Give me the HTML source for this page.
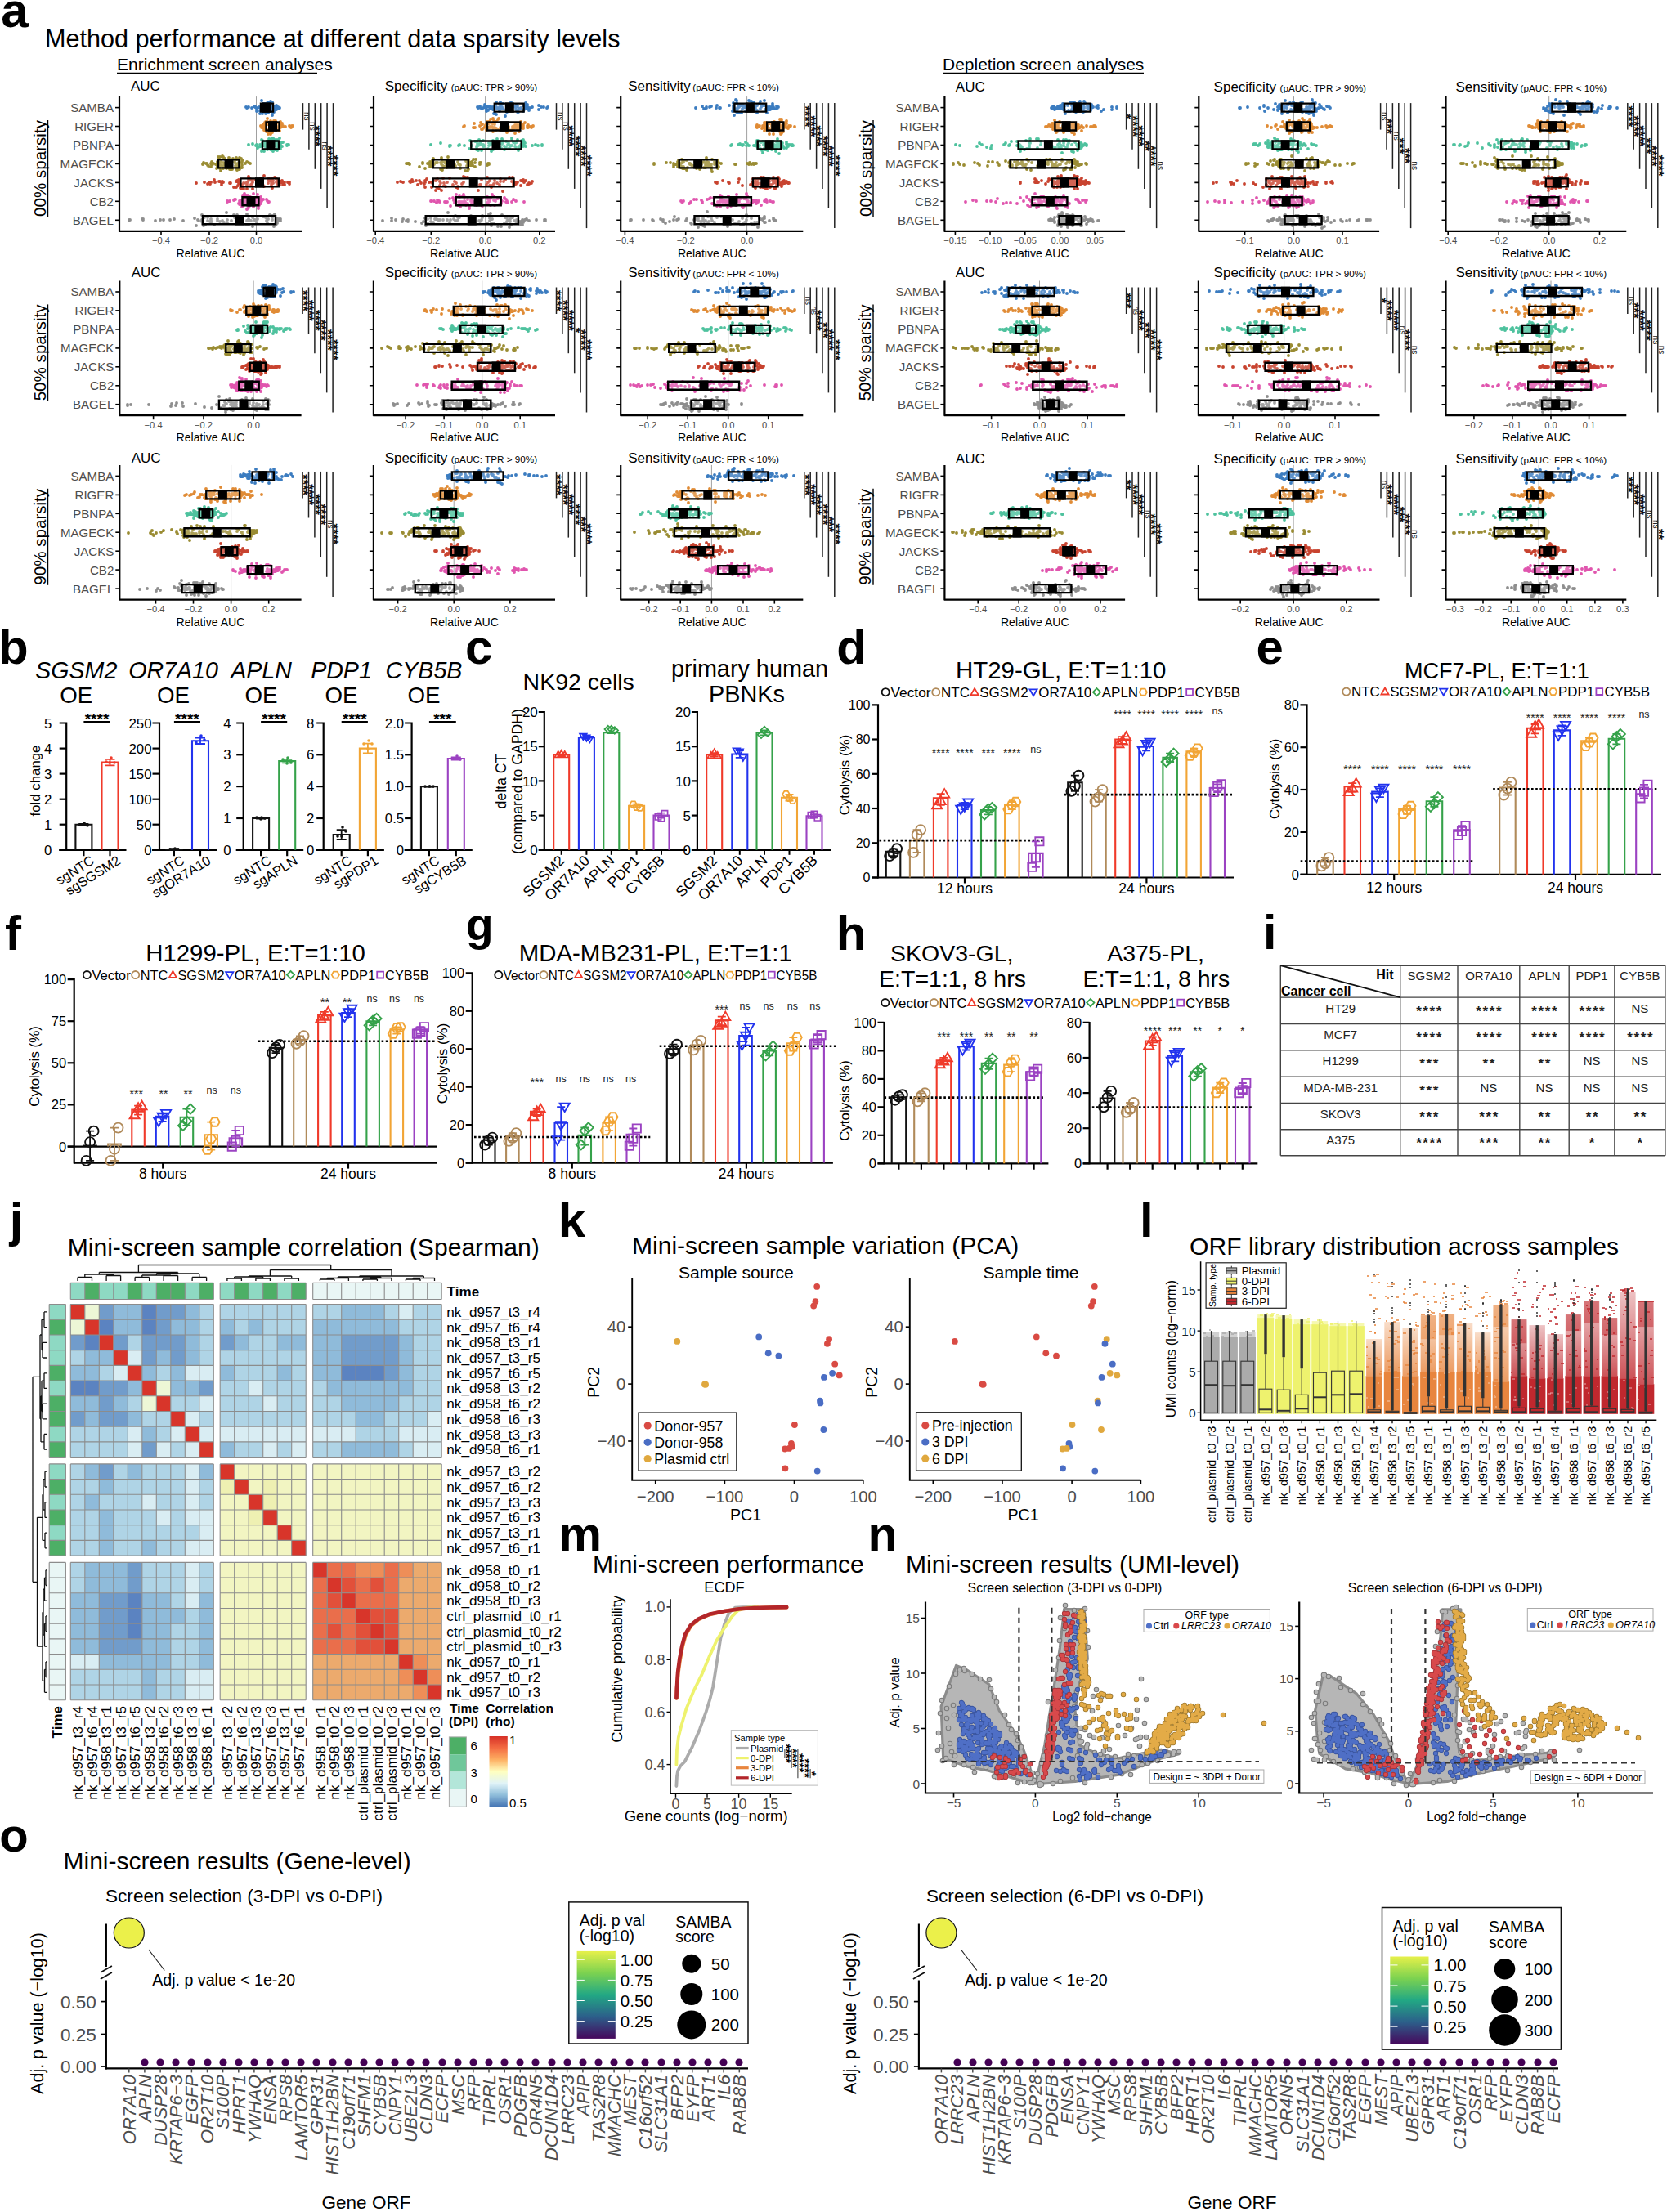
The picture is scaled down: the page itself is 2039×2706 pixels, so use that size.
<!DOCTYPE html>
<html><head><meta charset="utf-8"><style>
html,body{margin:0;padding:0;background:#fff;}
svg{display:block;font-family:'Liberation Sans', Arial, Helvetica, sans-serif;}
</style></head><body>
<svg width="2039" height="2706" viewBox="0 0 2039 2706">
<rect width="2039" height="2706" fill="#fff"/>
<text x="1.2" y="33.4" font-size="60" font-weight="bold">a</text>
<text x="55" y="57.5" font-size="30.6">Method performance at different data sparsity levels</text>
<text x="143" y="86" font-size="21">Enrichment screen analyses</text>
<path d="M143 89.5H388" stroke="#000" stroke-width="1.4"/>
<text x="1153" y="86" font-size="21">Depletion screen analyses</text>
<path d="M1153 89.5H1399" stroke="#000" stroke-width="1.4"/>
<text x="160" y="110.8" font-size="17">AUC</text>
<path d="M313.5 118.1V282.8" stroke="#A0A0A0" stroke-width="1"/>
<path d="M328 125h0m-1 1h0m-2 8h0m7-1h0m-28-2h0m26-4h0m0 3h0m-10-1h0m10 4h0m2 1h0m-18-1h0m13 3h0m-19-4h0m26-1h0m-1 10h0m-3-16h0m-5 8h0m6-7h0m3 9h0m-4 0h0m-6-4h0m2-1h0m12 3h0m-4 5h0m-12-6h0m2-1h0m1 0h0m10-1h0m-7 8h0m-3-8h0m-7 6h0m3-4h0m15-1h0m4 0h0m1 2h0m-29-2h0m11 5h0m12 1h0m-11-10h0m13 6h0m-4 4h0m-4-8h0m-15 7h0m11 3h0m9-6h0m-9 6h0m-7 0h0m6-11h0m-2 8h0m10-6h0m0-5h0m-5 2h0m9 5h0m-25-2h0m27 4h0m-6-2h0m-11 7h0m15-7h0m-19-1h0m11 6h0m5-12h0m-32 6h0m34 0h0m-11 1h0m-2-3h0m5 9h0m-3-4h0m7 1h0m3-2h0m-14-10h0m-1 10h0m-4-1h0m13-2h0m-2 0h0m-14 0h0m12 5h0m7-11h0m0 6h0m5 5h0m-14-6h0m-2 1h0m19 1h0m-17 0h0m16-2h0m-15 1h0m6-3h0m-7 0h0m10 9h0m-30-4h0m40 0h0" stroke="#3B7CC0" stroke-width="3.9" stroke-linecap="round" fill="none"/>
<path d="M337 148h0m-17 8h0m23-1h0m12 0h0m-11-2h0m-9 2h0m-8-10h0m22 10h0m-25-4h0m17 3h0m-1 2h0m-8 1h0m1-6h0m12 4h0m-10-7h0m-12 11h0m7-1h0m5-1h0m22-2h0m-33-5h0m6 3h0m-9 2h0m36-1h0m-14-1h0m-10 5h0m-9-3h0m18 5h0m7-5h0m-29 0h0m5-1h0m16-3h0m-13 1h0m-3-3h0m-1 5h0m8-3h0m14 3h0m-16-4h0m9 8h0m-8-5h0m12-4h0m-21 3h0m34 4h0m-20 2h0m18-4h0m-28 7h0m6-4h0m3-1h0m-7-4h0m29 3h0m-15-1h0m-15-3h0m-3 2h0m-4 3h0m5 1h0m1 4h0m5-3h0m-2 0h0m4 4h0m25-8h0m-15 2h0m-13-6h0m-5 8h0m16-4h0m-3-3h0m-15 7h0m10 0h0m12-7h0m-8 2h0m4 4h0m-10 7h0m0-10h0m10 6h0m-11-8h0m6 2h0m-8 10h0m-4-13h0m0 3h0m32 1h0m-34-2h0m9-5h0m-1 13h0m11-4h0m0-1h0m-9 6h0m-13-8h0m24 2h0m-14-4h0m-2-3h0m-7 6h0m38-1h0" stroke="#E08B35" stroke-width="3.9" stroke-linecap="round" fill="none"/>
<path d="M334 178h0m2 0h0m-13-3h0m-9 2h0m30-3h0m-13 2h0m-10 1h0m18-6h0m-14 3h0m-10 7h0m18 3h0m-12 0h0m-12-8h0m34-1h0m-17-2h0m-12 5h0m-1 0h0m23-2h0m-11 3h0m15-2h0m-11 0h0m-4 1h0m21-4h0m-26 11h0m23-3h0m0 0h0m-7-11h0m-14 7h0m13-1h0m-1 4h0m-12-3h0m19 1h0m1-3h0m0-1h0m-8-6h0m5 10h0m-8-7h0m6 2h0m-17 3h0m14 1h0m-9 3h0m8 3h0m-6-4h0m-4 5h0m-2-7h0m11-8h0m-13 9h0m24-3h0m-2 2h0m4 1h0m-16-7h0m22 6h0m-14 0h0m6 0h0m-9 7h0m-13-13h0m18 12h0m12-7h0m-24 1h0m-7-7h0m9-1h0m10 1h0m1 8h0m13-2h0m-21 5h0m11-6h0m-25 1h0m17-1h0m16 2h0m-14-3h0m-3-5h0m-3 13h0m-6-3h0m11-7h0m-2 4h0m-2 4h0m-6-6h0m-5 0h0m23 4h0m-6 3h0m-11 1h0m-11-3h0m21-5h0m2 0h0m-4-1h0m7-5h0m-6 14h0m-2-9h0m-30 3h0m48 0h0" stroke="#4EC29E" stroke-width="3.9" stroke-linecap="round" fill="none"/>
<path d="M291 200h0m-8-1h0m-24 3h0m31 3h0m10-5h0m-22 5h0m-3-5h0m15-5h0m-30 6h0m23 6h0m6-3h0m3-5h0m-22 3h0m-4-3h0m7 4h0m11 4h0m-16-8h0m32 1h0m-34 3h0m-2-2h0m-12-1h0m21-8h0m2 8h0m-5 9h0m22-7h0m1-9h0m-27 5h0m-1 8h0m27-1h0m12-6h0m-35 7h0m7-6h0m1 0h0m-25 0h0m44-1h0m-7-6h0m7 12h0m-29-1h0m1-4h0m-7 0h0m-9 0h0m36 3h0m-14-1h0m-19 1h0m20-9h0m15 13h0m-1-5h0m-19 0h0m11 5h0m10-6h0m-18-2h0m-14 0h0m47 1h0m-17 7h0m-7-8h0m-2-6h0m-13-1h0m2 0h0m33 6h0m-53 1h0m17 4h0m19-9h0m-6 7h0m-26-1h0m20 6h0m22-12h0m1 8h0m-1-3h0m-5 9h0m-10-9h0m13 6h0m2 0h0m1-8h0m-42 5h0m16-4h0m27-2h0m-39 8h0m29-6h0m-18 3h0m8 5h0m12-11h0m-17-4h0m-13 7h0m34 9h0m-14-8h0m9 1h0m-30 0h0m1 2h0m-11-1h0m58-1h0" stroke="#9A8C33" stroke-width="3.9" stroke-linecap="round" fill="none"/>
<path d="M323 228h0m-14 3h0m-52-7h0m34 3h0m-20-3h0m38-1h0m14-8h0m-4 3h0m23 5h0m6 0h0m-79-1h0m67-5h0m-30 2h0m6 1h0m-18 10h0m10-9h0m38 5h0m-47 0h0m-39-3h0m82-4h0m-66 3h0m71 0h0m-39-3h0m43 4h0m-85-3h0m77 3h0m-89 0h0m41-1h0m12 1h0m50 0h0m-55 8h0m34-8h0m-42-2h0m2 3h0m42 0h0m5-3h0m-35-2h0m29-1h0m-79 7h0m85-4h0m-50 1h0m65 3h0m-22 2h0m-31-3h0m3-8h0m44 10h0m-80-4h0m64 3h0m-2-4h0m-59 5h0m60-5h0m-23 0h0m24 4h0m-69-2h0m41-2h0m25-3h0m-56 5h0m-15 0h0m35-1h0m-4 7h0m18-3h0m39 0h0m-89-1h0m39 2h0m45-5h0m4 1h0m-63 1h0m56-1h0m-30 2h0m-13 5h0m-14-6h0m21 7h0m40-7h0m-14-4h0m14 2h0m-9 8h0m1-9h0m-48 8h0m36-2h0m23-6h0m-41-3h0m24 6h0m-30 0h0m41 1h0m-37 1h0m43-4h0m-53-2h0m60 3h0m-112 1h0m114-1h0" stroke="#C8432F" stroke-width="3.9" stroke-linecap="round" fill="none"/>
<path d="M295 246h0m25 0h0m-4 6h0m-13 3h0m14-12h0m-39 3h0m15 4h0m2-4h0m-7-2h0m13-5h0m2 5h0m-4-4h0m12 2h0m7 3h0m-22 8h0m5-5h0m19-4h0m-23 3h0m1 2h0m4-9h0m-3 7h0m4-2h0m-5-1h0m29 2h0m-12-1h0m4 4h0m-15 5h0m-9-9h0m7-2h0m14 5h0m-17-11h0m-4 13h0m8-1h0m15-1h0m1-7h0m-2 10h0m-16-2h0m-5-2h0m23 0h0m-19-6h0m4-1h0m-10 6h0m-1 2h0m18-1h0m4-1h0m-22 0h0m10 3h0m-1-4h0m5 3h0m15-4h0m-12-7h0m19 10h0m-24 5h0m5 1h0m6-4h0m-19-5h0m0-5h0m19 16h0m-16-12h0m-2 2h0m8-4h0m10 9h0m-2-5h0m1 4h0m-3-4h0m-10 11h0m27-9h0m-14-4h0m-29 2h0m8 3h0m5-1h0m1-4h0m18 6h0m-18-3h0m0 1h0m1-2h0m14-7h0m-34 8h0m45-2h0m-23-5h0m8 6h0m5 9h0m-18-3h0m-6-2h0m-5-5h0m-9 3h0m34 0h0m-3-5h0m-31 4h0m50 1h0" stroke="#E055AE" stroke-width="3.9" stroke-linecap="round" fill="none"/>
<path d="M302 270h0m36-1h0m-5-3h0m6 3h0m-164 0h0m131 1h0m-34 0h0m21-1h0m-46-6h0m62 3h0m27-4h0m6 8h0m-33 7h0m-119-7h0m122-1h0m-1 0h0m-33 0h0m-54 1h0m63-4h0m-38 10h0m55-1h0m-129-7h0m63-1h0m20 1h0m75-4h0m5 10h0m-55-4h0m-33-4h0m-50 3h0m96-2h0m-19-7h0m-30 11h0m39-8h0m-32 7h0m71-4h0m2 6h0m13-4h0m-93 1h0m-89 0h0m132-6h0m14 5h0m24 0h0m-169 1h0m95-3h0m3 5h0m-44-3h0m125 0h0m-60 5h0m-31-3h0m92 3h0m-65-1h0m66-2h0m-89 5h0m82-6h0m-85 3h0m-5-2h0m92 7h0m-28-7h0m-29-1h0m-104-1h0m95 3h0m69-3h0m-98 8h0m2-7h0m24 1h0m60 0h0m17 0h0m-28-2h0m-13-6h0m-94 7h0m93 6h0m-42-4h0m-11 3h0m74-9h0m-126 4h0m63 2h0m3 4h0m78-7h0m0 2h0m-36-1h0m39-1h0m-5-1h0m-26 3h0m2 2h0m16-9h0m-64 5h0m25 2h0m-33-2h0m-100 2h0m184-2h0" stroke="#8E8E8E" stroke-width="3.9" stroke-linecap="round" fill="none"/>
<path d="M319 126.6h15v10h-15zM325.5 149.5h16.1v10h-16.1zM321 172.5h20v10h-20zM267 195.4h25.4v10h-25.4zM294.4 218.4h46.4v10h-46.4zM296.5 241.3h19.9v10h-19.9zM248 264.3h89v10h-89z" stroke="#000" stroke-width="2.4" fill="#fff" fill-opacity="0.18"/>
<path d="M321 125.4h11v12.4h-11zM328 148.3h11v12.4h-11zM325.5 171.3h11v12.4h-11zM274.5 194.2h11v12.4h-11zM312 217.2h11v12.4h-11zM301.5 240.2h11v12.4h-11zM287 263.1h11v12.4h-11z" fill="#000"/>
<path d="M146 118.1V283.4M145.4 282.8H369" stroke="#000" stroke-width="2.2"/>
<path d="M141 131.6H146" stroke="#000" stroke-width="1.6"/>
<text x="139" y="137" font-size="15.1" text-anchor="end" fill="#4D4D4D">SAMBA</text>
<path d="M141 154.5H146" stroke="#000" stroke-width="1.6"/>
<text x="139" y="159.9" font-size="15.1" text-anchor="end" fill="#4D4D4D">RIGER</text>
<path d="M141 177.5H146" stroke="#000" stroke-width="1.6"/>
<text x="139" y="182.9" font-size="15.1" text-anchor="end" fill="#4D4D4D">PBNPA</text>
<path d="M141 200.4H146" stroke="#000" stroke-width="1.6"/>
<text x="139" y="205.8" font-size="15.1" text-anchor="end" fill="#4D4D4D">MAGECK</text>
<path d="M141 223.4H146" stroke="#000" stroke-width="1.6"/>
<text x="139" y="228.8" font-size="15.1" text-anchor="end" fill="#4D4D4D">JACKS</text>
<path d="M141 246.3H146" stroke="#000" stroke-width="1.6"/>
<text x="139" y="251.8" font-size="15.1" text-anchor="end" fill="#4D4D4D">CB2</text>
<path d="M141 269.3H146" stroke="#000" stroke-width="1.6"/>
<text x="139" y="274.7" font-size="15.1" text-anchor="end" fill="#4D4D4D">BAGEL</text>
<path d="M197 282.8V287.8" stroke="#000" stroke-width="1.6"/>
<text x="197" y="298.3" font-size="11.2" text-anchor="middle" fill="#4D4D4D">−0.4</text>
<path d="M256 282.8V287.8" stroke="#000" stroke-width="1.6"/>
<text x="256" y="298.3" font-size="11.2" text-anchor="middle" fill="#4D4D4D">−0.2</text>
<path d="M313.5 282.8V287.8" stroke="#000" stroke-width="1.6"/>
<text x="313.5" y="298.3" font-size="11.2" text-anchor="middle" fill="#4D4D4D">0.0</text>
<text x="257.5" y="314.8" font-size="14.1" text-anchor="middle">Relative AUC</text>
<path d="M370.5 126.1V158.6" stroke="#222" stroke-width="1.5"/>
<text x="371.7" y="142.3" font-size="10" text-anchor="middle" fill="#222" transform="rotate(90 371.7 142.3)">ns</text>
<path d="M377.9 126.1V182.7" stroke="#222" stroke-width="1.5"/>
<text x="379.1" y="154.4" font-size="10" text-anchor="middle" fill="#222" transform="rotate(90 379.1 154.4)">ns</text>
<path d="M385.3 126.1V206.8" stroke="#222" stroke-width="1.5"/>
<text x="380.1" y="166.4" font-size="16.5" text-anchor="middle" fill="#111" font-weight="bold" transform="rotate(90 380.1 166.4)">****</text>
<path d="M392.7 126.1V230.9" stroke="#222" stroke-width="1.5"/>
<text x="393.9" y="178.5" font-size="10" text-anchor="middle" fill="#222" transform="rotate(90 393.9 178.5)">ns</text>
<path d="M400.1 126.1V255" stroke="#222" stroke-width="1.5"/>
<text x="394.9" y="190.6" font-size="16.5" text-anchor="middle" fill="#111" font-weight="bold" transform="rotate(90 394.9 190.6)">****</text>
<path d="M407.5 126.1V279.1" stroke="#222" stroke-width="1.5"/>
<text x="402.3" y="202.6" font-size="16.5" text-anchor="middle" fill="#111" font-weight="bold" transform="rotate(90 402.3 202.6)">****</text>
<text x="470.7" y="110.8" font-size="17">Specificity</text>
<text x="551.7" y="110.8" font-size="11.7">(pAUC: TPR &gt; 90%)</text>
<path d="M593.6 118.1V282.8" stroke="#A0A0A0" stroke-width="1"/>
<path d="M606 130h0m8 1h0m-15 2h0m33 2h0m15-2h0m-39-1h0m34 0h0m-36-1h0m28 6h0m-30-3h0m38-3h0m-39 3h0m34-2h0m-42 4h0m6-4h0m1-1h0m49 0h0m-11 4h0m-15-5h0m-14 4h0m31-4h0m-31-3h0m26 6h0m-50-3h0m38-5h0m15 11h0m5-8h0m-40 2h0m43 2h0m-5-6h0m-37 2h0m5 8h0m-21-3h0m42-5h0m1 2h0m-26 10h0m38-10h0m-40 1h0m6-3h0m33 4h0m-40 7h0m11-12h0m-8-2h0m28 8h0m-23 0h0m3 0h0m-10 5h0m14-4h0m-8-3h0m1-3h0m8 9h0m-35-5h0m24 1h0m13-1h0m-26-2h0m46-1h0m-47 4h0m12-1h0m-8-2h0m44 1h0m-25 11h0m-21-7h0m46-2h0m-51-2h0m67-2h0m0 5h0m-26 3h0m8-3h0m3-1h0m-31-2h0m34 4h0m15-4h0m-16 2h0m-48-3h0m-3 1h0m36 2h0m-1-2h0m-37-3h0m37 2h0m35 1h0m5 0h0m-58-6h0m-5 6h0m33-2h0m2 4h0m-48-1h0m43 0h0m-49 0h0m-4-1h0m85 1h0" stroke="#3B7CC0" stroke-width="3.9" stroke-linecap="round" fill="none"/>
<path d="M646 153h0m-9-4h0m-22 10h0m-16-4h0m48 0h0m-2-1h0m-11 0h0m-37 2h0m18-4h0m-24 5h0m14-5h0m-9-3h0m39 8h0m-36-1h0m-9 2h0m12-3h0m38 2h0m-21 2h0m-21-8h0m47 5h0m-5-3h0m-18 2h0m16-1h0m-9 3h0m-26 4h0m-22-5h0m65 0h0m-67 0h0m40 2h0m-9 0h0m-30-7h0m37 0h0m10 4h0m-34 0h0m10 2h0m39-7h0m-38-2h0m36 7h0m-5 6h0m-40-7h0m37 0h0m-26-5h0m-1 7h0m25 7h0m16-8h0m-29 3h0m-10-1h0m8-5h0m-21 1h0m-27 2h0m31-6h0m12-4h0m42 9h0m-18 0h0m-31-9h0m-8 14h0m30 1h0m-14-1h0m-9-8h0m29 3h0m-44 0h0m-6 2h0m55-5h0m-47 7h0m11-12h0m-5 5h0m37 6h0m-20-1h0m26 0h0m-18 6h0m15-3h0m-5-6h0m-21-7h0m26 8h0m-47-4h0m19 9h0m-17-7h0m41 3h0m-11 1h0m7 2h0m23-2h0m-18-3h0m-36 3h0m11-7h0m43 6h0m-11-2h0m-16 6h0m26-4h0m-81-1h0m82 1h0" stroke="#E08B35" stroke-width="3.9" stroke-linecap="round" fill="none"/>
<path d="M585 178h0m41 0h0m10 2h0m-17-7h0m21 4h0m15 0h0m-72-4h0m68 5h0m-48-6h0m-2 13h0m-20-12h0m2 6h0m-44-4h0m96 4h0m-20-7h0m-31 4h0m-33 2h0m57-8h0m-25 10h0m5-7h0m34 2h0m-30 4h0m-42 0h0m41-2h0m10-2h0m0 1h0m38-2h0m-4 5h0m6-6h0m-38 10h0m-41-6h0m12 5h0m34-4h0m24-4h0m-47 10h0m58-5h0m-15-5h0m-37-2h0m-14 6h0m-16 0h0m77-6h0m-63 0h0m17 6h0m22-8h0m10 9h0m-11-4h0m15-1h0m-42 2h0m77 1h0m-53 0h0m9 5h0m16-2h0m-18-1h0m23-8h0m-25 4h0m11-5h0m-2 8h0m6 1h0m11-3h0m-18 5h0m-73-3h0m48-3h0m-7 4h0m30-2h0m-13-3h0m50 4h0m-18 1h0m-6 5h0m-36-6h0m5-6h0m-6 10h0m16-1h0m-25-5h0m16 0h0m-21 7h0m6 1h0m25-8h0m19-5h0m-2 9h0m-1-5h0m-18 0h0m14-6h0m-7 11h0m-51-2h0m49 5h0m25-8h0m-56-4h0m51 6h0m-110 0h0m136 1h0" stroke="#4EC29E" stroke-width="3.9" stroke-linecap="round" fill="none"/>
<path d="M561 201h0m-12-1h0m-25 0h0m-4 6h0m28-4h0m25-6h0m-30 9h0m5-13h0m12 6h0m-3 5h0m-24-4h0m-4-3h0m52 8h0m-18-2h0m-34 2h0m15 0h0m-17-2h0m36 4h0m6 3h0m2-11h0m-30-1h0m-28 7h0m59 5h0m4-7h0m-59-3h0m54 4h0m16-2h0m-6-2h0m-5 1h0m-34 3h0m12-7h0m16 1h0m-69 4h0m73 1h0m-35 5h0m2 1h0m-11-6h0m-2-1h0m-2 3h0m46-4h0m3-1h0m-58 1h0m56 2h0m-1 3h0m-42-11h0m67 6h0m-41 4h0m-12-5h0m4-1h0m-23 3h0m5 1h0m58-3h0m-89 1h0m71-4h0m-41 7h0m17-1h0m-1-5h0m0 2h0m-15-3h0m16 9h0m-5-7h0m15 3h0m22 1h0m-38-1h0m35-2h0m12 0h0m-47-6h0m-16 7h0m7 1h0m8-2h0m-16 1h0m54-2h0m-42 1h0m-9-1h0m70 4h0m-96-2h0m79-5h0m19 5h0m-46 1h0m5 3h0m-28-5h0m44 3h0m-27-1h0m-11-2h0m28 3h0m10 5h0m-27-6h0m36-6h0m-85 5h0m101 1h0" stroke="#9A8C33" stroke-width="3.9" stroke-linecap="round" fill="none"/>
<path d="M540 233h0m93-10h0m12 3h0m-144-4h0m34-3h0m92-2h0m-1 5h0m-88 0h0m-35 0h0m12 2h0m5 5h0m-9-3h0m23 3h0m5-5h0m104-3h0m-47-4h0m27 0h0m-5 3h0m-29 0h0m-31 9h0m-68-7h0m138 3h0m-100 4h0m103-6h0m0 2h0m-64-2h0m35 4h0m-69 6h0m79-11h0m-36-2h0m35 6h0m26 1h0m-92 1h0m-16-4h0m59 2h0m53-3h0m-36-2h0m-1 4h0m-39 0h0m-72-2h0m11-3h0m-2 3h0m113 11h0m-72-7h0m-10-6h0m79-2h0m-65 4h0m7 3h0m-26-3h0m10 4h0m70-3h0m-36-7h0m27 10h0m-39 3h0m7-14h0m-58 5h0m78 5h0m-44-2h0m-18-1h0m91-1h0m-97 3h0m66 8h0m-35-15h0m-13 13h0m32-14h0m82 5h0m-129-3h0m-17 3h0m25-1h0m110-1h0m-120 3h0m81 6h0m46-5h0m-9-3h0m-80 3h0m39-1h0m-84-2h0m124 0h0m-81 1h0m-54 0h0m58 6h0m35-2h0m-53-8h0m86 9h0m-106-8h0m-2 2h0m127 4h0m-48-4h0m-113 2h0m164 1h0" stroke="#C8432F" stroke-width="3.9" stroke-linecap="round" fill="none"/>
<path d="M534 248h0m28-9h0m37 7h0m-27-2h0m34 2h0m11-4h0m-73 5h0m53 1h0m-20-3h0m-50 1h0m40-8h0m-30 8h0m35 3h0m47-2h0m-57 2h0m15-5h0m23-1h0m-43 3h0m3 5h0m44-6h0m-48 3h0m41-4h0m-47-1h0m0 0h0m11 4h0m52 2h0m-36 0h0m-12-2h0m31-6h0m-17 8h0m30-6h0m22 3h0m-3-2h0m-16 5h0m-77-3h0m0 1h0m-4-1h0m51 1h0m-8 8h0m47-7h0m10-2h0m-5 1h0m-89-1h0m1 1h0m16-5h0m48-4h0m17 6h0m1 2h0m-73 1h0m-12-2h0m34 2h0m16-5h0m19-2h0m7 10h0m-5-5h0m-38-4h0m11 6h0m-11-1h0m-10-8h0m10 11h0m-23-2h0m43 1h0m-25 5h0m13-8h0m0 1h0m38 0h0m-24 6h0m-3-7h0m-13 8h0m26-2h0m-1-6h0m1-2h0m-49 9h0m54-1h0m-9-3h0m32-4h0m-62-4h0m-4 7h0m1 0h0m-8-2h0m35-3h0m-20 9h0m50-3h0m-37 1h0m-21-8h0m50 1h0m-29 9h0m-20-2h0m-35-3h0m113 1h0" stroke="#E055AE" stroke-width="3.9" stroke-linecap="round" fill="none"/>
<path d="M551 269h0m9-3h0m29 3h0m-62 2h0m-30-1h0m123 1h0m-58-5h0m36-4h0m-38 7h0m-52 2h0m159-1h0m-30 5h0m-2-4h0m-97-2h0m-2 0h0m-20 4h0m88 0h0m10-10h0m53 6h0m-44 9h0m-139-9h0m141 6h0m-35-9h0m0-2h0m-63 3h0m21-7h0m29 7h0m9 3h0m13-3h0m-120 0h0m168 3h0m-90-6h0m67 7h0m16 1h0m-39 4h0m55-7h0m-138 2h0m102-4h0m-19 9h0m36-5h0m-90-2h0m-68 1h0m76-2h0m46 5h0m-25-9h0m90 6h0m-90-4h0m-34 3h0m80 1h0m7 0h0m10 5h0m-140-6h0m141 1h0m-9 1h0m-18 6h0m4-4h0m-17-12h0m18 5h0m3 4h0m12 3h0m-83-1h0m74-7h0m-101 8h0m0-5h0m76 2h0m37 4h0m-4-5h0m4 4h0m-9-7h0m-135 5h0m65-1h0m81 2h0m-14-4h0m-94 4h0m72-4h0m-109 0h0m149 1h0m-46 4h0m-62-5h0m-2 0h0m112 0h0m-145 3h0m88 0h0m-67-4h0m-2 4h0m121-2h0m-30 8h0m-88-1h0m-53-6h0m198-1h0" stroke="#8E8E8E" stroke-width="3.9" stroke-linecap="round" fill="none"/>
<path d="M604.8 126.6h35.8v10h-35.8zM596 149.5h40.4v10h-40.4zM576.3 172.5h61.4v10h-61.4zM529.7 195.4h43.1v10h-43.1zM529.7 218.4h98.8v10h-98.8zM557.7 241.3h55v10h-55zM520.7 264.3h113.2v10h-113.2z" stroke="#000" stroke-width="2.4" fill="#fff" fill-opacity="0.18"/>
<path d="M617.8 125.4h11v12.4h-11zM611.1 148.3h11v12.4h-11zM601.5 171.3h11v12.4h-11zM545.8 194.2h11v12.4h-11zM573.7 217.2h11v12.4h-11zM579.5 240.2h11v12.4h-11zM571.8 263.1h11v12.4h-11z" fill="#000"/>
<path d="M457 118.1V283.4M456.4 282.8H679" stroke="#000" stroke-width="2.2"/>
<path d="M452 131.6H457M452 154.5H457M452 177.5H457M452 200.4H457M452 223.4H457M452 246.3H457M452 269.3H457M459.2 282.8V287.8" stroke="#000" stroke-width="1.6"/>
<text x="459.2" y="298.3" font-size="11.2" text-anchor="middle" fill="#4D4D4D">−0.4</text>
<path d="M527.3 282.8V287.8" stroke="#000" stroke-width="1.6"/>
<text x="527.3" y="298.3" font-size="11.2" text-anchor="middle" fill="#4D4D4D">−0.2</text>
<path d="M593.6 282.8V287.8" stroke="#000" stroke-width="1.6"/>
<text x="593.6" y="298.3" font-size="11.2" text-anchor="middle" fill="#4D4D4D">0.0</text>
<path d="M659.8 282.8V287.8" stroke="#000" stroke-width="1.6"/>
<text x="659.8" y="298.3" font-size="11.2" text-anchor="middle" fill="#4D4D4D">0.2</text>
<text x="568" y="314.8" font-size="14.1" text-anchor="middle">Relative AUC</text>
<path d="M680.5 126.1V158.6" stroke="#222" stroke-width="1.5"/>
<text x="681.7" y="142.3" font-size="10" text-anchor="middle" fill="#222" transform="rotate(90 681.7 142.3)">ns</text>
<path d="M687.9 126.1V182.7" stroke="#222" stroke-width="1.5"/>
<text x="689.1" y="154.4" font-size="10" text-anchor="middle" fill="#222" transform="rotate(90 689.1 154.4)">ns</text>
<path d="M695.3 126.1V206.8" stroke="#222" stroke-width="1.5"/>
<text x="690.1" y="166.4" font-size="16.5" text-anchor="middle" fill="#111" font-weight="bold" transform="rotate(90 690.1 166.4)">****</text>
<path d="M702.7 126.1V230.9" stroke="#222" stroke-width="1.5"/>
<text x="697.5" y="178.5" font-size="16.5" text-anchor="middle" fill="#111" font-weight="bold" transform="rotate(90 697.5 178.5)">****</text>
<path d="M710.1 126.1V255" stroke="#222" stroke-width="1.5"/>
<text x="704.9" y="190.6" font-size="16.5" text-anchor="middle" fill="#111" font-weight="bold" transform="rotate(90 704.9 190.6)">****</text>
<path d="M717.5 126.1V279.1" stroke="#222" stroke-width="1.5"/>
<text x="712.3" y="202.6" font-size="16.5" text-anchor="middle" fill="#111" font-weight="bold" transform="rotate(90 712.3 202.6)">****</text>
<text x="768.2" y="110.8" font-size="17">Sensitivity</text>
<text x="847.3" y="110.8" font-size="11.7">(pAUC: FPR &lt; 10%)</text>
<path d="M913.6 118.1V282.8" stroke="#A0A0A0" stroke-width="1"/>
<path d="M861 133h0m7-2h0m67-8h0m-27 10h0m33-2h0m-37 7h0m3 0h0m0-9h0m31 2h0m-12 4h0m-45-3h0m51-3h0m-35 3h0m19-9h0m-6 7h0m-10 4h0m46-3h0m-8 1h0m-29 0h0m27 2h0m-34 0h0m47-1h0m-90-3h0m42-4h0m0-3h0m5 5h0m36 6h0m-12-1h0m-21-4h0m13-4h0m-8 7h0m26 2h0m-16-2h0m-15-2h0m-9-8h0m12 9h0m12 0h0m10-3h0m8 3h0m-4 7h0m-36-6h0m27-5h0m-31 5h0m16 0h0m-38 0h0m25 4h0m-3 5h0m32-17h0m15 4h0m-11 1h0m-33 8h0m-37-6h0m42 7h0m32-4h0m7-7h0m-14 4h0m-34-5h0m-1 10h0m17-4h0m6-8h0m19 10h0m-16-1h0m-30-4h0m59 3h0m-54-2h0m10 7h0m40-4h0m-67-1h0m46 6h0m-14-2h0m31-4h0m1 0h0m-30-1h0m-5 0h0m-12 2h0m7-2h0m36 0h0m-4-2h0m6 2h0m8-1h0m-8 1h0m-78 1h0m81-3h0m-21 4h0m2-4h0m-56 1h0m7-1h0m26 0h0m-52 3h0m101-1h0" stroke="#3B7CC0" stroke-width="3.9" stroke-linecap="round" fill="none"/>
<path d="M956 155h0m-4-4h0m-14 2h0m6 5h0m10 2h0m-29-5h0m20 4h0m-12-5h0m23-8h0m-9 3h0m-3 4h0m13 5h0m-20-6h0m21 2h0m4-6h0m-23 8h0m-2-6h0m30 4h0m-30 2h0m17-3h0m2-5h0m-10 7h0m11-1h0m-22-3h0m1 8h0m21-5h0m-20-2h0m17 3h0m-19 5h0m29-3h0m-19 2h0m-3-1h0m19-8h0m-26 0h0m4 2h0m23 4h0m3-2h0m-4-1h0m-33 2h0m26-9h0m-3 11h0m8-5h0m-26 3h0m25-2h0m1 3h0m-30-2h0m3 3h0m-5-2h0m8 2h0m24-5h0m-18-1h0m18 4h0m-18 9h0m18-12h0m-5 9h0m-9-7h0m8 1h0m4 2h0m-13-3h0m14 7h0m-12-2h0m3-7h0m-10 7h0m12-3h0m4 8h0m-1-9h0m-5-4h0m7 12h0m-17-10h0m14-3h0m-27 3h0m20 11h0m12-3h0m-3-3h0m-22-2h0m0-1h0m3-1h0m13 2h0m9 1h0m-1-3h0m-5 4h0m-12-7h0m-5 3h0m5 3h0m1 0h0m21-6h0m-28 5h0m12 0h0m-20 0h0m46-1h0" stroke="#E08B35" stroke-width="3.9" stroke-linecap="round" fill="none"/>
<path d="M946 180h0m13 1h0m-2-6h0m-22 6h0m21-4h0m-14 2h0m-47-2h0m51-4h0m9 0h0m-27 8h0m5 6h0m31-10h0m-1 0h0m-7-1h0m0 2h0m-12 5h0m-18-11h0m32 7h0m-17-3h0m29 2h0m-64-1h0m20 0h0m-18 1h0m41 3h0m6-3h0m-16-2h0m14 2h0m9-2h0m-26 7h0m-14-5h0m10 6h0m19-7h0m6-2h0m-31 2h0m8-4h0m1 3h0m19 1h0m-27-5h0m-11 6h0m35 2h0m-12 4h0m-34-8h0m50 5h0m-42-3h0m30-3h0m9 3h0m-38-2h0m25 8h0m7-6h0m5-8h0m0 4h0m-2 11h0m15-6h0m-7-1h0m-29 2h0m25 8h0m-44-11h0m25 0h0m4-3h0m10 4h0m-6 4h0m5-5h0m-9-1h0m-12 3h0m40-2h0m-4-3h0m-32 8h0m-3-8h0m-4 4h0m31 1h0m-51-2h0m33 0h0m19 3h0m-22-7h0m29 8h0m-20-6h0m8 2h0m3-3h0m16 3h0m-23 3h0m10-3h0m-6-3h0m-38 0h0m15 7h0m12-6h0m-10 3h0m2-4h0m-6 1h0m-31 3h0m74 0h0" stroke="#4EC29E" stroke-width="3.9" stroke-linecap="round" fill="none"/>
<path d="M879 204h0m-1-7h0m-8 4h0m-40-5h0m44 5h0m-4 3h0m-9-6h0m13 0h0m-13 7h0m8-4h0m-25 0h0m19 4h0m-18-4h0m-11-2h0m88 1h0m-67 2h0m-19-4h0m43 1h0m-9 8h0m-50-8h0m10 1h0m10 8h0m15-6h0m-3 4h0m6-5h0m58 0h0m-49-2h0m11-3h0m39 3h0m-73 1h0m75 1h0m2-1h0m-121 1h0m64 2h0m2-4h0m-29-3h0m-3-1h0m44 8h0m-7-8h0m-8 6h0m-39-1h0m32 7h0m-23-2h0m2 0h0m47-5h0m-7 0h0m-51 2h0m22 0h0m78-2h0m-81 0h0m-17 1h0m52 5h0m-12-5h0m-36 3h0m-1 0h0m1-3h0m5 5h0m87-5h0m-22 0h0m-37 2h0m-34-3h0m-5 4h0m17 1h0m-1-9h0m-11 6h0m-14-3h0m20 0h0m27 0h0m2-6h0m-33 7h0m31-1h0m5 5h0m-17-6h0m-14 6h0m12-1h0m26-4h0m-45-1h0m8 8h0m28-8h0m6 12h0m43-10h0m-15 1h0m-40-2h0m58 1h0m-84 3h0m18-2h0m-4 2h0m5 0h0m-52-3h0m125 0h0" stroke="#9A8C33" stroke-width="3.9" stroke-linecap="round" fill="none"/>
<path d="M903 223h0m48-1h0m1 0h0m-21 3h0m4-7h0m17 5h0m-68-2h0m47-4h0m-7 9h0m30-1h0m6-1h0m4-1h0m-3 0h0m-4 1h0m-30 1h0m-9 1h0m29 4h0m-20-6h0m33 0h0m-22 7h0m11-8h0m-6 3h0m-21-3h0m2 3h0m-4-2h0m14-7h0m1 6h0m-14-4h0m25-2h0m3 13h0m-9-5h0m-10 4h0m24-5h0m-8-7h0m-4 12h0m-65-6h0m14 0h0m43-2h0m18-4h0m5 5h0m-17-2h0m-18 8h0m19-6h0m-9 2h0m14-3h0m-23 2h0m7-5h0m21 2h0m1-2h0m-28 12h0m26-10h0m3 5h0m3 3h0m1-3h0m-12-4h0m14 3h0m-35-2h0m3-3h0m23 8h0m-42 0h0m12-4h0m-43 1h0m27-5h0m55 4h0m-10-3h0m-14 3h0m-43 1h0m60-3h0m-32 2h0m39-2h0m3 1h0m-3-1h0m-34 2h0m-4-1h0m29-3h0m15 5h0m-24-5h0m-17 0h0m9 10h0m17-4h0m-30 1h0m33-7h0m-5 1h0m3 6h0m0-2h0m-2-4h0m-13 10h0m10-6h0m-71-1h0m89 1h0" stroke="#C8432F" stroke-width="3.9" stroke-linecap="round" fill="none"/>
<path d="M938 247h0m-51-1h0m38 3h0m-12-5h0m-42 5h0m38 5h0m-44-10h0m26-4h0m13 6h0m38 0h0m-108 1h0m54 3h0m12 1h0m-31-9h0m21 12h0m-17-12h0m-28 5h0m50 2h0m-27-6h0m-19 1h0m66 4h0m-2-11h0m-54 11h0m79-2h0m-53-1h0m30 1h0m-5 4h0m9-2h0m-38 5h0m56-9h0m-56-5h0m42 7h0m-3 1h0m-38-2h0m-23 2h0m65-2h0m-16 8h0m-56-9h0m49-2h0m-19-2h0m11 4h0m-2 3h0m-33-2h0m65 1h0m-42-1h0m29 7h0m-32-5h0m13 0h0m-56 0h0m92 0h0m11-1h0m-26-4h0m-69 7h0m42-4h0m18-1h0m15 5h0m-37-2h0m6 0h0m-52 0h0m68-1h0m32 0h0m-41 6h0m-10-5h0m29-9h0m-30 3h0m23 2h0m22 3h0m-39 0h0m37 0h0m-5 1h0m-11-4h0m-74 3h0m39 4h0m45-4h0m-16 1h0m-4 3h0m22-5h0m-10 5h0m2-10h0m-37 12h0m54-1h0m-30-13h0m44 9h0m-55 3h0m-9-8h0m34 4h0m-8 4h0m-35-1h0m-39-3h0m113 1h0" stroke="#E055AE" stroke-width="3.9" stroke-linecap="round" fill="none"/>
<path d="M799 270h0m41-2h0m34 4h0m-87-3h0m127-4h0m-22 6h0m44 1h0m10-4h0m-19 10h0m-14-15h0m-55 8h0m61-4h0m-65 0h0m-82 2h0m115 1h0m48-3h0m-75 2h0m59 4h0m-59 2h0m-7-6h0m-25 0h0m91-4h0m-80 5h0m91-2h0m-26 3h0m-22-6h0m38 10h0m-106-2h0m85 0h0m-38 1h0m29 3h0m16-2h0m-57-6h0m86 3h0m-12 2h0m24-5h0m-82-10h0m-14 8h0m84-2h0m-116 6h0m93 1h0m-104-4h0m125 0h0m-41 3h0m57-1h0m-103 4h0m-22-5h0m87 3h0m-113-3h0m59 2h0m-46 0h0m115 1h0m-155-3h0m59-1h0m24 10h0m7-4h0m5-9h0m-55 4h0m52 1h0m-6 4h0m35-4h0m54-3h0m-37 8h0m-48-4h0m-7-2h0m49 4h0m5-6h0m-16 4h0m-32 5h0m9-11h0m72 5h0m-81-3h0m49 7h0m-39-7h0m-3 4h0m-1 1h0m11-6h0m56 3h0m-83-1h0m-25-3h0m98 7h0m-61 5h0m9-7h0m25-1h0m33-2h0m-19 6h0m3-4h0m-68 4h0m-74-3h0m176 0h0" stroke="#8E8E8E" stroke-width="3.9" stroke-linecap="round" fill="none"/>
<path d="M898.4 126.6h38.7v10h-38.7zM938.2 149.5h20.1v10h-20.1zM926.7 172.5h28.7v10h-28.7zM830.7 195.4h46v10h-46zM920.9 218.4h30.6v10h-30.6zM873.3 241.3h45.6v10h-45.6zM849.5 264.3h79v10h-79z" stroke="#000" stroke-width="2.4" fill="#fff" fill-opacity="0.18"/>
<path d="M911.9 125.4h11v12.4h-11zM943.2 148.3h11v12.4h-11zM935.5 171.3h11v12.4h-11zM848.2 194.2h11v12.4h-11zM930.3 217.2h11v12.4h-11zM891.4 240.2h11v12.4h-11zM883.7 263.1h11v12.4h-11z" fill="#000"/>
<path d="M759.2 118.1V283.4M758.6 282.8H982.3" stroke="#000" stroke-width="2.2"/>
<path d="M754.2 131.6H759.2M754.2 154.5H759.2M754.2 177.5H759.2M754.2 200.4H759.2M754.2 223.4H759.2M754.2 246.3H759.2M754.2 269.3H759.2M764.4 282.8V287.8" stroke="#000" stroke-width="1.6"/>
<text x="764.4" y="298.3" font-size="11.2" text-anchor="middle" fill="#4D4D4D">−0.4</text>
<path d="M838.7 282.8V287.8" stroke="#000" stroke-width="1.6"/>
<text x="838.7" y="298.3" font-size="11.2" text-anchor="middle" fill="#4D4D4D">−0.2</text>
<path d="M913.6 282.8V287.8" stroke="#000" stroke-width="1.6"/>
<text x="913.6" y="298.3" font-size="11.2" text-anchor="middle" fill="#4D4D4D">0.0</text>
<text x="870.8" y="314.8" font-size="14.1" text-anchor="middle">Relative AUC</text>
<path d="M983.8 126.1V158.6" stroke="#222" stroke-width="1.5"/>
<text x="978.6" y="142.3" font-size="16.5" text-anchor="middle" fill="#111" font-weight="bold" transform="rotate(90 978.6 142.3)">****</text>
<path d="M991.2 126.1V182.7" stroke="#222" stroke-width="1.5"/>
<text x="986" y="154.4" font-size="16.5" text-anchor="middle" fill="#111" font-weight="bold" transform="rotate(90 986 154.4)">****</text>
<path d="M998.6 126.1V206.8" stroke="#222" stroke-width="1.5"/>
<text x="993.4" y="166.4" font-size="16.5" text-anchor="middle" fill="#111" font-weight="bold" transform="rotate(90 993.4 166.4)">****</text>
<path d="M1006 126.1V230.9" stroke="#222" stroke-width="1.5"/>
<text x="1000.8" y="178.5" font-size="16.5" text-anchor="middle" fill="#111" font-weight="bold" transform="rotate(90 1000.8 178.5)">****</text>
<path d="M1013.4 126.1V255" stroke="#222" stroke-width="1.5"/>
<text x="1008.2" y="190.6" font-size="16.5" text-anchor="middle" fill="#111" font-weight="bold" transform="rotate(90 1008.2 190.6)">****</text>
<path d="M1020.8 126.1V279.1" stroke="#222" stroke-width="1.5"/>
<text x="1015.6" y="202.6" font-size="16.5" text-anchor="middle" fill="#111" font-weight="bold" transform="rotate(90 1015.6 202.6)">****</text>
<text x="1168.8" y="112" font-size="17">AUC</text>
<path d="M1296.5 118.1V282.8" stroke="#A0A0A0" stroke-width="1"/>
<path d="M1302 130h0m11-1h0m-4-4h0m6 2h0m-6 9h0m11-11h0m-31 5h0m71 1h0m-61-2h0m3 0h0m-1 2h0m-14 1h0m4 0h0m-5 0h0m7 1h0m37-3h0m-23 6h0m36-7h0m-10 2h0m17 3h0m-47 5h0m19-11h0m5 8h0m20 0h0m-12-8h0m-29 1h0m37 3h0m-8 0h0m-29 4h0m28-1h0m-44-1h0m35-3h0m-11-6h0m-12 9h0m28-2h0m3-3h0m-36 3h0m23-1h0m-4 6h0m-5-8h0m49 5h0m-39-10h0m-2 6h0m-4-1h0m22 2h0m-12 2h0m-29-1h0m28 2h0m8-1h0m-39 0h0m-6-1h0m54-1h0m-53 0h0m26-6h0m12 7h0m-15-7h0m-4 10h0m59-4h0m-67 1h0m34 1h0m-7-2h0m-25 3h0m-1-7h0m16 0h0m-18 4h0m27-3h0m10 2h0m-9 1h0m-38-1h0m38 6h0m-4-3h0m3 0h0m0 4h0m-31-7h0m19 5h0m-12-1h0m-4-5h0m-8 4h0m9-1h0m-3-2h0m16 4h0m-10-5h0m26-3h0m-15 5h0m-11-1h0m25-6h0m-28 9h0m27-3h0m-38 2h0m79 0h0" stroke="#3B7CC0" stroke-width="3.9" stroke-linecap="round" fill="none"/>
<path d="M1286 153h0m7 2h0m-14 0h0m37 4h0m-9-2h0m7-6h0m21 4h0m-6-1h0m-13 2h0m-29-4h0m26 2h0m-22 0h0m13-4h0m-9 7h0m-7-5h0m17-1h0m12 5h0m-23 3h0m2-10h0m21 4h0m-5 2h0m-19 1h0m-14-1h0m14 3h0m-3-4h0m1 3h0m3-3h0m35 0h0m-23 1h0m28 0h0m-20 1h0m-24-9h0m50 8h0m-44 2h0m-8-1h0m-1-2h0m51 0h0m-24 10h0m-27-12h0m2 3h0m-2-4h0m24 1h0m-26 3h0m26 1h0m-18-5h0m12 4h0m-16 0h0m50 0h0m-28-1h0m14 2h0m-14 6h0m-5-4h0m-23-5h0m-2 2h0m31-2h0m-18 6h0m0-3h0m-1 5h0m26-4h0m-5-1h0m9 4h0m-23-6h0m-7 2h0m-7-2h0m2 4h0m13 4h0m18-9h0m2 3h0m-24 1h0m26-3h0m-30 1h0m14-1h0m-19-3h0m-8 4h0m17-5h0m19 7h0m-25-3h0m4-3h0m20 3h0m-16 4h0m9 1h0m-8-4h0m-5-5h0m17 7h0m-20 5h0m23-8h0m-1 6h0m-25-6h0m-9 1h0m59-1h0" stroke="#E08B35" stroke-width="3.9" stroke-linecap="round" fill="none"/>
<path d="M1253 183h0m52-11h0m-14 8h0m-47-2h0m57-4h0m-5 1h0m15 2h0m-13 1h0m17-4h0m-65 6h0m-38 1h0m-38-3h0m147-2h0m-74 1h0m1 8h0m20-15h0m54 11h0m-4-2h0m-45-6h0m21 4h0m-35 1h0m49-6h0m21 6h0m-28-3h0m5 2h0m-58 1h0m-36 4h0m86-1h0m-97-4h0m58-2h0m42 3h0m5 0h0m-33-5h0m28-2h0m-45 11h0m3-2h0m26-6h0m-57 3h0m94-2h0m-26 5h0m21-3h0m-23-6h0m-59 6h0m88-1h0m-5 3h0m-14 1h0m0 2h0m-31-5h0m31-6h0m-67 2h0m-24 5h0m92 2h0m-15 1h0m6 0h0m-52-8h0m-9 4h0m83 0h0m0 7h0m-84-6h0m53 1h0m-38 0h0m80-2h0m-30 10h0m-92-7h0m115-4h0m-52-6h0m53 10h0m-63-5h0m-5-3h0m72 4h0m-6 1h0m-26 3h0m-35-10h0m-65 9h0m126 3h0m0-4h0m-91-3h0m-32 0h0m115 11h0m-6-11h0m22 3h0m-18 7h0m-42-4h0m10 0h0m46-3h0m4 0h0m-7 0h0m-74 2h0m-79-3h0m159 0h0" stroke="#4EC29E" stroke-width="3.9" stroke-linecap="round" fill="none"/>
<path d="M1316 200h0m-71-4h0m-10 2h0m-15 1h0m27 1h0m44 4h0m-22-1h0m43-4h0m-90 3h0m27-2h0m48 1h0m-131-1h0m79-1h0m61-2h0m-24 4h0m32-6h0m-69 6h0m63-2h0m-112 1h0m66-1h0m-54 4h0m103 1h0m1-5h0m-1 8h0m-73-5h0m16 1h0m33-2h0m-51-3h0m80 3h0m-24-2h0m-58 0h0m65-2h0m-50 3h0m-40-2h0m92 10h0m-51-11h0m-58 2h0m52-1h0m36-3h0m-108 4h0m127-4h0m23 6h0m-71 1h0m10 6h0m58-7h0m-33-3h0m2 5h0m-45-1h0m-69-1h0m136-4h0m-23 3h0m27 0h0m-27 3h0m9-2h0m-66-4h0m85 8h0m-77-2h0m80-5h0m11 3h0m-25 4h0m-63-7h0m-6 5h0m21 4h0m57-8h0m-55-2h0m21 3h0m-28 0h0m0 0h0m31-2h0m-32 1h0m-52 3h0m92-1h0m-76-3h0m101-1h0m5 5h0m2-1h0m-19 6h0m-19-12h0m9 8h0m16 4h0m14-6h0m-19-1h0m3-3h0m-64 8h0m12-4h0m1-6h0m-77 7h0m139 0h0m-152-1h0m162-1h0" stroke="#9A8C33" stroke-width="3.9" stroke-linecap="round" fill="none"/>
<path d="M1322 225h0m-9-6h0m7 7h0m9-2h0m-17 1h0m-5-7h0m2 0h0m-20 7h0m-23-6h0m51-3h0m-10 9h0m-16-2h0m-2 5h0m36-4h0m-2-1h0m-37-3h0m29 3h0m13-2h0m-80 3h0m77-2h0m-42-3h0m6 10h0m-10-4h0m-11-4h0m42 5h0m-3 0h0m-33-5h0m34-1h0m-42 3h0m48 4h0m15-3h0m-32-5h0m15 0h0m-42 4h0m28-8h0m20 1h0m-9 8h0m-4 1h0m-13-2h0m7 2h0m17-5h0m4 3h0m4 1h0m-25-2h0m29 1h0m-41-1h0m35 1h0m-24-1h0m-30 1h0m58 1h0m-10 1h0m-12-6h0m10 12h0m-17-9h0m26-4h0m-34 4h0m19 3h0m-15-2h0m12 3h0m-12 3h0m4 0h0m-28-6h0m41-1h0m-22 5h0m29 0h0m10-2h0m-10 3h0m-30-7h0m7 2h0m-1 0h0m37 0h0m-18-1h0m10-2h0m-8-5h0m-20 12h0m-1-5h0m1-6h0m24 15h0m-17-3h0m5-1h0m13-7h0m-37 2h0m12 3h0m0-4h0m-4 2h0m6 0h0m3-3h0m-8 4h0m-43-1h0m84 1h0" stroke="#C8432F" stroke-width="3.9" stroke-linecap="round" fill="none"/>
<path d="M1256 241h0m20-1h0m28 4h0m-77 5h0m79 5h0m-24-1h0m26-4h0m-16 2h0m11 0h0m-6-2h0m0-1h0m-79-1h0m85 5h0m21-7h0m-21-1h0m-4 2h0m-30-2h0m-4 5h0m27 5h0m-15-11h0m39 1h0m-24 2h0m13 1h0m-39 2h0m16 0h0m18-6h0m-56 6h0m77-1h0m-62-4h0m34 11h0m-28-11h0m26 1h0m-17-5h0m53 5h0m-66 1h0m68-1h0m-69 8h0m30-11h0m-9 5h0m-7 0h0m32 2h0m-5-10h0m-10 10h0m-20-3h0m2-5h0m-42 7h0m26 3h0m-50-5h0m67 4h0m-4-5h0m22 6h0m-19-10h0m22 5h0m1 4h0m-5-9h0m-19 2h0m0-1h0m16 0h0m-52 6h0m82-4h0m-128 1h0m108-3h0m-12 1h0m19 7h0m-13-1h0m1-6h0m31 2h0m-26 4h0m-104-3h0m74 8h0m-6-4h0m10-1h0m-2 4h0m7-7h0m-6 2h0m27-3h0m-24 4h0m-8-12h0m-14 9h0m67 0h0m-99-3h0m-8 3h0m70 6h0m9-5h0m-19-2h0m-2-1h0m-22-2h0m32 6h0m-99-1h0m147 0h0" stroke="#E055AE" stroke-width="3.9" stroke-linecap="round" fill="none"/>
<path d="M1310 271h0m5-3h0m-16-8h0m44 10h0m-45-2h0m22-2h0m-8 10h0m6-9h0m5 5h0m12-3h0m-22-5h0m0 2h0m-6-2h0m8 4h0m-30 0h0m38 8h0m-27-3h0m27-4h0m-12 0h0m-4 1h0m5-7h0m14 7h0m-2-2h0m-1-2h0m-23-5h0m34 9h0m-11 1h0m-15-3h0m13 5h0m-25-1h0m4-7h0m34 3h0m-15 3h0m-18-4h0m0-2h0m-12 4h0m11 1h0m-1 1h0m32 0h0m-41 0h0m12 0h0m0 1h0m18 0h0m-11-2h0m25-2h0m-38 1h0m-1-6h0m18 7h0m-8-8h0m-11 14h0m28 0h0m-13-12h0m-13 11h0m32-7h0m-25 2h0m-2 1h0m-17-2h0m21-4h0m11 2h0m-22-2h0m-7 4h0m16 2h0m-5 6h0m-4-2h0m3-12h0m25 5h0m-25 3h0m8-1h0m31-1h0m-19-1h0m20 3h0m-32 3h0m22-9h0m-5 5h0m7 4h0m-34-1h0m17-1h0m13-2h0m-19 8h0m-16-12h0m5 4h0m-8 0h0m15-1h0m29 0h0m-10-4h0m-23 6h0m-8 1h0m-3-3h0m-4 0h0m61 1h0" stroke="#8E8E8E" stroke-width="3.9" stroke-linecap="round" fill="none"/>
<path d="M1301.9 126.6h32v10h-32zM1290.4 149.5h25.6v10h-25.6zM1245.6 172.5h73.9v10h-73.9zM1235.6 195.4h75.8v10h-75.8zM1286.9 218.4h30.3v10h-30.3zM1262.5 241.3h42.9v10h-42.9zM1295.5 264.3h27.4v10h-27.4z" stroke="#000" stroke-width="2.4" fill="#fff" fill-opacity="0.18"/>
<path d="M1312.1 125.4h11v12.4h-11zM1298.6 148.3h11v12.4h-11zM1276.9 171.3h11v12.4h-11zM1268.9 194.2h11v12.4h-11zM1296.7 217.2h11v12.4h-11zM1278.9 240.2h11v12.4h-11zM1303.4 263.1h11v12.4h-11z" fill="#000"/>
<path d="M1155.4 118.1V283.4M1154.8 282.8H1376.1" stroke="#000" stroke-width="2.2"/>
<path d="M1150.4 131.6H1155.4" stroke="#000" stroke-width="1.6"/>
<text x="1148.4" y="137" font-size="15.1" text-anchor="end" fill="#4D4D4D">SAMBA</text>
<path d="M1150.4 154.5H1155.4" stroke="#000" stroke-width="1.6"/>
<text x="1148.4" y="159.9" font-size="15.1" text-anchor="end" fill="#4D4D4D">RIGER</text>
<path d="M1150.4 177.5H1155.4" stroke="#000" stroke-width="1.6"/>
<text x="1148.4" y="182.9" font-size="15.1" text-anchor="end" fill="#4D4D4D">PBNPA</text>
<path d="M1150.4 200.4H1155.4" stroke="#000" stroke-width="1.6"/>
<text x="1148.4" y="205.8" font-size="15.1" text-anchor="end" fill="#4D4D4D">MAGECK</text>
<path d="M1150.4 223.4H1155.4" stroke="#000" stroke-width="1.6"/>
<text x="1148.4" y="228.8" font-size="15.1" text-anchor="end" fill="#4D4D4D">JACKS</text>
<path d="M1150.4 246.3H1155.4" stroke="#000" stroke-width="1.6"/>
<text x="1148.4" y="251.8" font-size="15.1" text-anchor="end" fill="#4D4D4D">CB2</text>
<path d="M1150.4 269.3H1155.4" stroke="#000" stroke-width="1.6"/>
<text x="1148.4" y="274.7" font-size="15.1" text-anchor="end" fill="#4D4D4D">BAGEL</text>
<path d="M1168.4 282.8V287.8" stroke="#000" stroke-width="1.6"/>
<text x="1168.4" y="298.3" font-size="11.2" text-anchor="middle" fill="#4D4D4D">−0.15</text>
<path d="M1211 282.8V287.8" stroke="#000" stroke-width="1.6"/>
<text x="1211" y="298.3" font-size="11.2" text-anchor="middle" fill="#4D4D4D">−0.10</text>
<path d="M1253.8 282.8V287.8" stroke="#000" stroke-width="1.6"/>
<text x="1253.8" y="298.3" font-size="11.2" text-anchor="middle" fill="#4D4D4D">−0.05</text>
<path d="M1296.5 282.8V287.8" stroke="#000" stroke-width="1.6"/>
<text x="1296.5" y="298.3" font-size="11.2" text-anchor="middle" fill="#4D4D4D">0.00</text>
<path d="M1339.1 282.8V287.8" stroke="#000" stroke-width="1.6"/>
<text x="1339.1" y="298.3" font-size="11.2" text-anchor="middle" fill="#4D4D4D">0.05</text>
<text x="1265.8" y="314.8" font-size="14.1" text-anchor="middle">Relative AUC</text>
<path d="M1377.6 126.1V158.6" stroke="#222" stroke-width="1.5"/>
<text x="1372.4" y="142.3" font-size="16.5" text-anchor="middle" fill="#111" font-weight="bold" transform="rotate(90 1372.4 142.3)">*</text>
<path d="M1385 126.1V182.7" stroke="#222" stroke-width="1.5"/>
<text x="1379.8" y="154.4" font-size="16.5" text-anchor="middle" fill="#111" font-weight="bold" transform="rotate(90 1379.8 154.4)">****</text>
<path d="M1392.4 126.1V206.8" stroke="#222" stroke-width="1.5"/>
<text x="1387.2" y="166.4" font-size="16.5" text-anchor="middle" fill="#111" font-weight="bold" transform="rotate(90 1387.2 166.4)">****</text>
<path d="M1399.8 126.1V230.9" stroke="#222" stroke-width="1.5"/>
<text x="1394.6" y="178.5" font-size="16.5" text-anchor="middle" fill="#111" font-weight="bold" transform="rotate(90 1394.6 178.5)">**</text>
<path d="M1407.2 126.1V255" stroke="#222" stroke-width="1.5"/>
<text x="1402" y="190.6" font-size="16.5" text-anchor="middle" fill="#111" font-weight="bold" transform="rotate(90 1402 190.6)">****</text>
<path d="M1414.6 126.1V279.1" stroke="#222" stroke-width="1.5"/>
<text x="1415.8" y="202.6" font-size="10" text-anchor="middle" fill="#222" transform="rotate(90 1415.8 202.6)">ns</text>
<text x="1484.6" y="112" font-size="17">Specificity</text>
<text x="1565.6" y="112" font-size="11.7">(pAUC: TPR &gt; 90%)</text>
<path d="M1582.5 118.1V282.8" stroke="#A0A0A0" stroke-width="1"/>
<path d="M1604 137h0m-35-4h0m24-8h0m-25 9h0m0 5h0m-52-7h0m91 9h0m3-5h0m-25-9h0m27 6h0m-35 3h0m-31-6h0m47 7h0m1-1h0m-31-5h0m7 4h0m30-1h0m-33-3h0m-26 1h0m38 2h0m-7-11h0m55 9h0m-26 6h0m-26 0h0m16-12h0m23 2h0m-48 5h0m12-7h0m21 6h0m2 2h0m4-4h0m1 8h0m-25-3h0m-6-7h0m34-2h0m-3 12h0m-1-16h0m-6 10h0m7-6h0m-7 7h0m9-6h0m-18 2h0m19 4h0m-22 3h0m-4-5h0m-13 1h0m-7 3h0m40-3h0m13-1h0m-15 8h0m-3-8h0m-33 0h0m-18 5h0m49-2h0m2 4h0m-27-7h0m3 1h0m0 0h0m-3 0h0m11-7h0m-2 4h0m27 4h0m-42-5h0m28 6h0m-47-5h0m66 4h0m-14 2h0m-40-1h0m-32-3h0m81 0h0m-47-4h0m60 7h0m-17-3h0m-40 3h0m40-6h0m-31 2h0m51 0h0m-22 1h0m18 2h0m-18-1h0m-31-3h0m31 7h0m12-4h0m-37-4h0m-12 2h0m6 2h0m-19 0h0m39 1h0m-73-1h0m109-1h0" stroke="#3B7CC0" stroke-width="3.9" stroke-linecap="round" fill="none"/>
<path d="M1600 153h0m3 1h0m-11 8h0m30-8h0m-45 9h0m22-8h0m-6 6h0m11-9h0m-44 2h0m35-7h0m-19 12h0m1 1h0m22-7h0m4-2h0m-24 0h0m-16 7h0m8-4h0m22 6h0m7-6h0m-29-2h0m52 4h0m-40-4h0m3 6h0m-11 0h0m27-12h0m-25 1h0m-4 8h0m29-7h0m25 6h0m-45 0h0m-5-3h0m17 6h0m6-8h0m-23 11h0m40-5h0m-22 0h0m34 0h0m-56 2h0m11-4h0m8 1h0m4 3h0m-15-6h0m-11 4h0m-1-6h0m13 6h0m3 0h0m-11-1h0m8 2h0m20-2h0m4 3h0m-19-5h0m20 4h0m-15-1h0m19 1h0m-29-7h0m5 7h0m16 3h0m5-3h0m14-2h0m-49 3h0m31-5h0m-43 1h0m36 5h0m4 4h0m-20-8h0m24 8h0m-3-5h0m-26-3h0m-1 3h0m-2-1h0m7 5h0m16-10h0m6-2h0m-33 0h0m32 10h0m-12-11h0m-22 7h0m11-3h0m26 3h0m-11-10h0m1 7h0m-12 4h0m5 3h0m-4-6h0m20-3h0m2 5h0m-50 1h0m70-1h0m-75-1h0m78 1h0" stroke="#E08B35" stroke-width="3.9" stroke-linecap="round" fill="none"/>
<path d="M1563 171h0m14 3h0m-1 9h0m11-2h0m-17-3h0m9-8h0m-29 9h0m40-2h0m-10 5h0m13-4h0m-5-5h0m-5 0h0m3 11h0m-27-15h0m45 7h0m-7 2h0m-15-1h0m-46-1h0m31-2h0m-5-3h0m-6 2h0m-15 3h0m30 2h0m-7-2h0m-4 5h0m17-5h0m-14 8h0m-5-3h0m4-10h0m-23 7h0m22 3h0m25-4h0m-15-2h0m-15 2h0m4-3h0m-4 6h0m32 6h0m-28-7h0m6 4h0m-4-5h0m-14-3h0m18 5h0m-11-3h0m27-2h0m-19 4h0m11 0h0m5-3h0m-8 3h0m29 3h0m-49-8h0m19 3h0m11 4h0m-5-7h0m7-2h0m-23 8h0m15 0h0m-6-5h0m-18-3h0m0 8h0m37-4h0m-32 0h0m-6 0h0m37 1h0m-11 6h0m-22-7h0m34 0h0m-8 7h0m-12 0h0m27-7h0m-4 6h0m6-4h0m-16-6h0m-16 9h0m28-3h0m-39-2h0m37 0h0m-57 0h0m22 5h0m34-7h0m-38 4h0m5 1h0m30-1h0m2-4h0m18 3h0m-17 1h0m-38 2h0m7-2h0m5-3h0m-31 2h0m77 1h0" stroke="#4EC29E" stroke-width="3.9" stroke-linecap="round" fill="none"/>
<path d="M1618 199h0m21 3h0m-53 0h0m0-1h0m-24-3h0m27 3h0m-24-5h0m52 3h0m-37-8h0m41 10h0m-32 4h0m13-8h0m-78 4h0m100-4h0m-48 2h0m27 4h0m-7 6h0m2-15h0m16 4h0m-48-3h0m-9 7h0m35-1h0m30-2h0m-52 2h0m-11-6h0m5 5h0m46 1h0m-30 1h0m23 4h0m-51-5h0m23-1h0m-21-3h0m15 7h0m-5-3h0m-3 0h0m25-3h0m16 3h0m0-4h0m9 2h0m0 0h0m-45 1h0m1 6h0m59-8h0m-13 4h0m-34-3h0m-3 5h0m5-2h0m26 4h0m-49-10h0m9-1h0m12 7h0m75-1h0m-55 0h0m49-1h0m-113 0h0m119 1h0m-87-5h0m46 8h0m-46-2h0m41 2h0m-40-6h0m18-1h0m7 0h0m-66 3h0m74-1h0m-2 2h0m9-2h0m-32 8h0m33-5h0m47-2h0m-118 1h0m23-2h0m39 4h0m33-1h0m-62-3h0m32-5h0m-17 2h0m-9 9h0m28-12h0m-19 9h0m-51 1h0m66-3h0m-16-1h0m27 4h0m-42 3h0m-4-5h0m-2 2h0m-14-3h0m-26 0h0m131 0h0" stroke="#9A8C33" stroke-width="3.9" stroke-linecap="round" fill="none"/>
<path d="M1562 221h0m-17 8h0m50-3h0m-28-8h0m-16 3h0m45-5h0m-31 5h0m18 3h0m-9-2h0m22 2h0m-5 0h0m-85-1h0m92 1h0m-30-7h0m13 3h0m41 4h0m-25-4h0m-17-4h0m-28 7h0m-2 4h0m30-4h0m42 0h0m-65 1h0m-44-3h0m74-2h0m-16 2h0m24 8h0m-4-10h0m-42 7h0m4-4h0m7-1h0m-4-1h0m44 8h0m-7-4h0m35-1h0m-75 8h0m26-10h0m-16-3h0m47 8h0m-88-1h0m51-7h0m4 2h0m30 5h0m-50-4h0m49 1h0m-22 2h0m-18-1h0m22-1h0m-21 9h0m-61-6h0m58-3h0m1 1h0m9-3h0m0 6h0m18-5h0m-83 4h0m58-5h0m-4 4h0m-27 2h0m60-2h0m-42 1h0m2-5h0m-51 3h0m51-7h0m-1 12h0m35-3h0m-31-4h0m1 0h0m43 3h0m-54-5h0m26 9h0m13-4h0m12 0h0m-17 1h0m-50-1h0m33-7h0m0 13h0m24-13h0m39 5h0m-43 0h0m25 1h0m-32 1h0m16-2h0m-10 8h0m-97-7h0m73 4h0m23 0h0m-6-1h0m-94-2h0m146 0h0" stroke="#C8432F" stroke-width="3.9" stroke-linecap="round" fill="none"/>
<path d="M1580 248h0m1-6h0m-31 7h0m4-3h0m-8-1h0m-48 3h0m102-2h0m-102 2h0m105 1h0m-117-3h0m120 0h0m-14-1h0m-38-3h0m31-1h0m-2 10h0m-43-4h0m18 7h0m-26-9h0m47 3h0m19-1h0m-33-3h0m21 10h0m-66-7h0m60-8h0m-16 12h0m19-4h0m-9-8h0m-17 4h0m31 10h0m-13-9h0m-12 6h0m22-1h0m-26-3h0m-6-3h0m41 1h0m0 6h0m-96-5h0m65 7h0m-2-5h0m36-1h0m-43 0h0m-3 1h0m-60 0h0m110-1h0m-25 4h0m6 2h0m-29-3h0m36-2h0m-91 0h0m92-6h0m-35 4h0m14 2h0m23 0h0m-38-1h0m1 2h0m21 6h0m1-1h0m16-6h0m1-1h0m-6-1h0m-9-3h0m0 4h0m2-4h0m-29 4h0m2 4h0m20 0h0m8-6h0m-32 4h0m34 0h0m-47-6h0m55 2h0m-7 5h0m15-5h0m-13 1h0m-1 7h0m-11-10h0m19 4h0m-14 0h0m6-4h0m-26 10h0m-54-4h0m53-7h0m-27 8h0m33-8h0m-7 4h0m21 1h0m14-5h0m1 2h0m-117 4h0m129 0h0" stroke="#E055AE" stroke-width="3.9" stroke-linecap="round" fill="none"/>
<path d="M1621 271h0m-25 3h0m2-1h0m34-3h0m-34 1h0m42-2h0m-55-5h0m-23 5h0m34-3h0m4 3h0m73 0h0m-94-2h0m19-3h0m-18 2h0m-8-3h0m41 12h0m47-5h0m-93 4h0m49-3h0m-13-2h0m-29-4h0m9 10h0m-2 1h0m28 0h0m11 1h0m4-8h0m-7 0h0m-35 0h0m-3 0h0m63 2h0m-57 4h0m-15-3h0m47 7h0m55-10h0m-94-4h0m-26 6h0m53 4h0m-28-6h0m22-1h0m-28-4h0m3 2h0m40 0h0m5 3h0m-32-3h0m4 2h0m33-2h0m-67 2h0m-1 2h0m16 0h0m3 0h0m27 2h0m17-5h0m-50 2h0m5 2h0m24-3h0m-16 3h0m-18-2h0m32 8h0m-8-13h0m16 7h0m-7 3h0m-23-1h0m4-5h0m-4 2h0m2 1h0m0-4h0m52 5h0m-16 1h0m-44 2h0m83-6h0m20 0h0m-11 1h0m-95-4h0m41 7h0m-39-4h0m80 1h0m-72 3h0m38-11h0m-15 3h0m16 10h0m48-6h0m-93 1h0m12-2h0m38-2h0m-61 2h0m-3 1h0m25-1h0m-8 5h0m-21-3h0m125-1h0" stroke="#8E8E8E" stroke-width="3.9" stroke-linecap="round" fill="none"/>
<path d="M1567.7 126.6h40.3v10h-40.3zM1573.9 149.5h28.3v10h-28.3zM1556.6 172.5h31v10h-31zM1566.2 195.4h45.6v10h-45.6zM1548.5 218.4h47.9v10h-47.9zM1553.7 241.3h38.9v10h-38.9zM1571.6 264.3h45v10h-45z" stroke="#000" stroke-width="2.4" fill="#fff" fill-opacity="0.18"/>
<path d="M1582.3 125.4h11v12.4h-11zM1582.3 148.3h11v12.4h-11zM1566.6 171.3h11v12.4h-11zM1583.7 194.2h11v12.4h-11zM1567 217.2h11v12.4h-11zM1567.7 240.2h11v12.4h-11zM1588.5 263.1h11v12.4h-11z" fill="#000"/>
<path d="M1466.3 118.1V283.4M1465.7 282.8H1687.1" stroke="#000" stroke-width="2.2"/>
<path d="M1461.3 131.6H1466.3M1461.3 154.5H1466.3M1461.3 177.5H1466.3M1461.3 200.4H1466.3M1461.3 223.4H1466.3M1461.3 246.3H1466.3M1461.3 269.3H1466.3M1522.6 282.8V287.8" stroke="#000" stroke-width="1.6"/>
<text x="1522.6" y="298.3" font-size="11.2" text-anchor="middle" fill="#4D4D4D">−0.1</text>
<path d="M1582.5 282.8V287.8" stroke="#000" stroke-width="1.6"/>
<text x="1582.5" y="298.3" font-size="11.2" text-anchor="middle" fill="#4D4D4D">0.0</text>
<path d="M1642 282.8V287.8" stroke="#000" stroke-width="1.6"/>
<text x="1642" y="298.3" font-size="11.2" text-anchor="middle" fill="#4D4D4D">0.1</text>
<text x="1576.7" y="314.8" font-size="14.1" text-anchor="middle">Relative AUC</text>
<path d="M1688.6 126.1V158.6" stroke="#222" stroke-width="1.5"/>
<text x="1689.8" y="142.3" font-size="10" text-anchor="middle" fill="#222" transform="rotate(90 1689.8 142.3)">ns</text>
<path d="M1696 126.1V182.7" stroke="#222" stroke-width="1.5"/>
<text x="1690.8" y="154.4" font-size="16.5" text-anchor="middle" fill="#111" font-weight="bold" transform="rotate(90 1690.8 154.4)">***</text>
<path d="M1703.4 126.1V206.8" stroke="#222" stroke-width="1.5"/>
<text x="1704.6" y="166.4" font-size="10" text-anchor="middle" fill="#222" transform="rotate(90 1704.6 166.4)">ns</text>
<path d="M1710.8 126.1V230.9" stroke="#222" stroke-width="1.5"/>
<text x="1705.6" y="178.5" font-size="16.5" text-anchor="middle" fill="#111" font-weight="bold" transform="rotate(90 1705.6 178.5)">***</text>
<path d="M1718.2 126.1V255" stroke="#222" stroke-width="1.5"/>
<text x="1713" y="190.6" font-size="16.5" text-anchor="middle" fill="#111" font-weight="bold" transform="rotate(90 1713 190.6)">***</text>
<path d="M1725.6 126.1V279.1" stroke="#222" stroke-width="1.5"/>
<text x="1726.8" y="202.6" font-size="10" text-anchor="middle" fill="#222" transform="rotate(90 1726.8 202.6)">ns</text>
<text x="1780.4" y="112" font-size="17">Sensitivity</text>
<text x="1859.5" y="112" font-size="11.7">(pAUC: FPR &lt; 10%)</text>
<path d="M1894.7 118.1V282.8" stroke="#A0A0A0" stroke-width="1"/>
<path d="M1942 124h0m-44 10h0m52 3h0m-53-4h0m51-2h0m-7-5h0m-31 3h0m-10 10h0m68-6h0m-57-5h0m16 4h0m-4 3h0m12-2h0m12-2h0m7 5h0m-33-6h0m-20-2h0m52 9h0m-36-13h0m-25 11h0m44-4h0m-1 0h0m-33 0h0m-6 6h0m46-8h0m-29 12h0m28-6h0m-44-5h0m9-1h0m49 3h0m14-2h0m-25-5h0m-16 5h0m18 0h0m-50-1h0m63 4h0m19-1h0m-81 0h0m73-1h0m-34-2h0m-24 2h0m-19-1h0m61 4h0m-47-2h0m41-4h0m-38 0h0m10-1h0m13 13h0m35-8h0m-41-2h0m-29-3h0m31 4h0m-41 2h0m9 2h0m17 1h0m24-8h0m4-1h0m-1 2h0m2 4h0m-35-9h0m9 12h0m-9-4h0m-10 3h0m42-2h0m-25 3h0m21-9h0m2 3h0m-40 0h0m45 2h0m-40-10h0m44 8h0m13-1h0m-41 2h0m28 4h0m-11-5h0m-42 6h0m38-4h0m-23-4h0m-11 4h0m19-4h0m15 8h0m-42-1h0m-2-3h0m9 6h0m39-5h0m-41-6h0m36 10h0m-40-4h0m-3-1h0m90 0h0" stroke="#3B7CC0" stroke-width="3.9" stroke-linecap="round" fill="none"/>
<path d="M1880 151h0m-9 3h0m66 0h0m-6-1h0m-12 2h0m-45 0h0m16-4h0m24 2h0m-22-2h0m45 4h0m-55 2h0m39 0h0m13-2h0m-49-6h0m37 3h0m10 0h0m-49 5h0m1-2h0m37 1h0m8-3h0m-7 3h0m-29 4h0m0-5h0m-1-1h0m-18 2h0m37-1h0m-18 1h0m24-1h0m-7-6h0m5 6h0m2 6h0m-13-10h0m-19 4h0m13-3h0m-28 2h0m25-1h0m18 0h0m-12 8h0m13-6h0m-19 0h0m13 0h0m11-1h0m-5 6h0m-24-9h0m-9 4h0m14-5h0m19 5h0m-42 0h0m34-1h0m8 4h0m-36-2h0m54-2h0m-53-2h0m5 9h0m29-10h0m-20-3h0m-8 4h0m-2 0h0m9 5h0m1-3h0m14-1h0m-14 4h0m16-2h0m-27 0h0m16 2h0m-23-1h0m5-5h0m41 3h0m-12-1h0m-21 0h0m28 0h0m8-2h0m-43-3h0m22 9h0m-19 1h0m-1-6h0m25 5h0m5-4h0m-27 4h0m29-1h0m13 0h0m4-3h0m-20 2h0m-16 7h0m12-7h0m-25 1h0m6-1h0m23 2h0m-42-3h0m67 0h0" stroke="#E08B35" stroke-width="3.9" stroke-linecap="round" fill="none"/>
<path d="M1851 175h0m65 1h0m-63 9h0m67-10h0m-54 8h0m-81-5h0m150 0h0m-73-8h0m34 4h0m-30 12h0m-28-6h0m11-2h0m67-3h0m-57 1h0m33 5h0m-20-2h0m-8-4h0m-57 0h0m132 3h0m-67 6h0m44-10h0m5 0h0m-69 2h0m41-3h0m-65 7h0m3-9h0m66 3h0m-40 7h0m63-6h0m-87 0h0m74 5h0m-58-9h0m-9 5h0m80 0h0m1 3h0m-129 0h0m67 1h0m37-2h0m-24 2h0m-94-3h0m70 3h0m13-9h0m44 12h0m-63-8h0m79 2h0m-135 0h0m148 2h0m-92-6h0m69 6h0m-56-2h0m-23 3h0m97-4h0m-101 1h0m112 0h0m-15 4h0m-75-5h0m73 3h0m-27-2h0m-100-2h0m126-1h0m-85-3h0m83 5h0m-99 0h0m39 2h0m3-2h0m-17 4h0m64-4h0m-115 2h0m18 3h0m15-3h0m35 0h0m21-4h0m41 2h0m-92-2h0m4 6h0m8-6h0m38 2h0m-15-5h0m54 10h0m-56 3h0m-2-5h0m58-4h0m-80 8h0m-6 0h0m89-2h0m-25-1h0m-77-2h0m81 1h0m-125-2h0m160 0h0" stroke="#4EC29E" stroke-width="3.9" stroke-linecap="round" fill="none"/>
<path d="M1865 200h0m-49 0h0m95 0h0m-6-2h0m-14 3h0m-52-1h0m55 2h0m-18 2h0m3-2h0m-62-2h0m53-2h0m-40 6h0m0-7h0m63 5h0m-35 1h0m50-3h0m-77 2h0m76-3h0m-59 3h0m3-1h0m59 0h0m-8 0h0m4 1h0m-118-2h0m117-1h0m-55-8h0m51 7h0m-44 6h0m31 1h0m-18-4h0m1 1h0m6-1h0m-22 5h0m28-10h0m-82 3h0m75-1h0m-49 3h0m51 0h0m26 1h0m4-2h0m-8 5h0m-38 3h0m43-8h0m-3 2h0m-9-10h0m-29 7h0m38-5h0m-62 10h0m-23-4h0m15 6h0m75-4h0m-70-5h0m65-3h0m-7 12h0m16-5h0m-61 5h0m-31-5h0m12 4h0m6-7h0m69 4h0m-29-5h0m-49-4h0m78 7h0m1 2h0m-19-4h0m-55 1h0m32 9h0m-54-10h0m30 9h0m-37-4h0m78-1h0m-1-8h0m-22 13h0m-65-6h0m101-5h0m7 9h0m-15 2h0m1-6h0m-35 3h0m-22-9h0m62 6h0m-82 0h0m22 2h0m40-12h0m-28 10h0m-20 0h0m-35-1h0m115-2h0m-118 2h0m123 0h0" stroke="#9A8C33" stroke-width="3.9" stroke-linecap="round" fill="none"/>
<path d="M1892 225h0m0 0h0m-10 0h0m4-1h0m25-7h0m-17-1h0m9 14h0m3-7h0m7 0h0m-9-2h0m-3 5h0m-3-5h0m0 10h0m25-5h0m-33-2h0m0 2h0m-9-4h0m35-8h0m1 11h0m-28-8h0m38 8h0m-11-1h0m-18-7h0m-17 8h0m31-1h0m-4-6h0m-14 2h0m33 6h0m7-5h0m-38-1h0m46 4h0m-40 2h0m7 3h0m8-3h0m-27 1h0m1-4h0m25 1h0m0-5h0m18 3h0m-29-3h0m-29 5h0m18 6h0m4-7h0m11 6h0m-3-8h0m8 0h0m-9 1h0m-14 5h0m6-5h0m7-4h0m15 2h0m4 4h0m5-2h0m-32 0h0m2 3h0m21-3h0m14 2h0m-38-2h0m27 1h0m-44-1h0m61 2h0m-42 0h0m-4 3h0m-13-2h0m36 0h0m4-2h0m-13 6h0m3-6h0m-15 0h0m-6 0h0m22-4h0m-10 5h0m-7 9h0m14-16h0m-18 6h0m25-7h0m-16 4h0m17 11h0m-17-1h0m34-5h0m-21-2h0m-18 2h0m-3-1h0m23-2h0m1-4h0m-18 9h0m-5-2h0m-15-3h0m-1 0h0m65 2h0" stroke="#C8432F" stroke-width="3.9" stroke-linecap="round" fill="none"/>
<path d="M1872 239h0m24 8h0m-20 0h0m-5 0h0m-1-1h0m26 3h0m29-1h0m1-2h0m-56 1h0m72-1h0m-68-3h0m32 7h0m-22-6h0m-7 3h0m9 5h0m-18-5h0m12-5h0m20 7h0m-19-6h0m-1 8h0m41-4h0m-16 4h0m-29-9h0m-7 6h0m23-2h0m8-1h0m-15 6h0m-1-7h0m14-1h0m33 4h0m-41 4h0m-10-5h0m24 8h0m5-5h0m-24 4h0m23-8h0m-46 1h0m37-2h0m-22 3h0m-17-2h0m19-1h0m-6 1h0m33 6h0m-30-3h0m19-4h0m-22 2h0m6-3h0m48 2h0m-59 2h0m54-1h0m-60 3h0m43-1h0m-35 1h0m38-8h0m-56 5h0m72-2h0m0 3h0m-13 1h0m-29-8h0m-12 14h0m16-8h0m9 1h0m15-2h0m-60 4h0m23 1h0m-1 0h0m4-8h0m26 7h0m-33-9h0m52 7h0m-50 0h0m13-6h0m-21 4h0m35-5h0m-43 7h0m49 3h0m-3-10h0m13 10h0m-19 0h0m27-4h0m-42-3h0m34-2h0m12 6h0m-37-2h0m-23 4h0m44-3h0m-2 0h0m3 3h0m-68-2h0m98-1h0" stroke="#E055AE" stroke-width="3.9" stroke-linecap="round" fill="none"/>
<path d="M1886 272h0m-45-1h0m75-8h0m-28 1h0m54 5h0m-65-3h0m31 0h0m2 9h0m-31-10h0m5 6h0m-39 0h0m-5 0h0m50-5h0m22 0h0m27 2h0m-104 1h0m38 7h0m14-11h0m-32 2h0m7 3h0m54 0h0m-3 1h0m-3 1h0m-10-3h0m16-2h0m-24 7h0m29 0h0m-43-13h0m41 5h0m-36 10h0m5-10h0m24-3h0m-74 6h0m7 1h0m39 2h0m24-2h0m-74-1h0m86-2h0m13 5h0m-43 3h0m14-11h0m-24 6h0m29-6h0m-17-3h0m-15 8h0m-22 2h0m60 3h0m-5-1h0m-6 1h0m4-5h0m-28-2h0m29-2h0m20 3h0m-60 1h0m50-9h0m-24 9h0m-21 3h0m17-4h0m28-2h0m-41 11h0m33-17h0m-21 13h0m17-9h0m21 5h0m-54 2h0m40-4h0m-34 11h0m-4-10h0m19-1h0m48 4h0m-45-4h0m-23 5h0m40-10h0m15 8h0m-42 3h0m29-1h0m-76-2h0m60-9h0m-13 8h0m19 1h0m6-2h0m-12 2h0m-36 1h0m67-2h0m-8 4h0m-79-3h0m39 0h0m9-4h0m-58 3h0m108 0h0" stroke="#8E8E8E" stroke-width="3.9" stroke-linecap="round" fill="none"/>
<path d="M1898.5 126.6h48v10h-48zM1884.1 149.5h30.1v10h-30.1zM1836.1 172.5h82.5v10h-82.5zM1831.9 195.4h70.4v10h-70.4zM1890.9 218.4h26.8v10h-26.8zM1870.7 241.3h35.8v10h-35.8zM1875.1 264.3h43.5v10h-43.5z" stroke="#000" stroke-width="2.4" fill="#fff" fill-opacity="0.18"/>
<path d="M1917 125.4h11v12.4h-11zM1894 148.3h11v12.4h-11zM1871.9 171.3h11v12.4h-11zM1861.7 194.2h11v12.4h-11zM1898.8 217.2h11v12.4h-11zM1883.4 240.2h11v12.4h-11zM1891.1 263.1h11v12.4h-11z" fill="#000"/>
<path d="M1768.5 118.1V283.4M1767.9 282.8H1989.3" stroke="#000" stroke-width="2.2"/>
<path d="M1763.5 131.6H1768.5M1763.5 154.5H1768.5M1763.5 177.5H1768.5M1763.5 200.4H1768.5M1763.5 223.4H1768.5M1763.5 246.3H1768.5M1763.5 269.3H1768.5M1771.2 282.8V287.8" stroke="#000" stroke-width="1.6"/>
<text x="1771.2" y="298.3" font-size="11.2" text-anchor="middle" fill="#4D4D4D">−0.4</text>
<path d="M1833.2 282.8V287.8" stroke="#000" stroke-width="1.6"/>
<text x="1833.2" y="298.3" font-size="11.2" text-anchor="middle" fill="#4D4D4D">−0.2</text>
<path d="M1894.7 282.8V287.8" stroke="#000" stroke-width="1.6"/>
<text x="1894.7" y="298.3" font-size="11.2" text-anchor="middle" fill="#4D4D4D">0.0</text>
<path d="M1956.5 282.8V287.8" stroke="#000" stroke-width="1.6"/>
<text x="1956.5" y="298.3" font-size="11.2" text-anchor="middle" fill="#4D4D4D">0.2</text>
<text x="1878.9" y="314.8" font-size="14.1" text-anchor="middle">Relative AUC</text>
<path d="M1990.8 126.1V158.6" stroke="#222" stroke-width="1.5"/>
<text x="1985.6" y="142.3" font-size="16.5" text-anchor="middle" fill="#111" font-weight="bold" transform="rotate(90 1985.6 142.3)">****</text>
<path d="M1998.2 126.1V182.7" stroke="#222" stroke-width="1.5"/>
<text x="1993" y="154.4" font-size="16.5" text-anchor="middle" fill="#111" font-weight="bold" transform="rotate(90 1993 154.4)">****</text>
<path d="M2005.6 126.1V206.8" stroke="#222" stroke-width="1.5"/>
<text x="2000.4" y="166.4" font-size="16.5" text-anchor="middle" fill="#111" font-weight="bold" transform="rotate(90 2000.4 166.4)">****</text>
<path d="M2013 126.1V230.9" stroke="#222" stroke-width="1.5"/>
<text x="2007.8" y="178.5" font-size="16.5" text-anchor="middle" fill="#111" font-weight="bold" transform="rotate(90 2007.8 178.5)">***</text>
<path d="M2020.4 126.1V255" stroke="#222" stroke-width="1.5"/>
<text x="2015.2" y="190.6" font-size="16.5" text-anchor="middle" fill="#111" font-weight="bold" transform="rotate(90 2015.2 190.6)">****</text>
<path d="M2027.8 126.1V279.1" stroke="#222" stroke-width="1.5"/>
<text x="2022.6" y="202.6" font-size="16.5" text-anchor="middle" fill="#111" font-weight="bold" transform="rotate(90 2022.6 202.6)">****</text>
<text x="160.7" y="338.5" font-size="17">AUC</text>
<path d="M310.1 343.5V508.2" stroke="#A0A0A0" stroke-width="1"/>
<path d="M338 351h0m-15 9h0m3 0h0m-5-4h0m11 7h0m1-8h0m-16 2h0m20 2h0m-4-3h0m-7 8h0m-4-14h0m1-1h0m-2 11h0m8-3h0m-8 0h0m19-3h0m-9-2h0m1 6h0m-11-3h0m0-4h0m26 6h0m-17 0h0m-2 4h0m-12-3h0m29 0h0m-28 0h0m1 1h0m2 0h0m8-2h0m-12-1h0m20 2h0m-14 1h0m13 1h0m-2-6h0m0 9h0m-16-6h0m9-3h0m-7 3h0m24 5h0m-12-11h0m-8 1h0m12 8h0m0-8h0m0 7h0m3-2h0m-3 5h0m-4-1h0m-12-6h0m6 10h0m7-14h0m-11 7h0m7 1h0m-1 3h0m11-4h0m-21 0h0m19 5h0m-14-3h0m13 1h0m-10-12h0m-4 8h0m8-6h0m9 2h0m-14-4h0m2 11h0m-5-3h0m4 3h0m3-6h0m-7 4h0m18-4h0m-14 5h0m-5-2h0m13 0h0m0 6h0m13-10h0m-3 1h0m-16 10h0m29-6h0m-29 2h0m10-10h0m-12 11h0m11-5h0m-14 3h0m6-7h0m28 5h0m-31 2h0m10-3h0m-1-8h0m-3 15h0m-13-7h0m41 1h0" stroke="#3B7CC0" stroke-width="3.9" stroke-linecap="round" fill="none"/>
<path d="M327 380h0m-13 0h0m-10 7h0m11-8h0m-16-5h0m36 5h0m-14 2h0m-39-2h0m29-4h0m12 4h0m17 2h0m-13-2h0m-20-1h0m-8 3h0m7-6h0m-22 5h0m25 8h0m20-14h0m-21 10h0m0-8h0m12-2h0m15 8h0m-22-5h0m-12 3h0m26-4h0m-5 7h0m-18-3h0m4 0h0m2 0h0m13 3h0m-15 0h0m-5-7h0m36 5h0m-46-2h0m31-3h0m13 5h0m-11-4h0m-36 5h0m20-10h0m28 8h0m-5 1h0m1-2h0m-35 3h0m26-5h0m-17 7h0m3-10h0m-5 1h0m16 7h0m1 4h0m-8-3h0m13-6h0m-12-3h0m-18 2h0m32 2h0m-14 7h0m-11-2h0m1-4h0m15-3h0m-18 5h0m13 0h0m11-6h0m-14 11h0m12-13h0m-26 9h0m16 4h0m26-6h0m-14 4h0m0 1h0m-20 0h0m32-4h0m-2 0h0m-25 1h0m12 6h0m-21-6h0m12-4h0m-4 9h0m15-5h0m-22-1h0m15-3h0m-4 3h0m-33-1h0m0 0h0m43-4h0m-19 0h0m-12 3h0m16 7h0m-11-5h0m12-2h0m-29 1h0m58-1h0" stroke="#E08B35" stroke-width="3.9" stroke-linecap="round" fill="none"/>
<path d="M328 403h0m-12 4h0m26-5h0m-29-8h0m9 8h0m-11-1h0m39 2h0m-23-9h0m-18 11h0m12-2h0m-11-3h0m24 8h0m-14-9h0m10 2h0m-22 0h0m-18 3h0m25-4h0m10-6h0m30 9h0m-36 1h0m20-2h0m-11 0h0m2 3h0m21-3h0m-39 3h0m36-2h0m-13 2h0m-25-5h0m24 0h0m-8-1h0m-4-4h0m-17 6h0m9 2h0m12-2h0m-4-3h0m5 9h0m0-3h0m-8-2h0m-16 0h0m5 5h0m-3-1h0m39-4h0m-23 8h0m-10-5h0m13-9h0m-21 2h0m25 4h0m-6 4h0m-4-3h0m5-9h0m1 7h0m2-3h0m-19 4h0m9 0h0m-25 1h0m19 3h0m39-4h0m-36-2h0m6 3h0m-7-2h0m-12 4h0m-2-6h0m44 4h0m-6-1h0m-28 1h0m-6 4h0m7 0h0m14-2h0m8-5h0m-17 8h0m-5-8h0m6 2h0m-6 4h0m11 7h0m-4-7h0m-7-8h0m1 6h0m28 2h0m-47-3h0m7-4h0m40 5h0m-28 7h0m6-5h0m31-1h0m-21-7h0m-15 12h0m11-9h0m0-1h0m-31 4h0m63-2h0" stroke="#4EC29E" stroke-width="3.9" stroke-linecap="round" fill="none"/>
<path d="M287 428h0m-12-6h0m29-1h0m-29 5h0m-6-1h0m19 0h0m-9 1h0m20-4h0m-10 2h0m-13 9h0m29-5h0m-12 0h0m-27-3h0m15-4h0m-26 5h0m68 1h0m-31-10h0m-12 11h0m18-1h0m-7-9h0m12 0h0m5 3h0m0 5h0m-9-2h0m-28 0h0m-2 0h0m31 5h0m-20-6h0m11 2h0m17-4h0m-14 11h0m4 1h0m5-6h0m-25-6h0m1 10h0m0-4h0m19 7h0m6-9h0m-30-2h0m9 8h0m-6 1h0m22 0h0m-20-15h0m36 9h0m-54-1h0m21-1h0m0 1h0m10 6h0m13-1h0m-11-10h0m6 7h0m6-1h0m-19 3h0m-11 0h0m42-5h0m-34-2h0m5 9h0m15-12h0m22 7h0m-51 0h0m-16 0h0m55-1h0m-8 6h0m-11-5h0m-15 7h0m-20-7h0m27 5h0m-8-4h0m7 0h0m-26 0h0m4-1h0m16-1h0m7-4h0m-8 13h0m15-11h0m4 5h0m-27-2h0m23 1h0m-20-3h0m34 7h0m18-5h0m-44 3h0m-11-4h0m14-4h0m-4 13h0m19-12h0m1 7h0m-12-7h0m-33 4h0m70 0h0" stroke="#9A8C33" stroke-width="3.9" stroke-linecap="round" fill="none"/>
<path d="M320 457h0m4-9h0m18 1h0m-17 0h0m-3 3h0m-1-4h0m0 3h0m-11-2h0m10-3h0m2 5h0m-6-7h0m-13 2h0m18 2h0m15 2h0m-18-7h0m7 5h0m-17 1h0m16-5h0m1 7h0m1-3h0m-13-5h0m6 11h0m4-12h0m4 10h0m-8-2h0m3 1h0m3-1h0m-14 4h0m-1-3h0m-7-1h0m9-7h0m-8 2h0m-6 3h0m27 8h0m7-7h0m-22-10h0m16 7h0m-17-1h0m-4 8h0m15-7h0m10 3h0m-24-1h0m14-1h0m-14-2h0m1 7h0m-11-2h0m19-3h0m27 1h0m-37 6h0m18-2h0m-17-2h0m0-1h0m16 2h0m-16 1h0m18 1h0m14-5h0m-35 3h0m23-1h0m-30-1h0m29 0h0m-5-2h0m-4-2h0m17 4h0m-1 1h0m-4-3h0m-8 3h0m3-2h0m13 1h0m-30 2h0m-5-4h0m20 1h0m-2 10h0m3-13h0m-16 8h0m22-4h0m11-1h0m-38 4h0m9-3h0m29 0h0m-26 5h0m-6-15h0m15 1h0m2 8h0m-7 1h0m-5 1h0m4 5h0m-6-4h0m11-5h0m-24 4h0m44-2h0" stroke="#C8432F" stroke-width="3.9" stroke-linecap="round" fill="none"/>
<path d="M288 471h0m26-6h0m-11 14h0m-12-10h0m-5 3h0m41-1h0m-8 3h0m-27-1h0m2-4h0m20 8h0m-19-4h0m30-1h0m-30 0h0m-12 2h0m17 3h0m-5-4h0m-12-1h0m35-2h0m-5 7h0m1 1h0m-12-10h0m5 11h0m14-7h0m-30 5h0m0-5h0m4 6h0m-7-5h0m0 2h0m8-3h0m28-1h0m-26 1h0m22 2h0m-24-11h0m-2 14h0m8-6h0m5 2h0m-13-5h0m-3 6h0m11-4h0m14 5h0m-20 2h0m19-6h0m-18-3h0m4-4h0m-9 8h0m-6 2h0m9 1h0m-4 0h0m6-3h0m29 1h0m-28-1h0m-8-4h0m20 5h0m-14-8h0m-12 6h0m33 3h0m1 1h0m-36-4h0m22 0h0m-15 6h0m20-10h0m4 8h0m6-9h0m-31 5h0m6-4h0m-1-5h0m16 9h0m-13 7h0m20-14h0m-4 5h0m6 4h0m1 6h0m-14-8h0m-13 1h0m25-4h0m-29 4h0m28 0h0m-10 3h0m-15-3h0m17 0h0m3 4h0m10-6h0m-26 2h0m-8 1h0m4-4h0m23-2h0m3 9h0m-3 3h0m-32-8h0m46 1h0" stroke="#E055AE" stroke-width="3.9" stroke-linecap="round" fill="none"/>
<path d="M326 494h0m-11 6h0m-28-5h0m-3 1h0m0 2h0m30 4h0m-26-5h0m41-7h0m-20 6h0m-12 2h0m28 3h0m-43-11h0m-1-2h0m37 11h0m10-6h0m0-4h0m-105 4h0m60-1h0m40 7h0m-8-3h0m-47-11h0m21 10h0m-4 0h0m29-1h0m-49 1h0m-41 2h0m35 2h0m46-8h0m-145 4h0m153 3h0m-27-4h0m-11-2h0m37 9h0m-10-6h0m-16-1h0m-5 6h0m-4-6h0m15 6h0m10-6h0m3 0h0m-27 7h0m7-4h0m36 0h0m-165-2h0m126 0h0m28-2h0m-28 8h0m-7-5h0m1 8h0m13-6h0m-9-7h0m5 9h0m37 0h0m-11-2h0m-34-9h0m-4 7h0m24 1h0m25-6h0m-46 11h0m8-2h0m17-13h0m-12 5h0m11 5h0m-118-2h0m143-7h0m1 12h0m-111-4h0m55 3h0m58 0h0m-19 0h0m-59-1h0m78 3h0m-42-8h0m19 0h0m-89 0h0m111 2h0m-18-7h0m8 7h0m-78-1h0m65 4h0m-95-1h0m1-3h0m86-5h0m-9 7h0m35-1h0m6 5h0m-43 2h0m44-7h0m-173 1h0m170-2h0" stroke="#8E8E8E" stroke-width="3.9" stroke-linecap="round" fill="none"/>
<path d="M322.6 352h14.1v10h-14.1zM301.3 374.9h25.4v10h-25.4zM306.7 397.9h20.4v10h-20.4zM276.3 420.9h30.3v10h-30.3zM305.7 443.8h19.1v10h-19.1zM292.3 466.8h24.4v10h-24.4zM267.9 489.7h59.8v10h-59.8z" stroke="#000" stroke-width="2.4" fill="#fff" fill-opacity="0.18"/>
<path d="M324.2 350.8h11v12.4h-11zM308.4 373.8h11v12.4h-11zM311.3 396.7h11v12.4h-11zM285.8 419.7h11v12.4h-11zM309.8 442.6h11v12.4h-11zM299.2 465.6h11v12.4h-11zM292.5 488.5h11v12.4h-11z" fill="#000"/>
<path d="M146.3 343.5V508.8M145.7 508.2H368.6" stroke="#000" stroke-width="2.2"/>
<path d="M141.3 357H146.3" stroke="#000" stroke-width="1.6"/>
<text x="139.3" y="362.4" font-size="15.1" text-anchor="end" fill="#4D4D4D">SAMBA</text>
<path d="M141.3 379.9H146.3" stroke="#000" stroke-width="1.6"/>
<text x="139.3" y="385.3" font-size="15.1" text-anchor="end" fill="#4D4D4D">RIGER</text>
<path d="M141.3 402.9H146.3" stroke="#000" stroke-width="1.6"/>
<text x="139.3" y="408.3" font-size="15.1" text-anchor="end" fill="#4D4D4D">PBNPA</text>
<path d="M141.3 425.9H146.3" stroke="#000" stroke-width="1.6"/>
<text x="139.3" y="431.2" font-size="15.1" text-anchor="end" fill="#4D4D4D">MAGECK</text>
<path d="M141.3 448.8H146.3" stroke="#000" stroke-width="1.6"/>
<text x="139.3" y="454.2" font-size="15.1" text-anchor="end" fill="#4D4D4D">JACKS</text>
<path d="M141.3 471.8H146.3" stroke="#000" stroke-width="1.6"/>
<text x="139.3" y="477.1" font-size="15.1" text-anchor="end" fill="#4D4D4D">CB2</text>
<path d="M141.3 494.7H146.3" stroke="#000" stroke-width="1.6"/>
<text x="139.3" y="500.1" font-size="15.1" text-anchor="end" fill="#4D4D4D">BAGEL</text>
<path d="M187.6 508.2V513.2" stroke="#000" stroke-width="1.6"/>
<text x="187.6" y="523.7" font-size="11.2" text-anchor="middle" fill="#4D4D4D">−0.4</text>
<path d="M249 508.2V513.2" stroke="#000" stroke-width="1.6"/>
<text x="249" y="523.7" font-size="11.2" text-anchor="middle" fill="#4D4D4D">−0.2</text>
<path d="M310.1 508.2V513.2" stroke="#000" stroke-width="1.6"/>
<text x="310.1" y="523.7" font-size="11.2" text-anchor="middle" fill="#4D4D4D">0.0</text>
<text x="257.5" y="540.2" font-size="14.1" text-anchor="middle">Relative AUC</text>
<path d="M370.1 351.5V384" stroke="#222" stroke-width="1.5"/>
<text x="364.9" y="367.8" font-size="16.5" text-anchor="middle" fill="#111" font-weight="bold" transform="rotate(90 364.9 367.8)">****</text>
<path d="M377.5 351.5V408.1" stroke="#222" stroke-width="1.5"/>
<text x="372.3" y="379.8" font-size="16.5" text-anchor="middle" fill="#111" font-weight="bold" transform="rotate(90 372.3 379.8)">****</text>
<path d="M384.9 351.5V432.2" stroke="#222" stroke-width="1.5"/>
<text x="379.7" y="391.9" font-size="16.5" text-anchor="middle" fill="#111" font-weight="bold" transform="rotate(90 379.7 391.9)">****</text>
<path d="M392.3 351.5V456.3" stroke="#222" stroke-width="1.5"/>
<text x="387.1" y="403.9" font-size="16.5" text-anchor="middle" fill="#111" font-weight="bold" transform="rotate(90 387.1 403.9)">****</text>
<path d="M399.7 351.5V480.4" stroke="#222" stroke-width="1.5"/>
<text x="394.5" y="415.9" font-size="16.5" text-anchor="middle" fill="#111" font-weight="bold" transform="rotate(90 394.5 415.9)">****</text>
<path d="M407.1 351.5V504.5" stroke="#222" stroke-width="1.5"/>
<text x="401.9" y="428" font-size="16.5" text-anchor="middle" fill="#111" font-weight="bold" transform="rotate(90 401.9 428)">****</text>
<text x="470.7" y="338.5" font-size="17">Specificity</text>
<text x="551.7" y="338.5" font-size="11.7">(pAUC: TPR &gt; 90%)</text>
<path d="M589.7 343.5V508.2" stroke="#A0A0A0" stroke-width="1"/>
<path d="M668 358h0m-25-4h0m-16 9h0m-28-5h0m48 4h0m-50-4h0m-4-1h0m18 1h0m46-5h0m-53 4h0m63-1h0m-33-4h0m-18 5h0m43-1h0m-14 5h0m-31-5h0m-4-4h0m19 3h0m-8-2h0m-3 10h0m-13-10h0m44 0h0m-23 2h0m9 5h0m-23 1h0m51-3h0m-56 9h0m2-8h0m15-8h0m-24 8h0m9-7h0m-4 12h0m-1-12h0m-13 5h0m12 4h0m38-2h0m-15 4h0m-28-7h0m0 2h0m39-6h0m-16-2h0m-22 10h0m1-2h0m12 6h0m-3-5h0m21-7h0m-20 3h0m33 3h0m-16-3h0m-17 3h0m34 4h0m-37-7h0m54 1h0m-56 0h0m51 0h0m-13-2h0m5 0h0m-14 6h0m-27-3h0m6 2h0m16-1h0m-10 0h0m11 0h0m2-3h0m0-2h0m-24 0h0m3 5h0m-13 0h0m25 0h0m-22-2h0m59 2h0m-60 3h0m58-4h0m-9-2h0m-12 10h0m20-11h0m-43 4h0m23-2h0m-20 7h0m26-6h0m-17-2h0m-25-1h0m29 3h0m0 3h0m26-1h0m-55-3h0m0-1h0m19 4h0m-29-1h0m78-1h0" stroke="#3B7CC0" stroke-width="3.9" stroke-linecap="round" fill="none"/>
<path d="M623 383h0m-18-4h0m-30-5h0m-17 8h0m60-4h0m-10 4h0m-23-1h0m-65-2h0m38 6h0m58-4h0m-75-3h0m15 4h0m55 0h0m0 2h0m-52-1h0m-19 1h0m100-1h0m-118-2h0m48-6h0m42-1h0m-93 6h0m92-2h0m33 0h0m-45 8h0m35-5h0m-85-1h0m89-1h0m-57-4h0m-15 10h0m-32-6h0m26-2h0m49 10h0m9-14h0m-52 13h0m12-5h0m73-1h0m-130 0h0m103-1h0m-33 2h0m-33-4h0m-4 4h0m3-10h0m-8 9h0m65-6h0m-55 11h0m13-5h0m33 6h0m-53-2h0m8-1h0m33-2h0m-15 0h0m4-1h0m53-1h0m-79 7h0m66-3h0m-41-6h0m-17 1h0m20-1h0m55 3h0m-20-1h0m-12 0h0m-14-3h0m7 2h0m-72 2h0m51-2h0m-20 1h0m62-4h0m-94 5h0m55 4h0m-23 2h0m14-8h0m-45 4h0m118-3h0m-21 2h0m-17-8h0m-45 0h0m63 7h0m-43 6h0m-30-5h0m39 2h0m31-2h0m5 5h0m-5 4h0m-64-13h0m44 3h0m-73-2h0m97 3h0m3-1h0m-111 0h0m132 0h0" stroke="#E08B35" stroke-width="3.9" stroke-linecap="round" fill="none"/>
<path d="M596 402h0m-14 3h0m-20-6h0m10 10h0m-32-7h0m77 6h0m-1-7h0m-49 0h0m-2-6h0m14 8h0m-9 0h0m-3-7h0m36 8h0m-38-3h0m42 9h0m-6-8h0m11 0h0m-32-6h0m30 9h0m-52-2h0m82-1h0m-43-3h0m45 3h0m-26 1h0m-17-1h0m-45-2h0m19 6h0m75-4h0m-86 1h0m20-4h0m43 3h0m-60 5h0m41-5h0m-37-3h0m52 4h0m-51-8h0m30 14h0m10-4h0m-25-3h0m25 2h0m24-3h0m-82 3h0m103 0h0m-46-1h0m-32-6h0m38 15h0m-10-4h0m-47-6h0m25-6h0m-27 6h0m35 10h0m-7-9h0m-15 2h0m69-3h0m-41 4h0m48-3h0m-85-1h0m-9 0h0m51-3h0m-25-1h0m2 8h0m67-1h0m-46-4h0m2 9h0m-49-8h0m1 0h0m19 1h0m-15 0h0m37 2h0m-34-5h0m-5 3h0m22 8h0m23-10h0m-39-3h0m13 4h0m44 6h0m-66-10h0m55 6h0m-66-1h0m45 0h0m-4 2h0m-30 0h0m91-2h0m-61 7h0m30-6h0m-55-2h0m-6 1h0m0-2h0m-14 1h0m119 1h0" stroke="#4EC29E" stroke-width="3.9" stroke-linecap="round" fill="none"/>
<path d="M587 425h0m-70 1h0m90 0h0m-78 0h0m67 1h0m9-1h0m-107 2h0m57-4h0m50 6h0m-83-10h0m65 2h0m-25-2h0m-20 6h0m-11 6h0m-12-5h0m111 1h0m-87 0h0m11-4h0m37 5h0m1-1h0m-95-3h0m132 1h0m-25 3h0m-128-4h0m95-3h0m-44 4h0m9 1h0m29-9h0m-91 6h0m142-1h0m-108 1h0m17 1h0m16-3h0m-4 4h0m18 3h0m-7-2h0m80 1h0m-58 6h0m-67-7h0m26-2h0m41 0h0m44 2h0m-3-5h0m-67 10h0m14-3h0m-14-10h0m31 6h0m-17-8h0m9 4h0m-43 7h0m77-6h0m-21-2h0m-62 7h0m67-6h0m-19 6h0m-27 1h0m34-4h0m1 5h0m-26 6h0m46-9h0m26 2h0m-74-1h0m-15-3h0m60 10h0m-103-10h0m90-6h0m-64 6h0m48 5h0m-72-3h0m84 1h0m-96-1h0m131-1h0m-10 3h0m-61-3h0m-21-5h0m81 3h0m-98 3h0m-1-2h0m68 5h0m22-2h0m-101-1h0m85-2h0m-14-2h0m-9 7h0m28-4h0m-64 2h0m64-2h0m-41-7h0m-70 8h0m166-1h0" stroke="#9A8C33" stroke-width="3.9" stroke-linecap="round" fill="none"/>
<path d="M559 447h0m64-1h0m-46 3h0m59-1h0m-17-1h0m35 2h0m-69 3h0m-3-3h0m3-3h0m32-4h0m7 0h0m-3 6h0m9 3h0m-20-4h0m-11-2h0m12 11h0m36-9h0m-67 1h0m14 3h0m54-2h0m-59-10h0m-57 10h0m80 1h0m3 6h0m28-8h0m-56 4h0m25-1h0m-26-10h0m28 7h0m4 1h0m-30 0h0m37 0h0m2-2h0m-18 2h0m12-3h0m8 6h0m-1-10h0m-1 11h0m-43-4h0m30-8h0m-25 0h0m16 12h0m-8-5h0m-60-1h0m102-2h0m-89 1h0m53 10h0m-66-8h0m60 3h0m37-2h0m-25-6h0m-17 9h0m-26-3h0m27 1h0m48 2h0m-21 1h0m-22-4h0m12-2h0m8 1h0m-4 3h0m14-3h0m-12 1h0m7 4h0m-24-7h0m14 7h0m1-7h0m13 2h0m26 2h0m-70 0h0m-5 3h0m36-5h0m14-6h0m-25 7h0m-20 3h0m33-3h0m-33 3h0m11 0h0m43-6h0m-6-1h0m5 4h0m-85 0h0m63 8h0m-73-9h0m88 3h0m-20 0h0m12-5h0m-46 1h0m39 2h0m-81 0h0m122 0h0" stroke="#C8432F" stroke-width="3.9" stroke-linecap="round" fill="none"/>
<path d="M615 471h0m0 4h0m3-6h0m-75 2h0m74 0h0m-73 3h0m-5-3h0m18 1h0m52 2h0m-35 2h0m35-13h0m-62 12h0m79-8h0m-17 3h0m-37 2h0m35-1h0m-11 1h0m-66-1h0m94 0h0m-86 1h0m79 8h0m-63-7h0m63 7h0m-11-8h0m-88-1h0m53 5h0m45-3h0m-35 4h0m12-10h0m-8 5h0m3 8h0m36-10h0m-67-2h0m79 4h0m2 0h0m-22-1h0m-63 0h0m35 1h0m-29 2h0m1 0h0m5-2h0m14-2h0m12 6h0m4-7h0m-73 4h0m17 2h0m90-4h0m-49-1h0m-14-1h0m54 6h0m-73-4h0m74 7h0m-54-7h0m53-3h0m-90 4h0m23-1h0m-1 3h0m60 6h0m-24-10h0m20 6h0m-88-6h0m2 4h0m54-2h0m-16-8h0m15 11h0m-5-2h0m18-6h0m36 5h0m-70-1h0m20 5h0m58-4h0m-9 3h0m-100-5h0m91 1h0m-77 3h0m59 2h0m15-5h0m-21-2h0m-59 3h0m25 4h0m4-2h0m77-2h0m-28 2h0m-87-1h0m65-6h0m49 5h0m-18-2h0m-75 2h0m-33-1h0m127 1h0" stroke="#E055AE" stroke-width="3.9" stroke-linecap="round" fill="none"/>
<path d="M557 494h0m-9-1h0m-35 2h0m56-2h0m-8 2h0m4-5h0m-24 5h0m13-2h0m26-4h0m-46 6h0m43-1h0m-36-4h0m22 3h0m-65 3h0m72-6h0m25 6h0m-45-2h0m45-5h0m11 8h0m-2-1h0m-1-1h0m-50-3h0m8 9h0m68-6h0m-117-2h0m28 0h0m88-1h0m-104 5h0m59-4h0m44 2h0m-14-1h0m-18 0h0m-19 2h0m-53-3h0m76 3h0m-113-2h0m14 0h0m93 1h0m-45 1h0m-32-2h0m70 5h0m10 2h0m-51-8h0m24 9h0m-21-12h0m-6 10h0m17-5h0m17 4h0m-29-7h0m-22 4h0m67-2h0m13 1h0m-58-4h0m54 7h0m-18-5h0m-100 2h0m63 6h0m17-6h0m26 6h0m-26-1h0m28-10h0m27 7h0m18-3h0m-45 0h0m-8-5h0m-3 6h0m15 2h0m-36-4h0m-36-2h0m82 4h0m4 0h0m6-2h0m-3 2h0m-10-1h0m-56 6h0m23-2h0m31 2h0m-118-4h0m91-2h0m19-8h0m-48 11h0m15 0h0m-8 1h0m-28-6h0m39 6h0m7 0h0m37-2h0m-74-1h0m-51-1h0m154 1h0" stroke="#8E8E8E" stroke-width="3.9" stroke-linecap="round" fill="none"/>
<path d="M602.8 352h38.7v10h-38.7zM554.8 374.9h67.5v10h-67.5zM563.3 397.9h51.4v10h-51.4zM518.7 420.9h81.6v10h-81.6zM584 443.8h46v10h-46zM552.7 466.8h65.2v10h-65.2zM542.7 489.7h57.6v10h-57.6z" stroke="#000" stroke-width="2.4" fill="#fff" fill-opacity="0.18"/>
<path d="M615.9 350.8h11v12.4h-11zM582.7 373.8h11v12.4h-11zM583.3 396.7h11v12.4h-11zM553.9 419.7h11v12.4h-11zM601.5 442.6h11v12.4h-11zM579.8 465.6h11v12.4h-11zM566 488.5h11v12.4h-11z" fill="#000"/>
<path d="M456.9 343.5V508.8M456.3 508.2H679" stroke="#000" stroke-width="2.2"/>
<path d="M451.9 357H456.9M451.9 379.9H456.9M451.9 402.9H456.9M451.9 425.9H456.9M451.9 448.8H456.9M451.9 471.8H456.9M451.9 494.7H456.9M496.1 508.2V513.2" stroke="#000" stroke-width="1.6"/>
<text x="496.1" y="523.7" font-size="11.2" text-anchor="middle" fill="#4D4D4D">−0.2</text>
<path d="M543.1 508.2V513.2" stroke="#000" stroke-width="1.6"/>
<text x="543.1" y="523.7" font-size="11.2" text-anchor="middle" fill="#4D4D4D">−0.1</text>
<path d="M589.7 508.2V513.2" stroke="#000" stroke-width="1.6"/>
<text x="589.7" y="523.7" font-size="11.2" text-anchor="middle" fill="#4D4D4D">0.0</text>
<path d="M636.2 508.2V513.2" stroke="#000" stroke-width="1.6"/>
<text x="636.2" y="523.7" font-size="11.2" text-anchor="middle" fill="#4D4D4D">0.1</text>
<text x="568" y="540.2" font-size="14.1" text-anchor="middle">Relative AUC</text>
<path d="M680.5 351.5V384" stroke="#222" stroke-width="1.5"/>
<text x="675.3" y="367.8" font-size="16.5" text-anchor="middle" fill="#111" font-weight="bold" transform="rotate(90 675.3 367.8)">****</text>
<path d="M687.9 351.5V408.1" stroke="#222" stroke-width="1.5"/>
<text x="682.7" y="379.8" font-size="16.5" text-anchor="middle" fill="#111" font-weight="bold" transform="rotate(90 682.7 379.8)">****</text>
<path d="M695.3 351.5V432.2" stroke="#222" stroke-width="1.5"/>
<text x="690.1" y="391.9" font-size="16.5" text-anchor="middle" fill="#111" font-weight="bold" transform="rotate(90 690.1 391.9)">****</text>
<path d="M702.7 351.5V456.3" stroke="#222" stroke-width="1.5"/>
<text x="697.5" y="403.9" font-size="16.5" text-anchor="middle" fill="#111" font-weight="bold" transform="rotate(90 697.5 403.9)">*</text>
<path d="M710.1 351.5V480.4" stroke="#222" stroke-width="1.5"/>
<text x="704.9" y="415.9" font-size="16.5" text-anchor="middle" fill="#111" font-weight="bold" transform="rotate(90 704.9 415.9)">****</text>
<path d="M717.5 351.5V504.5" stroke="#222" stroke-width="1.5"/>
<text x="712.3" y="428" font-size="16.5" text-anchor="middle" fill="#111" font-weight="bold" transform="rotate(90 712.3 428)">****</text>
<text x="768.2" y="338.5" font-size="17">Sensitivity</text>
<text x="847.3" y="338.5" font-size="11.7">(pAUC: FPR &lt; 10%)</text>
<path d="M890.7 343.5V508.2" stroke="#A0A0A0" stroke-width="1"/>
<path d="M904 354h0m1 3h0m24 0h0m8 2h0m-19-12h0m16 5h0m7 6h0m-32-11h0m13 9h0m-9 1h0m-3 5h0m25 2h0m-14-9h0m6 4h0m-3-2h0m-20 6h0m-6-5h0m39 5h0m-25-5h0m-7 5h0m1-6h0m0 0h0m19 1h0m9-7h0m-85 6h0m40-5h0m-10 6h0m68-1h0m-1 1h0m-44-1h0m22-5h0m-34 3h0m23 11h0m-59-9h0m58 2h0m24 5h0m-60-6h0m38 1h0m-18-7h0m11 12h0m22-3h0m13-7h0m-26 4h0m-9-2h0m-2-2h0m1 4h0m-17-2h0m46-4h0m-54 1h0m51 4h0m-40-1h0m20 1h0m4 0h0m-5-1h0m33 5h0m-4-4h0m-8 4h0m2-5h0m-4 4h0m-3-2h0m8-1h0m0-5h0m-60 6h0m64 0h0m-4 4h0m-9-4h0m29-1h0m3 0h0m12-1h0m-46 1h0m10-1h0m-68-1h0m70 0h0m-8 4h0m3-2h0m8-4h0m-7-6h0m25 10h0m-53 6h0m3-5h0m-23-1h0m28 2h0m-28-3h0m29-4h0m49 5h0m-25 4h0m19-3h0m-4 2h0m-102-4h0m119 1h0" stroke="#3B7CC0" stroke-width="3.9" stroke-linecap="round" fill="none"/>
<path d="M943 376h0m26 5h0m-41-3h0m32 5h0m-28 1h0m15-5h0m18 1h0m-70-2h0m21 3h0m-24 3h0m38-3h0m-53-2h0m4 8h0m0-9h0m55 5h0m-75-4h0m15 0h0m65 0h0m10 0h0m-60 8h0m47-7h0m-17 1h0m-22-3h0m40 3h0m-74 0h0m9-2h0m-1-5h0m6 3h0m85 1h0m-78 1h0m7 10h0m74-9h0m-61 5h0m26 3h0m40-9h0m-32 0h0m-21 5h0m9-1h0m-27 1h0m-19 0h0m-2-9h0m-17 3h0m71 11h0m21-12h0m-77-1h0m-1 6h0m4 1h0m8-3h0m40-1h0m28 1h0m-57 3h0m-3-5h0m43 2h0m-87 1h0m107-1h0m-17-2h0m-74 2h0m55-5h0m-74 5h0m90-4h0m-92 4h0m96 0h0m-55-9h0m12 8h0m-16 3h0m35 0h0m-35-7h0m2 2h0m-13 1h0m46 2h0m-9 5h0m30-7h0m-5 0h0m-7 5h0m-76-2h0m42 4h0m-13-5h0m45-6h0m-9 12h0m-46-7h0m-18 1h0m-2 1h0m94 0h0m-97 0h0m83-1h0m-18 3h0m-39-2h0m17-7h0m-46 5h0m126 1h0" stroke="#E08B35" stroke-width="3.9" stroke-linecap="round" fill="none"/>
<path d="M876 404h0m50 0h0m-19-8h0m-21 5h0m54-7h0m-20 13h0m-25-1h0m-18-3h0m64-2h0m-66 2h0m58 5h0m-67-5h0m29 2h0m59-2h0m-26-2h0m14-2h0m-44 8h0m2-4h0m31-6h0m0 0h0m-7 9h0m37-5h0m-91 0h0m-5 3h0m-1-1h0m18-2h0m-12 1h0m26-7h0m51 7h0m-45 0h0m5 2h0m25-3h0m7 9h0m-45-12h0m49 6h0m4-2h0m-15 2h0m-8 3h0m-29-2h0m0 4h0m66-7h0m-52-1h0m43 3h0m-12 5h0m-11 0h0m-23-2h0m0 3h0m-45-7h0m75 1h0m-31-8h0m-5 10h0m29-1h0m-34 4h0m-3-8h0m-17 2h0m17-1h0m27-2h0m-49 6h0m54-8h0m15 5h0m23 0h0m-38-3h0m-62 4h0m100-2h0m4 1h0m-70 0h0m8 0h0m-11-4h0m66 2h0m-51-4h0m53 8h0m-54 0h0m-1 1h0m45-4h0m-60 1h0m9 1h0m23 3h0m8-7h0m-21 3h0m18-1h0m-15-3h0m37 6h0m-29 3h0m4-7h0m-33 0h0m40 2h0m-63-1h0m50 1h0m-59-1h0m108 2h0" stroke="#4EC29E" stroke-width="3.9" stroke-linecap="round" fill="none"/>
<path d="M819 423h0m57 7h0m2-4h0m-13 2h0m-73-3h0m25-2h0m59 3h0m9 1h0m-65 7h0m74-11h0m7 0h0m-25 2h0m-45 2h0m54-1h0m-5-3h0m-54 0h0m77 0h0m-55 3h0m31 1h0m-49-8h0m-11 3h0m32-1h0m-22 1h0m44-4h0m-95 8h0m74 4h0m-26-9h0m-44 5h0m38-5h0m11 6h0m-39-1h0m8 1h0m110-1h0m-77-4h0m9 6h0m42 0h0m-23 2h0m-8 0h0m26-3h0m-63-3h0m1-2h0m21 7h0m-17-4h0m-18 1h0m84 2h0m-48-1h0m2-2h0m10 3h0m24-4h0m-1-2h0m-11 7h0m31-1h0m-18-3h0m-37 0h0m-14 6h0m-1-1h0m2-1h0m81-3h0m-31 1h0m-15 2h0m-30 1h0m6-2h0m30-2h0m36 3h0m-66-10h0m72 7h0m6-1h0m-44 2h0m-18 6h0m49-7h0m-89 1h0m39 4h0m-2-3h0m47 0h0m-83-3h0m74 5h0m-64-4h0m45-6h0m-32 9h0m-40-3h0m39-5h0m1 11h0m-5-7h0m-12 8h0m61-8h0m-59 6h0m34-9h0m-10 6h0m-70-2h0m140-1h0" stroke="#9A8C33" stroke-width="3.9" stroke-linecap="round" fill="none"/>
<path d="M902 450h0m-24-2h0m-2 2h0m46-1h0m8-2h0m-40-5h0m-1-2h0m39 5h0m-13 3h0m-7 3h0m-3-2h0m25-2h0m-61 2h0m58 1h0m-42 7h0m-19-12h0m42 1h0m-17 0h0m-4 3h0m-25-1h0m-7 0h0m60 6h0m-19-7h0m-2-5h0m-4 10h0m23-8h0m-30 8h0m8-5h0m-30 3h0m56-9h0m-26 12h0m-7-4h0m20 0h0m3 0h0m2 0h0m23-1h0m-16 2h0m-12 4h0m11-4h0m-22 2h0m1 5h0m10-13h0m-23 9h0m27-3h0m0-6h0m22 3h0m-42 4h0m-13-5h0m2 5h0m45 3h0m-41-5h0m35-6h0m7 3h0m-10 7h0m-29-7h0m22 8h0m15 0h0m-7-6h0m-15 1h0m34 0h0m-26 2h0m25-1h0m-37 0h0m-14-6h0m49 5h0m-5-6h0m-35 6h0m34-8h0m3 11h0m-46-4h0m44-1h0m-57 4h0m59-2h0m-22 0h0m-1-3h0m19 7h0m-18-2h0m-15-4h0m-4 1h0m20 3h0m-26 1h0m35-7h0m-13 0h0m-33 5h0m47-6h0m-34 3h0m-11 2h0m35 2h0m-52-2h0m80-1h0" stroke="#C8432F" stroke-width="3.9" stroke-linecap="round" fill="none"/>
<path d="M813 470h0m-21 1h0m56-9h0m45 8h0m0 2h0m-11 1h0m-24-10h0m-36 8h0m68 6h0m60-6h0m-60-2h0m-10 1h0m-7-1h0m77 4h0m-61-5h0m-66 3h0m15 2h0m72 4h0m-6-3h0m-40-3h0m-42 6h0m60-5h0m3-2h0m1-1h0m-20 2h0m-51 3h0m54-5h0m-61 6h0m13-3h0m14-5h0m-9 5h0m3 1h0m21 6h0m-7-6h0m70 1h0m-70-2h0m106-1h0m-79-4h0m-87 6h0m105 3h0m-29-6h0m-63 1h0m95 6h0m-92-7h0m23 3h0m85-4h0m-89 3h0m117-1h0m-118-3h0m0 8h0m6-9h0m125 6h0m-163-1h0m86 4h0m-9-7h0m-12 7h0m-75-5h0m6-1h0m-2 3h0m48-2h0m64-4h0m14 10h0m51-6h0m-41-5h0m-137 6h0m37 0h0m90 2h0m-20 5h0m-58-10h0m49 7h0m-6 1h0m18-9h0m6 3h0m-38 1h0m-23 0h0m29-3h0m33 1h0m-6 7h0m-41-3h0m70-2h0m-77-4h0m-26 6h0m71-11h0m-5 5h0m-80 6h0m66-6h0m4 7h0m42-6h0m-142 2h0m185 0h0" stroke="#E055AE" stroke-width="3.9" stroke-linecap="round" fill="none"/>
<path d="M846 497h0m5-8h0m-22 3h0m10 4h0m1 0h0m-16 0h0m36 2h0m-31-6h0m55 7h0m-27-2h0m-22-3h0m28 2h0m25 5h0m-49-1h0m49-2h0m-2-7h0m-7 3h0m-7 1h0m-15 0h0m-15 2h0m-28-3h0m77 1h0m-13-1h0m-32 9h0m25-14h0m7 1h0m6 1h0m-16 4h0m11-2h0m-16 0h0m-51 1h0m75 1h0m-77 0h0m28 0h0m-2 3h0m71-4h0m-63 7h0m29-9h0m-16-3h0m6 10h0m23-8h0m-37-2h0m14 2h0m-23-3h0m33 10h0m-46-4h0m22 2h0m-30 1h0m52-2h0m-8-10h0m-9 7h0m-32 1h0m64 0h0m-13 8h0m-45-6h0m30 4h0m27-3h0m-15-1h0m8 7h0m11-8h0m-22-1h0m21 2h0m-42 2h0m7-3h0m-43 1h0m34 5h0m43-5h0m-6 1h0m-35 1h0m-7-2h0m6-2h0m-8 2h0m44-2h0m8-3h0m-34 13h0m-4-11h0m-11 2h0m7 0h0m4 0h0m29 2h0m-66-3h0m19 1h0m43 0h0m-64 1h0m65-9h0m-30 16h0m0-8h0m20-1h0m-59 2h0m99 0h0" stroke="#8E8E8E" stroke-width="3.9" stroke-linecap="round" fill="none"/>
<path d="M905.2 352h36.4v10h-36.4zM880 374.9h59v10h-59zM894 397.9h47.6v10h-47.6zM818.2 420.9h56.5v10h-56.5zM882.5 443.8h40.8v10h-40.8zM817.2 466.8h86.9v10h-86.9zM845.5 489.7h40.2v10h-40.2z" stroke="#000" stroke-width="2.4" fill="#fff" fill-opacity="0.18"/>
<path d="M917.3 350.8h11v12.4h-11zM903.8 373.8h11v12.4h-11zM912.5 396.7h11v12.4h-11zM840.5 419.7h11v12.4h-11zM897.1 442.6h11v12.4h-11zM855.5 465.6h11v12.4h-11zM860.1 488.5h11v12.4h-11z" fill="#000"/>
<path d="M759.2 343.5V508.8M758.6 508.2H982.3" stroke="#000" stroke-width="2.2"/>
<path d="M754.2 357H759.2M754.2 379.9H759.2M754.2 402.9H759.2M754.2 425.9H759.2M754.2 448.8H759.2M754.2 471.8H759.2M754.2 494.7H759.2M792.2 508.2V513.2" stroke="#000" stroke-width="1.6"/>
<text x="792.2" y="523.7" font-size="11.2" text-anchor="middle" fill="#4D4D4D">−0.2</text>
<path d="M841.2 508.2V513.2" stroke="#000" stroke-width="1.6"/>
<text x="841.2" y="523.7" font-size="11.2" text-anchor="middle" fill="#4D4D4D">−0.1</text>
<path d="M890.7 508.2V513.2" stroke="#000" stroke-width="1.6"/>
<text x="890.7" y="523.7" font-size="11.2" text-anchor="middle" fill="#4D4D4D">0.0</text>
<path d="M939.7 508.2V513.2" stroke="#000" stroke-width="1.6"/>
<text x="939.7" y="523.7" font-size="11.2" text-anchor="middle" fill="#4D4D4D">0.1</text>
<text x="870.8" y="540.2" font-size="14.1" text-anchor="middle">Relative AUC</text>
<path d="M983.8 351.5V384" stroke="#222" stroke-width="1.5"/>
<text x="985" y="367.8" font-size="10" text-anchor="middle" fill="#222" transform="rotate(90 985 367.8)">ns</text>
<path d="M991.2 351.5V408.1" stroke="#222" stroke-width="1.5"/>
<text x="992.4" y="379.8" font-size="10" text-anchor="middle" fill="#222" transform="rotate(90 992.4 379.8)">ns</text>
<path d="M998.6 351.5V432.2" stroke="#222" stroke-width="1.5"/>
<text x="993.4" y="391.9" font-size="16.5" text-anchor="middle" fill="#111" font-weight="bold" transform="rotate(90 993.4 391.9)">****</text>
<path d="M1006 351.5V456.3" stroke="#222" stroke-width="1.5"/>
<text x="1000.8" y="403.9" font-size="16.5" text-anchor="middle" fill="#111" font-weight="bold" transform="rotate(90 1000.8 403.9)">***</text>
<path d="M1013.4 351.5V480.4" stroke="#222" stroke-width="1.5"/>
<text x="1008.2" y="415.9" font-size="16.5" text-anchor="middle" fill="#111" font-weight="bold" transform="rotate(90 1008.2 415.9)">****</text>
<path d="M1020.8 351.5V504.5" stroke="#222" stroke-width="1.5"/>
<text x="1015.6" y="428" font-size="16.5" text-anchor="middle" fill="#111" font-weight="bold" transform="rotate(90 1015.6 428)">****</text>
<text x="1168.8" y="338.7" font-size="17">AUC</text>
<path d="M1271.5 343.5V508.2" stroke="#A0A0A0" stroke-width="1"/>
<path d="M1269 355h0m-17 10h0m1-9h0m-28-4h0m41 2h0m-15 0h0m-5 5h0m30-5h0m8 3h0m-45-5h0m70 4h0m-81 6h0m73-7h0m-58 7h0m46-4h0m-56-2h0m10 9h0m9-12h0m33 6h0m20 0h0m-31-2h0m12-4h0m-10 9h0m-23-4h0m-22-3h0m22 2h0m36-1h0m-80-2h0m80 2h0m-7 4h0m-5 1h0m5 1h0m-37-4h0m-16 4h0m11-1h0m-17-7h0m32 3h0m-20-3h0m-3-2h0m62 3h0m-3 2h0m-42-1h0m-6 0h0m71 1h0m-1 0h0m-20 1h0m-76 1h0m51 0h0m13-6h0m-45 6h0m-19-2h0m62-5h0m-74 5h0m27 6h0m18-10h0m24 7h0m1-7h0m-60 4h0m16 4h0m25-8h0m-17 7h0m76-2h0m-71 1h0m0 0h0m47-7h0m5 6h0m-67-3h0m2-1h0m59 0h0m10 1h0m-9 2h0m-82 1h0m33 0h0m17-1h0m-17-8h0m3 10h0m46-1h0m-58-2h0m32-5h0m25 7h0m-52-6h0m10 0h0m27 8h0m-19-11h0m22 8h0m-21 4h0m44-3h0m-76 1h0m-24-1h0m117 0h0" stroke="#3B7CC0" stroke-width="3.9" stroke-linecap="round" fill="none"/>
<path d="M1263 372h0m1 13h0m30-5h0m-45 0h0m-16 1h0m64-2h0m-4 6h0m-32-6h0m19-1h0m12 3h0m-24-1h0m3-1h0m-16-2h0m48 3h0m-5-3h0m-12 5h0m-5-2h0m7-3h0m11 1h0m-14 5h0m0-6h0m-19 2h0m31 1h0m-31 7h0m1-16h0m-6 12h0m-1 1h0m44-5h0m-40 3h0m38-2h0m-25 1h0m-31-3h0m50 6h0m-8 0h0m-2-7h0m-24-5h0m19 2h0m-18 7h0m25-2h0m-10 6h0m-8-10h0m-41 6h0m5-2h0m44-3h0m-20 5h0m24-9h0m15 4h0m-36 2h0m41 3h0m-27-2h0m18 0h0m4-1h0m-29-7h0m7 17h0m-33-8h0m26-5h0m-31 2h0m31 5h0m-3-6h0m13 7h0m-7 4h0m30-5h0m-26-6h0m11-3h0m6 6h0m-53 1h0m58 6h0m-38-8h0m30-2h0m-5 7h0m-23-2h0m5 1h0m-16-1h0m13 7h0m32-9h0m-34 2h0m31 5h0m4-5h0m-13-1h0m15 5h0m-29-2h0m0-11h0m-9 10h0m38 1h0m-31-10h0m26 2h0m-47 6h0m43 2h0m-61-3h0m76-1h0" stroke="#E08B35" stroke-width="3.9" stroke-linecap="round" fill="none"/>
<path d="M1270 398h0m-23 3h0m-3-7h0m25 10h0m-17-6h0m-21 4h0m28-2h0m-2 3h0m4 5h0m-25-7h0m42 3h0m-15 0h0m-33 0h0m19-9h0m9 12h0m-20-3h0m-2-3h0m41 2h0m-51 0h0m32-7h0m-29 7h0m38 3h0m-24-1h0m19 2h0m-15-2h0m-5-3h0m40 1h0m-2-1h0m-30 3h0m19 4h0m-11-4h0m2 4h0m23-6h0m-37-5h0m18 11h0m8-3h0m-35-5h0m33 2h0m-31 2h0m35-3h0m1 2h0m-41-1h0m47 0h0m-1-2h0m-12 5h0m-1 4h0m-7-4h0m-8-1h0m-3-1h0m21 2h0m-29-2h0m12 3h0m16-5h0m-13-9h0m14 7h0m-27 1h0m-1 3h0m0 3h0m-1-10h0m26 8h0m-24-6h0m36 6h0m-53-2h0m41 0h0m-19-9h0m-6 12h0m7 3h0m0-11h0m15-4h0m18 10h0m-42-2h0m32-2h0m-7-3h0m5 6h0m-20-1h0m-4-3h0m6 9h0m9-5h0m8 0h0m-6-1h0m-35 2h0m12 2h0m24-4h0m-7-4h0m-15 4h0m20-8h0m-18 13h0m-8-1h0m-13-3h0m59 1h0" stroke="#4EC29E" stroke-width="3.9" stroke-linecap="round" fill="none"/>
<path d="M1233 430h0m48-4h0m-62 0h0m-4-1h0m6 4h0m-18-3h0m24-3h0m40 11h0m-78-10h0m-9 2h0m50-5h0m63 5h0m-75 2h0m73 0h0m-5-2h0m-3 1h0m-52-2h0m-19 5h0m10-7h0m48 5h0m-68-3h0m14 3h0m12 0h0m31 2h0m5 1h0m10-5h0m-57 3h0m44 3h0m-49-4h0m56-11h0m0 7h0m-36-3h0m8 6h0m35 0h0m-80-1h0m40 2h0m22 2h0m35-4h0m-50 1h0m44 2h0m-29-4h0m-18 5h0m-47-2h0m75 0h0m-58 0h0m37-7h0m-77 5h0m88 1h0m-80-1h0m75 0h0m-37-2h0m35 5h0m32-2h0m-1 2h0m-20-5h0m-6-6h0m-71 8h0m55 3h0m3-1h0m40-2h0m-87 2h0m61 3h0m-65-4h0m88-2h0m-64-5h0m32 9h0m-31-2h0m3-1h0m21 7h0m-57-7h0m76-4h0m-26 2h0m-12-3h0m40 13h0m-41-8h0m51 1h0m-12 6h0m24-5h0m-16 1h0m-29 2h0m-21-5h0m54 2h0m-5 3h0m-41-12h0m2 3h0m1 5h0m-1-1h0m44 0h0m-105-1h0m128 2h0" stroke="#9A8C33" stroke-width="3.9" stroke-linecap="round" fill="none"/>
<path d="M1290 454h0m-32-4h0m35 7h0m-8-8h0m4 0h0m9 0h0m-1 5h0m-50-2h0m46-1h0m46-3h0m-56-3h0m-26 13h0m42-9h0m-2-1h0m-36 3h0m15 1h0m13-2h0m-40 1h0m16-8h0m-3 11h0m-18-4h0m2-4h0m16 0h0m56 3h0m-14-3h0m-69 2h0m24-4h0m42 5h0m-41-4h0m44 6h0m-29-4h0m10 1h0m-2-9h0m-7 9h0m41 1h0m-20-1h0m-12-6h0m-33 9h0m3-4h0m21 3h0m-21-5h0m26 5h0m-10-1h0m-14-4h0m-16 0h0m6 4h0m91 0h0m-69-4h0m29 8h0m-42-5h0m30-2h0m-9 0h0m-9 8h0m-9-3h0m-2-1h0m82-1h0m-21 0h0m-19 2h0m-42-3h0m43 3h0m-17 2h0m14-4h0m32-1h0m-46-6h0m13 5h0m-20 0h0m-32 3h0m51 2h0m-1 6h0m-46-10h0m85 1h0m-53 2h0m-36 0h0m42-1h0m-20-2h0m36 5h0m-29-4h0m-15-10h0m-9 11h0m38 2h0m9-8h0m-21 2h0m19 6h0m-55-4h0m18 1h0m31 3h0m21-9h0m-52 4h0m-26 1h0m107 2h0" stroke="#C8432F" stroke-width="3.9" stroke-linecap="round" fill="none"/>
<path d="M1320 467h0m46 6h0m-136-1h0m89-4h0m44 5h0m-53-2h0m2-8h0m-10 12h0m-27-6h0m51 10h0m-59-7h0m35 2h0m-46 0h0m29 6h0m21-16h0m-12 13h0m38-2h0m-45-2h0m65-1h0m-46-2h0m-32-6h0m16 4h0m27 1h0m-61 7h0m22 1h0m39-2h0m-20 0h0m-22-3h0m27 0h0m26 1h0m-128-2h0m62 0h0m29 5h0m16 2h0m-4-2h0m-17 1h0m45-7h0m-16-4h0m-33 13h0m-34-4h0m16-3h0m57 5h0m-10-11h0m20 10h0m-88-8h0m66-3h0m-81 5h0m5 3h0m0-4h0m117 3h0m-52 2h0m16 2h0m-25-3h0m63 1h0m-42-4h0m-12 0h0m18 3h0m-41 0h0m-13 1h0m55-5h0m-17-3h0m5 5h0m31 8h0m-67-7h0m44-5h0m-48 4h0m96 1h0m-111-3h0m58 3h0m-64 4h0m87-6h0m-26 6h0m16-3h0m20 1h0m-65-3h0m18 1h0m-9-2h0m-20 3h0m23 1h0m-29-2h0m89 1h0m11-1h0m-90-1h0m56 0h0m-49-6h0m63 5h0m-33 1h0m15 1h0m-122 0h0m167-1h0" stroke="#E055AE" stroke-width="3.9" stroke-linecap="round" fill="none"/>
<path d="M1275 495h0m10-5h0m12 2h0m-13 9h0m-2 1h0m14-12h0m-6 6h0m-18-1h0m-7 0h0m3 0h0m27 4h0m4-6h0m-8 0h0m-15 8h0m3-11h0m17-1h0m4 8h0m-27-2h0m19-3h0m-3 3h0m-18-1h0m3 5h0m18-7h0m-9 3h0m-9-6h0m0 7h0m26 1h0m-6-10h0m-10 2h0m10 7h0m-14-3h0m11 0h0m-9 8h0m5-8h0m-6-2h0m-7 6h0m2-3h0m25 2h0m-22 7h0m-4-11h0m0 0h0m-5 4h0m19-1h0m11-1h0m-3 3h0m-21 3h0m20-7h0m-20 7h0m-5-1h0m18-7h0m8 3h0m-7 1h0m2 4h0m-5-6h0m-6 2h0m-5-2h0m24 1h0m-12-6h0m-8 5h0m14 3h0m-22-1h0m0-3h0m9 2h0m6-5h0m17 8h0m-27-1h0m4-7h0m16 8h0m-10 0h0m-13-3h0m24 5h0m-23-8h0m27 6h0m-5-4h0m-32 0h0m13-8h0m5 7h0m-8 5h0m20 5h0m0-11h0m-5 1h0m18 4h0m-14-2h0m-25-3h0m13 8h0m19-5h0m-20 3h0m23-2h0m-38-1h0m44 0h0" stroke="#8E8E8E" stroke-width="3.9" stroke-linecap="round" fill="none"/>
<path d="M1233.7 352h56v10h-56zM1262.5 374.9h33v10h-33zM1242.7 397.9h24.5v10h-24.5zM1215.5 420.9h54.4v10h-54.4zM1258.1 443.8h42.2v10h-42.2zM1263.3 466.8h66.1v10h-66.1zM1275.4 489.7h19.5v10h-19.5z" stroke="#000" stroke-width="2.4" fill="#fff" fill-opacity="0.18"/>
<path d="M1255.4 350.8h11v12.4h-11zM1273.7 373.8h11v12.4h-11zM1249.7 396.7h11v12.4h-11zM1237.2 419.7h11v12.4h-11zM1273.7 442.6h11v12.4h-11zM1291 465.6h11v12.4h-11zM1279.4 488.5h11v12.4h-11z" fill="#000"/>
<path d="M1155.4 343.5V508.8M1154.8 508.2H1376.1" stroke="#000" stroke-width="2.2"/>
<path d="M1150.4 357H1155.4" stroke="#000" stroke-width="1.6"/>
<text x="1148.4" y="362.4" font-size="15.1" text-anchor="end" fill="#4D4D4D">SAMBA</text>
<path d="M1150.4 379.9H1155.4" stroke="#000" stroke-width="1.6"/>
<text x="1148.4" y="385.3" font-size="15.1" text-anchor="end" fill="#4D4D4D">RIGER</text>
<path d="M1150.4 402.9H1155.4" stroke="#000" stroke-width="1.6"/>
<text x="1148.4" y="408.3" font-size="15.1" text-anchor="end" fill="#4D4D4D">PBNPA</text>
<path d="M1150.4 425.9H1155.4" stroke="#000" stroke-width="1.6"/>
<text x="1148.4" y="431.2" font-size="15.1" text-anchor="end" fill="#4D4D4D">MAGECK</text>
<path d="M1150.4 448.8H1155.4" stroke="#000" stroke-width="1.6"/>
<text x="1148.4" y="454.2" font-size="15.1" text-anchor="end" fill="#4D4D4D">JACKS</text>
<path d="M1150.4 471.8H1155.4" stroke="#000" stroke-width="1.6"/>
<text x="1148.4" y="477.1" font-size="15.1" text-anchor="end" fill="#4D4D4D">CB2</text>
<path d="M1150.4 494.7H1155.4" stroke="#000" stroke-width="1.6"/>
<text x="1148.4" y="500.1" font-size="15.1" text-anchor="end" fill="#4D4D4D">BAGEL</text>
<path d="M1212.6 508.2V513.2" stroke="#000" stroke-width="1.6"/>
<text x="1212.6" y="523.7" font-size="11.2" text-anchor="middle" fill="#4D4D4D">−0.1</text>
<path d="M1271.5 508.2V513.2" stroke="#000" stroke-width="1.6"/>
<text x="1271.5" y="523.7" font-size="11.2" text-anchor="middle" fill="#4D4D4D">0.0</text>
<path d="M1330.1 508.2V513.2" stroke="#000" stroke-width="1.6"/>
<text x="1330.1" y="523.7" font-size="11.2" text-anchor="middle" fill="#4D4D4D">0.1</text>
<text x="1265.8" y="540.2" font-size="14.1" text-anchor="middle">Relative AUC</text>
<path d="M1377.6 351.5V384" stroke="#222" stroke-width="1.5"/>
<text x="1372.4" y="367.8" font-size="16.5" text-anchor="middle" fill="#111" font-weight="bold" transform="rotate(90 1372.4 367.8)">***</text>
<path d="M1385 351.5V408.1" stroke="#222" stroke-width="1.5"/>
<text x="1386.2" y="379.8" font-size="10" text-anchor="middle" fill="#222" transform="rotate(90 1386.2 379.8)">ns</text>
<path d="M1392.4 351.5V432.2" stroke="#222" stroke-width="1.5"/>
<text x="1387.2" y="391.9" font-size="16.5" text-anchor="middle" fill="#111" font-weight="bold" transform="rotate(90 1387.2 391.9)">****</text>
<path d="M1399.8 351.5V456.3" stroke="#222" stroke-width="1.5"/>
<text x="1394.6" y="403.9" font-size="16.5" text-anchor="middle" fill="#111" font-weight="bold" transform="rotate(90 1394.6 403.9)">***</text>
<path d="M1407.2 351.5V480.4" stroke="#222" stroke-width="1.5"/>
<text x="1402" y="415.9" font-size="16.5" text-anchor="middle" fill="#111" font-weight="bold" transform="rotate(90 1402 415.9)">****</text>
<path d="M1414.6 351.5V504.5" stroke="#222" stroke-width="1.5"/>
<text x="1409.4" y="428" font-size="16.5" text-anchor="middle" fill="#111" font-weight="bold" transform="rotate(90 1409.4 428)">****</text>
<text x="1484.6" y="338.7" font-size="17">Specificity</text>
<text x="1565.6" y="338.7" font-size="11.7">(pAUC: TPR &gt; 90%)</text>
<path d="M1570.6 343.5V508.2" stroke="#A0A0A0" stroke-width="1"/>
<path d="M1546 365h0m4-4h0m61-5h0m-11 8h0m21-4h0m-7-1h0m-55-4h0m31 6h0m-20-6h0m-11-6h0m17 6h0m-17-1h0m39 6h0m-48-4h0m5-2h0m52 3h0m-67 5h0m20-6h0m-14 2h0m53-3h0m18 6h0m-26-13h0m-57 6h0m12 5h0m-3-2h0m26 1h0m39-2h0m-50 2h0m-44 0h0m20 0h0m91 0h0m-29 5h0m-91-9h0m37 2h0m68-2h0m-4 4h0m5-2h0m25 1h0m-9 0h0m-58-4h0m-20 4h0m54 1h0m-108-2h0m115 0h0m-10-4h0m-107 5h0m60-6h0m86 5h0m-48-5h0m12-1h0m25 5h0m-37 1h0m-64 0h0m64 7h0m26-8h0m-27-1h0m18 3h0m-2-2h0m-118 2h0m64 1h0m18-3h0m16-2h0m-11 12h0m6-5h0m-11-6h0m45 4h0m-124-1h0m105 2h0m-60 1h0m51-2h0m22-1h0m-43-2h0m51 2h0m-53-2h0m25 3h0m-36-1h0m-25-1h0m49 2h0m-31 2h0m-5-11h0m84 7h0m-25-4h0m-16 3h0m-43 0h0m53 5h0m-90-1h0m27-6h0m47 2h0m-99 1h0m159 1h0" stroke="#3B7CC0" stroke-width="3.9" stroke-linecap="round" fill="none"/>
<path d="M1577 379h0m25 1h0m-31 2h0m17-2h0m-10 0h0m16 2h0m-26 2h0m4 2h0m46-4h0m-66-3h0m2 0h0m7-3h0m77 3h0m-52 0h0m-8 10h0m-11-10h0m-9-1h0m16-2h0m-8 4h0m12 2h0m38 1h0m1-4h0m-42 4h0m48 1h0m1-2h0m-13 1h0m-47-6h0m5-1h0m46 3h0m9 4h0m-1-1h0m-16-3h0m-7 1h0m-51 1h0m88 1h0m-65 4h0m-32-6h0m73 3h0m-20 5h0m-21-12h0m-3-3h0m43 9h0m-11-3h0m-32 0h0m-29 2h0m19-1h0m83-1h0m-24 1h0m-42-4h0m64 4h0m-84 1h0m37-10h0m20 4h0m-49 2h0m52 5h0m3-5h0m-24-7h0m20 8h0m-39-6h0m46 6h0m-39-4h0m35 8h0m-22-3h0m-29 3h0m52 1h0m-49-5h0m-7 6h0m56-3h0m-63-1h0m33 6h0m-28-5h0m10 1h0m50-1h0m-43 6h0m19-5h0m-4-2h0m-21-4h0m-4 3h0m-13 5h0m33-7h0m-10 6h0m-27-4h0m56 0h0m-38 5h0m62-6h0m-54-2h0m19 4h0m18 5h0m-73-5h0m100 1h0" stroke="#E08B35" stroke-width="3.9" stroke-linecap="round" fill="none"/>
<path d="M1529 409h0m0-14h0m2 8h0m34 4h0m5-8h0m-7 4h0m-39 4h0m-21-3h0m80-3h0m-56-2h0m67 4h0m-99-1h0m49-7h0m51 8h0m-69 1h0m-7-1h0m10 4h0m-15-6h0m38 0h0m3 7h0m-29-9h0m28 1h0m1 5h0m-40-4h0m52 2h0m-28 1h0m-35-2h0m62 1h0m-29-9h0m18 12h0m14 1h0m-33-11h0m10 6h0m11 9h0m-30-8h0m7 2h0m54-1h0m-31 3h0m27-3h0m-23-3h0m6-3h0m3 5h0m13 2h0m-82-4h0m58 1h0m-14-9h0m5 2h0m-20 11h0m10-1h0m-12-1h0m48-3h0m-51 3h0m14-3h0m18 2h0m-9 3h0m-47-3h0m17-1h0m8 2h0m23 1h0m24-2h0m-39-1h0m24 0h0m34 0h0m-64 2h0m38-3h0m-61 2h0m23 3h0m-2-2h0m-4-1h0m49 1h0m12-2h0m-12 1h0m-10 0h0m-3 0h0m-21 0h0m1 5h0m22-6h0m6 3h0m-25-5h0m-6-6h0m9 18h0m4-3h0m-44-5h0m22-5h0m11 3h0m21 2h0m-36-8h0m29 7h0m-55 0h0m100 0h0" stroke="#4EC29E" stroke-width="3.9" stroke-linecap="round" fill="none"/>
<path d="M1503 432h0m66-7h0m-80 2h0m76 0h0m-70-2h0m2-2h0m92-1h0m-69 4h0m-44 0h0m44 4h0m-16 5h0m72 0h0m-49-16h0m41 5h0m-14 7h0m59-4h0m-61 5h0m-42-9h0m58 0h0m29 3h0m-50 1h0m-51-2h0m2-2h0m4 0h0m1 4h0m67-2h0m24 5h0m17-2h0m-35 0h0m-75 0h0m77-3h0m-87-2h0m88-1h0m-36-4h0m37 5h0m-59-2h0m27-2h0m-40 0h0m36 12h0m-36-6h0m91 2h0m-21-2h0m-83 0h0m37 5h0m4-5h0m-35-1h0m79 5h0m-36-6h0m-10 2h0m-33 5h0m30-4h0m-25 0h0m123 1h0m-92-4h0m-38 0h0m0 2h0m-10 1h0m97 1h0m-90-6h0m36 5h0m32-1h0m-63-2h0m49 1h0m-40 1h0m6 0h0m-14-4h0m121 5h0m17 1h0m-138 2h0m-19-3h0m47-2h0m24 3h0m29 1h0m-45-1h0m-25-6h0m41 0h0m8 9h0m1-11h0m-71 6h0m34 2h0m94 0h0m-1-1h0m-138 0h0m3 0h0m24 1h0m10-1h0m-28 0h0m150 0h0m-164 1h0m164-2h0" stroke="#9A8C33" stroke-width="3.9" stroke-linecap="round" fill="none"/>
<path d="M1605 451h0m-12 1h0m30-4h0m-37-3h0m-31 3h0m47-2h0m6 7h0m-31-7h0m-18 3h0m0-1h0m42 2h0m-30 6h0m16-1h0m18-5h0m-9 6h0m-49-5h0m14-5h0m26 3h0m1 4h0m-16-12h0m21 8h0m-22 0h0m-34 0h0m62 3h0m-16-5h0m29 4h0m-9-3h0m4 2h0m-75-1h0m57-4h0m25 6h0m-91-2h0m66-1h0m-31 0h0m42 1h0m-44 6h0m10-2h0m-14-4h0m-15-2h0m0 7h0m13-1h0m-9-5h0m63-2h0m-23 1h0m-9 2h0m-14 6h0m-30-8h0m23-5h0m11 9h0m78-3h0m-94 0h0m83 3h0m-50 0h0m18-2h0m-15-4h0m12 5h0m-42-3h0m7-1h0m29 2h0m-80 1h0m97-1h0m-12-1h0m12 5h0m-53 2h0m39 1h0m-44-12h0m46 5h0m-32-2h0m75 4h0m17-1h0m-81 0h0m-18 1h0m91-2h0m-98 3h0m-10-5h0m-13 5h0m13-2h0m45-1h0m40-2h0m-75 1h0m-13 2h0m77-1h0m4 4h0m-93-3h0m76 3h0m-6-2h0m-96-1h0m73-1h0m-78 0h0m161 0h0" stroke="#C8432F" stroke-width="3.9" stroke-linecap="round" fill="none"/>
<path d="M1622 474h0m-63-6h0m26-6h0m-53 5h0m8 5h0m35-1h0m56 4h0m-76-3h0m49 6h0m-106-7h0m65 0h0m73-6h0m-119 9h0m48 1h0m7 2h0m77-5h0m-22-1h0m-16 8h0m-58-9h0m22 5h0m53-4h0m-16 3h0m-98-2h0m55 0h0m8 5h0m52 0h0m-27-9h0m-46 5h0m95-4h0m0 4h0m-95 1h0m54 2h0m-41-11h0m43 7h0m-55-2h0m8-2h0m61 6h0m-42-7h0m-15 4h0m11 2h0m-3 2h0m-37 0h0m131-4h0m-32 5h0m-47-5h0m-34 3h0m60-1h0m8-10h0m-100 9h0m137 1h0m-18-4h0m-57 2h0m-16 2h0m11-2h0m53 2h0m-18-5h0m8 4h0m-3-6h0m-54 7h0m30 1h0m-87-2h0m-4 0h0m75 0h0m34 3h0m-31-2h0m-16-1h0m-71 0h0m124-10h0m-33 11h0m38-2h0m18 1h0m-72 1h0m8-2h0m-72 1h0m121 6h0m-16-9h0m2 0h0m21 0h0m-59 4h0m65-1h0m-23 7h0m-56-13h0m11-2h0m-45 11h0m108-5h0m-9 3h0m-15 3h0m-28-14h0m-87 10h0m176 1h0" stroke="#E055AE" stroke-width="3.9" stroke-linecap="round" fill="none"/>
<path d="M1559 493h0m35 1h0m5 5h0m-8-2h0m-6-2h0m-32 4h0m-5 0h0m4-2h0m24 2h0m-36-4h0m51-1h0m9-2h0m-62 2h0m57-3h0m-51 5h0m95-3h0m-95 2h0m42-1h0m13 1h0m-31 6h0m-42-6h0m42 0h0m-16 2h0m-4-6h0m25 1h0m-28 3h0m-16-2h0m51 10h0m-37-1h0m47-10h0m62 1h0m-113 1h0m52 5h0m-41-14h0m37 1h0m10 8h0m-26-2h0m23 1h0m4 7h0m-48-4h0m35-9h0m27 4h0m-23 1h0m2 6h0m-50-7h0m96 3h0m-55 3h0m-44-1h0m38-2h0m11 1h0m-32-5h0m-26 1h0m99 3h0m-89-4h0m78 5h0m-96 0h0m79-6h0m-16 7h0m-31-4h0m50 7h0m4-8h0m-55 4h0m36-7h0m-43 9h0m37 5h0m-15-8h0m57 0h0m-34 4h0m28-6h0m-52-2h0m29 4h0m-80 0h0m14 2h0m55-5h0m-46 0h0m-11 1h0m6 6h0m16-4h0m-15 2h0m68 5h0m-6 0h0m-59-3h0m70-3h0m46 0h0m-123-1h0m107 0h0m-41 2h0m-37-4h0m-43 3h0m146 0h0" stroke="#8E8E8E" stroke-width="3.9" stroke-linecap="round" fill="none"/>
<path d="M1538 352h68.4v10h-68.4zM1569.1 374.9h43.7v10h-43.7zM1526.4 397.9h41v10h-41zM1500 420.9h76.7v10h-76.7zM1547.6 443.8h55.9v10h-55.9zM1558.1 466.8h79.6v10h-79.6zM1539.9 489.7h58.8v10h-58.8z" stroke="#000" stroke-width="2.4" fill="#fff" fill-opacity="0.18"/>
<path d="M1567 350.8h11v12.4h-11zM1585.6 373.8h11v12.4h-11zM1541.5 396.7h11v12.4h-11zM1532.8 419.7h11v12.4h-11zM1570.2 442.6h11v12.4h-11zM1592.3 465.6h11v12.4h-11zM1563.5 488.5h11v12.4h-11z" fill="#000"/>
<path d="M1465.9 343.5V508.8M1465.3 508.2H1687.5" stroke="#000" stroke-width="2.2"/>
<path d="M1460.9 357H1465.9M1460.9 379.9H1465.9M1460.9 402.9H1465.9M1460.9 425.9H1465.9M1460.9 448.8H1465.9M1460.9 471.8H1465.9M1460.9 494.7H1465.9M1508 508.2V513.2" stroke="#000" stroke-width="1.6"/>
<text x="1508" y="523.7" font-size="11.2" text-anchor="middle" fill="#4D4D4D">−0.1</text>
<path d="M1570.6 508.2V513.2" stroke="#000" stroke-width="1.6"/>
<text x="1570.6" y="523.7" font-size="11.2" text-anchor="middle" fill="#4D4D4D">0.0</text>
<path d="M1633 508.2V513.2" stroke="#000" stroke-width="1.6"/>
<text x="1633" y="523.7" font-size="11.2" text-anchor="middle" fill="#4D4D4D">0.1</text>
<text x="1576.7" y="540.2" font-size="14.1" text-anchor="middle">Relative AUC</text>
<path d="M1689 351.5V384" stroke="#222" stroke-width="1.5"/>
<text x="1683.8" y="367.8" font-size="16.5" text-anchor="middle" fill="#111" font-weight="bold" transform="rotate(90 1683.8 367.8)">*</text>
<path d="M1696.4 351.5V408.1" stroke="#222" stroke-width="1.5"/>
<text x="1691.2" y="379.8" font-size="16.5" text-anchor="middle" fill="#111" font-weight="bold" transform="rotate(90 1691.2 379.8)">****</text>
<path d="M1703.8 351.5V432.2" stroke="#222" stroke-width="1.5"/>
<text x="1698.6" y="391.9" font-size="16.5" text-anchor="middle" fill="#111" font-weight="bold" transform="rotate(90 1698.6 391.9)">****</text>
<path d="M1711.2 351.5V456.3" stroke="#222" stroke-width="1.5"/>
<text x="1712.4" y="403.9" font-size="10" text-anchor="middle" fill="#222" transform="rotate(90 1712.4 403.9)">ns</text>
<path d="M1718.6 351.5V480.4" stroke="#222" stroke-width="1.5"/>
<text x="1713.4" y="415.9" font-size="16.5" text-anchor="middle" fill="#111" font-weight="bold" transform="rotate(90 1713.4 415.9)">****</text>
<path d="M1726 351.5V504.5" stroke="#222" stroke-width="1.5"/>
<text x="1727.2" y="428" font-size="10" text-anchor="middle" fill="#222" transform="rotate(90 1727.2 428)">ns</text>
<text x="1780.4" y="338.7" font-size="17">Sensitivity</text>
<text x="1859.5" y="338.7" font-size="11.7">(pAUC: FPR &lt; 10%)</text>
<path d="M1897 343.5V508.2" stroke="#A0A0A0" stroke-width="1"/>
<path d="M1902 364h0m25-6h0m-64-1h0m86 3h0m-125-2h0m50-1h0m70-3h0m-47 7h0m-55 0h0m106-4h0m-73-5h0m9 8h0m-15-3h0m74 1h0m-7-2h0m-91 2h0m46 0h0m32 3h0m-11-3h0m-43-6h0m37 11h0m-4-3h0m-33 3h0m53-8h0m5 2h0m9-3h0m-56 1h0m27 3h0m-44 3h0m12-13h0m-9 1h0m73 7h0m-28-3h0m14 3h0m32 2h0m-33 2h0m-72-5h0m19-3h0m38 4h0m-48-1h0m57 5h0m-71-3h0m24-5h0m61 1h0m39 3h0m-36 1h0m-9 2h0m-77-5h0m93 0h0m-40 6h0m42-3h0m-54-1h0m5-6h0m5 11h0m4-11h0m-40 5h0m67 6h0m-45 3h0m15-5h0m-18 0h0m50 6h0m-40-14h0m-30 7h0m112-2h0m-65-3h0m-47 3h0m94-2h0m-31 9h0m-49-5h0m-5-6h0m24 3h0m-34-1h0m70 8h0m-4-8h0m1 7h0m-75-4h0m23-2h0m-9 8h0m35-14h0m-35 16h0m47-6h0m2 2h0m7 1h0m14-6h0m-12-2h0m-39 3h0m3 7h0m-7-11h0m-58 3h0m154 1h0" stroke="#3B7CC0" stroke-width="3.9" stroke-linecap="round" fill="none"/>
<path d="M1919 374h0m-49 5h0m56 3h0m-62-7h0m58 3h0m-27 3h0m30-1h0m-54 1h0m49 2h0m-45-3h0m-17 3h0m-1-2h0m58 7h0m-60-9h0m69-4h0m-18 10h0m-41-1h0m44 0h0m-10-11h0m38 5h0m-10 0h0m3 2h0m-29 8h0m17 0h0m-24-6h0m28 2h0m-40-1h0m19-1h0m-16-1h0m1 6h0m43-7h0m-60 3h0m53-7h0m-37 5h0m-30-3h0m73 2h0m-17-8h0m-21 13h0m-36-4h0m-5-5h0m66 5h0m-37 3h0m1 2h0m52-6h0m-61 0h0m-43 0h0m109 0h0m-52 3h0m37 0h0m-43 1h0m-21 0h0m38-6h0m-24-5h0m7 1h0m-5 10h0m-8 3h0m11 2h0m24-14h0m-23 5h0m-39 2h0m5 0h0m83 0h0m-3 7h0m-86-9h0m89-2h0m4-1h0m4 8h0m-68-7h0m22 0h0m38-3h0m-24-2h0m6 5h0m-7 2h0m43 1h0m-64 0h0m47-4h0m-43 0h0m-6 1h0m7-3h0m27 7h0m-19-7h0m-19 6h0m-5-1h0m8 1h0m-12-3h0m49-4h0m33 6h0m-17 4h0m-102-4h0m118 0h0" stroke="#E08B35" stroke-width="3.9" stroke-linecap="round" fill="none"/>
<path d="M1894 406h0m-28 1h0m-29-4h0m66-6h0m-46 9h0m-6-2h0m9-4h0m30 2h0m5 3h0m-59-3h0m77 3h0m-15-1h0m-8 4h0m23-3h0m-48-4h0m23 2h0m-16 2h0m-29-3h0m59-3h0m14 2h0m-65 2h0m10-3h0m38 5h0m-7 7h0m-23-15h0m-14 4h0m51 2h0m-58 0h0m67 0h0m-7 2h0m-12-4h0m-47 1h0m18 3h0m30 3h0m-29-5h0m-18-2h0m35 3h0m11-5h0m-4-2h0m-24 9h0m14-3h0m-42-2h0m22 5h0m29 5h0m-30-4h0m9-3h0m-10 1h0m-2-3h0m-17 2h0m32 0h0m41-2h0m-31 9h0m-7-13h0m-8 1h0m2 0h0m5 0h0m15 2h0m-7 3h0m12 7h0m-4-9h0m-21 3h0m21 0h0m-11 5h0m19-10h0m-3-6h0m-36 11h0m2 5h0m14-6h0m-5-10h0m-7 10h0m28-5h0m-24 5h0m25-1h0m-30-1h0m11-7h0m-4 9h0m5-8h0m7 3h0m-1-2h0m-30 8h0m52-3h0m-63 1h0m45 2h0m4-4h0m-17 0h0m24-1h0m0 3h0m-27-1h0m-31 0h0m85 1h0" stroke="#4EC29E" stroke-width="3.9" stroke-linecap="round" fill="none"/>
<path d="M1843 423h0m-12-3h0m64 4h0m-21 7h0m22-3h0m-58-5h0m28 3h0m-38-2h0m-8 2h0m68 2h0m-28-3h0m64-1h0m-76-4h0m19 7h0m29-9h0m-56 7h0m46-2h0m1 2h0m-45-1h0m39 3h0m-22-9h0m-26 7h0m-20 2h0m10 0h0m68 0h0m14-1h0m-27 7h0m-38-2h0m40-2h0m7 3h0m25-7h0m5 0h0m-30-6h0m18 8h0m-6-6h0m-81 5h0m74-1h0m-12 1h0m25-1h0m-51 3h0m37-5h0m-22 6h0m-34-4h0m59 3h0m-86-2h0m41 2h0m86-2h0m-83-7h0m25 1h0m35 6h0m-38-1h0m22 0h0m-2-5h0m-14 9h0m0-6h0m-99 3h0m122 1h0m-7-1h0m-88-4h0m-12 3h0m92 0h0m-4-3h0m-77 4h0m78-2h0m-36 6h0m-1-3h0m-16 7h0m4-16h0m82 8h0m-44-1h0m-78 1h0m77-3h0m-43 4h0m51-8h0m-57 5h0m64 5h0m-83-3h0m89-5h0m16 8h0m-9-10h0m-70 5h0m77 2h0m-64-2h0m29 3h0m48 0h0m-90-3h0m54 7h0m9-5h0m-115-1h0m155 1h0" stroke="#9A8C33" stroke-width="3.9" stroke-linecap="round" fill="none"/>
<path d="M1955 449h0m-12 5h0m7-7h0m-50 0h0m45-1h0m-7-1h0m2-4h0m-41 8h0m35-7h0m-6 7h0m9-5h0m-23 3h0m-12 2h0m-14 0h0m60-1h0m1 0h0m-21 3h0m8-7h0m0 9h0m-18-3h0m-2-3h0m-24 1h0m51 5h0m-26-3h0m-10-1h0m40 0h0m8 1h0m-3-1h0m-51-4h0m15 2h0m-11 9h0m-13-8h0m39 5h0m6 0h0m8-3h0m4 0h0m-40-4h0m41 1h0m21 2h0m-31-9h0m-2 14h0m-30 1h0m46-6h0m-67-2h0m45 1h0m8 3h0m-5 0h0m-44-1h0m48-6h0m-34 2h0m7 3h0m25-4h0m6 7h0m-33 5h0m25-3h0m1-4h0m-3-4h0m-27-2h0m28 2h0m-32 1h0m10 4h0m24-4h0m-23 7h0m19-5h0m-42-1h0m30-6h0m6 10h0m11-7h0m0 1h0m-54 3h0m43-2h0m41 1h0m-46 2h0m-27-1h0m65-1h0m-32 0h0m-1 1h0m21 0h0m-38 7h0m27-7h0m-12-3h0m4-3h0m15 10h0m-41-9h0m22 2h0m36 3h0m-75-1h0m14 1h0m-14 0h0m87-1h0" stroke="#C8432F" stroke-width="3.9" stroke-linecap="round" fill="none"/>
<path d="M1903 472h0m44 0h0m-65-4h0m71 4h0m-96 3h0m85-6h0m-1-1h0m-25 2h0m-38 0h0m8 2h0m40-3h0m-61 2h0m75 0h0m-20 0h0m-2 6h0m-42-7h0m17-5h0m-37 11h0m47-8h0m-40 2h0m53 8h0m-24-10h0m57 5h0m-116-2h0m44 1h0m87 0h0m-66-3h0m60 2h0m-66 1h0m-17-1h0m76-1h0m-42 4h0m33-3h0m-124 0h0m131 0h0m8 2h0m-15-3h0m-59 0h0m60 3h0m-8-3h0m-76-1h0m20 1h0m-2 1h0m71 4h0m0-4h0m-40 4h0m26 2h0m-90-6h0m91-6h0m11 1h0m-69 6h0m-5-2h0m-26 5h0m15-3h0m61 6h0m-8-7h0m-10 5h0m-85-4h0m13 0h0m58 2h0m71-2h0m2 0h0m-43-1h0m20 4h0m-62-6h0m-5 5h0m-47-1h0m58 1h0m-9-4h0m13 0h0m51 5h0m-82-4h0m9 4h0m5 2h0m69-9h0m7 1h0m-71 6h0m72-1h0m-128-2h0m73-3h0m-1 5h0m-47-6h0m109 6h0m-6 2h0m11-4h0m-105 1h0m7-1h0m62 0h0m-109 0h0m148 0h0" stroke="#E055AE" stroke-width="3.9" stroke-linecap="round" fill="none"/>
<path d="M1896 492h0m-5-5h0m-39 8h0m18 1h0m43-5h0m-38 4h0m28-5h0m18 7h0m-62-1h0m29-4h0m20 2h0m-23-1h0m33-1h0m-38 0h0m-24 2h0m38 7h0m26-10h0m7 1h0m-3 5h0m-40-7h0m42 5h0m-48 1h0m-8-2h0m51-3h0m-36 3h0m9-1h0m29 0h0m-16-6h0m-13 13h0m39-5h0m-43 6h0m-44-6h0m27-1h0m54 1h0m-40-1h0m34 0h0m-33-7h0m8 2h0m9-3h0m-27 12h0m56-3h0m-49 1h0m-15-1h0m40 0h0m-53 0h0m-6 0h0m32 1h0m31-1h0m8-2h0m-20-2h0m21 4h0m-28 3h0m7-3h0m32 0h0m-2 1h0m-13-5h0m-29-4h0m-32 8h0m47 5h0m-7-7h0m5 4h0m30-2h0m-20 1h0m-18-6h0m-19 8h0m38-7h0m-24 4h0m6-7h0m15 6h0m1 5h0m-20-8h0m-30 3h0m48 2h0m-23 1h0m37 1h0m-39-4h0m-3 2h0m17 2h0m11 4h0m-20-7h0m2 0h0m25-1h0m-2 7h0m-30-8h0m-20 0h0m52 2h0m-30 9h0m5-8h0m-48 0h0m90-1h0" stroke="#8E8E8E" stroke-width="3.9" stroke-linecap="round" fill="none"/>
<path d="M1864.4 352h70.5v10h-70.5zM1870.3 374.9h54.6v10h-54.6zM1862.1 397.9h32.5v10h-32.5zM1830.8 420.9h66.7v10h-66.7zM1903.3 443.8h39.7v10h-39.7zM1869.2 466.8h76.7v10h-76.7zM1886.1 489.7h33.5v10h-33.5z" stroke="#000" stroke-width="2.4" fill="#fff" fill-opacity="0.18"/>
<path d="M1894 350.8h11v12.4h-11zM1892 373.8h11v12.4h-11zM1872.8 396.7h11v12.4h-11zM1858.8 419.7h11v12.4h-11zM1917.6 442.6h11v12.4h-11zM1902 465.6h11v12.4h-11zM1897.2 488.5h11v12.4h-11z" fill="#000"/>
<path d="M1768.5 343.5V508.8M1767.9 508.2H1989.3" stroke="#000" stroke-width="2.2"/>
<path d="M1763.5 357H1768.5M1763.5 379.9H1768.5M1763.5 402.9H1768.5M1763.5 425.9H1768.5M1763.5 448.8H1768.5M1763.5 471.8H1768.5M1763.5 494.7H1768.5M1802.9 508.2V513.2" stroke="#000" stroke-width="1.6"/>
<text x="1802.9" y="523.7" font-size="11.2" text-anchor="middle" fill="#4D4D4D">−0.2</text>
<path d="M1849.9 508.2V513.2" stroke="#000" stroke-width="1.6"/>
<text x="1849.9" y="523.7" font-size="11.2" text-anchor="middle" fill="#4D4D4D">−0.1</text>
<path d="M1897 508.2V513.2" stroke="#000" stroke-width="1.6"/>
<text x="1897" y="523.7" font-size="11.2" text-anchor="middle" fill="#4D4D4D">0.0</text>
<path d="M1943.6 508.2V513.2" stroke="#000" stroke-width="1.6"/>
<text x="1943.6" y="523.7" font-size="11.2" text-anchor="middle" fill="#4D4D4D">0.1</text>
<text x="1878.9" y="540.2" font-size="14.1" text-anchor="middle">Relative AUC</text>
<path d="M1990.8 351.5V384" stroke="#222" stroke-width="1.5"/>
<text x="1992" y="367.8" font-size="10" text-anchor="middle" fill="#222" transform="rotate(90 1992 367.8)">ns</text>
<path d="M1998.2 351.5V408.1" stroke="#222" stroke-width="1.5"/>
<text x="1993" y="379.8" font-size="16.5" text-anchor="middle" fill="#111" font-weight="bold" transform="rotate(90 1993 379.8)">***</text>
<path d="M2005.6 351.5V432.2" stroke="#222" stroke-width="1.5"/>
<text x="2000.4" y="391.9" font-size="16.5" text-anchor="middle" fill="#111" font-weight="bold" transform="rotate(90 2000.4 391.9)">****</text>
<path d="M2013 351.5V456.3" stroke="#222" stroke-width="1.5"/>
<text x="2007.8" y="403.9" font-size="16.5" text-anchor="middle" fill="#111" font-weight="bold" transform="rotate(90 2007.8 403.9)">****</text>
<path d="M2020.4 351.5V480.4" stroke="#222" stroke-width="1.5"/>
<text x="2021.6" y="415.9" font-size="10" text-anchor="middle" fill="#222" transform="rotate(90 2021.6 415.9)">ns</text>
<path d="M2027.8 351.5V504.5" stroke="#222" stroke-width="1.5"/>
<text x="2029" y="428" font-size="10" text-anchor="middle" fill="#222" transform="rotate(90 2029 428)">ns</text>
<text x="160.7" y="566.2" font-size="17">AUC</text>
<path d="M282.6 568.9V733.6" stroke="#A0A0A0" stroke-width="1"/>
<path d="M297 583h0m26 4h0m-18-7h0m20 5h0m-1-3h0m-13 4h0m3 0h0m7 3h0m-16-12h0m-10 6h0m25-2h0m18-3h0m-5 0h0m-39 5h0m18 2h0m-18-4h0m18 10h0m8-6h0m2-7h0m13-2h0m17 6h0m-3 0h0m-35 3h0m30 2h0m-41-2h0m21-4h0m-10 2h0m-19 0h0m39-3h0m3 6h0m-9 1h0m-11-3h0m-8 3h0m8 1h0m39-8h0m-18 3h0m-27 2h0m20-10h0m19 7h0m-21 9h0m-15-10h0m-16-1h0m23 1h0m24 2h0m-46-1h0m22 2h0m-21-3h0m-6 1h0m14 8h0m16-4h0m-17-5h0m20 2h0m-8 3h0m-15-2h0m31-10h0m-32 7h0m30-1h0m-28 1h0m-7 1h0m37-4h0m-32 5h0m14 0h0m28 0h0m-12 1h0m-36-2h0m29 2h0m-22-3h0m25 6h0m-11-5h0m-8 1h0m25-1h0m-19-2h0m8-1h0m-10 8h0m36-6h0m-48 2h0m-7 0h0m40-1h0m-7-2h0m12 6h0m-35-1h0m3-4h0m27 1h0m6 5h0m3 0h0m-28-3h0m20-5h0m-23-5h0m-19 8h0m64 1h0" stroke="#3B7CC0" stroke-width="3.9" stroke-linecap="round" fill="none"/>
<path d="M247 605h0m48 2h0m-13 6h0m0-4h0m-24-6h0m51 3h0m-17-1h0m-4-6h0m-37 11h0m36-7h0m6-4h0m-43 7h0m44-4h0m-23 3h0m17-4h0m-27 2h0m47 3h0m-34 8h0m-8-4h0m10 5h0m-44-9h0m74 2h0m-7-5h0m-37 2h0m-9 5h0m39-6h0m-54-2h0m67 3h0m-20 0h0m-9 7h0m1-3h0m18-2h0m1-4h0m-33-3h0m1 9h0m2 4h0m22-15h0m-28 6h0m23 3h0m20-2h0m-26-1h0m-18 2h0m48-5h0m-14 12h0m-3-8h0m-34-3h0m-28 3h0m57-7h0m-51 7h0m30 4h0m-7-3h0m1 6h0m22-7h0m-11 3h0m13-1h0m-24 7h0m43-9h0m-13 5h0m-1-6h0m-3 0h0m-40 4h0m-7-4h0m26 7h0m3-7h0m-7 6h0m-17-1h0m9-4h0m48 4h0m-49 0h0m44-5h0m12 4h0m-44-6h0m8 6h0m27-3h0m-45-7h0m42 11h0m-14-5h0m13 5h0m-5-3h0m-43-1h0m11 0h0m13-4h0m-12 6h0m21 1h0m20-4h0m-8 0h0m-39 4h0m19-12h0m-44 10h0m94-1h0" stroke="#E08B35" stroke-width="3.9" stroke-linecap="round" fill="none"/>
<path d="M270 631h0m-21-7h0m-4 4h0m-2 0h0m14 8h0m-18-5h0m-2-6h0m19 10h0m-7-7h0m-1-1h0m-3 5h0m16-1h0m13-1h0m-28-2h0m-1 1h0m32-1h0m-18 4h0m-15-3h0m20-2h0m-3 2h0m1-1h0m-8-1h0m6 3h0m-17-1h0m-1-1h0m16-2h0m-11 3h0m-1-2h0m-15 2h0m24-5h0m-26 4h0m35 1h0m-31-2h0m26 5h0m-20-6h0m19 4h0m-24-1h0m40 0h0m-31-7h0m0 5h0m-13 1h0m20-8h0m22 10h0m-35 0h0m39-1h0m-35 1h0m20-4h0m-2 11h0m-26-8h0m9-2h0m18-1h0m-1 5h0m-14 0h0m1-2h0m-5-1h0m-3-1h0m1 1h0m28 5h0m-19 1h0m-3-8h0m17-1h0m-24 6h0m32 0h0m0-3h0m-36 0h0m21-3h0m12 1h0m-18 1h0m-21 1h0m30-3h0m-13-3h0m-16 8h0m26-9h0m-15 8h0m-3 5h0m23-5h0m-15 4h0m15-6h0m2-2h0m-20 7h0m22-10h0m-18 8h0m-10-1h0m2-3h0m-5 3h0m23-3h0m-10 5h0m13 5h0m-30-7h0m47 0h0" stroke="#4EC29E" stroke-width="3.9" stroke-linecap="round" fill="none"/>
<path d="M297 654h0m11-1h0m5-2h0m-64 3h0m31-1h0m26-1h0m-53-2h0m57 3h0m-60-8h0m-21 12h0m21-13h0m23 6h0m-48 3h0m82-1h0m-37 2h0m-45-1h0m82-4h0m7 2h0m-90 4h0m-1-4h0m35 4h0m-14-5h0m70-1h0m-38 1h0m-39 3h0m44-3h0m-33-3h0m-61 7h0m10-3h0m93-1h0m17 2h0m-15-4h0m-63 6h0m-45-2h0m99 3h0m20-4h0m-58-7h0m57 12h0m-70 5h0m58-14h0m-30 6h0m-24-5h0m-11 9h0m82-1h0m-11-5h0m-62-7h0m75 5h0m-58 7h0m62-6h0m-96 3h0m60-2h0m18 0h0m-61 4h0m-9-7h0m-2 1h0m88 2h0m-50-7h0m-30 8h0m32-5h0m-53 1h0m101 1h0m-9 11h0m9-8h0m-12-9h0m-83 7h0m61 1h0m-91-2h0m96 4h0m-66-2h0m90 8h0m-59-8h0m-19 0h0m2-2h0m-39 3h0m123-1h0m-93-3h0m87 2h0m-58 9h0m-50-10h0m44 3h0m56-9h0m7 6h0m-3 0h0m-26 2h0m-43 1h0m5 1h0m-52 2h0m53-12h0m-84 9h0m157-1h0" stroke="#9A8C33" stroke-width="3.9" stroke-linecap="round" fill="none"/>
<path d="M296 674h0m-14 1h0m0 2h0m6-9h0m0 3h0m3 7h0m-22 0h0m0 0h0m-6-3h0m31-2h0m-4 6h0m2-12h0m-22-2h0m33 9h0m-32-4h0m-4 6h0m3 2h0m-6-4h0m27 0h0m12 1h0m-33-2h0m20-1h0m-9 2h0m-13-2h0m17 2h0m-21 0h0m6 4h0m3-6h0m-10 2h0m1 1h0m6 7h0m27-8h0m-9 6h0m-15-6h0m-3 2h0m8-3h0m-9 6h0m15-8h0m12 2h0m-32 1h0m1 0h0m13 3h0m9-1h0m10-5h0m-28 1h0m0 3h0m19-5h0m-7 6h0m11-2h0m-4-4h0m-15 12h0m15-6h0m-4-7h0m-5 1h0m13 6h0m-18 5h0m8-9h0m-16 7h0m1-7h0m2 0h0m17 2h0m1 0h0m2 3h0m-1-2h0m-4-4h0m3 2h0m-14-1h0m-5 4h0m23-5h0m-21 0h0m18 3h0m7 4h0m-22-2h0m14 5h0m3-9h0m-10 7h0m16-3h0m-11-5h0m15 4h0m-37 0h0m27 8h0m-14-9h0m20 0h0m-6-2h0m-6 7h0m15-5h0m-8-1h0m-2 1h0m-25 1h0m38-1h0" stroke="#C8432F" stroke-width="3.9" stroke-linecap="round" fill="none"/>
<path d="M335 698h0m-5-1h0m-27 1h0m11-9h0m4 11h0m5 6h0m-15-12h0m22 8h0m-23-5h0m-10 1h0m32 0h0m6-1h0m-4 10h0m-46-9h0m61 1h0m-13 3h0m13-3h0m-13 1h0m-4 0h0m-18-2h0m26-1h0m8 3h0m-32-7h0m-20 8h0m25 1h0m12-1h0m-31-2h0m11-6h0m30 5h0m-28-1h0m-13 0h0m21-1h0m19 1h0m1 0h0m-28 2h0m-8-4h0m1 4h0m33-4h0m-3 3h0m-14 7h0m-2-13h0m15 7h0m8-3h0m-40 1h0m24 2h0m11 0h0m2-1h0m-4 1h0m-22 4h0m26-7h0m-39 2h0m6 1h0m9-4h0m-15 2h0m26-6h0m-13 16h0m29-13h0m-54 5h0m63-2h0m-10-3h0m-26 4h0m-13 1h0m33-2h0m-7 7h0m-25-5h0m36-1h0m-8 8h0m-29-8h0m3 3h0m22-5h0m-11-3h0m32 4h0m-43 9h0m3-16h0m20 8h0m-7-5h0m-23 4h0m8 3h0m14-5h0m-24 5h0m-2-4h0m37-4h0m-28 2h0m9 5h0m4 2h0m35-4h0m-32-1h0m9-5h0m-43 6h0m65 0h0" stroke="#E055AE" stroke-width="3.9" stroke-linecap="round" fill="none"/>
<path d="M238 728h0m29-8h0m-36-6h0m14 0h0m22 6h0m-3-6h0m-29 12h0m-15-12h0m39 5h0m12 1h0m-51 2h0m6-3h0m28 2h0m-31-4h0m4 1h0m19 5h0m-9-8h0m2 8h0m20-6h0m-25 7h0m-12-7h0m-42 3h0m48-5h0m29 10h0m-44-7h0m5 1h0m46 4h0m-2-4h0m5 1h0m-19-8h0m4 8h0m-23 1h0m8-8h0m-46 10h0m38-3h0m38 1h0m-13 2h0m-28-1h0m26 7h0m-31-14h0m17 4h0m18 7h0m-28 2h0m6-1h0m5-14h0m21 12h0m-37-5h0m9-1h0m22 1h0m12 1h0m-21 2h0m18 0h0m0-6h0m-3 2h0m-10-2h0m-57 3h0m25 2h0m34-5h0m4-3h0m-4 2h0m-12 1h0m16 6h0m2-2h0m-35-3h0m10 6h0m26-5h0m-4 1h0m-2 5h0m-21-4h0m32-2h0m-42-9h0m-26 12h0m35-3h0m18 7h0m-13-4h0m24-6h0m13 5h0m-26-4h0m-20 2h0m36 4h0m1-4h0m-42-4h0m43 6h0m-22 7h0m-2-15h0m16 3h0m2 9h0m-45-6h0m-43 2h0m101 0h0" stroke="#8E8E8E" stroke-width="3.9" stroke-linecap="round" fill="none"/>
<path d="M308.6 577.4h26.2v10h-26.2zM252.3 600.4h40.8v10h-40.8zM243.7 623.3h16.4v10h-16.4zM225.5 646.2h80.1v10h-80.1zM270.6 669.2h19.7v10h-19.7zM302.8 692.1h29.3v10h-29.3zM222.6 715.1h38.9v10h-38.9z" stroke="#000" stroke-width="2.4" fill="#fff" fill-opacity="0.18"/>
<path d="M316.1 576.2h11v12.4h-11zM266.9 599.1h11v12.4h-11zM246.4 622.1h11v12.4h-11zM259.8 645h11v12.4h-11zM274.8 668h11v12.4h-11zM311.7 690.9h11v12.4h-11zM236.8 713.9h11v12.4h-11z" fill="#000"/>
<path d="M146.3 568.9V734.2M145.7 733.6H368.6" stroke="#000" stroke-width="2.2"/>
<path d="M141.3 582.4H146.3" stroke="#000" stroke-width="1.6"/>
<text x="139.3" y="587.8" font-size="15.1" text-anchor="end" fill="#4D4D4D">SAMBA</text>
<path d="M141.3 605.4H146.3" stroke="#000" stroke-width="1.6"/>
<text x="139.3" y="610.8" font-size="15.1" text-anchor="end" fill="#4D4D4D">RIGER</text>
<path d="M141.3 628.3H146.3" stroke="#000" stroke-width="1.6"/>
<text x="139.3" y="633.7" font-size="15.1" text-anchor="end" fill="#4D4D4D">PBNPA</text>
<path d="M141.3 651.2H146.3" stroke="#000" stroke-width="1.6"/>
<text x="139.3" y="656.6" font-size="15.1" text-anchor="end" fill="#4D4D4D">MAGECK</text>
<path d="M141.3 674.2H146.3" stroke="#000" stroke-width="1.6"/>
<text x="139.3" y="679.6" font-size="15.1" text-anchor="end" fill="#4D4D4D">JACKS</text>
<path d="M141.3 697.1H146.3" stroke="#000" stroke-width="1.6"/>
<text x="139.3" y="702.5" font-size="15.1" text-anchor="end" fill="#4D4D4D">CB2</text>
<path d="M141.3 720.1H146.3" stroke="#000" stroke-width="1.6"/>
<text x="139.3" y="725.5" font-size="15.1" text-anchor="end" fill="#4D4D4D">BAGEL</text>
<path d="M190.5 733.6V738.6" stroke="#000" stroke-width="1.6"/>
<text x="190.5" y="749.1" font-size="11.2" text-anchor="middle" fill="#4D4D4D">−0.4</text>
<path d="M236.5 733.6V738.6" stroke="#000" stroke-width="1.6"/>
<text x="236.5" y="749.1" font-size="11.2" text-anchor="middle" fill="#4D4D4D">−0.2</text>
<path d="M282.6 733.6V738.6" stroke="#000" stroke-width="1.6"/>
<text x="282.6" y="749.1" font-size="11.2" text-anchor="middle" fill="#4D4D4D">0.0</text>
<path d="M328.7 733.6V738.6" stroke="#000" stroke-width="1.6"/>
<text x="328.7" y="749.1" font-size="11.2" text-anchor="middle" fill="#4D4D4D">0.2</text>
<text x="257.5" y="765.6" font-size="14.1" text-anchor="middle">Relative AUC</text>
<path d="M370.1 576.9V609.4" stroke="#222" stroke-width="1.5"/>
<text x="364.9" y="593.1" font-size="16.5" text-anchor="middle" fill="#111" font-weight="bold" transform="rotate(90 364.9 593.1)">****</text>
<path d="M377.5 576.9V633.5" stroke="#222" stroke-width="1.5"/>
<text x="372.3" y="605.2" font-size="16.5" text-anchor="middle" fill="#111" font-weight="bold" transform="rotate(90 372.3 605.2)">****</text>
<path d="M384.9 576.9V657.6" stroke="#222" stroke-width="1.5"/>
<text x="379.7" y="617.2" font-size="16.5" text-anchor="middle" fill="#111" font-weight="bold" transform="rotate(90 379.7 617.2)">****</text>
<path d="M392.3 576.9V681.7" stroke="#222" stroke-width="1.5"/>
<text x="387.1" y="629.3" font-size="16.5" text-anchor="middle" fill="#111" font-weight="bold" transform="rotate(90 387.1 629.3)">****</text>
<path d="M399.7 576.9V705.8" stroke="#222" stroke-width="1.5"/>
<text x="400.9" y="641.3" font-size="10" text-anchor="middle" fill="#222" transform="rotate(90 400.9 641.3)">ns</text>
<path d="M407.1 576.9V729.9" stroke="#222" stroke-width="1.5"/>
<text x="401.9" y="653.4" font-size="16.5" text-anchor="middle" fill="#111" font-weight="bold" transform="rotate(90 401.9 653.4)">****</text>
<text x="470.7" y="566.2" font-size="17">Specificity</text>
<text x="551.7" y="566.2" font-size="11.7">(pAUC: TPR &gt; 90%)</text>
<path d="M555.2 568.9V733.6" stroke="#A0A0A0" stroke-width="1"/>
<path d="M657 582h0m-31 0h0m-57 5h0m42-14h0m3 19h0m-59-7h0m-2 0h0m89-5h0m-39 1h0m-44 3h0m-9 0h0m41-4h0m18-1h0m-60 3h0m-2 0h0m23 7h0m3 1h0m37-4h0m-62-1h0m11-9h0m14 8h0m-22-2h0m52-1h0m50 1h0m-89-2h0m18 1h0m-25-2h0m46 3h0m-51-1h0m25 6h0m-8-7h0m-4 6h0m12-2h0m20-3h0m-21 1h0m33 8h0m-58-5h0m-1-3h0m-2 1h0m57 1h0m7-8h0m-27 10h0m46-5h0m-10 3h0m-52 0h0m16 1h0m5-5h0m-40 1h0m97 1h0m-100 0h0m44-1h0m-27 5h0m54-3h0m-53 4h0m32-4h0m-3 7h0m-33-6h0m35-8h0m1-3h0m-42 12h0m-7-3h0m74 0h0m26-1h0m-56 2h0m-33 6h0m27-13h0m61 5h0m-77 1h0m-8 1h0m16 1h0m-31-2h0m116 1h0m-66-1h0m-28 1h0m-10-6h0m-11 5h0m-1 0h0m25 4h0m40 5h0m-53-12h0m34 7h0m8-6h0m6 4h0m-36 2h0m18-6h0m-41 2h0m12 3h0m15-6h0m-27 4h0m120-1h0" stroke="#3B7CC0" stroke-width="3.9" stroke-linecap="round" fill="none"/>
<path d="M541 598h0m10 5h0m-2 3h0m-9 3h0m-5-3h0m31 1h0m-19-12h0m-8 10h0m11 1h0m-14-2h0m23 2h0m-22 0h0m17 0h0m0 3h0m-15-11h0m25 8h0m-7-2h0m-8 7h0m-3-4h0m-8-5h0m-1 4h0m2-4h0m21 7h0m-21-2h0m14-1h0m16 2h0m-9-2h0m-28 1h0m21-7h0m-2 8h0m-13-4h0m-6 2h0m42-2h0m-23 3h0m-1-9h0m13 8h0m12 0h0m-39-1h0m-6 0h0m12 2h0m12 3h0m-14-5h0m32 1h0m-12-1h0m13 1h0m-28-6h0m16 4h0m4 4h0m-19 1h0m11 0h0m0 2h0m-25-6h0m12 0h0m9 4h0m13 1h0m-7-13h0m-14 1h0m-1 7h0m16-4h0m-16 5h0m-9-1h0m8 5h0m33-5h0m-28 3h0m-8-4h0m5 0h0m-6 4h0m0 1h0m-5-5h0m22 2h0m-16-7h0m16 7h0m-17-4h0m20 8h0m-13-5h0m10-4h0m-8 7h0m-17-2h0m11-2h0m16-2h0m-21 9h0m6-7h0m-5 5h0m3-9h0m16 5h0m-18 5h0m2-10h0m11 12h0m-21-6h0m44 0h0" stroke="#E08B35" stroke-width="3.9" stroke-linecap="round" fill="none"/>
<path d="M555 630h0m-9 0h0m18-2h0m-6-2h0m-7 2h0m-28 0h0m4 7h0m26-7h0m10 2h0m-10-1h0m-4-4h0m-11 6h0m19-7h0m-48 6h0m-3 1h0m46-9h0m-21 3h0m5 3h0m-1 0h0m10-3h0m-42 3h0m27 0h0m13 1h0m23-1h0m-13 2h0m-26-3h0m-15 3h0m17-4h0m0 8h0m-1-7h0m16-1h0m9 6h0m-32-3h0m29-5h0m-12 12h0m15-8h0m-58 1h0m66 0h0m4 2h0m-30 1h0m4-7h0m-8 10h0m28-2h0m-16 0h0m-5 5h0m1-11h0m-2-4h0m8 11h0m-45-7h0m43 2h0m20-1h0m-25 1h0m14 6h0m9-6h0m-9-2h0m-4 0h0m-35 1h0m-6 1h0m52-6h0m1 4h0m-32 3h0m26-4h0m-34 2h0m43 2h0m-27-2h0m-13-3h0m1 1h0m-21 3h0m57-2h0m-20 0h0m26 2h0m-38-5h0m24 8h0m-21-4h0m10 0h0m25 0h0m-31-7h0m24 6h0m1 0h0m-5 1h0m-4-1h0m-26-1h0m25-1h0m-10 5h0m-17-1h0m32-7h0m0 16h0m-22-1h0m-37-9h0m70 0h0" stroke="#4EC29E" stroke-width="3.9" stroke-linecap="round" fill="none"/>
<path d="M563 646h0m-1 1h0m-20 4h0m-37-1h0m9 3h0m-7-7h0m44 11h0m-40-6h0m52-1h0m-25 3h0m-25-2h0m36 2h0m13-3h0m-2 5h0m-68-4h0m34-1h0m15 0h0m-41 4h0m42-2h0m22-4h0m-18 1h0m10 1h0m-24 0h0m-19 4h0m-9-6h0m21-1h0m1 4h0m-25 0h0m61-5h0m-13 2h0m18 4h0m0 0h0m-39 1h0m-16-7h0m-3 5h0m10-8h0m-42 9h0m84-1h0m-1 1h0m-6-6h0m-43-1h0m48 12h0m3-2h0m-28 0h0m15-10h0m-70 7h0m75 0h0m-22-9h0m23 17h0m-41-4h0m-7-7h0m50 6h0m-34 1h0m43-3h0m-9 0h0m5-1h0m-42 6h0m43-3h0m-13-7h0m14 1h0m-52-2h0m-11 3h0m2 1h0m-3 2h0m28 7h0m8-12h0m12 4h0m-3-8h0m18 6h0m-2 7h0m-49-1h0m51-5h0m-39 0h0m32 7h0m6-9h0m-28 6h0m7-7h0m-48 4h0m18-1h0m14 0h0m39 0h0m-20 2h0m-15 4h0m-33-1h0m46-3h0m23 0h0m-64-2h0m60-5h0m-94 6h0m99-2h0" stroke="#9A8C33" stroke-width="3.9" stroke-linecap="round" fill="none"/>
<path d="M566 675h0m-2 3h0m8 1h0m-40-5h0m35-1h0m7 2h0m-14-9h0m13 9h0m-1-4h0m-17 6h0m19 1h0m-32-3h0m10-5h0m4 7h0m-1-8h0m-3 1h0m1 5h0m-2-3h0m15 3h0m-11-1h0m14 8h0m-10-8h0m17-3h0m-20 7h0m13 0h0m4-7h0m-4 7h0m0-7h0m-8 12h0m8-12h0m-35 3h0m16 1h0m1 1h0m21-4h0m-3 1h0m-17-2h0m4 8h0m0-1h0m7 4h0m2-10h0m-6-1h0m13-2h0m-1 2h0m-15 4h0m19 0h0m-4 5h0m-18-4h0m18 2h0m-25-7h0m1 6h0m17-7h0m-3 6h0m-12-4h0m16 3h0m-8 4h0m-24-5h0m35 4h0m6-2h0m-21 6h0m15-6h0m5-2h0m-16 0h0m24-1h0m-39 1h0m22-1h0m-5-1h0m-2 0h0m5-2h0m-3 4h0m-3-5h0m-8 9h0m22-6h0m-15-1h0m6 11h0m18-8h0m-11 10h0m0-8h0m-5 4h0m5-3h0m6-6h0m-22 6h0m5-5h0m11-2h0m-9-2h0m-4 11h0m-3-13h0m-7 13h0m13-6h0m-24 1h0m52 0h0" stroke="#C8432F" stroke-width="3.9" stroke-linecap="round" fill="none"/>
<path d="M629 700h0m-57 1h0m11-2h0m-36-2h0m21 6h0m66-7h0m-25 6h0m20-5h0m-69 9h0m16-10h0m-30 4h0m95-4h0m-97 2h0m26-3h0m26 5h0m5-5h0m-20-5h0m-41 6h0m23 2h0m23 1h0m-14-5h0m-19 5h0m58-2h0m-35 1h0m-12-4h0m25-2h0m6 5h0m-39 6h0m-8-5h0m33-1h0m16 2h0m-29-3h0m12-3h0m-7 6h0m-27-6h0m42 6h0m39-1h0m11-1h0m-72 1h0m-1-6h0m-5 2h0m39 6h0m-51-6h0m32 5h0m-17-5h0m79 3h0m-63-1h0m5 1h0m-21 9h0m1-4h0m3-11h0m-8 5h0m-12 2h0m1-9h0m4 9h0m57-3h0m-30 11h0m20-7h0m7-1h0m28 0h0m-75-2h0m17-2h0m-23-1h0m39 2h0m-12-2h0m8 0h0m2 5h0m-45 0h0m21-7h0m-16 7h0m79-3h0m-86-1h0m16-2h0m29 6h0m-22-5h0m65 3h0m-65 8h0m-21-6h0m31-2h0m1 2h0m3 1h0m-4-7h0m-36 6h0m18 1h0m-14 0h0m39 2h0m-9-8h0m-26 8h0m-9-3h0m105-1h0" stroke="#E055AE" stroke-width="3.9" stroke-linecap="round" fill="none"/>
<path d="M557 719h0m-7 0h0m-4 5h0m4-11h0m-31 7h0m10 3h0m25 0h0m-4-3h0m-76 1h0m40 0h0m37-8h0m-8 13h0m-32-1h0m2 0h0m0-4h0m42 0h0m-39 6h0m24-6h0m14 3h0m6-4h0m-28 3h0m-18-1h0m-3-2h0m52 3h0m-70-1h0m69-2h0m-82-1h0m27-2h0m58 3h0m-23-1h0m3-1h0m12 1h0m-31 1h0m39 2h0m-70-1h0m40-2h0m-10 4h0m-23-3h0m33 0h0m23 6h0m5-4h0m-4-3h0m-59 1h0m16 1h0m23 3h0m-5 0h0m5-7h0m-10 0h0m-2 10h0m-11-4h0m29-9h0m-36 6h0m27 6h0m-6-11h0m36 7h0m0-2h0m-61 0h0m46 5h0m-10-11h0m-12 7h0m-12-3h0m-5-8h0m52 8h0m-71 1h0m70-2h0m-68 1h0m27 2h0m-44 1h0m32-4h0m48 1h0m-37 0h0m-25 2h0m53 7h0m-57-5h0m19-3h0m46 2h0m-43 6h0m48-8h0m-62 2h0m13 3h0m44-8h0m-23-2h0m-28 3h0m20 11h0m-20-16h0m9 9h0m25-5h0m-13 5h0m-52 0h0m90 0h0" stroke="#8E8E8E" stroke-width="3.9" stroke-linecap="round" fill="none"/>
<path d="M552.9 577.4h62.7v10h-62.7zM538.9 600.4h19.1v10h-19.1zM527.8 623.3h30.2v10h-30.2zM505.9 646.2h54.4v10h-54.4zM551.8 669.2h18.7v10h-18.7zM548.5 692.1h40.2v10h-40.2zM507.8 715.1h47.9v10h-47.9z" stroke="#000" stroke-width="2.4" fill="#fff" fill-opacity="0.18"/>
<path d="M578.9 576.2h11v12.4h-11zM543 599.1h11v12.4h-11zM537.4 622.1h11v12.4h-11zM527.6 645h11v12.4h-11zM555.4 668h11v12.4h-11zM563.1 690.9h11v12.4h-11zM526.3 713.9h11v12.4h-11z" fill="#000"/>
<path d="M456.9 568.9V734.2M456.3 733.6H679" stroke="#000" stroke-width="2.2"/>
<path d="M451.9 582.4H456.9M451.9 605.4H456.9M451.9 628.3H456.9M451.9 651.2H456.9M451.9 674.2H456.9M451.9 697.1H456.9M451.9 720.1H456.9M486.6 733.6V738.6" stroke="#000" stroke-width="1.6"/>
<text x="486.6" y="749.1" font-size="11.2" text-anchor="middle" fill="#4D4D4D">−0.2</text>
<path d="M555.2 733.6V738.6" stroke="#000" stroke-width="1.6"/>
<text x="555.2" y="749.1" font-size="11.2" text-anchor="middle" fill="#4D4D4D">0.0</text>
<path d="M623.9 733.6V738.6" stroke="#000" stroke-width="1.6"/>
<text x="623.9" y="749.1" font-size="11.2" text-anchor="middle" fill="#4D4D4D">0.2</text>
<text x="568" y="765.6" font-size="14.1" text-anchor="middle">Relative AUC</text>
<path d="M680.5 576.9V609.4" stroke="#222" stroke-width="1.5"/>
<text x="675.3" y="593.1" font-size="16.5" text-anchor="middle" fill="#111" font-weight="bold" transform="rotate(90 675.3 593.1)">****</text>
<path d="M687.9 576.9V633.5" stroke="#222" stroke-width="1.5"/>
<text x="682.7" y="605.2" font-size="16.5" text-anchor="middle" fill="#111" font-weight="bold" transform="rotate(90 682.7 605.2)">****</text>
<path d="M695.3 576.9V657.6" stroke="#222" stroke-width="1.5"/>
<text x="690.1" y="617.2" font-size="16.5" text-anchor="middle" fill="#111" font-weight="bold" transform="rotate(90 690.1 617.2)">****</text>
<path d="M702.7 576.9V681.7" stroke="#222" stroke-width="1.5"/>
<text x="697.5" y="629.3" font-size="16.5" text-anchor="middle" fill="#111" font-weight="bold" transform="rotate(90 697.5 629.3)">****</text>
<path d="M710.1 576.9V705.8" stroke="#222" stroke-width="1.5"/>
<text x="704.9" y="641.3" font-size="16.5" text-anchor="middle" fill="#111" font-weight="bold" transform="rotate(90 704.9 641.3)">***</text>
<path d="M717.5 576.9V729.9" stroke="#222" stroke-width="1.5"/>
<text x="712.3" y="653.4" font-size="16.5" text-anchor="middle" fill="#111" font-weight="bold" transform="rotate(90 712.3 653.4)">****</text>
<text x="768.2" y="566.2" font-size="17">Sensitivity</text>
<text x="847.3" y="566.2" font-size="11.7">(pAUC: FPR &lt; 10%)</text>
<path d="M870.4 568.9V733.6" stroke="#A0A0A0" stroke-width="1"/>
<path d="M911 580h0m20 9h0m-21-12h0m52 4h0m-34 3h0m-32-2h0m-1-2h0m-29 2h0m4 1h0m10-3h0m16-5h0m-10 7h0m47-8h0m23 8h0m-87 1h0m79 0h0m-58-5h0m1 0h0m39 8h0m7-4h0m-72 1h0m95-1h0m-62 1h0m28-5h0m-28-5h0m-5 9h0m50 1h0m-6-2h0m-28 0h0m6-6h0m14 8h0m-51 3h0m57-7h0m-27 9h0m-8-6h0m30 4h0m10-2h0m-48-3h0m53-1h0m-12-2h0m-7-2h0m9 11h0m9 1h0m-45-6h0m-5-2h0m23-6h0m12 2h0m-11 6h0m-9 2h0m-28-1h0m80 1h0m-61 3h0m-9-11h0m-2 5h0m43 0h0m-60 4h0m2-4h0m49 0h0m-20-4h0m30-2h0m17 4h0m-29 9h0m-24-12h0m-9 7h0m48 5h0m15-5h0m6 0h0m-79 0h0m9 0h0m38 1h0m-18-1h0m21 0h0m-26 0h0m2-3h0m39-1h0m-11 2h0m-30 6h0m-6 2h0m8-8h0m58 1h0m-1 0h0m-48-2h0m9 2h0m-18 6h0m21-8h0m14 0h0m1 1h0m-21-1h0m-53 3h0m105-1h0" stroke="#3B7CC0" stroke-width="3.9" stroke-linecap="round" fill="none"/>
<path d="M927 606h0m-10 1h0m-93-1h0m72-5h0m-1 4h0m-60-4h0m-3 2h0m82 3h0m-74 4h0m49-5h0m-15-5h0m-39 3h0m6 6h0m1 6h0m0-5h0m53-9h0m-64 3h0m0 3h0m44 1h0m-25-2h0m-1-6h0m24 0h0m33 9h0m-74-2h0m43-7h0m-46 7h0m4-1h0m99-1h0m-36-1h0m5 1h0m2 0h0m-5 0h0m-12 1h0m8-4h0m-20 2h0m-49 1h0m71 1h0m-1 1h0m-41 3h0m-21-4h0m56-4h0m-42-3h0m-12 6h0m17 2h0m16-9h0m-35 3h0m17 3h0m-8-7h0m-14 9h0m61 3h0m-58-3h0m55 1h0m-53 1h0m19 0h0m24-4h0m-1 10h0m29-11h0m-18 2h0m-37-2h0m59 4h0m-2-1h0m-74-4h0m54 1h0m-62 3h0m70 2h0m-58-5h0m80 1h0m-60 2h0m-25-1h0m8 6h0m48-5h0m-54 5h0m30-3h0m33-5h0m-17 5h0m-34-7h0m4-2h0m-8 10h0m50-9h0m-52 5h0m27-2h0m29 2h0m2 5h0m-39-5h0m-26-1h0m-4-2h0m69 4h0m5 0h0m-78 0h0m112 0h0" stroke="#E08B35" stroke-width="3.9" stroke-linecap="round" fill="none"/>
<path d="M831 628h0m-5 2h0m-1-6h0m0 8h0m1 0h0m-21-6h0m25 3h0m-13-2h0m50 1h0m-44 1h0m23-5h0m-28 7h0m4-9h0m21 2h0m-11 2h0m25 3h0m6-1h0m-40 0h0m-12 3h0m56-2h0m-18 0h0m-29 5h0m50-6h0m-47-9h0m33 9h0m-39 3h0m5-1h0m-2-2h0m13 1h0m23 0h0m-41-2h0m41-1h0m-12 0h0m-27-1h0m1 0h0m7 4h0m-17-1h0m47 5h0m-15-3h0m-6 3h0m-6 1h0m-10-5h0m35-4h0m-40 5h0m10-10h0m7 14h0m-2-14h0m-4 1h0m15 10h0m14-1h0m-37 1h0m53-3h0m-42 0h0m10 1h0m-19 4h0m32-4h0m-5-9h0m-2 8h0m18-1h0m-51 2h0m18 2h0m-11-2h0m27 1h0m-61-1h0m46 0h0m-3-7h0m22 8h0m-21 6h0m0-7h0m27-8h0m-58 7h0m29 5h0m26-8h0m-34 5h0m34-4h0m-65 1h0m41 7h0m-3-11h0m-4 5h0m41 5h0m-33-5h0m23-4h0m-35 5h0m16-5h0m15 5h0m-54-3h0m45 6h0m-54-3h0m-1 0h0m85 0h0" stroke="#4EC29E" stroke-width="3.9" stroke-linecap="round" fill="none"/>
<path d="M876 649h0m12-5h0m-61 5h0m-21 1h0m25-2h0m41 6h0m24-5h0m-54 2h0m30-8h0m26 10h0m-1-6h0m7 1h0m-2 4h0m-100 0h0m88 4h0m17-6h0m-1 0h0m-27 8h0m-50-17h0m54 11h0m17-3h0m9 2h0m18 2h0m-29 1h0m17-4h0m-16-2h0m-57 4h0m-30-4h0m8 0h0m57 4h0m25 1h0m-5 1h0m3-3h0m-8-4h0m-2 5h0m32 0h0m-98 3h0m10-6h0m-33 3h0m101 1h0m-80-5h0m30-4h0m-28 7h0m-17-1h0m7 0h0m-10 0h0m-11-1h0m25 7h0m11-12h0m21 6h0m70 1h0m-37 5h0m-3-1h0m10-2h0m-48 4h0m57-14h0m12 5h0m-42 8h0m41-2h0m-31-4h0m-85 2h0m60-1h0m64 2h0m-63-3h0m-39 4h0m77-4h0m-36 7h0m21-2h0m-35-3h0m1-2h0m60 5h0m-66 0h0m74-7h0m-23 4h0m32 1h0m-87-7h0m-10 5h0m84 0h0m-33-3h0m39 5h0m-80 6h0m31-6h0m24 0h0m-11-6h0m-10 1h0m41 4h0m-9 1h0m5-4h0m-129 2h0m153 0h0" stroke="#9A8C33" stroke-width="3.9" stroke-linecap="round" fill="none"/>
<path d="M842 681h0m18-8h0m-22-2h0m22 3h0m-30 1h0m51-6h0m-28 9h0m42-4h0m-28-8h0m-29 8h0m-10 1h0m52-2h0m-7 2h0m9-3h0m-46 4h0m42-2h0m-39-1h0m25-9h0m1 8h0m-16-5h0m20 3h0m-2-2h0m-20 13h0m-5-7h0m0 1h0m21-1h0m13 1h0m-25 7h0m-28-7h0m59-1h0m-26-1h0m39 1h0m-17-1h0m-22-7h0m-7 6h0m-5 5h0m0-4h0m48 1h0m-19-2h0m-49 2h0m56 4h0m-41-6h0m31 5h0m-23-4h0m4 4h0m-6-8h0m-6 1h0m8 4h0m6-5h0m-1 3h0m-4-6h0m-17 10h0m37 1h0m6 4h0m-27-11h0m15 6h0m-15 1h0m-7-3h0m22 7h0m5-9h0m-2 6h0m-17-5h0m-5 1h0m-6 3h0m9-10h0m-3 14h0m5-2h0m5-2h0m17-2h0m0 7h0m-16 2h0m-21-9h0m-1-1h0m41-6h0m-2 10h0m16-2h0m-4-3h0m-19 9h0m2-11h0m-1 8h0m-2 0h0m-22-2h0m33-4h0m-38 0h0m10-4h0m21-1h0m-16-1h0m-9 4h0m-18 3h0m72 0h0" stroke="#C8432F" stroke-width="3.9" stroke-linecap="round" fill="none"/>
<path d="M911 692h0m-6 2h0m-3 4h0m-39 0h0m22-1h0m19-2h0m-33 5h0m48-1h0m-25-5h0m23 4h0m-52 0h0m3 1h0m36-6h0m7 1h0m-3 1h0m-12 8h0m-20-5h0m-4-1h0m1-2h0m35-1h0m35 2h0m-40 1h0m-13-4h0m42 3h0m-53-2h0m28 6h0m13-2h0m-27-6h0m31 7h0m-34-7h0m-5 1h0m45 3h0m-35-7h0m49 9h0m-35-3h0m0 0h0m-36 2h0m-5-1h0m65 0h0m-60 2h0m29-6h0m7 7h0m15-7h0m-47 7h0m54-3h0m-64 1h0m45-3h0m-48 3h0m47-7h0m-19 7h0m15-4h0m-22 6h0m33-2h0m-28-2h0m45 2h0m-24-6h0m-21 5h0m14 3h0m12 6h0m0-13h0m-44 3h0m67 2h0m-36 7h0m9-4h0m-27-5h0m-4 0h0m35-1h0m-44 3h0m5-3h0m10 0h0m-11 7h0m10-5h0m40 0h0m-22 5h0m35-4h0m-65-1h0m68 3h0m-21-2h0m-35-4h0m1 7h0m23 6h0m-35-9h0m-7 2h0m10-5h0m38 0h0m13 0h0m-58 3h0m4-4h0m-11 4h0m79 1h0" stroke="#E055AE" stroke-width="3.9" stroke-linecap="round" fill="none"/>
<path d="M851 717h0m-2 5h0m-12-3h0m6 0h0m-12 1h0m29-1h0m-29 1h0m2 4h0m-23-5h0m24 4h0m-5-5h0m8 8h0m-19-8h0m18 5h0m-13-12h0m-1 10h0m16 3h0m-31-6h0m46 2h0m5-8h0m-10 10h0m12-1h0m-10 2h0m-76-3h0m54-1h0m39-1h0m-10 4h0m-73 0h0m66 5h0m-19-14h0m31 7h0m-51 4h0m23 1h0m-3-4h0m-3 0h0m-10 3h0m7-4h0m9 0h0m21-2h0m-25 6h0m12-3h0m-14 2h0m-13-7h0m51 1h0m-40 3h0m-17-1h0m59 2h0m-42 3h0m4-7h0m-26 0h0m8 2h0m-15 2h0m48 1h0m-23-1h0m-1-3h0m11 5h0m6-6h0m-16-3h0m24 9h0m-12 3h0m14-4h0m-28-6h0m46 2h0m-56 3h0m7-5h0m11 9h0m-41-4h0m2-3h0m70-2h0m-20-4h0m-20 8h0m7 1h0m5 2h0m-5-2h0m-53 0h0m92-2h0m-43 2h0m47 0h0m-62-1h0m57-1h0m-11-1h0m-26 1h0m31-4h0m-12-1h0m1 10h0m-69-4h0m58 1h0m8-3h0m-73 2h0m99 0h0" stroke="#8E8E8E" stroke-width="3.9" stroke-linecap="round" fill="none"/>
<path d="M891.1 577.4h48.3v10h-48.3zM834.5 600.4h61.9v10h-61.9zM818.2 623.3h36.4v10h-36.4zM824.9 646.2h75.8v10h-75.8zM843.1 669.2h29.1v10h-29.1zM878.1 692.1h37.5v10h-37.5zM821.1 715.1h36.9v10h-36.9z" stroke="#000" stroke-width="2.4" fill="#fff" fill-opacity="0.18"/>
<path d="M909.6 576.2h11v12.4h-11zM860.3 599.1h11v12.4h-11zM830.9 622.1h11v12.4h-11zM857.8 645h11v12.4h-11zM852 668h11v12.4h-11zM891.4 690.9h11v12.4h-11zM834.2 713.9h11v12.4h-11z" fill="#000"/>
<path d="M759.2 568.9V734.2M758.6 733.6H982.3" stroke="#000" stroke-width="2.2"/>
<path d="M754.2 582.4H759.2M754.2 605.4H759.2M754.2 628.3H759.2M754.2 651.2H759.2M754.2 674.2H759.2M754.2 697.1H759.2M754.2 720.1H759.2M793.8 733.6V738.6" stroke="#000" stroke-width="1.6"/>
<text x="793.8" y="749.1" font-size="11.2" text-anchor="middle" fill="#4D4D4D">−0.2</text>
<path d="M832.2 733.6V738.6" stroke="#000" stroke-width="1.6"/>
<text x="832.2" y="749.1" font-size="11.2" text-anchor="middle" fill="#4D4D4D">−0.1</text>
<path d="M870.4 733.6V738.6" stroke="#000" stroke-width="1.6"/>
<text x="870.4" y="749.1" font-size="11.2" text-anchor="middle" fill="#4D4D4D">0.0</text>
<path d="M909 733.6V738.6" stroke="#000" stroke-width="1.6"/>
<text x="909" y="749.1" font-size="11.2" text-anchor="middle" fill="#4D4D4D">0.1</text>
<path d="M947.3 733.6V738.6" stroke="#000" stroke-width="1.6"/>
<text x="947.3" y="749.1" font-size="11.2" text-anchor="middle" fill="#4D4D4D">0.2</text>
<text x="870.8" y="765.6" font-size="14.1" text-anchor="middle">Relative AUC</text>
<path d="M983.8 576.9V609.4" stroke="#222" stroke-width="1.5"/>
<text x="978.6" y="593.1" font-size="16.5" text-anchor="middle" fill="#111" font-weight="bold" transform="rotate(90 978.6 593.1)">****</text>
<path d="M991.2 576.9V633.5" stroke="#222" stroke-width="1.5"/>
<text x="986" y="605.2" font-size="16.5" text-anchor="middle" fill="#111" font-weight="bold" transform="rotate(90 986 605.2)">****</text>
<path d="M998.6 576.9V657.6" stroke="#222" stroke-width="1.5"/>
<text x="993.4" y="617.2" font-size="16.5" text-anchor="middle" fill="#111" font-weight="bold" transform="rotate(90 993.4 617.2)">****</text>
<path d="M1006 576.9V681.7" stroke="#222" stroke-width="1.5"/>
<text x="1000.8" y="629.3" font-size="16.5" text-anchor="middle" fill="#111" font-weight="bold" transform="rotate(90 1000.8 629.3)">****</text>
<path d="M1013.4 576.9V705.8" stroke="#222" stroke-width="1.5"/>
<text x="1008.2" y="641.3" font-size="16.5" text-anchor="middle" fill="#111" font-weight="bold" transform="rotate(90 1008.2 641.3)">***</text>
<path d="M1020.8 576.9V729.9" stroke="#222" stroke-width="1.5"/>
<text x="1015.6" y="653.4" font-size="16.5" text-anchor="middle" fill="#111" font-weight="bold" transform="rotate(90 1015.6 653.4)">****</text>
<text x="1168.8" y="567.4" font-size="17">AUC</text>
<path d="M1296.5 568.9V733.6" stroke="#A0A0A0" stroke-width="1"/>
<path d="M1343 578h0m-42 10h0m-16-3h0m5 2h0m3-7h0m-1 7h0m5-5h0m16 6h0m39-7h0m5 1h0m-57 2h0m14 2h0m19-3h0m-44-1h0m-2-1h0m50 3h0m-45 4h0m55-7h0m-42-1h0m24 6h0m-6-4h0m-36-1h0m7 3h0m26-4h0m-23 5h0m29-7h0m2 2h0m-24-3h0m-13 8h0m57-4h0m-47 1h0m-12 1h0m38 5h0m-34-9h0m10 0h0m21 0h0m-27 4h0m30-1h0m-36 7h0m29 1h0m-31-7h0m53-1h0m-9-6h0m25 6h0m-42 0h0m7-2h0m-19 0h0m35 5h0m-32-2h0m1-10h0m-10 16h0m-1-6h0m-12 2h0m51-5h0m-7-1h0m-37 3h0m24 0h0m-12-5h0m23 2h0m19-1h0m-29 0h0m5 10h0m-30 0h0m37-8h0m-30 3h0m30-2h0m8 4h0m9-3h0m-15 6h0m-30-8h0m31 6h0m20-5h0m-11 1h0m-34 0h0m15 0h0m22-1h0m-50 0h0m29 0h0m-43 1h0m12-4h0m18 7h0m-9 0h0m-20-4h0m14 2h0m14 4h0m13-7h0m-23-2h0m4 10h0m-22-6h0m75 0h0" stroke="#3B7CC0" stroke-width="3.9" stroke-linecap="round" fill="none"/>
<path d="M1322 606h0m-4 2h0m-29 2h0m43-5h0m-39-2h0m-2 1h0m28-6h0m10 7h0m8 1h0m-41 1h0m21-1h0m7-1h0m-49 2h0m7 6h0m4-8h0m26 3h0m-38-2h0m33 3h0m-38-4h0m53-1h0m-43 4h0m33-2h0m-32 2h0m35-7h0m-5 3h0m-41 1h0m48 0h0m-11 2h0m10-4h0m14 1h0m-39 7h0m-21-5h0m3 2h0m1-3h0m53 0h0m-26 0h0m-17-4h0m-5 5h0m34-1h0m22 0h0m-55-1h0m1 9h0m53-11h0m-22 2h0m-30 10h0m48-6h0m-53-4h0m-3 2h0m8-1h0m7-5h0m25 4h0m-36-1h0m8 1h0m24 10h0m1-4h0m-15-3h0m-22-2h0m-4 1h0m19 0h0m-20-1h0m48 5h0m-41-4h0m55 1h0m-51 0h0m2-4h0m29 0h0m16 2h0m-13 1h0m-29 3h0m24-2h0m7 4h0m-42-6h0m6 4h0m48-5h0m-19 3h0m-21 0h0m25 0h0m3 2h0m-25-6h0m48 3h0m-56 1h0m-6 0h0m19 5h0m12-9h0m-34 5h0m49-2h0m-23 4h0m-12-12h0m-20 7h0m71 0h0" stroke="#E08B35" stroke-width="3.9" stroke-linecap="round" fill="none"/>
<path d="M1231 630h0m32 1h0m-23-4h0m16-5h0m19 4h0m-9 3h0m-28 2h0m53-3h0m-51 0h0m59 1h0m-60-2h0m8-4h0m38 5h0m-16-5h0m5 5h0m-35 3h0m-2-2h0m0 1h0m33-7h0m-26 6h0m23 2h0m3-3h0m4-3h0m-16 5h0m1 4h0m24-3h0m-19-8h0m-8 8h0m-19-3h0m-4 1h0m41-1h0m-14-1h0m3-1h0m-38 4h0m4-1h0m40-1h0m18-1h0m-26 0h0m8 1h0m-10-3h0m14 1h0m-39 3h0m24 3h0m3-2h0m16-3h0m-13 2h0m11-1h0m-26-2h0m5 0h0m-30 1h0m26-6h0m-6 6h0m16-5h0m-21-1h0m-15 7h0m14-2h0m-4 8h0m31-8h0m17 4h0m-9 4h0m-35-3h0m-10-4h0m28-7h0m-22 5h0m21 0h0m31 2h0m-33 2h0m6 1h0m-4-3h0m-19 4h0m6-8h0m0 5h0m30-2h0m2-2h0m-59 3h0m33 1h0m5 5h0m22-3h0m-61-2h0m22-4h0m1-2h0m8 5h0m37 1h0m-26-1h0m-23 0h0m35-4h0m7 9h0m-49-4h0m-14 0h0m88 1h0" stroke="#4EC29E" stroke-width="3.9" stroke-linecap="round" fill="none"/>
<path d="M1206 651h0m10 0h0m2-1h0m-41-1h0m23 1h0m72 0h0m-92 5h0m106 0h0m-22-6h0m-3 4h0m-2-1h0m24 2h0m-14-3h0m7 2h0m-53-5h0m7 2h0m60 5h0m-68-6h0m-13 3h0m10-5h0m5 5h0m-24 0h0m-23-1h0m107 1h0m-77-2h0m16 0h0m-15-3h0m42 3h0m-24 9h0m44-2h0m15-7h0m-94-2h0m12 3h0m61-3h0m-14 7h0m40-7h0m-55 9h0m20-3h0m-43-1h0m4-5h0m65 3h0m-74 5h0m-4-3h0m68-10h0m-14 12h0m-55-7h0m62 4h0m-94 0h0m48 4h0m18 0h0m46-6h0m-76 2h0m58-3h0m-99 2h0m24 1h0m0-1h0m12-1h0m-12-2h0m14 1h0m93 2h0m-26 3h0m22-2h0m-82 2h0m-45-3h0m58 8h0m-5-12h0m24-2h0m-22 4h0m65 2h0m-50 4h0m32-2h0m-48-7h0m-23 5h0m15-2h0m-21-1h0m-3 2h0m96 3h0m-75-3h0m-14 4h0m55-1h0m-16-9h0m7 10h0m-36-2h0m67-3h0m-90 3h0m46 2h0m53-2h0m-81 0h0m-33-1h0m133 1h0" stroke="#9A8C33" stroke-width="3.9" stroke-linecap="round" fill="none"/>
<path d="M1303 674h0m1 3h0m-2-2h0m5-2h0m4 3h0m-8-7h0m1 5h0m1 1h0m8 0h0m-22-1h0m22-1h0m-13 3h0m1-2h0m11 5h0m-12-4h0m10 0h0m6 4h0m-11 3h0m-8-9h0m6-6h0m3 11h0m-4-7h0m5 5h0m-5-3h0m7-3h0m15 5h0m8-1h0m-22 4h0m-4-4h0m-6-7h0m16 9h0m-4-3h0m-15-3h0m14 5h0m-12 3h0m3 2h0m-2-7h0m5-3h0m-7 1h0m1 2h0m15 1h0m0-2h0m-6 7h0m15-5h0m-26 4h0m5 0h0m10-7h0m-15 5h0m13 7h0m4-8h0m1 4h0m-3-6h0m-2 2h0m8-2h0m-30 1h0m4 2h0m12-4h0m-2 8h0m9-12h0m6 3h0m10 4h0m-15-2h0m-22 1h0m18-4h0m2-2h0m-8 4h0m2-7h0m-5 9h0m-7-1h0m20 6h0m2-6h0m-5-4h0m-3 6h0m26-2h0m-36 3h0m9 3h0m6-6h0m-18 2h0m13-3h0m-10 0h0m28 4h0m-22-5h0m16 5h0m-13 5h0m-1-3h0m6-6h0m-17 4h0m28-3h0m-32 2h0m45 0h0" stroke="#C8432F" stroke-width="3.9" stroke-linecap="round" fill="none"/>
<path d="M1340 695h0m-45 0h0m-12 2h0m74-1h0m-30 3h0m19 5h0m6-9h0m-23-5h0m-6 4h0m4 7h0m-4 6h0m0-2h0m29-3h0m-44-4h0m-28 1h0m47-3h0m-6-3h0m-9-1h0m-19 5h0m51 1h0m-29-6h0m19 4h0m-19 2h0m27-6h0m-12 3h0m-15-3h0m4 2h0m4-6h0m16 7h0m-41 0h0m28 1h0m-10-5h0m3 5h0m9 2h0m6-2h0m4 1h0m-51 0h0m53-2h0m1 11h0m9-12h0m-32-2h0m41 2h0m-16 8h0m-17-3h0m17 2h0m-21-3h0m4 4h0m17-13h0m-22 10h0m-25-3h0m37-4h0m5 0h0m10 6h0m7-2h0m-36 9h0m26-9h0m21 0h0m-52 7h0m34 3h0m-14-11h0m9 3h0m-3 7h0m-18-15h0m1 7h0m-6-1h0m31 2h0m-29 1h0m23 0h0m-28 3h0m-18-7h0m69 2h0m-18 0h0m-27 5h0m-40-5h0m56 2h0m3-4h0m-17 5h0m-2-5h0m41 4h0m-22 0h0m-20-4h0m-13 5h0m8-3h0m31-3h0m-4 0h0m-45 1h0m33 1h0m-8 2h0m-46 0h0m91-1h0" stroke="#E055AE" stroke-width="3.9" stroke-linecap="round" fill="none"/>
<path d="M1300 721h0m-36-2h0m47 9h0m-44-8h0m33 4h0m9-4h0m-33 8h0m-5-15h0m-5 14h0m18-3h0m-19 4h0m17-3h0m-40-6h0m49-4h0m-8 7h0m33 1h0m-7 0h0m-21 0h0m9 6h0m1-8h0m10-3h0m-34 3h0m49-1h0m-44-1h0m4 1h0m-22-1h0m58 3h0m-40-4h0m2 3h0m-27 1h0m57-2h0m-32-2h0m31 1h0m-47 5h0m33-6h0m-44 2h0m67-1h0m8 2h0m-31 0h0m-28 2h0m48-3h0m-21 5h0m16-6h0m-51 1h0m41 2h0m-60-2h0m44 7h0m-26-9h0m5-5h0m33 6h0m0 8h0m-47-8h0m-9 0h0m38 1h0m16 3h0m-41-2h0m49-10h0m-35 8h0m34 2h0m-39 2h0m-21-2h0m21 3h0m57-4h0m-11-1h0m-38 5h0m-15-8h0m9 2h0m-20 4h0m47-2h0m32 0h0m-85 1h0m69-6h0m11 3h0m-57-2h0m53 5h0m-47-5h0m4 5h0m41 0h0m-5-1h0m-4-10h0m-41 12h0m29 3h0m-54-5h0m25-2h0m32 9h0m-24-8h0m35 0h0m-44 6h0m-24-5h0m88 0h0" stroke="#8E8E8E" stroke-width="3.9" stroke-linecap="round" fill="none"/>
<path d="M1292.7 577.4h38.9v10h-38.9zM1280.8 600.4h35.2v10h-35.2zM1234.1 623.3h38.7v10h-38.7zM1203.8 646.2h80.5v10h-80.5zM1300.3 669.2h14.4v10h-14.4zM1314.7 692.1h38.3v10h-38.3zM1264.4 715.1h46v10h-46z" stroke="#000" stroke-width="2.4" fill="#fff" fill-opacity="0.18"/>
<path d="M1306.7 576.2h11v12.4h-11zM1292.9 599.1h11v12.4h-11zM1248.1 622.1h11v12.4h-11zM1238.6 645h11v12.4h-11zM1301.5 668h11v12.4h-11zM1328.4 690.9h11v12.4h-11zM1281.9 713.9h11v12.4h-11z" fill="#000"/>
<path d="M1155.4 568.9V734.2M1154.8 733.6H1376.1" stroke="#000" stroke-width="2.2"/>
<path d="M1150.4 582.4H1155.4" stroke="#000" stroke-width="1.6"/>
<text x="1148.4" y="587.8" font-size="15.1" text-anchor="end" fill="#4D4D4D">SAMBA</text>
<path d="M1150.4 605.4H1155.4" stroke="#000" stroke-width="1.6"/>
<text x="1148.4" y="610.8" font-size="15.1" text-anchor="end" fill="#4D4D4D">RIGER</text>
<path d="M1150.4 628.3H1155.4" stroke="#000" stroke-width="1.6"/>
<text x="1148.4" y="633.7" font-size="15.1" text-anchor="end" fill="#4D4D4D">PBNPA</text>
<path d="M1150.4 651.2H1155.4" stroke="#000" stroke-width="1.6"/>
<text x="1148.4" y="656.6" font-size="15.1" text-anchor="end" fill="#4D4D4D">MAGECK</text>
<path d="M1150.4 674.2H1155.4" stroke="#000" stroke-width="1.6"/>
<text x="1148.4" y="679.6" font-size="15.1" text-anchor="end" fill="#4D4D4D">JACKS</text>
<path d="M1150.4 697.1H1155.4" stroke="#000" stroke-width="1.6"/>
<text x="1148.4" y="702.5" font-size="15.1" text-anchor="end" fill="#4D4D4D">CB2</text>
<path d="M1150.4 720.1H1155.4" stroke="#000" stroke-width="1.6"/>
<text x="1148.4" y="725.5" font-size="15.1" text-anchor="end" fill="#4D4D4D">BAGEL</text>
<path d="M1196.2 733.6V738.6" stroke="#000" stroke-width="1.6"/>
<text x="1196.2" y="749.1" font-size="11.2" text-anchor="middle" fill="#4D4D4D">−0.4</text>
<path d="M1246.2 733.6V738.6" stroke="#000" stroke-width="1.6"/>
<text x="1246.2" y="749.1" font-size="11.2" text-anchor="middle" fill="#4D4D4D">−0.2</text>
<path d="M1296.5 733.6V738.6" stroke="#000" stroke-width="1.6"/>
<text x="1296.5" y="749.1" font-size="11.2" text-anchor="middle" fill="#4D4D4D">0.0</text>
<path d="M1346 733.6V738.6" stroke="#000" stroke-width="1.6"/>
<text x="1346" y="749.1" font-size="11.2" text-anchor="middle" fill="#4D4D4D">0.2</text>
<text x="1265.8" y="765.6" font-size="14.1" text-anchor="middle">Relative AUC</text>
<path d="M1377.6 576.9V609.4" stroke="#222" stroke-width="1.5"/>
<text x="1372.4" y="593.1" font-size="16.5" text-anchor="middle" fill="#111" font-weight="bold" transform="rotate(90 1372.4 593.1)">**</text>
<path d="M1385 576.9V633.5" stroke="#222" stroke-width="1.5"/>
<text x="1379.8" y="605.2" font-size="16.5" text-anchor="middle" fill="#111" font-weight="bold" transform="rotate(90 1379.8 605.2)">****</text>
<path d="M1392.4 576.9V657.6" stroke="#222" stroke-width="1.5"/>
<text x="1387.2" y="617.2" font-size="16.5" text-anchor="middle" fill="#111" font-weight="bold" transform="rotate(90 1387.2 617.2)">****</text>
<path d="M1399.8 576.9V681.7" stroke="#222" stroke-width="1.5"/>
<text x="1401" y="629.3" font-size="10" text-anchor="middle" fill="#222" transform="rotate(90 1401 629.3)">ns</text>
<path d="M1407.2 576.9V705.8" stroke="#222" stroke-width="1.5"/>
<text x="1402" y="641.3" font-size="16.5" text-anchor="middle" fill="#111" font-weight="bold" transform="rotate(90 1402 641.3)">****</text>
<path d="M1414.6 576.9V729.9" stroke="#222" stroke-width="1.5"/>
<text x="1409.4" y="653.4" font-size="16.5" text-anchor="middle" fill="#111" font-weight="bold" transform="rotate(90 1409.4 653.4)">****</text>
<text x="1484.6" y="567.4" font-size="17">Specificity</text>
<text x="1565.6" y="567.4" font-size="11.7">(pAUC: TPR &gt; 90%)</text>
<path d="M1582.1 568.9V733.6" stroke="#A0A0A0" stroke-width="1"/>
<path d="M1614 578h0m-2-2h0m-22 4h0m3 4h0m16-6h0m-34 4h0m0-2h0m14 1h0m57 1h0m-15-2h0m-57-2h0m7-2h0m36 6h0m-35-2h0m47 1h0m-48 0h0m15 5h0m-3-5h0m-10 4h0m14-4h0m-22 0h0m-4-1h0m10 8h0m-16-5h0m53-3h0m-18 7h0m-4-7h0m8-1h0m-34 7h0m30-3h0m0 2h0m-8-9h0m54 5h0m-67-7h0m-1 9h0m71 0h0m-36 4h0m-38-5h0m3-1h0m19-2h0m0 11h0m-22-13h0m-7 8h0m-1-2h0m-5-1h0m33 2h0m20 1h0m-38 1h0m-2-6h0m39 5h0m-16-10h0m13 7h0m-22-5h0m-27 5h0m9 5h0m8 4h0m26-11h0m-38 1h0m14 3h0m33-1h0m-40 2h0m25-4h0m34 3h0m-26 3h0m13-11h0m11 4h0m6 2h0m-62 1h0m34 2h0m-47-4h0m49 3h0m-8-5h0m3 0h0m-38 1h0m18 1h0m-6 1h0m26 8h0m-10-10h0m17 2h0m-7-4h0m-41 6h0m73-3h0m-12 2h0m-25 6h0m-4-13h0m9 6h0m0-2h0m-11 0h0m-33 3h0m87-1h0" stroke="#3B7CC0" stroke-width="3.9" stroke-linecap="round" fill="none"/>
<path d="M1588 608h0m17 0h0m40-2h0m-33-6h0m-37 10h0m34-6h0m-53 2h0m88-1h0m-5 0h0m-70-8h0m-4 6h0m44 6h0m-27 2h0m18-6h0m7 5h0m-4-10h0m-22 5h0m27-1h0m-27 8h0m-16-12h0m45 8h0m22-6h0m-67 0h0m12 5h0m28 1h0m-20-7h0m-26 5h0m5 0h0m12-1h0m-6-3h0m0 0h0m28 5h0m-32 8h0m-6-7h0m12-3h0m26 0h0m8 1h0m-2 7h0m-45-6h0m35 0h0m-6-4h0m10 10h0m3-6h0m2-8h0m-42 6h0m16-2h0m39-1h0m0 6h0m-13 0h0m-10-8h0m-10 5h0m-13 0h0m48-4h0m-20 6h0m-34-2h0m4 4h0m20-5h0m12 0h0m-7 1h0m5 0h0m-1-4h0m-38 4h0m-1 2h0m22-3h0m-8 3h0m-7-1h0m42-3h0m-42 6h0m34-2h0m-43 0h0m10 0h0m0-1h0m32-1h0m4 3h0m-20-6h0m15-2h0m3 13h0m-39-9h0m51-2h0m-27 1h0m5-4h0m0 0h0m-17 0h0m-7 9h0m34 4h0m-36-10h0m1 6h0m0-2h0m-9 0h0m87 0h0" stroke="#E08B35" stroke-width="3.9" stroke-linecap="round" fill="none"/>
<path d="M1573 628h0m-16-3h0m17 2h0m-75 2h0m48-4h0m-47 2h0m6 0h0m5 1h0m67-5h0m-17 4h0m18 2h0m-66 1h0m22 6h0m-12-11h0m49 3h0m4-2h0m-34-1h0m-50 3h0m88 1h0m-52-4h0m44 4h0m2-3h0m-16 1h0m-27 0h0m44 4h0m-57-1h0m36 3h0m-40-6h0m26 3h0m-13-3h0m54 1h0m-63 5h0m13-1h0m-34-3h0m84-1h0m-10 8h0m10-9h0m-50 2h0m45 0h0m-41 0h0m0-3h0m27 1h0m-3 0h0m3 5h0m-68-4h0m48 0h0m-14-4h0m49 3h0m-10-1h0m-31 4h0m30-2h0m0-2h0m4-4h0m12 7h0m-17 1h0m-11-3h0m-11-2h0m-1-2h0m2 11h0m-39-7h0m50-1h0m10 4h0m-35-2h0m46 0h0m-43 2h0m22-6h0m24 5h0m-7-7h0m-40 9h0m-31-1h0m39 3h0m9-1h0m17-2h0m-80-1h0m91-6h0m-48 5h0m51-2h0m-49 5h0m51-3h0m-30 2h0m26-1h0m-42 6h0m35-5h0m-39-6h0m44 2h0m-9-2h0m3 2h0m-43 2h0m-50 1h0m104-1h0" stroke="#4EC29E" stroke-width="3.9" stroke-linecap="round" fill="none"/>
<path d="M1509 650h0m-2 2h0m56 0h0m-11-7h0m-29 4h0m7 2h0m27-2h0m-47 2h0m13 4h0m-1-7h0m53 6h0m-1 0h0m-41-3h0m-3 0h0m5-7h0m-1 7h0m16 6h0m-28-11h0m23 1h0m25 6h0m-4 4h0m29-8h0m-76 4h0m18-8h0m-6 14h0m43-3h0m-42 4h0m0-8h0m-6 3h0m2-1h0m3-8h0m4 9h0m-12-6h0m11 1h0m34 4h0m-18-2h0m17 5h0m-58-5h0m10 1h0m42-6h0m-6 10h0m-49-5h0m21-2h0m46 2h0m0-3h0m-10-4h0m9 5h0m-12 0h0m-32-1h0m12 5h0m-3-2h0m-11-9h0m2 14h0m17-8h0m-24 4h0m17-2h0m18 4h0m39-2h0m-84-3h0m45 4h0m-32-5h0m-13 4h0m64 0h0m-2 3h0m-25-5h0m33-1h0m-56 2h0m-19-1h0m40-1h0m13 3h0m0 4h0m14-3h0m-10 4h0m11-6h0m0-3h0m-17-6h0m24 6h0m-53 5h0m49-9h0m-18 6h0m14 4h0m-52 0h0m33-10h0m13 11h0m6-7h0m-11 4h0m34-2h0m-58-4h0m-33 5h0m96-2h0" stroke="#9A8C33" stroke-width="3.9" stroke-linecap="round" fill="none"/>
<path d="M1576 672h0m7 0h0m-2 10h0m21-7h0m-32 1h0m30-5h0m-4 1h0m-13 4h0m-8-1h0m-3-1h0m10-3h0m7 1h0m-6-3h0m9 8h0m5-2h0m-42 5h0m18-5h0m-2-6h0m36 5h0m-38 8h0m26 0h0m-9-12h0m-3 4h0m18 0h0m-7 3h0m-45-6h0m42 5h0m-16-2h0m-2 3h0m13-3h0m-9 3h0m20-2h0m-15-1h0m5-5h0m-23 2h0m45 3h0m-6 2h0m-42 0h0m12 1h0m-30-5h0m22 2h0m30-4h0m-13-2h0m-42 6h0m56-2h0m-20 5h0m-30-5h0m-10 1h0m40 3h0m-41-2h0m62-7h0m-43 10h0m27-3h0m10-7h0m13 7h0m-16 3h0m-4-1h0m-1-2h0m21 0h0m-25-7h0m21 11h0m-15-3h0m9-5h0m-36 10h0m25-3h0m-38-2h0m66-1h0m-26 2h0m-24 1h0m1-2h0m14 0h0m-36 2h0m50-3h0m1 2h0m-25 5h0m4-11h0m5 3h0m28 1h0m-73 1h0m68-6h0m15 5h0m-66 0h0m-12 1h0m32 0h0m5-1h0m16-7h0m6 10h0m7-7h0m-71 5h0m82-1h0" stroke="#C8432F" stroke-width="3.9" stroke-linecap="round" fill="none"/>
<path d="M1585 700h0m29-6h0m3-2h0m13 9h0m-9 1h0m23-9h0m1 3h0m-54 0h0m24 1h0m-9 6h0m30-8h0m-37 3h0m-4 3h0m37-3h0m-24 5h0m-31-6h0m8 0h0m5 0h0m4-1h0m2 6h0m48-4h0m-62 3h0m9-11h0m3 13h0m-9-8h0m25 8h0m27-9h0m-25 8h0m-25-4h0m82-1h0m-84 0h0m77-2h0m-25 1h0m-5-1h0m-38 4h0m25-3h0m9 2h0m3 2h0m1-5h0m0 6h0m20-4h0m-44-8h0m-19 13h0m14-5h0m-3 2h0m63-1h0m-74 3h0m-4-8h0m14 4h0m-1-9h0m27 10h0m-43-3h0m57 0h0m-4 8h0m-44-6h0m30 0h0m-21 4h0m19 3h0m-24-6h0m15-3h0m16-6h0m-18 9h0m42-3h0m-57-1h0m-6-1h0m30-1h0m8-3h0m-9 8h0m19 2h0m-48-1h0m38-5h0m-34 9h0m21-4h0m-29-2h0m3 1h0m2-1h0m58 1h0m-53 1h0m12-1h0m-8 1h0m12-4h0m22 2h0m-21-3h0m-11 7h0m27-8h0m-46 4h0m36-2h0m-18 0h0m-20 4h0m98-1h0" stroke="#E055AE" stroke-width="3.9" stroke-linecap="round" fill="none"/>
<path d="M1573 718h0m3 1h0m4-5h0m-11 13h0m10-17h0m-7 9h0m-1 3h0m23 4h0m5-13h0m1 8h0m7-2h0m-46-1h0m47 3h0m-32-1h0m20 2h0m-18-4h0m12 2h0m-9 3h0m10-3h0m-11 2h0m-8-1h0m42-2h0m-16 3h0m-35-2h0m26-5h0m-21 8h0m1-2h0m34 2h0m-24-8h0m7 2h0m-22 8h0m34-10h0m0 6h0m10-2h0m-42 3h0m22 0h0m8-4h0m-3 1h0m6 5h0m-29 6h0m10-9h0m-13 0h0m1 1h0m40-2h0m-18 6h0m10-16h0m-7 15h0m19-5h0m-49-2h0m34-3h0m8 2h0m-39 3h0m46 0h0m-6-2h0m-45 4h0m15-9h0m19 9h0m-21 6h0m18 0h0m-21-8h0m27 0h0m-25-4h0m-4 1h0m12-2h0m-2-2h0m-3 11h0m-10-2h0m-6-2h0m-2 3h0m28-3h0m-22 3h0m36-13h0m-3 12h0m4-2h0m-45-1h0m47 4h0m-15 0h0m-2-2h0m18 3h0m-9-8h0m-7 2h0m14 5h0m5-1h0m-39-2h0m23 1h0m-16 1h0m21-1h0m1-4h0m-43 4h0m59 0h0" stroke="#8E8E8E" stroke-width="3.9" stroke-linecap="round" fill="none"/>
<path d="M1576.4 577.4h37.1v10h-37.1zM1565.8 600.4h40.2v10h-40.2zM1527.8 623.3h47.5v10h-47.5zM1523.9 646.2h48.5v10h-48.5zM1562.3 669.2h32v10h-32zM1589.8 692.1h46v10h-46zM1566.8 715.1h34.2v10h-34.2z" stroke="#000" stroke-width="2.4" fill="#fff" fill-opacity="0.18"/>
<path d="M1589.4 576.2h11v12.4h-11zM1580.4 599.1h11v12.4h-11zM1546.2 622.1h11v12.4h-11zM1542.8 645h11v12.4h-11zM1572.7 668h11v12.4h-11zM1607.3 690.9h11v12.4h-11zM1578.3 713.9h11v12.4h-11z" fill="#000"/>
<path d="M1465.9 568.9V734.2M1465.3 733.6H1687.5" stroke="#000" stroke-width="2.2"/>
<path d="M1460.9 582.4H1465.9M1460.9 605.4H1465.9M1460.9 628.3H1465.9M1460.9 651.2H1465.9M1460.9 674.2H1465.9M1460.9 697.1H1465.9M1460.9 720.1H1465.9M1517.2 733.6V738.6" stroke="#000" stroke-width="1.6"/>
<text x="1517.2" y="749.1" font-size="11.2" text-anchor="middle" fill="#4D4D4D">−0.2</text>
<path d="M1582.1 733.6V738.6" stroke="#000" stroke-width="1.6"/>
<text x="1582.1" y="749.1" font-size="11.2" text-anchor="middle" fill="#4D4D4D">0.0</text>
<path d="M1646.8 733.6V738.6" stroke="#000" stroke-width="1.6"/>
<text x="1646.8" y="749.1" font-size="11.2" text-anchor="middle" fill="#4D4D4D">0.2</text>
<text x="1576.7" y="765.6" font-size="14.1" text-anchor="middle">Relative AUC</text>
<path d="M1689 576.9V609.4" stroke="#222" stroke-width="1.5"/>
<text x="1690.2" y="593.1" font-size="10" text-anchor="middle" fill="#222" transform="rotate(90 1690.2 593.1)">ns</text>
<path d="M1696.4 576.9V633.5" stroke="#222" stroke-width="1.5"/>
<text x="1691.2" y="605.2" font-size="16.5" text-anchor="middle" fill="#111" font-weight="bold" transform="rotate(90 1691.2 605.2)">****</text>
<path d="M1703.8 576.9V657.6" stroke="#222" stroke-width="1.5"/>
<text x="1698.6" y="617.2" font-size="16.5" text-anchor="middle" fill="#111" font-weight="bold" transform="rotate(90 1698.6 617.2)">****</text>
<path d="M1711.2 576.9V681.7" stroke="#222" stroke-width="1.5"/>
<text x="1706" y="629.3" font-size="16.5" text-anchor="middle" fill="#111" font-weight="bold" transform="rotate(90 1706 629.3)">***</text>
<path d="M1718.6 576.9V705.8" stroke="#222" stroke-width="1.5"/>
<text x="1713.4" y="641.3" font-size="16.5" text-anchor="middle" fill="#111" font-weight="bold" transform="rotate(90 1713.4 641.3)">****</text>
<path d="M1726 576.9V729.9" stroke="#222" stroke-width="1.5"/>
<text x="1727.2" y="653.4" font-size="10" text-anchor="middle" fill="#222" transform="rotate(90 1727.2 653.4)">ns</text>
<text x="1780.4" y="567.4" font-size="17">Sensitivity</text>
<text x="1859.5" y="567.4" font-size="11.7">(pAUC: FPR &lt; 10%)</text>
<path d="M1882.2 568.9V733.6" stroke="#A0A0A0" stroke-width="1"/>
<path d="M1914 582h0m-48 0h0m72-1h0m-71 10h0m17-10h0m-17 2h0m45 0h0m-20-5h0m-19 11h0m-9-9h0m12 4h0m6 1h0m4 1h0m22-4h0m-42 2h0m1-2h0m29 4h0m52-2h0m-28-1h0m-47-1h0m73 3h0m-80-7h0m108 5h0m-95-7h0m46 2h0m-47 9h0m11-8h0m-23 8h0m71-5h0m-46-5h0m11 5h0m25 2h0m-40-2h0m55 2h0m-14 2h0m-6-6h0m-57 3h0m89 0h0m-74-1h0m2 3h0m74-2h0m-92-2h0m50 4h0m-36-10h0m47 11h0m-5 0h0m-12-3h0m40-2h0m-27 3h0m-4 5h0m-54-7h0m25 1h0m-22-1h0m27 1h0m-23-3h0m2 1h0m41 0h0m-50 1h0m109 2h0m-54-6h0m-34-3h0m-10 5h0m6-4h0m20 14h0m75-9h0m-66-2h0m-45 0h0m29 7h0m42-6h0m-27 7h0m-43-5h0m82 0h0m-46 1h0m19 6h0m-37-5h0m23 3h0m-36-3h0m53-9h0m-8 3h0m-15 3h0m-24 9h0m11-11h0m19-6h0m22 12h0m-26-2h0m-38-1h0m58-4h0m9 3h0m-67 1h0m114 0h0" stroke="#3B7CC0" stroke-width="3.9" stroke-linecap="round" fill="none"/>
<path d="M1868 604h0m22 1h0m-3 0h0m-5 5h0m-16-5h0m22 0h0m2 2h0m-16 2h0m12-2h0m-18 0h0m16 7h0m4-9h0m-5 0h0m-22 0h0m7 0h0m20-2h0m-8-1h0m15 7h0m-23-9h0m-3 2h0m-10 5h0m11-4h0m6 7h0m12-10h0m-18 1h0m0 12h0m11-4h0m-1-4h0m6 2h0m-29-1h0m33-3h0m-23 8h0m30-7h0m-21 5h0m-23-3h0m16-6h0m7 5h0m9 8h0m-4-3h0m19-4h0m-37 1h0m24-2h0m-3-7h0m-11 7h0m2 1h0m8-6h0m13 4h0m-15 2h0m-8-4h0m17 3h0m-2-3h0m-14-5h0m3 9h0m-16-1h0m18 1h0m-10-2h0m-17 1h0m24 7h0m-11-11h0m15 6h0m-8-1h0m15-3h0m-15-1h0m11-5h0m16 8h0m-33 0h0m12 2h0m5 3h0m-31-4h0m40-2h0m-31 2h0m3-1h0m12-6h0m3 5h0m9-3h0m-18 6h0m18-5h0m-7 3h0m7 5h0m-6-1h0m-12-10h0m24 8h0m-3 1h0m-9-4h0m-17 1h0m15-2h0m16 4h0m-9 4h0m-38-6h0m50 0h0" stroke="#E08B35" stroke-width="3.9" stroke-linecap="round" fill="none"/>
<path d="M1882 622h0m-23 7h0m30 0h0m-3 0h0m-35 5h0m-51-8h0m77 4h0m-30-9h0m43 8h0m-44-5h0m30 3h0m-36 0h0m45-2h0m-49 4h0m48 0h0m-24 2h0m-26-3h0m28-2h0m27 2h0m-35-5h0m22 8h0m-42-5h0m34 2h0m-18 9h0m22-18h0m-25 14h0m1 1h0m-10-5h0m26-2h0m3 2h0m15-6h0m-39 9h0m15-7h0m30 2h0m-13 6h0m11-5h0m-1 0h0m-58 3h0m10-9h0m51 3h0m-44 1h0m-40 0h0m9 2h0m32-6h0m43 6h0m-53 7h0m14 0h0m-15-4h0m29-9h0m25 10h0m-31-9h0m-28 10h0m55-3h0m-14-8h0m-22 4h0m3 3h0m34 2h0m-71-4h0m73 6h0m-9 0h0m-45-7h0m34 9h0m9-7h0m-80 1h0m78-3h0m-87 3h0m49 4h0m34-10h0m6 0h0m-5 6h0m-69 0h0m61 3h0m1-11h0m25 8h0m0 1h0m-13-5h0m13 5h0m-1-5h0m-32 10h0m29-8h0m-41-2h0m45 2h0m-9 6h0m8-9h0m0 1h0m-16 1h0m11 0h0m-5 4h0m-92-1h0m102 0h0" stroke="#4EC29E" stroke-width="3.9" stroke-linecap="round" fill="none"/>
<path d="M1838 652h0m30-5h0m22 0h0m-61 10h0m16-5h0m47-3h0m-1 1h0m-45 2h0m-5-2h0m43 7h0m-72-6h0m22 2h0m58 1h0m-27-8h0m-16 7h0m-15-3h0m59 2h0m-56-5h0m-4 6h0m57 0h0m-93-1h0m50-5h0m32 3h0m-43-3h0m-1 6h0m-13 0h0m38 1h0m30-2h0m-14 2h0m-53-6h0m17 9h0m6-6h0m41-4h0m-78 4h0m64-8h0m7 16h0m-1-10h0m-51-3h0m58 3h0m7 2h0m-2-1h0m-48-4h0m-58 5h0m-7 1h0m113 1h0m-3 2h0m-6 2h0m9-4h0m-3-2h0m-56-1h0m29 1h0m14 3h0m15-4h0m-1 4h0m-36-5h0m-27 6h0m-10-5h0m17 6h0m55-7h0m-49 0h0m54 2h0m-2 7h0m-61 0h0m8-2h0m6-8h0m24 3h0m7 5h0m-6-8h0m-80 3h0m105-1h0m-2 1h0m-90 0h0m88-4h0m-24 0h0m-18 3h0m40 5h0m-10-7h0m-10 2h0m-10-1h0m-24-1h0m38-1h0m-39 4h0m-43 0h0m49-4h0m52 9h0m0-4h0m-20-1h0m-44 1h0m-48 0h0m115-1h0" stroke="#9A8C33" stroke-width="3.9" stroke-linecap="round" fill="none"/>
<path d="M1904 678h0m-12-6h0m-10 4h0m0-2h0m21 2h0m-11 2h0m0 2h0m8-11h0m-17 5h0m17 3h0m-22 2h0m10-4h0m2-2h0m-5 6h0m-10-4h0m26-3h0m-10 3h0m7-3h0m-2 0h0m8 0h0m7 1h0m-44 1h0m26 5h0m-4 1h0m6-1h0m20-5h0m-42 3h0m30 0h0m-26-4h0m9 1h0m18 3h0m-14 1h0m24-3h0m-15-1h0m-1-6h0m6 7h0m-3-2h0m-32 1h0m20 0h0m0 0h0m15-2h0m-18 6h0m0-2h0m19-1h0m-13 4h0m-9 3h0m10-15h0m-15 7h0m7-5h0m17 5h0m-6-9h0m4 9h0m-5-2h0m5-3h0m-1 4h0m5-3h0m-21 3h0m0 3h0m6 0h0m8-10h0m-1 3h0m2 3h0m2 0h0m-29 2h0m41 0h0m-21 1h0m3 3h0m-26-3h0m37-3h0m-7 11h0m-1-12h0m-1 2h0m-6 2h0m-3-3h0m10-6h0m-8 7h0m18 0h0m-10 9h0m-13-1h0m27-8h0m-5-3h0m-4-1h0m-2 5h0m1 1h0m-4 3h0m-15-3h0m18 8h0m-10-2h0m-24-8h0m48 1h0" stroke="#C8432F" stroke-width="3.9" stroke-linecap="round" fill="none"/>
<path d="M1939 698h0m-21-1h0m-6 3h0m-47-2h0m28 1h0m30 1h0m-51-8h0m-6 5h0m3 0h0m47 0h0m-40 0h0m16-3h0m-16 4h0m4 4h0m-12-4h0m1-3h0m55 0h0m-18 2h0m7 2h0m-33-3h0m6 4h0m38-2h0m5-1h0m-39-2h0m-14 2h0m1-5h0m63 2h0m-69 2h0m8 5h0m44-4h0m-6-2h0m-19 6h0m41-7h0m-62 3h0m6-2h0m51 7h0m-64-3h0m0-1h0m26 8h0m20-10h0m28 1h0m-21-1h0m-6 4h0m-41-1h0m8 1h0m24-6h0m-13 10h0m26-4h0m-1-2h0m1 2h0m34-3h0m-40 8h0m-36-7h0m-4 1h0m44 1h0m32 0h0m-69-1h0m1-2h0m35-4h0m-29 11h0m28-10h0m-48 3h0m36 10h0m5-3h0m-45-7h0m81-1h0m-70 3h0m41 4h0m-31-10h0m-16 4h0m46 0h0m3-4h0m-49 6h0m65-3h0m-37 2h0m-16 0h0m-10 0h0m14-5h0m-15 3h0m-2 2h0m24 2h0m-6-10h0m36 7h0m-56 0h0m9 0h0m17 5h0m48-5h0m-26 4h0m-49-5h0m109 1h0" stroke="#E055AE" stroke-width="3.9" stroke-linecap="round" fill="none"/>
<path d="M1889 722h0m0-6h0m-10 3h0m11-2h0m27 4h0m-34-3h0m-9 6h0m-11-3h0m25-1h0m-9 2h0m21-2h0m-38 2h0m26 0h0m25-3h0m-37-2h0m7 4h0m16-4h0m-14 5h0m-20-9h0m0 10h0m-4-5h0m6-4h0m25-2h0m-11 6h0m-28 1h0m49 1h0m-30 3h0m23-3h0m9 3h0m15-5h0m-30 3h0m-5-7h0m17 8h0m-32-8h0m19 11h0m-24-6h0m20 7h0m-15-8h0m0 5h0m0-2h0m30-2h0m-26 10h0m1-14h0m15 7h0m-28-2h0m63 0h0m-40-4h0m-31 5h0m50-2h0m-36 0h0m-3 1h0m31-1h0m-18 8h0m4-2h0m21-10h0m-35 0h0m-14 2h0m37 8h0m-8-6h0m-16 0h0m-17 0h0m20-2h0m7 1h0m15 0h0m-16 11h0m-5-11h0m2-5h0m32 4h0m-7 2h0m-4-1h0m-5 12h0m6-13h0m-10 3h0m-22 1h0m1-4h0m24 7h0m-16-3h0m-9-4h0m50 0h0m-16 1h0m-34-4h0m6-1h0m-1 3h0m14 1h0m-8 4h0m53-1h0m-72-4h0m40 1h0m-50 2h0m82 1h0" stroke="#8E8E8E" stroke-width="3.9" stroke-linecap="round" fill="none"/>
<path d="M1867.8 577.4h53.7v10h-53.7zM1867.8 600.4h19.2v10h-19.2zM1835.2 623.3h51.8v10h-51.8zM1827.9 646.2h61v10h-61zM1883.2 669.2h19.1v10h-19.1zM1877.4 692.1h46.4v10h-46.4zM1863 715.1h31.2v10h-31.2z" stroke="#000" stroke-width="2.4" fill="#fff" fill-opacity="0.18"/>
<path d="M1889.2 576.2h11v12.4h-11zM1871.9 599.1h11v12.4h-11zM1855.6 622.1h11v12.4h-11zM1852.9 645h11v12.4h-11zM1887.2 668h11v12.4h-11zM1895.1 690.9h11v12.4h-11zM1873.2 713.9h11v12.4h-11z" fill="#000"/>
<path d="M1768.5 568.9V734.2M1767.9 733.6H1989.3" stroke="#000" stroke-width="2.2"/>
<path d="M1763.5 582.4H1768.5M1763.5 605.4H1768.5M1763.5 628.3H1768.5M1763.5 651.2H1768.5M1763.5 674.2H1768.5M1763.5 697.1H1768.5M1763.5 720.1H1768.5M1779.9 733.6V738.6" stroke="#000" stroke-width="1.6"/>
<text x="1779.9" y="749.1" font-size="11.2" text-anchor="middle" fill="#4D4D4D">−0.3</text>
<path d="M1814 733.6V738.6" stroke="#000" stroke-width="1.6"/>
<text x="1814" y="749.1" font-size="11.2" text-anchor="middle" fill="#4D4D4D">−0.2</text>
<path d="M1848.2 733.6V738.6" stroke="#000" stroke-width="1.6"/>
<text x="1848.2" y="749.1" font-size="11.2" text-anchor="middle" fill="#4D4D4D">−0.1</text>
<path d="M1882.2 733.6V738.6" stroke="#000" stroke-width="1.6"/>
<text x="1882.2" y="749.1" font-size="11.2" text-anchor="middle" fill="#4D4D4D">0.0</text>
<path d="M1916.7 733.6V738.6" stroke="#000" stroke-width="1.6"/>
<text x="1916.7" y="749.1" font-size="11.2" text-anchor="middle" fill="#4D4D4D">0.1</text>
<path d="M1950.9 733.6V738.6" stroke="#000" stroke-width="1.6"/>
<text x="1950.9" y="749.1" font-size="11.2" text-anchor="middle" fill="#4D4D4D">0.2</text>
<path d="M1984.9 733.6V738.6" stroke="#000" stroke-width="1.6"/>
<text x="1984.9" y="749.1" font-size="11.2" text-anchor="middle" fill="#4D4D4D">0.3</text>
<text x="1878.9" y="765.6" font-size="14.1" text-anchor="middle">Relative AUC</text>
<path d="M1990.8 576.9V609.4" stroke="#222" stroke-width="1.5"/>
<text x="1985.6" y="593.1" font-size="16.5" text-anchor="middle" fill="#111" font-weight="bold" transform="rotate(90 1985.6 593.1)">***</text>
<path d="M1998.2 576.9V633.5" stroke="#222" stroke-width="1.5"/>
<text x="1993" y="605.2" font-size="16.5" text-anchor="middle" fill="#111" font-weight="bold" transform="rotate(90 1993 605.2)">****</text>
<path d="M2005.6 576.9V657.6" stroke="#222" stroke-width="1.5"/>
<text x="2000.4" y="617.2" font-size="16.5" text-anchor="middle" fill="#111" font-weight="bold" transform="rotate(90 2000.4 617.2)">****</text>
<path d="M2013 576.9V681.7" stroke="#222" stroke-width="1.5"/>
<text x="2014.2" y="629.3" font-size="10" text-anchor="middle" fill="#222" transform="rotate(90 2014.2 629.3)">ns</text>
<path d="M2020.4 576.9V705.8" stroke="#222" stroke-width="1.5"/>
<text x="2021.6" y="641.3" font-size="10" text-anchor="middle" fill="#222" transform="rotate(90 2021.6 641.3)">ns</text>
<path d="M2027.8 576.9V729.9" stroke="#222" stroke-width="1.5"/>
<text x="2022.6" y="653.4" font-size="16.5" text-anchor="middle" fill="#111" font-weight="bold" transform="rotate(90 2022.6 653.4)">**</text>
<text x="56" y="206" font-size="20.6" text-anchor="middle" transform="rotate(-90 56 206)">00% sparsity</text>
<path d="M58.5 147V265" stroke="#000" stroke-width="1.4"/>
<text x="1065.5" y="206" font-size="20.6" text-anchor="middle" transform="rotate(-90 1065.5 206)">00% sparsity</text>
<path d="M1068 147V265" stroke="#000" stroke-width="1.4"/>
<text x="56" y="431.4" font-size="20.6" text-anchor="middle" transform="rotate(-90 56 431.4)">50% sparsity</text>
<path d="M58.5 372.4V490.4" stroke="#000" stroke-width="1.4"/>
<text x="1065.5" y="431.4" font-size="20.6" text-anchor="middle" transform="rotate(-90 1065.5 431.4)">50% sparsity</text>
<path d="M1068 372.4V490.4" stroke="#000" stroke-width="1.4"/>
<text x="56" y="656.8" font-size="20.6" text-anchor="middle" transform="rotate(-90 56 656.8)">90% sparsity</text>
<path d="M58.5 597.8V715.8" stroke="#000" stroke-width="1.4"/>
<text x="1065.5" y="656.8" font-size="20.6" text-anchor="middle" transform="rotate(-90 1065.5 656.8)">90% sparsity</text>
<path d="M1068 597.8V715.8" stroke="#000" stroke-width="1.4"/>
<text x="-2" y="812.1" font-size="60" font-weight="bold">b</text>
<text x="93.3" y="829.6" font-size="28.6" text-anchor="middle" font-style="italic">SGSM2</text>
<text x="93.3" y="860.1" font-size="27.7" text-anchor="middle">OE</text>
<path d="M81.2 883.5V1040.8M72.7 884.5H81.2" stroke="#000" stroke-width="2.2"/>
<text x="63.4" y="890.5" font-size="16.8" text-anchor="end">5</text>
<path d="M72.7 915.6H81.2" stroke="#000" stroke-width="2.2"/>
<text x="63.4" y="921.6" font-size="16.8" text-anchor="end">4</text>
<path d="M72.7 946.6H81.2" stroke="#000" stroke-width="2.2"/>
<text x="63.4" y="952.7" font-size="16.8" text-anchor="end">3</text>
<path d="M72.7 977.7H81.2" stroke="#000" stroke-width="2.2"/>
<text x="63.4" y="983.7" font-size="16.8" text-anchor="end">2</text>
<path d="M72.7 1008.7H81.2" stroke="#000" stroke-width="2.2"/>
<text x="63.4" y="1014.8" font-size="16.8" text-anchor="end">1</text>
<path d="M72.7 1039.8H81.2" stroke="#000" stroke-width="2.2"/>
<text x="63.4" y="1045.8" font-size="16.8" text-anchor="end">0</text>
<path d="M72.2 1039.8H154.5M102.4 1039.8V1047.3M134.5 1039.8V1047.3" stroke="#000" stroke-width="2.2"/>
<path d="M92.4 1039.8V1008.7H112.4V1039.8" stroke="#111" stroke-width="2.1" fill="none"/>
<path d="M124.5 1039.8V932.6H144.5V1039.8" stroke="#F03A2A" stroke-width="2.1" fill="none"/>
<path d="M102.4 1007.8V1009.7M96.4 1007.8H108.4M96.4 1009.7H108.4" stroke="#111" stroke-width="1.8"/>
<path d="M97 1009h0m5 0h0m5 1h0m-4-3h0" stroke="#111" stroke-width="3.6" stroke-linecap="round" fill="none"/>
<path d="M134.5 928.9V936.4M128.5 928.9H140.5M128.5 936.4H140.5" stroke="#F03A2A" stroke-width="1.8"/>
<path d="M130 932h0m4 1h0m6 0h0m-4-6h0" stroke="#F03A2A" stroke-width="3.6" stroke-linecap="round" fill="none"/>
<path d="M102.4 883H134.5" stroke="#000" stroke-width="2.2"/>
<text x="118.5" y="885.5" font-size="19" text-anchor="middle" font-weight="bold">****</text>
<text x="116.4" y="1055.8" font-size="16.5" text-anchor="end" transform="rotate(-32 116.4 1055.8)">sgNTC</text>
<text x="148.5" y="1055.8" font-size="16.5" text-anchor="end" transform="rotate(-32 148.5 1055.8)">sgSGSM2</text>
<text x="212" y="829.6" font-size="28.6" text-anchor="middle" font-style="italic">OR7A10</text>
<text x="212" y="860.1" font-size="27.7" text-anchor="middle">OE</text>
<path d="M195 883.5V1040.8M186.5 884.5H195" stroke="#000" stroke-width="2.2"/>
<text x="185.5" y="890.5" font-size="16.8" text-anchor="end">250</text>
<path d="M186.5 915.6H195" stroke="#000" stroke-width="2.2"/>
<text x="185.5" y="921.6" font-size="16.8" text-anchor="end">200</text>
<path d="M186.5 946.6H195" stroke="#000" stroke-width="2.2"/>
<text x="185.5" y="952.7" font-size="16.8" text-anchor="end">150</text>
<path d="M186.5 977.7H195" stroke="#000" stroke-width="2.2"/>
<text x="185.5" y="983.7" font-size="16.8" text-anchor="end">100</text>
<path d="M186.5 1008.7H195" stroke="#000" stroke-width="2.2"/>
<text x="185.5" y="1014.8" font-size="16.8" text-anchor="end">50</text>
<path d="M186.5 1039.8H195" stroke="#000" stroke-width="2.2"/>
<text x="185.5" y="1045.8" font-size="16.8" text-anchor="end">0</text>
<path d="M186 1039.8H265M212.9 1039.8V1047.3M245 1039.8V1047.3" stroke="#000" stroke-width="2.2"/>
<path d="M202.9 1039.8V1039.2H222.9V1039.8" stroke="#111" stroke-width="2.1" fill="none"/>
<path d="M235.0 1039.8V906.2H255.0V1039.8" stroke="#2233EE" stroke-width="2.1" fill="none"/>
<path d="M212.9 1038.2V1040.1M206.9 1038.2H218.9M206.9 1040.1H218.9" stroke="#111" stroke-width="1.8"/>
<path d="M208 1039h0m5 0h0m5 0h0m-4-1h0" stroke="#111" stroke-width="3.6" stroke-linecap="round" fill="none"/>
<path d="M245 902.5V910M239 902.5H251M239 910H251" stroke="#2233EE" stroke-width="1.8"/>
<path d="M240 908h0m5-6h0m5 3h0m-4-5h0" stroke="#2233EE" stroke-width="3.6" stroke-linecap="round" fill="none"/>
<path d="M212.9 883H245" stroke="#000" stroke-width="2.2"/>
<text x="228.9" y="885.5" font-size="19" text-anchor="middle" font-weight="bold">****</text>
<text x="226.9" y="1055.8" font-size="16.5" text-anchor="end" transform="rotate(-32 226.9 1055.8)">sgNTC</text>
<text x="259" y="1055.8" font-size="16.5" text-anchor="end" transform="rotate(-32 259 1055.8)">sgOR7A10</text>
<text x="319.5" y="829.6" font-size="28.6" text-anchor="middle" font-style="italic">APLN</text>
<text x="319.5" y="860.1" font-size="27.7" text-anchor="middle">OE</text>
<path d="M297.7 883.5V1040.8M289.2 884.5H297.7" stroke="#000" stroke-width="2.2"/>
<text x="282.5" y="890.5" font-size="16.8" text-anchor="end">4</text>
<path d="M289.2 923.3H297.7" stroke="#000" stroke-width="2.2"/>
<text x="282.5" y="929.4" font-size="16.8" text-anchor="end">3</text>
<path d="M289.2 962.1H297.7" stroke="#000" stroke-width="2.2"/>
<text x="282.5" y="968.2" font-size="16.8" text-anchor="end">2</text>
<path d="M289.2 1001H297.7" stroke="#000" stroke-width="2.2"/>
<text x="282.5" y="1007" font-size="16.8" text-anchor="end">1</text>
<path d="M289.2 1039.8H297.7" stroke="#000" stroke-width="2.2"/>
<text x="282.5" y="1045.8" font-size="16.8" text-anchor="end">0</text>
<path d="M288.7 1039.8H371.2M319.1 1039.8V1047.3M351.2 1039.8V1047.3" stroke="#000" stroke-width="2.2"/>
<path d="M309.1 1039.8V1001.0H329.1V1039.8" stroke="#111" stroke-width="2.1" fill="none"/>
<path d="M341.2 1039.8V931.1H361.2V1039.8" stroke="#35A24A" stroke-width="2.1" fill="none"/>
<path d="M319.1 1000.4V1001.6M313.1 1000.4H325.1M313.1 1001.6H325.1" stroke="#111" stroke-width="1.8"/>
<path d="M314 1000h0m5 2h0m5-1h0m-4-1h0" stroke="#111" stroke-width="3.6" stroke-linecap="round" fill="none"/>
<path d="M351.2 928.8V933.4M345.2 928.8H357.2M345.2 933.4H357.2" stroke="#35A24A" stroke-width="1.8"/>
<path d="M346 929h0m5 5h0m5-1h0m-4-6h0" stroke="#35A24A" stroke-width="3.6" stroke-linecap="round" fill="none"/>
<path d="M319.1 883H351.2" stroke="#000" stroke-width="2.2"/>
<text x="335.1" y="885.5" font-size="19" text-anchor="middle" font-weight="bold">****</text>
<text x="333.1" y="1055.8" font-size="16.5" text-anchor="end" transform="rotate(-32 333.1 1055.8)">sgNTC</text>
<text x="365.2" y="1055.8" font-size="16.5" text-anchor="end" transform="rotate(-32 365.2 1055.8)">sgAPLN</text>
<text x="417.5" y="829.6" font-size="28.6" text-anchor="middle" font-style="italic">PDP1</text>
<text x="417.5" y="860.1" font-size="27.7" text-anchor="middle">OE</text>
<path d="M395.7 883.5V1040.8M387.2 884.5H395.7" stroke="#000" stroke-width="2.2"/>
<text x="384.3" y="890.5" font-size="16.8" text-anchor="end">8</text>
<path d="M387.2 923.3H395.7" stroke="#000" stroke-width="2.2"/>
<text x="384.3" y="929.4" font-size="16.8" text-anchor="end">6</text>
<path d="M387.2 962.1H395.7" stroke="#000" stroke-width="2.2"/>
<text x="384.3" y="968.2" font-size="16.8" text-anchor="end">4</text>
<path d="M387.2 1001H395.7" stroke="#000" stroke-width="2.2"/>
<text x="384.3" y="1007" font-size="16.8" text-anchor="end">2</text>
<path d="M387.2 1039.8H395.7" stroke="#000" stroke-width="2.2"/>
<text x="384.3" y="1045.8" font-size="16.8" text-anchor="end">0</text>
<path d="M386.7 1039.8H469.9M417.7 1039.8V1047.3M449.9 1039.8V1047.3" stroke="#000" stroke-width="2.2"/>
<path d="M407.7 1039.8V1021.0H427.7V1039.8" stroke="#111" stroke-width="2.1" fill="none"/>
<path d="M439.9 1039.8V915.6H459.9V1039.8" stroke="#F2A535" stroke-width="2.1" fill="none"/>
<path d="M417.7 1015.1V1026.8M411.7 1015.1H423.7M411.7 1026.8H423.7" stroke="#111" stroke-width="1.8"/>
<path d="M413 1023h0m5 0h0m5-6h0m-4-5h0" stroke="#111" stroke-width="3.6" stroke-linecap="round" fill="none"/>
<path d="M449.9 909.7V921.4M443.9 909.7H455.9M443.9 921.4H455.9" stroke="#F2A535" stroke-width="1.8"/>
<path d="M445 910h0m5 6h0m5-6h0m-4-4h0" stroke="#F2A535" stroke-width="3.6" stroke-linecap="round" fill="none"/>
<path d="M417.7 883H449.9" stroke="#000" stroke-width="2.2"/>
<text x="433.8" y="885.5" font-size="19" text-anchor="middle" font-weight="bold">****</text>
<text x="431.7" y="1055.8" font-size="16.5" text-anchor="end" transform="rotate(-32 431.7 1055.8)">sgNTC</text>
<text x="463.9" y="1055.8" font-size="16.5" text-anchor="end" transform="rotate(-32 463.9 1055.8)">sgPDP1</text>
<text x="518.5" y="829.6" font-size="28.6" text-anchor="middle" font-style="italic">CYB5B</text>
<text x="518.5" y="860.1" font-size="27.7" text-anchor="middle">OE</text>
<path d="M503.6 883.5V1040.8M495.1 884.5H503.6" stroke="#000" stroke-width="2.2"/>
<text x="494.2" y="890.5" font-size="16.8" text-anchor="end">2.0</text>
<path d="M495.1 923.3H503.6" stroke="#000" stroke-width="2.2"/>
<text x="494.2" y="929.4" font-size="16.8" text-anchor="end">1.5</text>
<path d="M495.1 962.1H503.6" stroke="#000" stroke-width="2.2"/>
<text x="494.2" y="968.2" font-size="16.8" text-anchor="end">1.0</text>
<path d="M495.1 1001H503.6" stroke="#000" stroke-width="2.2"/>
<text x="494.2" y="1007" font-size="16.8" text-anchor="end">0.5</text>
<path d="M495.1 1039.8H503.6" stroke="#000" stroke-width="2.2"/>
<text x="494.2" y="1045.8" font-size="16.8" text-anchor="end">0</text>
<path d="M494.6 1039.8H577.8M524.9 1039.8V1047.3M557.8 1039.8V1047.3" stroke="#000" stroke-width="2.2"/>
<path d="M514.9 1039.8V962.1H534.9V1039.8" stroke="#111" stroke-width="2.1" fill="none"/>
<path d="M547.8 1039.8V928.0H567.8V1039.8" stroke="#9B42C2" stroke-width="2.1" fill="none"/>
<path d="M524.9 961.8V962.5M518.9 961.8H530.9M518.9 962.5H530.9" stroke="#111" stroke-width="1.8"/>
<path d="M520 962h0m5 0h0m5 0h0m-4 0h0" stroke="#111" stroke-width="3.6" stroke-linecap="round" fill="none"/>
<path d="M557.8 926.4V929.5M551.8 926.4H563.8M551.8 929.5H563.8" stroke="#9B42C2" stroke-width="1.8"/>
<path d="M553 928h0m5 0h0m5 1h0m-4-4h0" stroke="#9B42C2" stroke-width="3.6" stroke-linecap="round" fill="none"/>
<path d="M524.9 883H557.8" stroke="#000" stroke-width="2.2"/>
<text x="541.3" y="885.5" font-size="19" text-anchor="middle" font-weight="bold">***</text>
<text x="538.9" y="1055.8" font-size="16.5" text-anchor="end" transform="rotate(-32 538.9 1055.8)">sgNTC</text>
<text x="571.8" y="1055.8" font-size="16.5" text-anchor="end" transform="rotate(-32 571.8 1055.8)">sgCYB5B</text>
<text x="43" y="955" font-size="16.8" text-anchor="middle" transform="rotate(-90 43 955)" dy="0.35em">fold change</text>
<text x="568.9" y="812.2" font-size="60" font-weight="bold">c</text>
<text x="707.7" y="843.8" font-size="28.5" text-anchor="middle">NK92 cells</text>
<text x="916.9" y="827.6" font-size="28.8" text-anchor="middle">primary human</text>
<text x="913.5" y="858.7" font-size="28.8" text-anchor="middle">PBNKs</text>
<path d="M665.8 870V1040.8M658.8 871H665.8" stroke="#000" stroke-width="2.2"/>
<text x="657.8" y="877.1" font-size="17" text-anchor="end">20</text>
<path d="M658.8 913.2H665.8" stroke="#000" stroke-width="2.2"/>
<text x="657.8" y="919.3" font-size="17" text-anchor="end">15</text>
<path d="M658.8 955.4H665.8" stroke="#000" stroke-width="2.2"/>
<text x="657.8" y="961.5" font-size="17" text-anchor="end">10</text>
<path d="M658.8 997.6H665.8" stroke="#000" stroke-width="2.2"/>
<text x="657.8" y="1003.7" font-size="17" text-anchor="end">5</text>
<path d="M658.8 1039.8H665.8" stroke="#000" stroke-width="2.2"/>
<text x="657.8" y="1045.9" font-size="17" text-anchor="end">0</text>
<path d="M658.8 1039.8H840" stroke="#000" stroke-width="2.2"/>
<path d="M677.2 1039.8V923.3H696.2V1039.8" stroke="#F03A2A" stroke-width="2.1" fill="none"/>
<path d="M707.9 1039.8V902.2H726.9V1039.8" stroke="#2233EE" stroke-width="2.1" fill="none"/>
<path d="M738.3 1039.8V896.3H757.3V1039.8" stroke="#35A24A" stroke-width="2.1" fill="none"/>
<path d="M769.1 1039.8V985.8H788.1V1039.8" stroke="#F2A535" stroke-width="2.1" fill="none"/>
<path d="M799.5 1039.8V997.6H818.5V1039.8" stroke="#9B42C2" stroke-width="2.1" fill="none"/>
<path d="M686.7 922.7V924M681.7 922.7H691.7M681.7 924H691.7" stroke="#F03A2A" stroke-width="1.8"/>
<path d="M682.7 918.9l4.3 7.5h-8.6zM686.7 917.8l4.3 7.5h-8.6zM690.7 919l4.3 7.5h-8.6z" stroke="#F03A2A" stroke-width="1.7" fill="none"/>
<path d="M717.4 900.6V903.9M712.4 900.6H722.4M712.4 903.9H722.4" stroke="#2233EE" stroke-width="1.8"/>
<path d="M713.4 905.2l4.3 -7.5h-8.6zM717.4 906.9l4.3 -7.5h-8.6zM721.4 908.4l4.3 -7.5h-8.6z" stroke="#2233EE" stroke-width="1.7" fill="none"/>
<path d="M747.8 895.6V897.1M742.8 895.6H752.8M742.8 897.1H752.8" stroke="#35A24A" stroke-width="1.8"/>
<path d="M743.8 887.8l4.3 4.3l-4.3 4.3l-4.3 -4.3zM747.8 887.8l4.3 4.3l-4.3 4.3l-4.3 -4.3zM751.8 889.1l4.3 4.3l-4.3 4.3l-4.3 -4.3z" stroke="#35A24A" stroke-width="1.7" fill="none"/>
<path d="M778.6 983.6V987.9M773.6 983.6H783.6M773.6 987.9H783.6" stroke="#F2A535" stroke-width="1.8"/>
<path d="M778.9 984L776.8 987.8L772.5 987.8L770.3 984L772.5 980.3L776.8 980.3ZM782.9 987.3L780.8 991.1L776.5 991.1L774.3 987.3L776.5 983.6L780.8 983.6ZM786.9 988.1L784.8 991.8L780.5 991.8L778.3 988.1L780.5 984.3L784.8 984.3Z" stroke="#F2A535" stroke-width="1.7" fill="none"/>
<path d="M809 994.6V1000.6M804 994.6H814M804 1000.6H814" stroke="#9B42C2" stroke-width="1.8"/>
<path d="M801.3 995.7h7.3v7.3h-7.3zM805.3 997.6h7.3v7.3h-7.3zM809.3 991.7h7.3v7.3h-7.3z" stroke="#9B42C2" stroke-width="1.7" fill="none"/>
<path d="M686.7 1039.8V1045.8" stroke="#000" stroke-width="2"/>
<text x="691.7" y="1053.8" font-size="18" text-anchor="end" transform="rotate(-45 691.7 1053.8)">SGSM2</text>
<path d="M717.4 1039.8V1045.8" stroke="#000" stroke-width="2"/>
<text x="722.4" y="1053.8" font-size="18" text-anchor="end" transform="rotate(-45 722.4 1053.8)">OR7A10</text>
<path d="M747.8 1039.8V1045.8" stroke="#000" stroke-width="2"/>
<text x="752.8" y="1053.8" font-size="18" text-anchor="end" transform="rotate(-45 752.8 1053.8)">APLN</text>
<path d="M778.6 1039.8V1045.8" stroke="#000" stroke-width="2"/>
<text x="783.6" y="1053.8" font-size="18" text-anchor="end" transform="rotate(-45 783.6 1053.8)">PDP1</text>
<path d="M809 1039.8V1045.8" stroke="#000" stroke-width="2"/>
<text x="814" y="1053.8" font-size="18" text-anchor="end" transform="rotate(-45 814 1053.8)">CYB5B</text>
<path d="M852.9 870V1040.8M845.9 871H852.9" stroke="#000" stroke-width="2.2"/>
<text x="844.9" y="877.1" font-size="17" text-anchor="end">20</text>
<path d="M845.9 913.2H852.9" stroke="#000" stroke-width="2.2"/>
<text x="844.9" y="919.3" font-size="17" text-anchor="end">15</text>
<path d="M845.9 955.4H852.9" stroke="#000" stroke-width="2.2"/>
<text x="844.9" y="961.5" font-size="17" text-anchor="end">10</text>
<path d="M845.9 997.6H852.9" stroke="#000" stroke-width="2.2"/>
<text x="844.9" y="1003.7" font-size="17" text-anchor="end">5</text>
<path d="M845.9 1039.8H852.9" stroke="#000" stroke-width="2.2"/>
<text x="844.9" y="1045.9" font-size="17" text-anchor="end">0</text>
<path d="M845.9 1039.8H1016" stroke="#000" stroke-width="2.2"/>
<path d="M864.2 1039.8V923.3H883.2V1039.8" stroke="#F03A2A" stroke-width="2.1" fill="none"/>
<path d="M895.3 1039.8V922.5H914.3V1039.8" stroke="#2233EE" stroke-width="2.1" fill="none"/>
<path d="M925.5 1039.8V896.3H944.5V1039.8" stroke="#35A24A" stroke-width="2.1" fill="none"/>
<path d="M956.0 1039.8V975.7H975.0V1039.8" stroke="#F2A535" stroke-width="2.1" fill="none"/>
<path d="M986.5 1039.8V998.4H1005.5V1039.8" stroke="#9B42C2" stroke-width="2.1" fill="none"/>
<path d="M873.7 921.1V925.5M868.7 921.1H878.7M868.7 925.5H878.7" stroke="#F03A2A" stroke-width="1.8"/>
<path d="M869.7 919.9l4.3 7.5h-8.6zM873.7 916.1l4.3 7.5h-8.6zM877.7 920l4.3 7.5h-8.6z" stroke="#F03A2A" stroke-width="1.7" fill="none"/>
<path d="M904.8 918.1V926.9M899.8 918.1H909.8M899.8 926.9H909.8" stroke="#2233EE" stroke-width="1.8"/>
<path d="M900.8 922.9l4.3 -7.5h-8.6zM904.8 923.9l4.3 -7.5h-8.6zM908.8 931l4.3 -7.5h-8.6z" stroke="#2233EE" stroke-width="1.7" fill="none"/>
<path d="M935 893.3V899.3M930 893.3H940M930 899.3H940" stroke="#35A24A" stroke-width="1.8"/>
<path d="M931 894.5l4.3 4.3l-4.3 4.3l-4.3 -4.3zM935 888.6l4.3 4.3l-4.3 4.3l-4.3 -4.3zM939 892.3l4.3 4.3l-4.3 4.3l-4.3 -4.3z" stroke="#35A24A" stroke-width="1.7" fill="none"/>
<path d="M965.5 971.8V979.5M960.5 971.8H970.5M960.5 979.5H970.5" stroke="#F2A535" stroke-width="1.8"/>
<path d="M965.8 971.6L963.6 975.3L959.4 975.3L957.2 971.6L959.4 967.9L963.6 967.9ZM969.8 976.5L967.6 980.2L963.4 980.2L961.2 976.5L963.4 972.8L967.6 972.8ZM973.8 979.3L971.6 983L967.4 983L965.2 979.3L967.4 975.5L971.6 975.5Z" stroke="#F2A535" stroke-width="1.7" fill="none"/>
<path d="M996 996.2V1000.7M991 996.2H1001M991 1000.7H1001" stroke="#9B42C2" stroke-width="1.8"/>
<path d="M988.3 993.7h7.3v7.3h-7.3zM992.3 992.4h7.3v7.3h-7.3zM996.3 996.7h7.3v7.3h-7.3z" stroke="#9B42C2" stroke-width="1.7" fill="none"/>
<path d="M873.7 1039.8V1045.8" stroke="#000" stroke-width="2"/>
<text x="878.7" y="1053.8" font-size="18" text-anchor="end" transform="rotate(-45 878.7 1053.8)">SGSM2</text>
<path d="M904.8 1039.8V1045.8" stroke="#000" stroke-width="2"/>
<text x="909.8" y="1053.8" font-size="18" text-anchor="end" transform="rotate(-45 909.8 1053.8)">OR7A10</text>
<path d="M935 1039.8V1045.8" stroke="#000" stroke-width="2"/>
<text x="940" y="1053.8" font-size="18" text-anchor="end" transform="rotate(-45 940 1053.8)">APLN</text>
<path d="M965.5 1039.8V1045.8" stroke="#000" stroke-width="2"/>
<text x="970.5" y="1053.8" font-size="18" text-anchor="end" transform="rotate(-45 970.5 1053.8)">PDP1</text>
<path d="M996 1039.8V1045.8" stroke="#000" stroke-width="2"/>
<text x="1001" y="1053.8" font-size="18" text-anchor="end" transform="rotate(-45 1001 1053.8)">CYB5B</text>
<text x="613" y="956" font-size="17.7" text-anchor="middle" transform="rotate(-90 613 956)" dy="0.35em">delta CT</text>
<text x="632.5" y="956" font-size="17.7" text-anchor="middle" transform="rotate(-90 632.5 956)" dy="0.35em">(compared to GAPDH)</text>
<text x="1023.3" y="811.8" font-size="60" font-weight="bold">d</text>
<text x="1297.7" y="829.6" font-size="29.4" text-anchor="middle">HT29-GL, E:T=1:10</text>
<path d="M1078.6 846.7a4.6 4.6 0 1 0 9.2 0a4.6 4.6 0 1 0 -9.2 0" stroke="#111111" stroke-width="1.8" fill="none"/>
<text x="1089.5" y="852.8" font-size="17" textLength="49.0" lengthAdjust="spacingAndGlyphs">Vector</text>
<path d="M1140.2 846.7a4.6 4.6 0 1 0 9.2 0a4.6 4.6 0 1 0 -9.2 0" stroke="#B08A5A" stroke-width="1.8" fill="none"/>
<text x="1151" y="852.8" font-size="17" textLength="34.9" lengthAdjust="spacingAndGlyphs">NTC</text>
<path d="M1192.1 842.1l4.6 8h-9.2z" stroke="#F03A2A" stroke-width="1.8" fill="none"/>
<text x="1198.3" y="852.8" font-size="17" textLength="59.4" lengthAdjust="spacingAndGlyphs">SGSM2</text>
<path d="M1264 851.3l4.6 -8h-9.2z" stroke="#2233EE" stroke-width="1.8" fill="none"/>
<text x="1270.2" y="852.8" font-size="17" textLength="65.1" lengthAdjust="spacingAndGlyphs">OR7A10</text>
<path d="M1341.5 842.1l4.6 4.6l-4.6 4.6l-4.6 -4.6z" stroke="#35A24A" stroke-width="1.8" fill="none"/>
<text x="1347.8" y="852.8" font-size="17" textLength="44.3" lengthAdjust="spacingAndGlyphs">APLN</text>
<path d="M1402.9 846.7L1400.6 850.7L1396 850.7L1393.7 846.7L1396 842.7L1400.6 842.7Z" stroke="#F2A535" stroke-width="1.8" fill="none"/>
<text x="1404.6" y="852.8" font-size="17" textLength="44.3" lengthAdjust="spacingAndGlyphs">PDP1</text>
<path d="M1451.2 842.8h7.8v7.8h-7.8z" stroke="#9B42C2" stroke-width="1.8" fill="none"/>
<text x="1461.4" y="852.8" font-size="17" textLength="55.6" lengthAdjust="spacingAndGlyphs">CYB5B</text>
<path d="M1074 861.3V1074.5M1066 862.3H1074" stroke="#000" stroke-width="2.2"/>
<text x="1064.5" y="868.1" font-size="16" text-anchor="end">100</text>
<path d="M1066 904.5H1074" stroke="#000" stroke-width="2.2"/>
<text x="1064.5" y="910.3" font-size="16" text-anchor="end">80</text>
<path d="M1066 946.8H1074" stroke="#000" stroke-width="2.2"/>
<text x="1064.5" y="952.5" font-size="16" text-anchor="end">60</text>
<path d="M1066 989H1074" stroke="#000" stroke-width="2.2"/>
<text x="1064.5" y="994.8" font-size="16" text-anchor="end">40</text>
<path d="M1066 1031.3H1074" stroke="#000" stroke-width="2.2"/>
<text x="1064.5" y="1037" font-size="16" text-anchor="end">20</text>
<path d="M1066 1073.5H1074" stroke="#000" stroke-width="2.2"/>
<text x="1064.5" y="1079.3" font-size="16" text-anchor="end">0</text>
<path d="M1066 1073.5H1509" stroke="#000" stroke-width="2.2"/>
<path d="M1083.8 1073.5V1041.8H1101.3V1073.5" stroke="#111111" stroke-width="2.1" fill="none"/>
<path d="M1112.9 1073.5V1028.1H1130.4V1073.5" stroke="#B08A5A" stroke-width="2.1" fill="none"/>
<path d="M1141.9 1073.5V976.3H1159.4V1073.5" stroke="#F03A2A" stroke-width="2.1" fill="none"/>
<path d="M1171.0 1073.5V984.8H1188.5V1073.5" stroke="#2233EE" stroke-width="2.1" fill="none"/>
<path d="M1200.0 1073.5V991.1H1217.5V1073.5" stroke="#35A24A" stroke-width="2.1" fill="none"/>
<path d="M1229.1 1073.5V984.8H1246.6V1073.5" stroke="#F2A535" stroke-width="2.1" fill="none"/>
<path d="M1258.1 1073.5V1043.9H1275.6V1073.5" stroke="#9B42C2" stroke-width="2.1" fill="none"/>
<path d="M1075.5 1028.1H1278.2" stroke="#000" stroke-width="2.6" stroke-dasharray="2.6 2.6"/>
<path d="M1092.6 1038.3V1047.1M1087.6 1038.3H1097.6M1087.6 1047.1H1097.6" stroke="#111111" stroke-width="1.8"/>
<path d="M1082.1 1047.1a6 6 0 1 0 12 0a6 6 0 1 0 -12 0M1086.6 1044a6 6 0 1 0 12 0a6 6 0 1 0 -12 0M1091.1 1038.3a6 6 0 1 0 12 0a6 6 0 1 0 -12 0" stroke="#111111" stroke-width="1.9" fill="none"/>
<path d="M1121.6 1015.1V1042.9M1116.6 1015.1H1126.6M1116.6 1042.9H1126.6" stroke="#B08A5A" stroke-width="1.8"/>
<path d="M1111.1 1042.9a6 6 0 1 0 12 0a6 6 0 1 0 -12 0M1115.6 1021.2a6 6 0 1 0 12 0a6 6 0 1 0 -12 0M1120.1 1015.1a6 6 0 1 0 12 0a6 6 0 1 0 -12 0" stroke="#B08A5A" stroke-width="1.9" fill="none"/>
<path d="M1150.7 971.1V984.8M1145.7 971.1H1155.7M1145.7 984.8H1155.7" stroke="#F03A2A" stroke-width="1.8"/>
<path d="M1146.2 978.8l6 10.5h-12zM1150.7 973.6l6 10.5h-12zM1155.2 965.1l6 10.5h-12z" stroke="#F03A2A" stroke-width="1.9" fill="none"/>
<path d="M1179.8 982V990.1M1174.8 982H1184.8M1174.8 990.1H1184.8" stroke="#2233EE" stroke-width="1.8"/>
<path d="M1175.2 996.1l6 -10.5h-12zM1179.8 992.9l6 -10.5h-12zM1184.2 988l6 -10.5h-12z" stroke="#2233EE" stroke-width="1.9" fill="none"/>
<path d="M1208.8 988V996.4M1203.8 988H1213.8M1203.8 996.4H1213.8" stroke="#35A24A" stroke-width="1.8"/>
<path d="M1204.3 990.4l6 6l-6 6l-6 -6zM1208.8 983.6l6 6l-6 6l-6 -6zM1213.3 982l6 6l-6 6l-6 -6z" stroke="#35A24A" stroke-width="1.9" fill="none"/>
<path d="M1237.8 981V990.1M1232.8 981H1242.8M1232.8 990.1H1242.8" stroke="#F2A535" stroke-width="1.8"/>
<path d="M1239.3 990.1L1236.3 995.3L1230.3 995.3L1227.3 990.1L1230.3 984.9L1236.3 984.9ZM1243.8 984.5L1240.8 989.7L1234.8 989.7L1231.8 984.5L1234.8 979.3L1240.8 979.3ZM1248.3 981L1245.3 986.2L1239.3 986.2L1236.3 981L1239.3 975.8L1245.3 975.8Z" stroke="#F2A535" stroke-width="1.9" fill="none"/>
<path d="M1266.9 1029.3V1060.8M1261.9 1029.3H1271.9M1261.9 1060.8H1271.9" stroke="#9B42C2" stroke-width="1.8"/>
<path d="M1257.3 1055.7h10.2v10.2h-10.2zM1261.8 1044.1h10.2v10.2h-10.2zM1266.3 1024.2h10.2v10.2h-10.2z" stroke="#9B42C2" stroke-width="1.9" fill="none"/>
<text x="1150.7" y="925.5" font-size="14" text-anchor="middle" fill="#222">****</text>
<text x="1179.8" y="925.5" font-size="14" text-anchor="middle" fill="#222">****</text>
<text x="1208.8" y="925.5" font-size="14" text-anchor="middle" fill="#222">***</text>
<text x="1237.8" y="925.5" font-size="14" text-anchor="middle" fill="#222">****</text>
<text x="1266.9" y="921" font-size="12.5" text-anchor="middle" fill="#222">ns</text>
<path d="M1180 1073.5V1080.5" stroke="#000" stroke-width="2.2"/>
<text x="1180" y="1093" font-size="17.5" text-anchor="middle">12 hours</text>
<path d="M1306.2 1073.5V957.3H1323.7V1073.5" stroke="#111111" stroke-width="2.1" fill="none"/>
<path d="M1335.2 1073.5V972.1H1352.7V1073.5" stroke="#B08A5A" stroke-width="2.1" fill="none"/>
<path d="M1364.2 1073.5V904.5H1381.8V1073.5" stroke="#F03A2A" stroke-width="2.1" fill="none"/>
<path d="M1393.3 1073.5V913.0H1410.8V1073.5" stroke="#2233EE" stroke-width="2.1" fill="none"/>
<path d="M1422.4 1073.5V926.7H1439.9V1073.5" stroke="#35A24A" stroke-width="2.1" fill="none"/>
<path d="M1451.4 1073.5V919.3H1468.9V1073.5" stroke="#F2A535" stroke-width="2.1" fill="none"/>
<path d="M1480.5 1073.5V963.7H1498.0V1073.5" stroke="#9B42C2" stroke-width="2.1" fill="none"/>
<path d="M1301.6 972.1H1507.5" stroke="#000" stroke-width="2.6" stroke-dasharray="2.6 2.6"/>
<path d="M1314.9 948.7V967.9M1309.9 948.7H1319.9M1309.9 967.9H1319.9" stroke="#111111" stroke-width="1.8"/>
<path d="M1304.4 967.9a6 6 0 1 0 12 0a6 6 0 1 0 -12 0M1308.9 961.2a6 6 0 1 0 12 0a6 6 0 1 0 -12 0M1313.4 948.7a6 6 0 1 0 12 0a6 6 0 1 0 -12 0" stroke="#111111" stroke-width="1.9" fill="none"/>
<path d="M1344 966.1V980.6M1339 966.1H1349M1339 980.6H1349" stroke="#B08A5A" stroke-width="1.8"/>
<path d="M1333.5 980.6a6 6 0 1 0 12 0a6 6 0 1 0 -12 0M1338 975.4a6 6 0 1 0 12 0a6 6 0 1 0 -12 0M1342.5 966.1a6 6 0 1 0 12 0a6 6 0 1 0 -12 0" stroke="#B08A5A" stroke-width="1.9" fill="none"/>
<path d="M1373 901.2V909.8M1368 901.2H1378M1368 909.8H1378" stroke="#F03A2A" stroke-width="1.8"/>
<path d="M1368.5 903.8l6 10.5h-12zM1373 900.1l6 10.5h-12zM1377.5 895.2l6 10.5h-12z" stroke="#F03A2A" stroke-width="1.9" fill="none"/>
<path d="M1402.1 908.2V918.3M1397.1 908.2H1407.1M1397.1 918.3H1407.1" stroke="#2233EE" stroke-width="1.8"/>
<path d="M1397.6 924.3l6 -10.5h-12zM1402.1 916.5l6 -10.5h-12zM1406.6 914.2l6 -10.5h-12z" stroke="#2233EE" stroke-width="1.9" fill="none"/>
<path d="M1431.1 921.7V932M1426.1 921.7H1436.1M1426.1 932H1436.1" stroke="#35A24A" stroke-width="1.8"/>
<path d="M1426.6 926l6 6l-6 6l-6 -6zM1431.1 921.8l6 6l-6 6l-6 -6zM1435.6 915.7l6 6l-6 6l-6 -6z" stroke="#35A24A" stroke-width="1.9" fill="none"/>
<path d="M1460.2 915.6V924.6M1455.2 915.6H1465.2M1455.2 924.6H1465.2" stroke="#F2A535" stroke-width="1.8"/>
<path d="M1461.7 924.6L1458.7 929.8L1452.7 929.8L1449.7 924.6L1452.7 919.4L1458.7 919.4ZM1466.2 920.9L1463.2 926L1457.2 926L1454.2 920.9L1457.2 915.7L1463.2 915.7ZM1470.7 915.6L1467.7 920.8L1461.7 920.8L1458.7 915.6L1461.7 910.4L1467.7 910.4Z" stroke="#F2A535" stroke-width="1.9" fill="none"/>
<path d="M1489.2 959.3V969M1484.2 959.3H1494.2M1484.2 969H1494.2" stroke="#9B42C2" stroke-width="1.8"/>
<path d="M1479.6 963.9h10.2v10.2h-10.2zM1484.1 956.7h10.2v10.2h-10.2zM1488.6 954.2h10.2v10.2h-10.2z" stroke="#9B42C2" stroke-width="1.9" fill="none"/>
<text x="1373" y="878.5" font-size="14" text-anchor="middle" fill="#222">****</text>
<text x="1402.1" y="878.5" font-size="14" text-anchor="middle" fill="#222">****</text>
<text x="1431.1" y="878.5" font-size="14" text-anchor="middle" fill="#222">****</text>
<text x="1460.2" y="878.5" font-size="14" text-anchor="middle" fill="#222">****</text>
<text x="1489.2" y="874" font-size="12.5" text-anchor="middle" fill="#222">ns</text>
<path d="M1402.4 1073.5V1080.5" stroke="#000" stroke-width="2.2"/>
<text x="1402.4" y="1093" font-size="17.5" text-anchor="middle">24 hours</text>
<text x="1033.4" y="948" font-size="16.9" text-anchor="middle" transform="rotate(-90 1033.4 948)" dy="0.35em">Cytolysis (%)</text>
<text x="1536.4" y="812.2" font-size="60" font-weight="bold">e</text>
<text x="1830.9" y="829.6" font-size="27" text-anchor="middle">MCF7-PL, E:T=1:1</text>
<path d="M1642.2 846.1a4.6 4.6 0 1 0 9.2 0a4.6 4.6 0 1 0 -9.2 0" stroke="#B08A5A" stroke-width="1.8" fill="none"/>
<text x="1653" y="852.2" font-size="17" textLength="34.8" lengthAdjust="spacingAndGlyphs">NTC</text>
<path d="M1694 841.5l4.6 8h-9.2z" stroke="#F03A2A" stroke-width="1.8" fill="none"/>
<text x="1700.2" y="852.2" font-size="17" textLength="59.2" lengthAdjust="spacingAndGlyphs">SGSM2</text>
<path d="M1765.7 850.7l4.6 -8h-9.2z" stroke="#2233EE" stroke-width="1.8" fill="none"/>
<text x="1771.9" y="852.2" font-size="17" textLength="64.9" lengthAdjust="spacingAndGlyphs">OR7A10</text>
<path d="M1843 841.5l4.6 4.6l-4.6 4.6l-4.6 -4.6z" stroke="#35A24A" stroke-width="1.8" fill="none"/>
<text x="1849.2" y="852.2" font-size="17" textLength="44.2" lengthAdjust="spacingAndGlyphs">APLN</text>
<path d="M1904.3 846.1L1902 850.1L1897.4 850.1L1895.1 846.1L1897.4 842.1L1902 842.1Z" stroke="#F2A535" stroke-width="1.8" fill="none"/>
<text x="1905.9" y="852.2" font-size="17" textLength="44.2" lengthAdjust="spacingAndGlyphs">PDP1</text>
<path d="M1952.4 842.2h7.8v7.8h-7.8z" stroke="#9B42C2" stroke-width="1.8" fill="none"/>
<text x="1962.5" y="852.2" font-size="17" textLength="55.5" lengthAdjust="spacingAndGlyphs">CYB5B</text>
<path d="M1598.5 861.3V1070.8M1590.5 862.3H1598.5" stroke="#000" stroke-width="2.2"/>
<text x="1589" y="868.2" font-size="16.5" text-anchor="end">80</text>
<path d="M1590.5 914.2H1598.5" stroke="#000" stroke-width="2.2"/>
<text x="1589" y="920.1" font-size="16.5" text-anchor="end">60</text>
<path d="M1590.5 966H1598.5" stroke="#000" stroke-width="2.2"/>
<text x="1589" y="972" font-size="16.5" text-anchor="end">40</text>
<path d="M1590.5 1017.9H1598.5" stroke="#000" stroke-width="2.2"/>
<text x="1589" y="1023.9" font-size="16.5" text-anchor="end">20</text>
<path d="M1590.5 1069.8H1598.5" stroke="#000" stroke-width="2.2"/>
<text x="1589" y="1075.7" font-size="16.5" text-anchor="end">0</text>
<path d="M1590.5 1069.8H2032" stroke="#000" stroke-width="2.2"/>
<path d="M1611.2 1069.8V1054.2H1630.7V1069.8" stroke="#B08A5A" stroke-width="2.1" fill="none"/>
<path d="M1644.5 1069.8V962.2H1664.0V1069.8" stroke="#F03A2A" stroke-width="2.1" fill="none"/>
<path d="M1678.2 1069.8V968.6H1697.7V1069.8" stroke="#2233EE" stroke-width="2.1" fill="none"/>
<path d="M1711.2 1069.8V989.4H1730.8V1069.8" stroke="#F2A535" stroke-width="2.1" fill="none"/>
<path d="M1744.7 1069.8V980.3H1764.2V1069.8" stroke="#35A24A" stroke-width="2.1" fill="none"/>
<path d="M1778.2 1069.8V1015.3H1797.8V1069.8" stroke="#9B42C2" stroke-width="2.1" fill="none"/>
<path d="M1590.7 1053.5H1801.3" stroke="#000" stroke-width="2.6" stroke-dasharray="2.6 2.6"/>
<path d="M1620.9 1049.1V1059.4M1615.9 1049.1H1625.9M1615.9 1059.4H1625.9" stroke="#B08A5A" stroke-width="1.8"/>
<path d="M1610.4 1059.4a6 6 0 1 0 12 0a6 6 0 1 0 -12 0M1614.9 1056.3a6 6 0 1 0 12 0a6 6 0 1 0 -12 0M1619.4 1049.1a6 6 0 1 0 12 0a6 6 0 1 0 -12 0" stroke="#B08A5A" stroke-width="1.9" fill="none"/>
<path d="M1654.2 958.1V968.6M1649.2 958.1H1659.2M1649.2 968.6H1659.2" stroke="#F03A2A" stroke-width="1.8"/>
<path d="M1649.7 962.6l6 10.5h-12zM1654.2 958l6 10.5h-12zM1658.7 952.1l6 10.5h-12z" stroke="#F03A2A" stroke-width="1.9" fill="none"/>
<path d="M1687.9 964.3V975.1M1682.9 964.3H1692.9M1682.9 975.1H1692.9" stroke="#2233EE" stroke-width="1.8"/>
<path d="M1683.4 981.1l6 -10.5h-12zM1687.9 972.9l6 -10.5h-12zM1692.4 970.3l6 -10.5h-12z" stroke="#2233EE" stroke-width="1.9" fill="none"/>
<path d="M1721 985.9V995.9M1716 985.9H1726M1716 995.9H1726" stroke="#F2A535" stroke-width="1.8"/>
<path d="M1722.5 995.9L1719.5 1001.1L1713.5 1001.1L1710.5 995.9L1713.5 990.7L1719.5 990.7ZM1727 990.7L1724 995.9L1718 995.9L1715 990.7L1718 985.5L1724 985.5ZM1731.5 985.9L1728.5 991.1L1722.5 991.1L1719.5 985.9L1722.5 980.7L1728.5 980.7Z" stroke="#F2A535" stroke-width="1.9" fill="none"/>
<path d="M1754.4 975.2V986.8M1749.4 975.2H1759.4M1749.4 986.8H1759.4" stroke="#35A24A" stroke-width="1.8"/>
<path d="M1749.9 980.8l6 6l-6 6l-6 -6zM1754.4 977l6 6l-6 6l-6 -6zM1758.9 969.2l6 6l-6 6l-6 -6z" stroke="#35A24A" stroke-width="1.9" fill="none"/>
<path d="M1788 1010.1V1021.8M1783 1010.1H1793M1783 1021.8H1793" stroke="#9B42C2" stroke-width="1.8"/>
<path d="M1778.4 1016.7h10.2v10.2h-10.2zM1782.9 1011.9h10.2v10.2h-10.2zM1787.4 1005h10.2v10.2h-10.2z" stroke="#9B42C2" stroke-width="1.9" fill="none"/>
<text x="1654.2" y="945.5" font-size="14" text-anchor="middle" fill="#222">****</text>
<text x="1687.9" y="945.5" font-size="14" text-anchor="middle" fill="#222">****</text>
<text x="1721" y="945.5" font-size="14" text-anchor="middle" fill="#222">****</text>
<text x="1754.4" y="945.5" font-size="14" text-anchor="middle" fill="#222">****</text>
<text x="1788" y="945.5" font-size="14" text-anchor="middle" fill="#222">****</text>
<path d="M1705.2 1069.8V1076.8" stroke="#000" stroke-width="2.2"/>
<text x="1705.2" y="1091.6" font-size="17.5" text-anchor="middle">12 hours</text>
<path d="M1834.2 1069.8V963.5H1853.7V1069.8" stroke="#B08A5A" stroke-width="2.1" fill="none"/>
<path d="M1868.0 1069.8V890.8H1887.5V1069.8" stroke="#F03A2A" stroke-width="2.1" fill="none"/>
<path d="M1900.8 1069.8V893.4H1920.3V1069.8" stroke="#2233EE" stroke-width="2.1" fill="none"/>
<path d="M1934.2 1069.8V906.4H1953.8V1069.8" stroke="#F2A535" stroke-width="2.1" fill="none"/>
<path d="M1967.7 1069.8V903.8H1987.2V1069.8" stroke="#35A24A" stroke-width="2.1" fill="none"/>
<path d="M2001.2 1069.8V966.0H2020.8V1069.8" stroke="#9B42C2" stroke-width="2.1" fill="none"/>
<path d="M1826.2 965.3H2029" stroke="#000" stroke-width="2.6" stroke-dasharray="2.6 2.6"/>
<path d="M1843.9 956.9V972.5M1838.9 956.9H1848.9M1838.9 972.5H1848.9" stroke="#B08A5A" stroke-width="1.8"/>
<path d="M1833.4 972.5a6 6 0 1 0 12 0a6 6 0 1 0 -12 0M1837.9 964.6a6 6 0 1 0 12 0a6 6 0 1 0 -12 0M1842.4 956.9a6 6 0 1 0 12 0a6 6 0 1 0 -12 0" stroke="#B08A5A" stroke-width="1.9" fill="none"/>
<path d="M1877.7 886V897.3M1872.7 886H1882.7M1872.7 897.3H1882.7" stroke="#F03A2A" stroke-width="1.8"/>
<path d="M1873.2 891.3l6 10.5h-12zM1877.7 881.9l6 10.5h-12zM1882.2 880l6 10.5h-12z" stroke="#F03A2A" stroke-width="1.9" fill="none"/>
<path d="M1910.6 887.4V899.9M1905.6 887.4H1915.6M1905.6 899.9H1915.6" stroke="#2233EE" stroke-width="1.8"/>
<path d="M1906.1 905.9l6 -10.5h-12zM1910.6 898.9l6 -10.5h-12zM1915.1 893.4l6 -10.5h-12z" stroke="#2233EE" stroke-width="1.9" fill="none"/>
<path d="M1944 902.7V912.9M1939 902.7H1949M1939 912.9H1949" stroke="#F2A535" stroke-width="1.8"/>
<path d="M1945.5 912.9L1942.5 918.1L1936.5 918.1L1933.5 912.9L1936.5 907.7L1942.5 907.7ZM1950 908.5L1947 913.6L1941 913.6L1938 908.5L1941 903.3L1947 903.3ZM1954.5 902.7L1951.5 907.8L1945.5 907.8L1942.5 902.7L1945.5 897.5L1951.5 897.5Z" stroke="#F2A535" stroke-width="1.9" fill="none"/>
<path d="M1977.4 897.9V910.3M1972.4 897.9H1982.4M1972.4 910.3H1982.4" stroke="#35A24A" stroke-width="1.8"/>
<path d="M1972.9 904.3l6 6l-6 6l-6 -6zM1977.4 895.2l6 6l-6 6l-6 -6zM1981.9 891.9l6 6l-6 6l-6 -6z" stroke="#35A24A" stroke-width="1.9" fill="none"/>
<path d="M2011 959.9V976.4M2006 959.9H2016M2006 976.4H2016" stroke="#9B42C2" stroke-width="1.8"/>
<path d="M2001.4 971.3h10.2v10.2h-10.2zM2005.9 963.5h10.2v10.2h-10.2zM2010.4 954.8h10.2v10.2h-10.2z" stroke="#9B42C2" stroke-width="1.9" fill="none"/>
<text x="1877.7" y="882.5" font-size="14" text-anchor="middle" fill="#222">****</text>
<text x="1910.6" y="882.5" font-size="14" text-anchor="middle" fill="#222">****</text>
<text x="1944" y="882.5" font-size="14" text-anchor="middle" fill="#222">****</text>
<text x="1977.4" y="882.5" font-size="14" text-anchor="middle" fill="#222">****</text>
<text x="2011" y="878" font-size="12.5" text-anchor="middle" fill="#222">ns</text>
<path d="M1927 1069.8V1076.8" stroke="#000" stroke-width="2.2"/>
<text x="1927" y="1091.6" font-size="17.5" text-anchor="middle">24 hours</text>
<text x="1559.5" y="952.8" font-size="16.9" text-anchor="middle" transform="rotate(-90 1559.5 952.8)" dy="0.35em">Cytolysis (%)</text>
<text x="6" y="1161.8" font-size="60" font-weight="bold">f</text>
<text x="312.6" y="1176.4" font-size="29.4" text-anchor="middle">H1299-PL, E:T=1:10</text>
<path d="M101.8 1192.6a4.6 4.6 0 1 0 9.2 0a4.6 4.6 0 1 0 -9.2 0" stroke="#111111" stroke-width="1.8" fill="none"/>
<text x="112.4" y="1198.7" font-size="17" textLength="47.3" lengthAdjust="spacingAndGlyphs">Vector</text>
<path d="M161.1 1192.6a4.6 4.6 0 1 0 9.2 0a4.6 4.6 0 1 0 -9.2 0" stroke="#B08A5A" stroke-width="1.8" fill="none"/>
<text x="171.8" y="1198.7" font-size="17" textLength="33.6" lengthAdjust="spacingAndGlyphs">NTC</text>
<path d="M211.4 1188l4.6 8h-9.2z" stroke="#F03A2A" stroke-width="1.8" fill="none"/>
<text x="217.4" y="1198.7" font-size="17" textLength="57.3" lengthAdjust="spacingAndGlyphs">SGSM2</text>
<path d="M280.7 1197.2l4.6 -8h-9.2z" stroke="#2233EE" stroke-width="1.8" fill="none"/>
<text x="286.8" y="1198.7" font-size="17" textLength="62.8" lengthAdjust="spacingAndGlyphs">OR7A10</text>
<path d="M355.5 1188l4.6 4.6l-4.6 4.6l-4.6 -4.6z" stroke="#35A24A" stroke-width="1.8" fill="none"/>
<text x="361.6" y="1198.7" font-size="17" textLength="42.8" lengthAdjust="spacingAndGlyphs">APLN</text>
<path d="M414.9 1192.6L412.6 1196.6L408 1196.6L405.7 1192.6L408 1188.6L412.6 1188.6Z" stroke="#F2A535" stroke-width="1.8" fill="none"/>
<text x="416.3" y="1198.7" font-size="17" textLength="42.8" lengthAdjust="spacingAndGlyphs">PDP1</text>
<path d="M461.2 1188.7h7.8v7.8h-7.8z" stroke="#9B42C2" stroke-width="1.8" fill="none"/>
<text x="471.1" y="1198.7" font-size="17" textLength="53.7" lengthAdjust="spacingAndGlyphs">CYB5B</text>
<path d="M90.7 1197.1V1423.6M82.7 1198.1H90.7" stroke="#000" stroke-width="2.2"/>
<text x="81.2" y="1204" font-size="16.5" text-anchor="end">100</text>
<path d="M82.7 1249.2H90.7" stroke="#000" stroke-width="2.2"/>
<text x="81.2" y="1255.2" font-size="16.5" text-anchor="end">75</text>
<path d="M82.7 1300.3H90.7" stroke="#000" stroke-width="2.2"/>
<text x="81.2" y="1306.3" font-size="16.5" text-anchor="end">50</text>
<path d="M82.7 1351.4H90.7" stroke="#000" stroke-width="2.2"/>
<text x="81.2" y="1357.4" font-size="16.5" text-anchor="end">25</text>
<path d="M82.7 1402.6H90.7" stroke="#000" stroke-width="2.2"/>
<text x="81.2" y="1408.5" font-size="16.5" text-anchor="end">0</text>
<path d="M90.7 1422.6H534.5M82.7 1402.6H534.5" stroke="#000" stroke-width="2.2"/>
<path d="M102.3 1402.6V1401.5H117.8V1402.6" stroke="#111111" stroke-width="2.1" fill="none"/>
<path d="M132.2 1402.6V1399.5H147.8V1402.6" stroke="#B08A5A" stroke-width="2.1" fill="none"/>
<path d="M161.3 1402.6V1357.6H176.8V1402.6" stroke="#F03A2A" stroke-width="2.1" fill="none"/>
<path d="M190.8 1402.6V1365.8H206.3V1402.6" stroke="#2233EE" stroke-width="2.1" fill="none"/>
<path d="M220.7 1402.6V1366.8H236.2V1402.6" stroke="#35A24A" stroke-width="2.1" fill="none"/>
<path d="M250.4 1402.6V1388.3H265.9V1402.6" stroke="#F2A535" stroke-width="2.1" fill="none"/>
<path d="M280.6 1402.6V1392.3H296.1V1402.6" stroke="#9B42C2" stroke-width="2.1" fill="none"/>
<path d="M110.1 1383.7V1419.9M105.1 1383.7H115.1M105.1 1419.9H115.1" stroke="#111111" stroke-width="1.8"/>
<path d="M99.6 1419.9a6 6 0 1 0 12 0a6 6 0 1 0 -12 0M104.1 1397.1a6 6 0 1 0 12 0a6 6 0 1 0 -12 0M108.6 1383.7a6 6 0 1 0 12 0a6 6 0 1 0 -12 0" stroke="#111111" stroke-width="1.9" fill="none"/>
<path d="M140 1379.6V1419.9M135 1379.6H145M135 1419.9H145" stroke="#B08A5A" stroke-width="1.8"/>
<path d="M129.5 1419.9a6 6 0 1 0 12 0a6 6 0 1 0 -12 0M134 1405.7a6 6 0 1 0 12 0a6 6 0 1 0 -12 0M138.5 1379.6a6 6 0 1 0 12 0a6 6 0 1 0 -12 0" stroke="#B08A5A" stroke-width="1.9" fill="none"/>
<path d="M169.1 1352.7V1363.7M164.1 1352.7H174.1M164.1 1363.7H174.1" stroke="#F03A2A" stroke-width="1.8"/>
<path d="M164.6 1357.7l6 10.5h-12zM169.1 1349.2l6 10.5h-12zM173.6 1346.7l6 10.5h-12z" stroke="#F03A2A" stroke-width="1.9" fill="none"/>
<path d="M198.6 1362.4V1371.9M193.6 1362.4H203.6M193.6 1371.9H203.6" stroke="#2233EE" stroke-width="1.8"/>
<path d="M194.1 1377.9l6 -10.5h-12zM198.6 1372.2l6 -10.5h-12zM203.1 1368.4l6 -10.5h-12z" stroke="#2233EE" stroke-width="1.9" fill="none"/>
<path d="M228.4 1356.7V1377M223.4 1356.7H233.4M223.4 1377H233.4" stroke="#35A24A" stroke-width="1.8"/>
<path d="M223.9 1371l6 6l-6 6l-6 -6zM228.4 1365.5l6 6l-6 6l-6 -6zM232.9 1350.7l6 6l-6 6l-6 -6z" stroke="#35A24A" stroke-width="1.9" fill="none"/>
<path d="M258.2 1372.6V1406.7M253.2 1372.6H263.2M253.2 1406.7H263.2" stroke="#F2A535" stroke-width="1.8"/>
<path d="M259.7 1406.7L256.7 1411.8L250.7 1411.8L247.7 1406.7L250.7 1401.5L256.7 1401.5ZM264.2 1393.1L261.2 1398.3L255.2 1398.3L252.2 1393.1L255.2 1387.9L261.2 1387.9ZM268.7 1372.6L265.7 1377.8L259.7 1377.8L256.7 1372.6L259.7 1367.4L265.7 1367.4Z" stroke="#F2A535" stroke-width="1.9" fill="none"/>
<path d="M288.3 1383V1402.6M283.3 1383H293.3M283.3 1402.6H293.3" stroke="#9B42C2" stroke-width="1.8"/>
<path d="M278.7 1397.5h10.2v10.2h-10.2zM283.2 1389.7h10.2v10.2h-10.2zM287.7 1377.9h10.2v10.2h-10.2z" stroke="#9B42C2" stroke-width="1.9" fill="none"/>
<text x="166.8" y="1342.5" font-size="14" text-anchor="middle" fill="#222">***</text>
<text x="199.9" y="1342.5" font-size="14" text-anchor="middle" fill="#222">**</text>
<text x="230" y="1342.5" font-size="14" text-anchor="middle" fill="#222">**</text>
<text x="259.1" y="1338" font-size="12.5" text-anchor="middle" fill="#222">ns</text>
<text x="288.3" y="1338" font-size="12.5" text-anchor="middle" fill="#222">ns</text>
<path d="M199.2 1422.6V1429.6" stroke="#000" stroke-width="2.2"/>
<text x="199.2" y="1442" font-size="17.5" text-anchor="middle">8 hours</text>
<path d="M329.8 1402.6V1281.9H345.2V1402.6" stroke="#111111" stroke-width="2.1" fill="none"/>
<path d="M359.2 1402.6V1271.7H374.8V1402.6" stroke="#B08A5A" stroke-width="2.1" fill="none"/>
<path d="M389.1 1402.6V1241.0H404.6V1402.6" stroke="#F03A2A" stroke-width="2.1" fill="none"/>
<path d="M418.2 1402.6V1239.0H433.8V1402.6" stroke="#2233EE" stroke-width="2.1" fill="none"/>
<path d="M448.4 1402.6V1249.2H463.9V1402.6" stroke="#35A24A" stroke-width="2.1" fill="none"/>
<path d="M477.6 1402.6V1259.4H493.1V1402.6" stroke="#F2A535" stroke-width="2.1" fill="none"/>
<path d="M506.6 1402.6V1259.4H522.1V1402.6" stroke="#9B42C2" stroke-width="2.1" fill="none"/>
<path d="M315.8 1273.8H534.5" stroke="#000" stroke-width="2.6" stroke-dasharray="2.6 2.6"/>
<path d="M337.5 1278V1288.1M332.5 1278H342.5M332.5 1288.1H342.5" stroke="#111111" stroke-width="1.8"/>
<path d="M327 1288.1a6 6 0 1 0 12 0a6 6 0 1 0 -12 0M331.5 1281.3a6 6 0 1 0 12 0a6 6 0 1 0 -12 0M336 1278a6 6 0 1 0 12 0a6 6 0 1 0 -12 0" stroke="#111111" stroke-width="1.9" fill="none"/>
<path d="M367 1267.3V1276.8M362 1267.3H372M362 1276.8H372" stroke="#B08A5A" stroke-width="1.8"/>
<path d="M356.5 1276.8a6 6 0 1 0 12 0a6 6 0 1 0 -12 0M361 1273.4a6 6 0 1 0 12 0a6 6 0 1 0 -12 0M365.5 1267.3a6 6 0 1 0 12 0a6 6 0 1 0 -12 0" stroke="#B08A5A" stroke-width="1.9" fill="none"/>
<path d="M396.8 1237.9V1246.1M391.8 1237.9H401.8M391.8 1246.1H401.8" stroke="#F03A2A" stroke-width="1.8"/>
<path d="M392.3 1240.1l6 10.5h-12zM396.8 1237.2l6 10.5h-12zM401.3 1231.9l6 10.5h-12z" stroke="#F03A2A" stroke-width="1.9" fill="none"/>
<path d="M426 1234.3V1244.1M421 1234.3H431M421 1244.1H431" stroke="#2233EE" stroke-width="1.8"/>
<path d="M421.5 1250.1l6 -10.5h-12zM426 1244.7l6 -10.5h-12zM430.5 1240.3l6 -10.5h-12z" stroke="#2233EE" stroke-width="1.9" fill="none"/>
<path d="M456.1 1245.9V1254.3M451.1 1245.9H461.1M451.1 1254.3H461.1" stroke="#35A24A" stroke-width="1.8"/>
<path d="M451.6 1248.3l6 6l-6 6l-6 -6zM456.1 1242.6l6 6l-6 6l-6 -6zM460.6 1239.9l6 6l-6 6l-6 -6z" stroke="#35A24A" stroke-width="1.9" fill="none"/>
<path d="M485.3 1256.4V1264.6M480.3 1256.4H490.3M480.3 1264.6H490.3" stroke="#F2A535" stroke-width="1.8"/>
<path d="M486.8 1264.6L483.8 1269.7L477.8 1269.7L474.8 1264.6L477.8 1259.4L483.8 1259.4ZM491.3 1257.3L488.3 1262.5L482.3 1262.5L479.3 1257.3L482.3 1252.1L488.3 1252.1ZM495.8 1256.4L492.8 1261.6L486.8 1261.6L483.8 1256.4L486.8 1251.2L492.8 1251.2Z" stroke="#F2A535" stroke-width="1.9" fill="none"/>
<path d="M514.4 1256.2V1264.6M509.4 1256.2H519.4M509.4 1264.6H519.4" stroke="#9B42C2" stroke-width="1.8"/>
<path d="M504.8 1259.5h10.2v10.2h-10.2zM509.3 1256.8h10.2v10.2h-10.2zM513.8 1251.1h10.2v10.2h-10.2z" stroke="#9B42C2" stroke-width="1.9" fill="none"/>
<text x="397.5" y="1230.5" font-size="14" text-anchor="middle" fill="#222">**</text>
<text x="424.4" y="1230.5" font-size="14" text-anchor="middle" fill="#222">**</text>
<text x="455.1" y="1226" font-size="12.5" text-anchor="middle" fill="#222">ns</text>
<text x="482.7" y="1226" font-size="12.5" text-anchor="middle" fill="#222">ns</text>
<text x="512.5" y="1226" font-size="12.5" text-anchor="middle" fill="#222">ns</text>
<path d="M426 1422.6V1429.6" stroke="#000" stroke-width="2.2"/>
<text x="426" y="1442" font-size="17.5" text-anchor="middle">24 hours</text>
<text x="42.1" y="1304.4" font-size="16.9" text-anchor="middle" transform="rotate(-90 42.1 1304.4)" dy="0.35em">Cytolysis (%)</text>
<text x="570" y="1150.4" font-size="55" font-weight="bold">g</text>
<text x="801.8" y="1176.4" font-size="29.4" text-anchor="middle">MDA-MB231-PL, E:T=1:1</text>
<path d="M605.2 1192.6a4.6 4.6 0 1 0 9.2 0a4.6 4.6 0 1 0 -9.2 0" stroke="#111111" stroke-width="1.8" fill="none"/>
<text x="615.4" y="1198.7" font-size="17" textLength="44.0" lengthAdjust="spacingAndGlyphs">Vector</text>
<path d="M660.5 1192.6a4.6 4.6 0 1 0 9.2 0a4.6 4.6 0 1 0 -9.2 0" stroke="#B08A5A" stroke-width="1.8" fill="none"/>
<text x="670.7" y="1198.7" font-size="17" textLength="31.3" lengthAdjust="spacingAndGlyphs">NTC</text>
<path d="M707.6 1188l4.6 8h-9.2z" stroke="#F03A2A" stroke-width="1.8" fill="none"/>
<text x="713.2" y="1198.7" font-size="17" textLength="53.4" lengthAdjust="spacingAndGlyphs">SGSM2</text>
<path d="M772.1 1197.2l4.6 -8h-9.2z" stroke="#2233EE" stroke-width="1.8" fill="none"/>
<text x="777.7" y="1198.7" font-size="17" textLength="58.5" lengthAdjust="spacingAndGlyphs">OR7A10</text>
<path d="M841.8 1188l4.6 4.6l-4.6 4.6l-4.6 -4.6z" stroke="#35A24A" stroke-width="1.8" fill="none"/>
<text x="847.4" y="1198.7" font-size="17" textLength="39.8" lengthAdjust="spacingAndGlyphs">APLN</text>
<path d="M897.4 1192.6L895.1 1196.6L890.5 1196.6L888.2 1192.6L890.5 1188.6L895.1 1188.6Z" stroke="#F2A535" stroke-width="1.8" fill="none"/>
<text x="898.4" y="1198.7" font-size="17" textLength="39.8" lengthAdjust="spacingAndGlyphs">PDP1</text>
<path d="M939.9 1188.7h7.8v7.8h-7.8z" stroke="#9B42C2" stroke-width="1.8" fill="none"/>
<text x="949.4" y="1198.7" font-size="17" textLength="50.0" lengthAdjust="spacingAndGlyphs">CYB5B</text>
<path d="M577.7 1189.3V1423.6M569.7 1190.3H577.7" stroke="#000" stroke-width="2.2"/>
<text x="568.2" y="1196.2" font-size="16.5" text-anchor="end">100</text>
<path d="M569.7 1236.8H577.7" stroke="#000" stroke-width="2.2"/>
<text x="568.2" y="1242.7" font-size="16.5" text-anchor="end">80</text>
<path d="M569.7 1283.2H577.7" stroke="#000" stroke-width="2.2"/>
<text x="568.2" y="1289.2" font-size="16.5" text-anchor="end">60</text>
<path d="M569.7 1329.7H577.7" stroke="#000" stroke-width="2.2"/>
<text x="568.2" y="1335.6" font-size="16.5" text-anchor="end">40</text>
<path d="M569.7 1376.1H577.7" stroke="#000" stroke-width="2.2"/>
<text x="568.2" y="1382.1" font-size="16.5" text-anchor="end">20</text>
<path d="M569.7 1422.6H577.7" stroke="#000" stroke-width="2.2"/>
<text x="568.2" y="1428.5" font-size="16.5" text-anchor="end">0</text>
<path d="M569.7 1422.6H1018.9" stroke="#000" stroke-width="2.2"/>
<path d="M590.0 1422.6V1394.7H605.5V1422.6" stroke="#111111" stroke-width="2.1" fill="none"/>
<path d="M619.1 1422.6V1390.1H634.6V1422.6" stroke="#B08A5A" stroke-width="2.1" fill="none"/>
<path d="M649.0 1422.6V1359.9H664.5V1422.6" stroke="#F03A2A" stroke-width="2.1" fill="none"/>
<path d="M678.5 1422.6V1373.8H694.0V1422.6" stroke="#2233EE" stroke-width="2.1" fill="none"/>
<path d="M707.5 1422.6V1388.9H723.0V1422.6" stroke="#35A24A" stroke-width="2.1" fill="none"/>
<path d="M737.4 1422.6V1373.8H752.9V1422.6" stroke="#F2A535" stroke-width="2.1" fill="none"/>
<path d="M766.5 1422.6V1387.8H782.0V1422.6" stroke="#9B42C2" stroke-width="2.1" fill="none"/>
<path d="M580 1391H795.3" stroke="#000" stroke-width="2.6" stroke-dasharray="2.6 2.6"/>
<path d="M597.7 1391.6V1400.5M592.7 1391.6H602.7M592.7 1400.5H602.7" stroke="#111111" stroke-width="1.8"/>
<path d="M587.2 1400.5a6 6 0 1 0 12 0a6 6 0 1 0 -12 0M591.7 1395a6 6 0 1 0 12 0a6 6 0 1 0 -12 0M596.2 1391.6a6 6 0 1 0 12 0a6 6 0 1 0 -12 0" stroke="#111111" stroke-width="1.9" fill="none"/>
<path d="M626.9 1386.1V1395.9M621.9 1386.1H631.9M621.9 1395.9H631.9" stroke="#B08A5A" stroke-width="1.8"/>
<path d="M616.4 1395.9a6 6 0 1 0 12 0a6 6 0 1 0 -12 0M620.9 1392a6 6 0 1 0 12 0a6 6 0 1 0 -12 0M625.4 1386.1a6 6 0 1 0 12 0a6 6 0 1 0 -12 0" stroke="#B08A5A" stroke-width="1.9" fill="none"/>
<path d="M656.7 1356.6V1365.7M651.7 1356.6H661.7M651.7 1365.7H661.7" stroke="#F03A2A" stroke-width="1.8"/>
<path d="M652.2 1359.7l6 10.5h-12zM656.7 1353.5l6 10.5h-12zM661.2 1350.6l6 10.5h-12z" stroke="#F03A2A" stroke-width="1.9" fill="none"/>
<path d="M686.2 1354.1V1394.7M681.2 1354.1H691.2M681.2 1394.7H691.2" stroke="#2233EE" stroke-width="1.8"/>
<path d="M681.7 1400.7l6 -10.5h-12zM686.2 1382.7l6 -10.5h-12zM690.7 1360.1l6 -10.5h-12z" stroke="#2233EE" stroke-width="1.9" fill="none"/>
<path d="M715.3 1379.3V1400.5M710.3 1379.3H720.3M710.3 1400.5H720.3" stroke="#35A24A" stroke-width="1.8"/>
<path d="M710.8 1394.5l6 6l-6 6l-6 -6zM715.3 1377.3l6 6l-6 6l-6 -6zM719.8 1373.3l6 6l-6 6l-6 -6z" stroke="#35A24A" stroke-width="1.9" fill="none"/>
<path d="M745.1 1366.5V1383.1M740.1 1366.5H750.1M740.1 1383.1H750.1" stroke="#F2A535" stroke-width="1.8"/>
<path d="M746.6 1383.1L743.6 1388.3L737.6 1388.3L734.6 1383.1L737.6 1377.9L743.6 1377.9ZM751.1 1372L748.1 1377.2L742.1 1377.2L739.1 1372L742.1 1366.8L748.1 1366.8ZM755.6 1366.5L752.6 1371.7L746.6 1371.7L743.6 1366.5L746.6 1361.3L752.6 1361.3Z" stroke="#F2A535" stroke-width="1.9" fill="none"/>
<path d="M774.3 1380.5V1401.7M769.3 1380.5H779.3M769.3 1401.7H779.3" stroke="#9B42C2" stroke-width="1.8"/>
<path d="M764.7 1396.6h10.2v10.2h-10.2zM769.2 1387.7h10.2v10.2h-10.2zM773.7 1375.4h10.2v10.2h-10.2z" stroke="#9B42C2" stroke-width="1.9" fill="none"/>
<text x="656.7" y="1328.5" font-size="14" text-anchor="middle" fill="#222">***</text>
<text x="686.2" y="1324" font-size="12.5" text-anchor="middle" fill="#222">ns</text>
<text x="715.3" y="1324" font-size="12.5" text-anchor="middle" fill="#222">ns</text>
<text x="744.2" y="1324" font-size="12.5" text-anchor="middle" fill="#222">ns</text>
<text x="771.7" y="1324" font-size="12.5" text-anchor="middle" fill="#222">ns</text>
<path d="M699.8 1422.6V1429.6" stroke="#000" stroke-width="2.2"/>
<text x="699.8" y="1442" font-size="17.5" text-anchor="middle">8 hours</text>
<path d="M815.8 1422.6V1283.2H831.2V1422.6" stroke="#111111" stroke-width="2.1" fill="none"/>
<path d="M845.0 1422.6V1278.6H860.5V1422.6" stroke="#B08A5A" stroke-width="2.1" fill="none"/>
<path d="M875.0 1422.6V1248.4H890.5V1422.6" stroke="#F03A2A" stroke-width="2.1" fill="none"/>
<path d="M904.2 1422.6V1267.0H919.8V1422.6" stroke="#2233EE" stroke-width="2.1" fill="none"/>
<path d="M933.4 1422.6V1285.5H948.9V1422.6" stroke="#35A24A" stroke-width="2.1" fill="none"/>
<path d="M962.5 1422.6V1276.3H978.0V1422.6" stroke="#F2A535" stroke-width="2.1" fill="none"/>
<path d="M992.4 1422.6V1271.6H1007.9V1422.6" stroke="#9B42C2" stroke-width="2.1" fill="none"/>
<path d="M806.7 1279.7H1022.1" stroke="#000" stroke-width="2.6" stroke-dasharray="2.6 2.6"/>
<path d="M823.5 1277.7V1289M818.5 1277.7H828.5M818.5 1289H828.5" stroke="#111111" stroke-width="1.8"/>
<path d="M813 1289a6 6 0 1 0 12 0a6 6 0 1 0 -12 0M817.5 1286a6 6 0 1 0 12 0a6 6 0 1 0 -12 0M822 1277.7a6 6 0 1 0 12 0a6 6 0 1 0 -12 0" stroke="#111111" stroke-width="1.9" fill="none"/>
<path d="M852.7 1272.9V1284.4M847.7 1272.9H857.7M847.7 1284.4H857.7" stroke="#B08A5A" stroke-width="1.8"/>
<path d="M842.2 1284.4a6 6 0 1 0 12 0a6 6 0 1 0 -12 0M846.7 1277.4a6 6 0 1 0 12 0a6 6 0 1 0 -12 0M851.2 1272.9a6 6 0 1 0 12 0a6 6 0 1 0 -12 0" stroke="#B08A5A" stroke-width="1.9" fill="none"/>
<path d="M882.8 1243.6V1254.2M877.8 1243.6H887.8M877.8 1254.2H887.8" stroke="#F03A2A" stroke-width="1.8"/>
<path d="M878.3 1248.2l6 10.5h-12zM882.8 1245.2l6 10.5h-12zM887.3 1237.6l6 10.5h-12z" stroke="#F03A2A" stroke-width="1.9" fill="none"/>
<path d="M912 1256.9V1278.6M907 1256.9H917M907 1278.6H917" stroke="#2233EE" stroke-width="1.8"/>
<path d="M907.5 1284.6l6 -10.5h-12zM912 1273.2l6 -10.5h-12zM916.5 1262.9l6 -10.5h-12z" stroke="#2233EE" stroke-width="1.9" fill="none"/>
<path d="M941.1 1279.7V1291.4M936.1 1279.7H946.1M936.1 1291.4H946.1" stroke="#35A24A" stroke-width="1.8"/>
<path d="M936.6 1285.4l6 6l-6 6l-6 -6zM941.1 1280.6l6 6l-6 6l-6 -6zM945.6 1273.7l6 6l-6 6l-6 -6z" stroke="#35A24A" stroke-width="1.9" fill="none"/>
<path d="M970.3 1269.1V1285.5M965.3 1269.1H975.3M965.3 1285.5H975.3" stroke="#F2A535" stroke-width="1.8"/>
<path d="M971.8 1285.5L968.8 1290.7L962.8 1290.7L959.8 1285.5L962.8 1280.3L968.8 1280.3ZM976.3 1280.2L973.3 1285.4L967.3 1285.4L964.3 1280.2L967.3 1275L973.3 1275ZM980.8 1269.1L977.8 1274.3L971.8 1274.3L968.8 1269.1L971.8 1263.9L977.8 1263.9Z" stroke="#F2A535" stroke-width="1.9" fill="none"/>
<path d="M1000.1 1266.1V1277.4M995.1 1266.1H1005.1M995.1 1277.4H1005.1" stroke="#9B42C2" stroke-width="1.8"/>
<path d="M990.5 1272.3h10.2v10.2h-10.2zM995 1265.1h10.2v10.2h-10.2zM999.5 1261h10.2v10.2h-10.2z" stroke="#9B42C2" stroke-width="1.9" fill="none"/>
<text x="882.8" y="1239.5" font-size="14" text-anchor="middle" fill="#222">***</text>
<text x="911" y="1235" font-size="12.5" text-anchor="middle" fill="#222">ns</text>
<text x="940.2" y="1235" font-size="12.5" text-anchor="middle" fill="#222">ns</text>
<text x="969.3" y="1235" font-size="12.5" text-anchor="middle" fill="#222">ns</text>
<text x="996.8" y="1235" font-size="12.5" text-anchor="middle" fill="#222">ns</text>
<path d="M912.9 1422.6V1429.6" stroke="#000" stroke-width="2.2"/>
<text x="912.9" y="1442" font-size="17.5" text-anchor="middle">24 hours</text>
<text x="541" y="1301" font-size="16.9" text-anchor="middle" transform="rotate(-90 541 1301)" dy="0.35em">Cytolysis (%)</text>
<text x="1022.7" y="1161.8" font-size="60" font-weight="bold">h</text>
<text x="1164.2" y="1176.4" font-size="28.5" text-anchor="middle">SKOV3-GL,</text>
<text x="1165" y="1207.2" font-size="28.5" text-anchor="middle">E:T=1:1, 8 hrs</text>
<text x="1413.6" y="1176.4" font-size="28.5" text-anchor="middle">A375-PL,</text>
<text x="1414.4" y="1207.2" font-size="28.5" text-anchor="middle">E:T=1:1, 8 hrs</text>
<path d="M1078.2 1226.6a4.6 4.6 0 1 0 9.2 0a4.6 4.6 0 1 0 -9.2 0" stroke="#111111" stroke-width="1.8" fill="none"/>
<text x="1088.8" y="1232.7" font-size="17" textLength="47.7" lengthAdjust="spacingAndGlyphs">Vector</text>
<path d="M1137.9 1226.6a4.6 4.6 0 1 0 9.2 0a4.6 4.6 0 1 0 -9.2 0" stroke="#B08A5A" stroke-width="1.8" fill="none"/>
<text x="1148.6" y="1232.7" font-size="17" textLength="33.9" lengthAdjust="spacingAndGlyphs">NTC</text>
<path d="M1188.6 1222l4.6 8h-9.2z" stroke="#F03A2A" stroke-width="1.8" fill="none"/>
<text x="1194.6" y="1232.7" font-size="17" textLength="57.7" lengthAdjust="spacingAndGlyphs">SGSM2</text>
<path d="M1258.4 1231.2l4.6 -8h-9.2z" stroke="#2233EE" stroke-width="1.8" fill="none"/>
<text x="1264.5" y="1232.7" font-size="17" textLength="63.2" lengthAdjust="spacingAndGlyphs">OR7A10</text>
<path d="M1333.8 1222l4.6 4.6l-4.6 4.6l-4.6 -4.6z" stroke="#35A24A" stroke-width="1.8" fill="none"/>
<text x="1339.8" y="1232.7" font-size="17" textLength="43.1" lengthAdjust="spacingAndGlyphs">APLN</text>
<path d="M1393.6 1226.6L1391.3 1230.6L1386.7 1230.6L1384.4 1226.6L1386.7 1222.6L1391.3 1222.6Z" stroke="#F2A535" stroke-width="1.8" fill="none"/>
<text x="1395" y="1232.7" font-size="17" textLength="43.1" lengthAdjust="spacingAndGlyphs">PDP1</text>
<path d="M1440.3 1222.7h7.8v7.8h-7.8z" stroke="#9B42C2" stroke-width="1.8" fill="none"/>
<text x="1450.2" y="1232.7" font-size="17" textLength="54.1" lengthAdjust="spacingAndGlyphs">CYB5B</text>
<path d="M1081.5 1249.9V1424.3M1073.5 1250.9H1081.5" stroke="#000" stroke-width="2.2"/>
<text x="1072" y="1256.8" font-size="16.5" text-anchor="end">100</text>
<path d="M1073.5 1285.4H1081.5" stroke="#000" stroke-width="2.2"/>
<text x="1072" y="1291.3" font-size="16.5" text-anchor="end">80</text>
<path d="M1073.5 1319.9H1081.5" stroke="#000" stroke-width="2.2"/>
<text x="1072" y="1325.8" font-size="16.5" text-anchor="end">60</text>
<path d="M1073.5 1354.3H1081.5" stroke="#000" stroke-width="2.2"/>
<text x="1072" y="1360.3" font-size="16.5" text-anchor="end">40</text>
<path d="M1073.5 1388.8H1081.5" stroke="#000" stroke-width="2.2"/>
<text x="1072" y="1394.8" font-size="16.5" text-anchor="end">20</text>
<path d="M1073.5 1423.3H1081.5" stroke="#000" stroke-width="2.2"/>
<text x="1072" y="1429.2" font-size="16.5" text-anchor="end">0</text>
<path d="M1073.5 1423.3H1282.4" stroke="#000" stroke-width="2.2"/>
<path d="M1090.7 1423.3V1342.3H1108.2V1423.3" stroke="#111111" stroke-width="2.1" fill="none"/>
<path d="M1118.2 1423.3V1342.3H1135.7V1423.3" stroke="#B08A5A" stroke-width="2.1" fill="none"/>
<path d="M1145.7 1423.3V1297.4H1163.2V1423.3" stroke="#F03A2A" stroke-width="2.1" fill="none"/>
<path d="M1173.2 1423.3V1280.2H1190.8V1423.3" stroke="#2233EE" stroke-width="2.1" fill="none"/>
<path d="M1200.8 1423.3V1300.9H1218.2V1423.3" stroke="#35A24A" stroke-width="2.1" fill="none"/>
<path d="M1228.2 1423.3V1302.6H1245.8V1423.3" stroke="#F2A535" stroke-width="2.1" fill="none"/>
<path d="M1255.8 1423.3V1311.2H1273.3V1423.3" stroke="#9B42C2" stroke-width="2.1" fill="none"/>
<path d="M1081.5 1342.6H1275.9" stroke="#000" stroke-width="2.6" stroke-dasharray="2.6 2.6"/>
<path d="M1099.4 1339.3V1345.7M1094.4 1339.3H1104.4M1094.4 1345.7H1104.4" stroke="#111111" stroke-width="1.8"/>
<path d="M1088.9 1345.7a6 6 0 1 0 12 0a6 6 0 1 0 -12 0M1093.4 1341.5a6 6 0 1 0 12 0a6 6 0 1 0 -12 0M1097.9 1339.3a6 6 0 1 0 12 0a6 6 0 1 0 -12 0" stroke="#111111" stroke-width="1.9" fill="none"/>
<path d="M1126.9 1337.3V1347.4M1121.9 1337.3H1131.9M1121.9 1347.4H1131.9" stroke="#B08A5A" stroke-width="1.8"/>
<path d="M1116.4 1347.4a6 6 0 1 0 12 0a6 6 0 1 0 -12 0M1120.9 1340.8a6 6 0 1 0 12 0a6 6 0 1 0 -12 0M1125.4 1337.3a6 6 0 1 0 12 0a6 6 0 1 0 -12 0" stroke="#B08A5A" stroke-width="1.9" fill="none"/>
<path d="M1154.4 1293.8V1301.8M1149.4 1293.8H1159.4M1149.4 1301.8H1159.4" stroke="#F03A2A" stroke-width="1.8"/>
<path d="M1149.9 1295.8l6 10.5h-12zM1154.4 1292.1l6 10.5h-12zM1158.9 1287.8l6 10.5h-12z" stroke="#F03A2A" stroke-width="1.9" fill="none"/>
<path d="M1182 1276.2V1284.5M1177 1276.2H1187M1177 1284.5H1187" stroke="#2233EE" stroke-width="1.8"/>
<path d="M1177.5 1290.5l6 -10.5h-12zM1182 1284.5l6 -10.5h-12zM1186.5 1282.2l6 -10.5h-12z" stroke="#2233EE" stroke-width="1.9" fill="none"/>
<path d="M1209.5 1294.7V1307.8M1204.5 1294.7H1214.5M1204.5 1307.8H1214.5" stroke="#35A24A" stroke-width="1.8"/>
<path d="M1205 1301.8l6 6l-6 6l-6 -6zM1209.5 1295.5l6 6l-6 6l-6 -6zM1214 1288.7l6 6l-6 6l-6 -6z" stroke="#35A24A" stroke-width="1.9" fill="none"/>
<path d="M1237 1295.8V1311.2M1232 1295.8H1242M1232 1311.2H1242" stroke="#F2A535" stroke-width="1.8"/>
<path d="M1238.5 1311.2L1235.5 1316.4L1229.5 1316.4L1226.5 1311.2L1229.5 1306L1235.5 1306ZM1243 1299.5L1240 1304.7L1234 1304.7L1231 1299.5L1234 1294.3L1240 1294.3ZM1247.5 1295.8L1244.5 1301L1238.5 1301L1235.5 1295.8L1238.5 1290.6L1244.5 1290.6Z" stroke="#F2A535" stroke-width="1.9" fill="none"/>
<path d="M1264.6 1307.7V1316.4M1259.6 1307.7H1269.6M1259.6 1316.4H1269.6" stroke="#9B42C2" stroke-width="1.8"/>
<path d="M1255 1311.3h10.2v10.2h-10.2zM1259.5 1305.5h10.2v10.2h-10.2zM1264 1302.6h10.2v10.2h-10.2z" stroke="#9B42C2" stroke-width="1.9" fill="none"/>
<text x="1154.4" y="1272.5" font-size="14" text-anchor="middle" fill="#222">***</text>
<text x="1182" y="1272.5" font-size="14" text-anchor="middle" fill="#222">***</text>
<text x="1209.5" y="1272.5" font-size="14" text-anchor="middle" fill="#222">**</text>
<text x="1237" y="1272.5" font-size="14" text-anchor="middle" fill="#222">**</text>
<text x="1264.6" y="1272.5" font-size="14" text-anchor="middle" fill="#222">**</text>
<path d="M1099.4 1423.3V1430.8M1126.9 1423.3V1430.8M1154.4 1423.3V1430.8M1182 1423.3V1430.8M1209.5 1423.3V1430.8M1237 1423.3V1430.8M1264.6 1423.3V1430.8" stroke="#000" stroke-width="2.2"/>
<text x="1033" y="1346.5" font-size="16.9" text-anchor="middle" transform="rotate(-90 1033 1346.5)" dy="0.35em">Cytolysis (%)</text>
<path d="M1332.6 1249.9V1424.3M1324.6 1250.9H1332.6" stroke="#000" stroke-width="2.2"/>
<text x="1323.1" y="1256.8" font-size="16.5" text-anchor="end">80</text>
<path d="M1324.6 1294H1332.6" stroke="#000" stroke-width="2.2"/>
<text x="1323.1" y="1299.9" font-size="16.5" text-anchor="end">60</text>
<path d="M1324.6 1337.1H1332.6" stroke="#000" stroke-width="2.2"/>
<text x="1323.1" y="1343" font-size="16.5" text-anchor="end">40</text>
<path d="M1324.6 1380.2H1332.6" stroke="#000" stroke-width="2.2"/>
<text x="1323.1" y="1386.1" font-size="16.5" text-anchor="end">20</text>
<path d="M1324.6 1423.3H1332.6" stroke="#000" stroke-width="2.2"/>
<text x="1323.1" y="1429.2" font-size="16.5" text-anchor="end">0</text>
<path d="M1324.6 1423.3H1538.3" stroke="#000" stroke-width="2.2"/>
<path d="M1345.8 1423.3V1343.6H1363.3V1423.3" stroke="#111111" stroke-width="2.1" fill="none"/>
<path d="M1373.5 1423.3V1354.3H1391.0V1423.3" stroke="#B08A5A" stroke-width="2.1" fill="none"/>
<path d="M1401.0 1423.3V1273.5H1418.5V1423.3" stroke="#F03A2A" stroke-width="2.1" fill="none"/>
<path d="M1428.5 1423.3V1291.8H1446.0V1423.3" stroke="#2233EE" stroke-width="2.1" fill="none"/>
<path d="M1456.0 1423.3V1311.2H1473.5V1423.3" stroke="#35A24A" stroke-width="2.1" fill="none"/>
<path d="M1483.5 1423.3V1330.6H1501.0V1423.3" stroke="#F2A535" stroke-width="2.1" fill="none"/>
<path d="M1511.0 1423.3V1330.6H1528.5V1423.3" stroke="#9B42C2" stroke-width="2.1" fill="none"/>
<path d="M1335.8 1354.6H1531.8" stroke="#000" stroke-width="2.6" stroke-dasharray="2.6 2.6"/>
<path d="M1354.6 1334.9V1354.3M1349.6 1334.9H1359.6M1349.6 1354.3H1359.6" stroke="#111111" stroke-width="1.8"/>
<path d="M1344.1 1354.3a6 6 0 1 0 12 0a6 6 0 1 0 -12 0M1348.6 1342.7a6 6 0 1 0 12 0a6 6 0 1 0 -12 0M1353.1 1334.9a6 6 0 1 0 12 0a6 6 0 1 0 -12 0" stroke="#111111" stroke-width="1.9" fill="none"/>
<path d="M1382.2 1349V1360.8M1377.2 1349H1387.2M1377.2 1360.8H1387.2" stroke="#B08A5A" stroke-width="1.8"/>
<path d="M1371.7 1360.8a6 6 0 1 0 12 0a6 6 0 1 0 -12 0M1376.2 1357.1a6 6 0 1 0 12 0a6 6 0 1 0 -12 0M1380.7 1349a6 6 0 1 0 12 0a6 6 0 1 0 -12 0" stroke="#B08A5A" stroke-width="1.9" fill="none"/>
<path d="M1409.7 1268.5V1278.9M1404.7 1268.5H1414.7M1404.7 1278.9H1414.7" stroke="#F03A2A" stroke-width="1.8"/>
<path d="M1405.2 1272.9l6 10.5h-12zM1409.7 1264.9l6 10.5h-12zM1414.2 1262.5l6 10.5h-12z" stroke="#F03A2A" stroke-width="1.9" fill="none"/>
<path d="M1437.2 1287.4V1298.3M1432.2 1287.4H1442.2M1432.2 1298.3H1442.2" stroke="#2233EE" stroke-width="1.8"/>
<path d="M1432.7 1304.3l6 -10.5h-12zM1437.2 1296.4l6 -10.5h-12zM1441.7 1293.4l6 -10.5h-12z" stroke="#2233EE" stroke-width="1.9" fill="none"/>
<path d="M1464.8 1307V1316.6M1459.8 1307H1469.8M1459.8 1316.6H1469.8" stroke="#35A24A" stroke-width="1.8"/>
<path d="M1460.3 1310.6l6 6l-6 6l-6 -6zM1464.8 1304l6 6l-6 6l-6 -6zM1469.3 1301l6 6l-6 6l-6 -6z" stroke="#35A24A" stroke-width="1.9" fill="none"/>
<path d="M1492.3 1324.7V1337.1M1487.3 1324.7H1497.3M1487.3 1337.1H1497.3" stroke="#F2A535" stroke-width="1.8"/>
<path d="M1493.8 1337.1L1490.8 1342.3L1484.8 1342.3L1481.8 1337.1L1484.8 1331.9L1490.8 1331.9ZM1498.3 1331L1495.3 1336.2L1489.3 1336.2L1486.3 1331L1489.3 1325.8L1495.3 1325.8ZM1502.8 1324.7L1499.8 1329.9L1493.8 1329.9L1490.8 1324.7L1493.8 1319.5L1499.8 1319.5Z" stroke="#F2A535" stroke-width="1.9" fill="none"/>
<path d="M1519.8 1325V1337.1M1514.8 1325H1524.8M1514.8 1337.1H1524.8" stroke="#9B42C2" stroke-width="1.8"/>
<path d="M1510.2 1332h10.2v10.2h-10.2zM1514.7 1328.2h10.2v10.2h-10.2zM1519.2 1319.9h10.2v10.2h-10.2z" stroke="#9B42C2" stroke-width="1.9" fill="none"/>
<text x="1409.7" y="1265.5" font-size="14" text-anchor="middle" fill="#222">****</text>
<text x="1437.2" y="1265.5" font-size="14" text-anchor="middle" fill="#222">***</text>
<text x="1464.8" y="1265.5" font-size="14" text-anchor="middle" fill="#222">**</text>
<text x="1492.3" y="1265.5" font-size="14" text-anchor="middle" fill="#222">*</text>
<text x="1519.8" y="1265.5" font-size="14" text-anchor="middle" fill="#222">*</text>
<path d="M1354.6 1423.3V1430.8M1382.2 1423.3V1430.8M1409.7 1423.3V1430.8M1437.2 1423.3V1430.8M1464.8 1423.3V1430.8M1492.3 1423.3V1430.8M1519.8 1423.3V1430.8" stroke="#000" stroke-width="2.2"/>
<text x="1544.9" y="1160.9" font-size="59" font-weight="bold">i</text>
<path d="M1566.3 1181.2V1413.8M1712.7 1181.2V1413.8M1783 1181.2V1413.8M1858.8 1181.2V1413.8M1919.2 1181.2V1413.8M1974.9 1181.2V1413.8M2036.9 1181.2V1413.8M1566.3 1181.2H2036.9M1566.3 1220.1H2036.9M1566.3 1252.5H2036.9M1566.3 1284.8H2036.9M1566.3 1317.1H2036.9M1566.3 1349.5H2036.9M1566.3 1381.8H2036.9M1566.3 1413.8H2036.9" stroke="#444" stroke-width="1.4"/>
<path d="M1566.3 1181.2L1712.7 1220.1" stroke="#111" stroke-width="1.8"/>
<text x="1704.6" y="1198.3" font-size="16" text-anchor="end" font-weight="bold">Hit</text>
<text x="1567" y="1218.3" font-size="16" font-weight="bold">Cancer cell</text>
<text x="1747.8" y="1198.8" font-size="15" text-anchor="middle" fill="#222">SGSM2</text>
<text x="1820.9" y="1198.8" font-size="15" text-anchor="middle" fill="#222">OR7A10</text>
<text x="1889" y="1198.8" font-size="15" text-anchor="middle" fill="#222">APLN</text>
<text x="1947.1" y="1198.8" font-size="15" text-anchor="middle" fill="#222">PDP1</text>
<text x="2005.9" y="1198.8" font-size="15" text-anchor="middle" fill="#222">CYB5B</text>
<text x="1639.7" y="1238.6" font-size="15" text-anchor="middle" fill="#222">HT29</text>
<text x="1748.6" y="1242.8" font-size="17" text-anchor="middle" fill="#222" font-weight="bold" letter-spacing="1.6">****</text>
<text x="1821.7" y="1242.8" font-size="17" text-anchor="middle" fill="#222" font-weight="bold" letter-spacing="1.6">****</text>
<text x="1889.8" y="1242.8" font-size="17" text-anchor="middle" fill="#222" font-weight="bold" letter-spacing="1.6">****</text>
<text x="1947.9" y="1242.8" font-size="17" text-anchor="middle" fill="#222" font-weight="bold" letter-spacing="1.6">****</text>
<text x="2005.9" y="1238.6" font-size="15" text-anchor="middle" fill="#222">NS</text>
<text x="1639.7" y="1271" font-size="15" text-anchor="middle" fill="#222">MCF7</text>
<text x="1748.6" y="1275.2" font-size="17" text-anchor="middle" fill="#222" font-weight="bold" letter-spacing="1.6">****</text>
<text x="1821.7" y="1275.2" font-size="17" text-anchor="middle" fill="#222" font-weight="bold" letter-spacing="1.6">****</text>
<text x="1889.8" y="1275.2" font-size="17" text-anchor="middle" fill="#222" font-weight="bold" letter-spacing="1.6">****</text>
<text x="1947.9" y="1275.2" font-size="17" text-anchor="middle" fill="#222" font-weight="bold" letter-spacing="1.6">****</text>
<text x="2006.7" y="1275.2" font-size="17" text-anchor="middle" fill="#222" font-weight="bold" letter-spacing="1.6">****</text>
<text x="1639.7" y="1303.2" font-size="15" text-anchor="middle" fill="#222">H1299</text>
<text x="1748.6" y="1307.4" font-size="17" text-anchor="middle" fill="#222" font-weight="bold" letter-spacing="1.6">***</text>
<text x="1821.7" y="1307.4" font-size="17" text-anchor="middle" fill="#222" font-weight="bold" letter-spacing="1.6">**</text>
<text x="1889.8" y="1307.4" font-size="17" text-anchor="middle" fill="#222" font-weight="bold" letter-spacing="1.6">**</text>
<text x="1947.1" y="1303.2" font-size="15" text-anchor="middle" fill="#222">NS</text>
<text x="2005.9" y="1303.2" font-size="15" text-anchor="middle" fill="#222">NS</text>
<text x="1639.7" y="1335.6" font-size="15" text-anchor="middle" fill="#222">MDA-MB-231</text>
<text x="1748.6" y="1339.8" font-size="17" text-anchor="middle" fill="#222" font-weight="bold" letter-spacing="1.6">***</text>
<text x="1820.9" y="1335.6" font-size="15" text-anchor="middle" fill="#222">NS</text>
<text x="1889" y="1335.6" font-size="15" text-anchor="middle" fill="#222">NS</text>
<text x="1947.1" y="1335.6" font-size="15" text-anchor="middle" fill="#222">NS</text>
<text x="2005.9" y="1335.6" font-size="15" text-anchor="middle" fill="#222">NS</text>
<text x="1639.7" y="1368" font-size="15" text-anchor="middle" fill="#222">SKOV3</text>
<text x="1748.6" y="1372.2" font-size="17" text-anchor="middle" fill="#222" font-weight="bold" letter-spacing="1.6">***</text>
<text x="1821.7" y="1372.2" font-size="17" text-anchor="middle" fill="#222" font-weight="bold" letter-spacing="1.6">***</text>
<text x="1889.8" y="1372.2" font-size="17" text-anchor="middle" fill="#222" font-weight="bold" letter-spacing="1.6">**</text>
<text x="1947.9" y="1372.2" font-size="17" text-anchor="middle" fill="#222" font-weight="bold" letter-spacing="1.6">**</text>
<text x="2006.7" y="1372.2" font-size="17" text-anchor="middle" fill="#222" font-weight="bold" letter-spacing="1.6">**</text>
<text x="1639.7" y="1400.1" font-size="15" text-anchor="middle" fill="#222">A375</text>
<text x="1748.6" y="1404.3" font-size="17" text-anchor="middle" fill="#222" font-weight="bold" letter-spacing="1.6">****</text>
<text x="1821.7" y="1404.3" font-size="17" text-anchor="middle" fill="#222" font-weight="bold" letter-spacing="1.6">***</text>
<text x="1889.8" y="1404.3" font-size="17" text-anchor="middle" fill="#222" font-weight="bold" letter-spacing="1.6">**</text>
<text x="1947.9" y="1404.3" font-size="17" text-anchor="middle" fill="#222" font-weight="bold" letter-spacing="1.6">*</text>
<text x="2006.7" y="1404.3" font-size="17" text-anchor="middle" fill="#222" font-weight="bold" letter-spacing="1.6">*</text>
<text x="11.7" y="1512.5" font-size="59" font-weight="bold">j</text>
<text x="82.7" y="1535.6" font-size="30.1">Mini-screen sample correlation (Spearman)</text>
<path d="M86.3 1595.6h17.5v18.7h-17.5zM103.8 1614.3h17.5v18.7h-17.5zM121.3 1633h17.5v18.7h-17.5zM138.8 1651.7h17.5v18.7h-17.5zM156.3 1670.4h17.5v18.7h-17.5zM173.8 1689.1h17.5v18.7h-17.5zM191.3 1707.8h17.5v18.7h-17.5zM208.8 1726.5h17.5v18.7h-17.5zM226.3 1745.2h17.5v18.7h-17.5zM243.8 1763.9h17.5v18.7h-17.5zM269.2 1790.9h17.5v18.7h-17.5zM286.7 1809.6h17.5v18.7h-17.5zM304.2 1828.3h17.5v18.7h-17.5zM321.7 1847h17.5v18.7h-17.5zM339.2 1865.7h17.5v18.7h-17.5zM356.7 1884.4h17.5v18.7h-17.5zM382.7 1911.4h17.5v18.7h-17.5zM400.2 1930.1h17.5v18.7h-17.5zM417.7 1948.8h17.5v18.7h-17.5zM435.2 1967.5h17.5v18.7h-17.5zM452.7 1986.2h17.5v18.7h-17.5zM470.2 2004.9h17.5v18.7h-17.5zM487.7 2023.6h17.5v18.7h-17.5zM505.2 2042.3h17.5v18.7h-17.5zM522.7 2061h17.5v18.7h-17.5z" fill="#D8352A"/>
<path d="M103.8 1595.6h17.5v18.7h-17.5zM86.3 1614.3h17.5v18.7h-17.5zM191.3 1689.1h17.5v18.7h-17.5zM173.8 1707.8h17.5v18.7h-17.5z" fill="#EDF7D6"/>
<path d="M121.3 1595.6h17.5v18.7h-17.5zM191.3 1595.6h17.5v18.7h-17.5zM208.8 1595.6h17.5v18.7h-17.5zM191.3 1614.3h17.5v18.7h-17.5zM86.3 1633h17.5v18.7h-17.5zM138.8 1633h17.5v18.7h-17.5zM173.8 1633h17.5v18.7h-17.5zM191.3 1633h17.5v18.7h-17.5zM208.8 1633h17.5v18.7h-17.5zM173.8 1651.7h17.5v18.7h-17.5zM208.8 1651.7h17.5v18.7h-17.5zM121.3 1689.1h17.5v18.7h-17.5zM138.8 1689.1h17.5v18.7h-17.5zM243.8 1689.1h17.5v18.7h-17.5zM121.3 1707.8h17.5v18.7h-17.5zM86.3 1726.5h17.5v18.7h-17.5zM121.3 1726.5h17.5v18.7h-17.5zM138.8 1726.5h17.5v18.7h-17.5zM173.8 1763.9h17.5v18.7h-17.5zM269.2 1633h17.5v18.7h-17.5zM417.7 1633h17.5v18.7h-17.5zM435.2 1633h17.5v18.7h-17.5zM452.7 1633h17.5v18.7h-17.5zM470.2 1633h17.5v18.7h-17.5zM417.7 1651.7h17.5v18.7h-17.5zM435.2 1651.7h17.5v18.7h-17.5zM452.7 1651.7h17.5v18.7h-17.5zM470.2 1651.7h17.5v18.7h-17.5zM470.2 1670.4h17.5v18.7h-17.5zM121.3 1790.9h17.5v18.7h-17.5zM156.3 1911.4h17.5v18.7h-17.5zM156.3 1930.1h17.5v18.7h-17.5zM121.3 1948.8h17.5v18.7h-17.5zM138.8 1948.8h17.5v18.7h-17.5zM121.3 1967.5h17.5v18.7h-17.5zM138.8 1967.5h17.5v18.7h-17.5zM121.3 1986.2h17.5v18.7h-17.5zM138.8 1986.2h17.5v18.7h-17.5zM121.3 2004.9h17.5v18.7h-17.5zM138.8 2004.9h17.5v18.7h-17.5zM156.3 2004.9h17.5v18.7h-17.5z" fill="#719CCB"/>
<path d="M138.8 1595.6h17.5v18.7h-17.5zM156.3 1595.6h17.5v18.7h-17.5zM226.3 1595.6h17.5v18.7h-17.5zM138.8 1614.3h17.5v18.7h-17.5zM156.3 1614.3h17.5v18.7h-17.5zM208.8 1614.3h17.5v18.7h-17.5zM226.3 1614.3h17.5v18.7h-17.5zM226.3 1633h17.5v18.7h-17.5zM103.8 1651.7h17.5v18.7h-17.5zM121.3 1651.7h17.5v18.7h-17.5zM191.3 1651.7h17.5v18.7h-17.5zM226.3 1651.7h17.5v18.7h-17.5zM86.3 1670.4h17.5v18.7h-17.5zM103.8 1670.4h17.5v18.7h-17.5zM173.8 1670.4h17.5v18.7h-17.5zM208.8 1670.4h17.5v18.7h-17.5zM156.3 1689.1h17.5v18.7h-17.5zM208.8 1689.1h17.5v18.7h-17.5zM226.3 1689.1h17.5v18.7h-17.5zM86.3 1707.8h17.5v18.7h-17.5zM103.8 1707.8h17.5v18.7h-17.5zM138.8 1707.8h17.5v18.7h-17.5zM103.8 1726.5h17.5v18.7h-17.5zM156.3 1726.5h17.5v18.7h-17.5zM173.8 1745.2h17.5v18.7h-17.5zM269.2 1614.3h17.5v18.7h-17.5zM304.2 1614.3h17.5v18.7h-17.5zM286.7 1633h17.5v18.7h-17.5zM339.2 1633h17.5v18.7h-17.5zM356.7 1633h17.5v18.7h-17.5zM269.2 1670.4h17.5v18.7h-17.5zM339.2 1670.4h17.5v18.7h-17.5zM269.2 1763.9h17.5v18.7h-17.5zM417.7 1595.6h17.5v18.7h-17.5zM435.2 1595.6h17.5v18.7h-17.5zM452.7 1595.6h17.5v18.7h-17.5zM382.7 1614.3h17.5v18.7h-17.5zM400.2 1614.3h17.5v18.7h-17.5zM417.7 1614.3h17.5v18.7h-17.5zM435.2 1614.3h17.5v18.7h-17.5zM452.7 1614.3h17.5v18.7h-17.5zM470.2 1614.3h17.5v18.7h-17.5zM382.7 1633h17.5v18.7h-17.5zM400.2 1633h17.5v18.7h-17.5zM487.7 1633h17.5v18.7h-17.5zM382.7 1651.7h17.5v18.7h-17.5zM400.2 1651.7h17.5v18.7h-17.5zM487.7 1651.7h17.5v18.7h-17.5zM382.7 1670.4h17.5v18.7h-17.5zM400.2 1670.4h17.5v18.7h-17.5zM487.7 1670.4h17.5v18.7h-17.5zM400.2 1689.1h17.5v18.7h-17.5zM417.7 1689.1h17.5v18.7h-17.5zM435.2 1689.1h17.5v18.7h-17.5zM452.7 1689.1h17.5v18.7h-17.5zM470.2 1689.1h17.5v18.7h-17.5zM487.7 1689.1h17.5v18.7h-17.5zM417.7 1707.8h17.5v18.7h-17.5zM435.2 1707.8h17.5v18.7h-17.5zM452.7 1707.8h17.5v18.7h-17.5zM470.2 1707.8h17.5v18.7h-17.5zM435.2 1726.5h17.5v18.7h-17.5zM452.7 1726.5h17.5v18.7h-17.5zM417.7 1763.9h17.5v18.7h-17.5zM435.2 1763.9h17.5v18.7h-17.5zM452.7 1763.9h17.5v18.7h-17.5zM470.2 1763.9h17.5v18.7h-17.5zM103.8 1790.9h17.5v18.7h-17.5zM156.3 1790.9h17.5v18.7h-17.5zM243.8 1790.9h17.5v18.7h-17.5zM121.3 1809.6h17.5v18.7h-17.5zM103.8 1828.3h17.5v18.7h-17.5zM121.3 1847h17.5v18.7h-17.5zM121.3 1865.7h17.5v18.7h-17.5zM121.3 1884.4h17.5v18.7h-17.5zM173.8 1884.4h17.5v18.7h-17.5zM103.8 1911.4h17.5v18.7h-17.5zM121.3 1911.4h17.5v18.7h-17.5zM138.8 1911.4h17.5v18.7h-17.5zM103.8 1930.1h17.5v18.7h-17.5zM121.3 1930.1h17.5v18.7h-17.5zM138.8 1930.1h17.5v18.7h-17.5zM86.3 1948.8h17.5v18.7h-17.5zM103.8 1948.8h17.5v18.7h-17.5zM173.8 1948.8h17.5v18.7h-17.5zM191.3 1948.8h17.5v18.7h-17.5zM243.8 1948.8h17.5v18.7h-17.5zM86.3 1967.5h17.5v18.7h-17.5zM103.8 1967.5h17.5v18.7h-17.5zM173.8 1967.5h17.5v18.7h-17.5zM191.3 1967.5h17.5v18.7h-17.5zM208.8 1967.5h17.5v18.7h-17.5zM243.8 1967.5h17.5v18.7h-17.5zM86.3 1986.2h17.5v18.7h-17.5zM103.8 1986.2h17.5v18.7h-17.5zM173.8 1986.2h17.5v18.7h-17.5zM191.3 1986.2h17.5v18.7h-17.5zM243.8 1986.2h17.5v18.7h-17.5zM86.3 2004.9h17.5v18.7h-17.5zM103.8 2004.9h17.5v18.7h-17.5zM173.8 2004.9h17.5v18.7h-17.5zM191.3 2004.9h17.5v18.7h-17.5zM243.8 2004.9h17.5v18.7h-17.5zM121.3 2023.6h17.5v18.7h-17.5zM138.8 2023.6h17.5v18.7h-17.5zM156.3 2023.6h17.5v18.7h-17.5zM173.8 2023.6h17.5v18.7h-17.5zM191.3 2023.6h17.5v18.7h-17.5zM243.8 2023.6h17.5v18.7h-17.5zM173.8 2042.3h17.5v18.7h-17.5zM173.8 2061h17.5v18.7h-17.5z" fill="#8FBBDA"/>
<path d="M173.8 1595.6h17.5v18.7h-17.5zM121.3 1614.3h17.5v18.7h-17.5zM173.8 1614.3h17.5v18.7h-17.5zM103.8 1633h17.5v18.7h-17.5zM86.3 1689.1h17.5v18.7h-17.5zM103.8 1689.1h17.5v18.7h-17.5zM417.7 1670.4h17.5v18.7h-17.5zM435.2 1670.4h17.5v18.7h-17.5zM452.7 1670.4h17.5v18.7h-17.5zM156.3 1948.8h17.5v18.7h-17.5zM156.3 1967.5h17.5v18.7h-17.5zM156.3 1986.2h17.5v18.7h-17.5z" fill="#5B83C1"/>
<path d="M243.8 1595.6h17.5v18.7h-17.5zM243.8 1614.3h17.5v18.7h-17.5zM156.3 1633h17.5v18.7h-17.5zM243.8 1633h17.5v18.7h-17.5zM86.3 1651.7h17.5v18.7h-17.5zM243.8 1651.7h17.5v18.7h-17.5zM121.3 1670.4h17.5v18.7h-17.5zM191.3 1670.4h17.5v18.7h-17.5zM156.3 1707.8h17.5v18.7h-17.5zM208.8 1707.8h17.5v18.7h-17.5zM226.3 1707.8h17.5v18.7h-17.5zM173.8 1726.5h17.5v18.7h-17.5zM191.3 1726.5h17.5v18.7h-17.5zM243.8 1726.5h17.5v18.7h-17.5zM86.3 1745.2h17.5v18.7h-17.5zM103.8 1745.2h17.5v18.7h-17.5zM121.3 1745.2h17.5v18.7h-17.5zM138.8 1745.2h17.5v18.7h-17.5zM191.3 1745.2h17.5v18.7h-17.5zM86.3 1763.9h17.5v18.7h-17.5zM103.8 1763.9h17.5v18.7h-17.5zM121.3 1763.9h17.5v18.7h-17.5zM138.8 1763.9h17.5v18.7h-17.5zM208.8 1763.9h17.5v18.7h-17.5zM269.2 1595.6h17.5v18.7h-17.5zM286.7 1595.6h17.5v18.7h-17.5zM304.2 1595.6h17.5v18.7h-17.5zM321.7 1595.6h17.5v18.7h-17.5zM339.2 1595.6h17.5v18.7h-17.5zM356.7 1595.6h17.5v18.7h-17.5zM286.7 1614.3h17.5v18.7h-17.5zM321.7 1614.3h17.5v18.7h-17.5zM339.2 1614.3h17.5v18.7h-17.5zM356.7 1614.3h17.5v18.7h-17.5zM304.2 1633h17.5v18.7h-17.5zM321.7 1633h17.5v18.7h-17.5zM269.2 1651.7h17.5v18.7h-17.5zM286.7 1651.7h17.5v18.7h-17.5zM304.2 1651.7h17.5v18.7h-17.5zM321.7 1651.7h17.5v18.7h-17.5zM339.2 1651.7h17.5v18.7h-17.5zM356.7 1651.7h17.5v18.7h-17.5zM286.7 1670.4h17.5v18.7h-17.5zM304.2 1670.4h17.5v18.7h-17.5zM321.7 1670.4h17.5v18.7h-17.5zM356.7 1670.4h17.5v18.7h-17.5zM269.2 1689.1h17.5v18.7h-17.5zM286.7 1689.1h17.5v18.7h-17.5zM321.7 1689.1h17.5v18.7h-17.5zM339.2 1689.1h17.5v18.7h-17.5zM356.7 1689.1h17.5v18.7h-17.5zM269.2 1707.8h17.5v18.7h-17.5zM286.7 1707.8h17.5v18.7h-17.5zM304.2 1707.8h17.5v18.7h-17.5zM339.2 1707.8h17.5v18.7h-17.5zM356.7 1707.8h17.5v18.7h-17.5zM269.2 1726.5h17.5v18.7h-17.5zM286.7 1726.5h17.5v18.7h-17.5zM304.2 1726.5h17.5v18.7h-17.5zM321.7 1726.5h17.5v18.7h-17.5zM339.2 1726.5h17.5v18.7h-17.5zM356.7 1726.5h17.5v18.7h-17.5zM286.7 1763.9h17.5v18.7h-17.5zM304.2 1763.9h17.5v18.7h-17.5zM339.2 1763.9h17.5v18.7h-17.5zM382.7 1595.6h17.5v18.7h-17.5zM400.2 1595.6h17.5v18.7h-17.5zM470.2 1595.6h17.5v18.7h-17.5zM505.2 1595.6h17.5v18.7h-17.5zM522.7 1595.6h17.5v18.7h-17.5zM487.7 1614.3h17.5v18.7h-17.5zM505.2 1614.3h17.5v18.7h-17.5zM522.7 1614.3h17.5v18.7h-17.5zM505.2 1633h17.5v18.7h-17.5zM522.7 1633h17.5v18.7h-17.5zM505.2 1651.7h17.5v18.7h-17.5zM522.7 1651.7h17.5v18.7h-17.5zM505.2 1670.4h17.5v18.7h-17.5zM522.7 1670.4h17.5v18.7h-17.5zM382.7 1689.1h17.5v18.7h-17.5zM505.2 1689.1h17.5v18.7h-17.5zM522.7 1689.1h17.5v18.7h-17.5zM382.7 1707.8h17.5v18.7h-17.5zM400.2 1707.8h17.5v18.7h-17.5zM487.7 1707.8h17.5v18.7h-17.5zM505.2 1707.8h17.5v18.7h-17.5zM522.7 1707.8h17.5v18.7h-17.5zM382.7 1726.5h17.5v18.7h-17.5zM400.2 1726.5h17.5v18.7h-17.5zM417.7 1726.5h17.5v18.7h-17.5zM470.2 1726.5h17.5v18.7h-17.5zM487.7 1726.5h17.5v18.7h-17.5zM505.2 1726.5h17.5v18.7h-17.5zM435.2 1745.2h17.5v18.7h-17.5zM452.7 1745.2h17.5v18.7h-17.5zM470.2 1745.2h17.5v18.7h-17.5zM382.7 1763.9h17.5v18.7h-17.5zM400.2 1763.9h17.5v18.7h-17.5zM487.7 1763.9h17.5v18.7h-17.5zM86.3 1790.9h17.5v18.7h-17.5zM138.8 1790.9h17.5v18.7h-17.5zM173.8 1790.9h17.5v18.7h-17.5zM191.3 1790.9h17.5v18.7h-17.5zM208.8 1790.9h17.5v18.7h-17.5zM86.3 1809.6h17.5v18.7h-17.5zM103.8 1809.6h17.5v18.7h-17.5zM138.8 1809.6h17.5v18.7h-17.5zM156.3 1809.6h17.5v18.7h-17.5zM173.8 1809.6h17.5v18.7h-17.5zM191.3 1809.6h17.5v18.7h-17.5zM208.8 1809.6h17.5v18.7h-17.5zM243.8 1809.6h17.5v18.7h-17.5zM86.3 1828.3h17.5v18.7h-17.5zM121.3 1828.3h17.5v18.7h-17.5zM138.8 1828.3h17.5v18.7h-17.5zM156.3 1828.3h17.5v18.7h-17.5zM191.3 1828.3h17.5v18.7h-17.5zM208.8 1828.3h17.5v18.7h-17.5zM243.8 1828.3h17.5v18.7h-17.5zM86.3 1847h17.5v18.7h-17.5zM103.8 1847h17.5v18.7h-17.5zM138.8 1847h17.5v18.7h-17.5zM156.3 1847h17.5v18.7h-17.5zM173.8 1847h17.5v18.7h-17.5zM208.8 1847h17.5v18.7h-17.5zM86.3 1865.7h17.5v18.7h-17.5zM103.8 1865.7h17.5v18.7h-17.5zM138.8 1865.7h17.5v18.7h-17.5zM156.3 1865.7h17.5v18.7h-17.5zM173.8 1865.7h17.5v18.7h-17.5zM191.3 1865.7h17.5v18.7h-17.5zM208.8 1865.7h17.5v18.7h-17.5zM226.3 1865.7h17.5v18.7h-17.5zM86.3 1884.4h17.5v18.7h-17.5zM103.8 1884.4h17.5v18.7h-17.5zM138.8 1884.4h17.5v18.7h-17.5zM156.3 1884.4h17.5v18.7h-17.5zM191.3 1884.4h17.5v18.7h-17.5zM208.8 1884.4h17.5v18.7h-17.5zM86.3 1911.4h17.5v18.7h-17.5zM173.8 1911.4h17.5v18.7h-17.5zM191.3 1911.4h17.5v18.7h-17.5zM208.8 1911.4h17.5v18.7h-17.5zM243.8 1911.4h17.5v18.7h-17.5zM86.3 1930.1h17.5v18.7h-17.5zM173.8 1930.1h17.5v18.7h-17.5zM191.3 1930.1h17.5v18.7h-17.5zM208.8 1930.1h17.5v18.7h-17.5zM243.8 1930.1h17.5v18.7h-17.5zM208.8 1948.8h17.5v18.7h-17.5zM226.3 1967.5h17.5v18.7h-17.5zM208.8 1986.2h17.5v18.7h-17.5zM226.3 1986.2h17.5v18.7h-17.5zM208.8 2004.9h17.5v18.7h-17.5zM226.3 2004.9h17.5v18.7h-17.5zM208.8 2023.6h17.5v18.7h-17.5zM226.3 2023.6h17.5v18.7h-17.5zM86.3 2042.3h17.5v18.7h-17.5zM103.8 2042.3h17.5v18.7h-17.5zM121.3 2042.3h17.5v18.7h-17.5zM138.8 2042.3h17.5v18.7h-17.5zM156.3 2042.3h17.5v18.7h-17.5zM191.3 2042.3h17.5v18.7h-17.5zM208.8 2042.3h17.5v18.7h-17.5zM86.3 2061h17.5v18.7h-17.5zM103.8 2061h17.5v18.7h-17.5zM121.3 2061h17.5v18.7h-17.5zM138.8 2061h17.5v18.7h-17.5zM156.3 2061h17.5v18.7h-17.5zM191.3 2061h17.5v18.7h-17.5zM208.8 2061h17.5v18.7h-17.5z" fill="#AFD4E6"/>
<path d="M156.3 1651.7h17.5v18.7h-17.5zM138.8 1670.4h17.5v18.7h-17.5zM226.3 1670.4h17.5v18.7h-17.5zM243.8 1670.4h17.5v18.7h-17.5zM243.8 1707.8h17.5v18.7h-17.5zM226.3 1726.5h17.5v18.7h-17.5zM156.3 1745.2h17.5v18.7h-17.5zM208.8 1745.2h17.5v18.7h-17.5zM243.8 1745.2h17.5v18.7h-17.5zM156.3 1763.9h17.5v18.7h-17.5zM191.3 1763.9h17.5v18.7h-17.5zM226.3 1763.9h17.5v18.7h-17.5zM304.2 1689.1h17.5v18.7h-17.5zM321.7 1707.8h17.5v18.7h-17.5zM269.2 1745.2h17.5v18.7h-17.5zM286.7 1745.2h17.5v18.7h-17.5zM304.2 1745.2h17.5v18.7h-17.5zM321.7 1745.2h17.5v18.7h-17.5zM339.2 1745.2h17.5v18.7h-17.5zM356.7 1745.2h17.5v18.7h-17.5zM321.7 1763.9h17.5v18.7h-17.5zM356.7 1763.9h17.5v18.7h-17.5zM487.7 1595.6h17.5v18.7h-17.5zM522.7 1726.5h17.5v18.7h-17.5zM382.7 1745.2h17.5v18.7h-17.5zM400.2 1745.2h17.5v18.7h-17.5zM417.7 1745.2h17.5v18.7h-17.5zM487.7 1745.2h17.5v18.7h-17.5zM505.2 1745.2h17.5v18.7h-17.5zM522.7 1745.2h17.5v18.7h-17.5zM505.2 1763.9h17.5v18.7h-17.5zM522.7 1763.9h17.5v18.7h-17.5zM226.3 1790.9h17.5v18.7h-17.5zM226.3 1809.6h17.5v18.7h-17.5zM173.8 1828.3h17.5v18.7h-17.5zM226.3 1828.3h17.5v18.7h-17.5zM191.3 1847h17.5v18.7h-17.5zM226.3 1847h17.5v18.7h-17.5zM243.8 1847h17.5v18.7h-17.5zM243.8 1865.7h17.5v18.7h-17.5zM226.3 1884.4h17.5v18.7h-17.5zM243.8 1884.4h17.5v18.7h-17.5zM226.3 1911.4h17.5v18.7h-17.5zM226.3 1930.1h17.5v18.7h-17.5zM226.3 1948.8h17.5v18.7h-17.5zM86.3 2023.6h17.5v18.7h-17.5zM103.8 2023.6h17.5v18.7h-17.5zM226.3 2042.3h17.5v18.7h-17.5zM243.8 2042.3h17.5v18.7h-17.5zM226.3 2061h17.5v18.7h-17.5zM243.8 2061h17.5v18.7h-17.5z" fill="#D9EDF3"/>
<path d="M286.7 1790.9h17.5v18.7h-17.5zM304.2 1790.9h17.5v18.7h-17.5zM321.7 1790.9h17.5v18.7h-17.5zM339.2 1790.9h17.5v18.7h-17.5zM356.7 1790.9h17.5v18.7h-17.5zM304.2 1809.6h17.5v18.7h-17.5zM339.2 1809.6h17.5v18.7h-17.5zM356.7 1809.6h17.5v18.7h-17.5zM269.2 1828.3h17.5v18.7h-17.5zM286.7 1828.3h17.5v18.7h-17.5zM339.2 1828.3h17.5v18.7h-17.5zM356.7 1828.3h17.5v18.7h-17.5zM269.2 1847h17.5v18.7h-17.5zM286.7 1847h17.5v18.7h-17.5zM339.2 1847h17.5v18.7h-17.5zM356.7 1847h17.5v18.7h-17.5zM269.2 1865.7h17.5v18.7h-17.5zM286.7 1865.7h17.5v18.7h-17.5zM304.2 1865.7h17.5v18.7h-17.5zM321.7 1865.7h17.5v18.7h-17.5zM356.7 1865.7h17.5v18.7h-17.5zM269.2 1884.4h17.5v18.7h-17.5zM286.7 1884.4h17.5v18.7h-17.5zM304.2 1884.4h17.5v18.7h-17.5zM321.7 1884.4h17.5v18.7h-17.5zM339.2 1884.4h17.5v18.7h-17.5zM382.7 1790.9h17.5v18.7h-17.5zM400.2 1790.9h17.5v18.7h-17.5zM417.7 1790.9h17.5v18.7h-17.5zM435.2 1790.9h17.5v18.7h-17.5zM452.7 1790.9h17.5v18.7h-17.5zM470.2 1790.9h17.5v18.7h-17.5zM487.7 1790.9h17.5v18.7h-17.5zM505.2 1790.9h17.5v18.7h-17.5zM522.7 1790.9h17.5v18.7h-17.5zM382.7 1809.6h17.5v18.7h-17.5zM400.2 1809.6h17.5v18.7h-17.5zM417.7 1809.6h17.5v18.7h-17.5zM435.2 1809.6h17.5v18.7h-17.5zM452.7 1809.6h17.5v18.7h-17.5zM470.2 1809.6h17.5v18.7h-17.5zM487.7 1809.6h17.5v18.7h-17.5zM505.2 1809.6h17.5v18.7h-17.5zM522.7 1809.6h17.5v18.7h-17.5zM382.7 1828.3h17.5v18.7h-17.5zM400.2 1828.3h17.5v18.7h-17.5zM417.7 1828.3h17.5v18.7h-17.5zM435.2 1828.3h17.5v18.7h-17.5zM452.7 1828.3h17.5v18.7h-17.5zM470.2 1828.3h17.5v18.7h-17.5zM487.7 1828.3h17.5v18.7h-17.5zM505.2 1828.3h17.5v18.7h-17.5zM522.7 1828.3h17.5v18.7h-17.5zM382.7 1847h17.5v18.7h-17.5zM400.2 1847h17.5v18.7h-17.5zM417.7 1847h17.5v18.7h-17.5zM435.2 1847h17.5v18.7h-17.5zM452.7 1847h17.5v18.7h-17.5zM470.2 1847h17.5v18.7h-17.5zM487.7 1847h17.5v18.7h-17.5zM505.2 1847h17.5v18.7h-17.5zM522.7 1847h17.5v18.7h-17.5zM382.7 1865.7h17.5v18.7h-17.5zM400.2 1865.7h17.5v18.7h-17.5zM417.7 1865.7h17.5v18.7h-17.5zM435.2 1865.7h17.5v18.7h-17.5zM452.7 1865.7h17.5v18.7h-17.5zM470.2 1865.7h17.5v18.7h-17.5zM487.7 1865.7h17.5v18.7h-17.5zM505.2 1865.7h17.5v18.7h-17.5zM522.7 1865.7h17.5v18.7h-17.5zM382.7 1884.4h17.5v18.7h-17.5zM400.2 1884.4h17.5v18.7h-17.5zM417.7 1884.4h17.5v18.7h-17.5zM435.2 1884.4h17.5v18.7h-17.5zM452.7 1884.4h17.5v18.7h-17.5zM470.2 1884.4h17.5v18.7h-17.5zM487.7 1884.4h17.5v18.7h-17.5zM505.2 1884.4h17.5v18.7h-17.5zM522.7 1884.4h17.5v18.7h-17.5zM269.2 1911.4h17.5v18.7h-17.5zM286.7 1911.4h17.5v18.7h-17.5zM304.2 1911.4h17.5v18.7h-17.5zM321.7 1911.4h17.5v18.7h-17.5zM339.2 1911.4h17.5v18.7h-17.5zM356.7 1911.4h17.5v18.7h-17.5zM269.2 1930.1h17.5v18.7h-17.5zM286.7 1930.1h17.5v18.7h-17.5zM304.2 1930.1h17.5v18.7h-17.5zM321.7 1930.1h17.5v18.7h-17.5zM339.2 1930.1h17.5v18.7h-17.5zM356.7 1930.1h17.5v18.7h-17.5zM269.2 1948.8h17.5v18.7h-17.5zM286.7 1948.8h17.5v18.7h-17.5zM304.2 1948.8h17.5v18.7h-17.5zM321.7 1948.8h17.5v18.7h-17.5zM339.2 1948.8h17.5v18.7h-17.5zM356.7 1948.8h17.5v18.7h-17.5zM269.2 1967.5h17.5v18.7h-17.5zM286.7 1967.5h17.5v18.7h-17.5zM304.2 1967.5h17.5v18.7h-17.5zM321.7 1967.5h17.5v18.7h-17.5zM339.2 1967.5h17.5v18.7h-17.5zM356.7 1967.5h17.5v18.7h-17.5zM269.2 1986.2h17.5v18.7h-17.5zM286.7 1986.2h17.5v18.7h-17.5zM304.2 1986.2h17.5v18.7h-17.5zM321.7 1986.2h17.5v18.7h-17.5zM339.2 1986.2h17.5v18.7h-17.5zM356.7 1986.2h17.5v18.7h-17.5zM269.2 2004.9h17.5v18.7h-17.5zM286.7 2004.9h17.5v18.7h-17.5zM304.2 2004.9h17.5v18.7h-17.5zM321.7 2004.9h17.5v18.7h-17.5zM339.2 2004.9h17.5v18.7h-17.5zM356.7 2004.9h17.5v18.7h-17.5zM269.2 2023.6h17.5v18.7h-17.5zM286.7 2023.6h17.5v18.7h-17.5zM304.2 2023.6h17.5v18.7h-17.5zM321.7 2023.6h17.5v18.7h-17.5zM339.2 2023.6h17.5v18.7h-17.5zM356.7 2023.6h17.5v18.7h-17.5zM269.2 2042.3h17.5v18.7h-17.5zM286.7 2042.3h17.5v18.7h-17.5zM304.2 2042.3h17.5v18.7h-17.5zM321.7 2042.3h17.5v18.7h-17.5zM339.2 2042.3h17.5v18.7h-17.5zM356.7 2042.3h17.5v18.7h-17.5zM269.2 2061h17.5v18.7h-17.5zM286.7 2061h17.5v18.7h-17.5zM304.2 2061h17.5v18.7h-17.5zM321.7 2061h17.5v18.7h-17.5zM339.2 2061h17.5v18.7h-17.5zM356.7 2061h17.5v18.7h-17.5z" fill="#F2F5C2"/>
<path d="M269.2 1809.6h17.5v18.7h-17.5zM321.7 1809.6h17.5v18.7h-17.5zM321.7 1828.3h17.5v18.7h-17.5zM304.2 1847h17.5v18.7h-17.5z" fill="#EEF0B2"/>
<path d="M400.2 1911.4h17.5v18.7h-17.5zM417.7 1911.4h17.5v18.7h-17.5zM470.2 1911.4h17.5v18.7h-17.5zM382.7 1930.1h17.5v18.7h-17.5zM435.2 1930.1h17.5v18.7h-17.5zM470.2 1930.1h17.5v18.7h-17.5zM382.7 1948.8h17.5v18.7h-17.5zM435.2 1948.8h17.5v18.7h-17.5zM452.7 1948.8h17.5v18.7h-17.5zM470.2 1948.8h17.5v18.7h-17.5zM382.7 1967.5h17.5v18.7h-17.5zM400.2 1967.5h17.5v18.7h-17.5zM417.7 1967.5h17.5v18.7h-17.5zM382.7 1986.2h17.5v18.7h-17.5zM417.7 1986.2h17.5v18.7h-17.5zM382.7 2004.9h17.5v18.7h-17.5zM400.2 2004.9h17.5v18.7h-17.5zM417.7 2004.9h17.5v18.7h-17.5z" fill="#EA6E4B"/>
<path d="M435.2 1911.4h17.5v18.7h-17.5zM452.7 1911.4h17.5v18.7h-17.5zM487.7 1911.4h17.5v18.7h-17.5zM505.2 2023.6h17.5v18.7h-17.5zM487.7 2042.3h17.5v18.7h-17.5zM522.7 2042.3h17.5v18.7h-17.5zM505.2 2061h17.5v18.7h-17.5z" fill="#EE8E58"/>
<path d="M505.2 1911.4h17.5v18.7h-17.5zM522.7 1911.4h17.5v18.7h-17.5zM487.7 1930.1h17.5v18.7h-17.5zM505.2 1930.1h17.5v18.7h-17.5zM522.7 1930.1h17.5v18.7h-17.5zM487.7 1948.8h17.5v18.7h-17.5zM505.2 1948.8h17.5v18.7h-17.5zM522.7 1948.8h17.5v18.7h-17.5zM487.7 1967.5h17.5v18.7h-17.5zM505.2 1967.5h17.5v18.7h-17.5zM522.7 1967.5h17.5v18.7h-17.5zM487.7 1986.2h17.5v18.7h-17.5zM505.2 1986.2h17.5v18.7h-17.5zM522.7 1986.2h17.5v18.7h-17.5zM487.7 2004.9h17.5v18.7h-17.5zM505.2 2004.9h17.5v18.7h-17.5zM522.7 2004.9h17.5v18.7h-17.5zM382.7 2023.6h17.5v18.7h-17.5zM400.2 2023.6h17.5v18.7h-17.5zM417.7 2023.6h17.5v18.7h-17.5zM435.2 2023.6h17.5v18.7h-17.5zM452.7 2023.6h17.5v18.7h-17.5zM470.2 2023.6h17.5v18.7h-17.5zM522.7 2023.6h17.5v18.7h-17.5zM382.7 2042.3h17.5v18.7h-17.5zM400.2 2042.3h17.5v18.7h-17.5zM417.7 2042.3h17.5v18.7h-17.5zM435.2 2042.3h17.5v18.7h-17.5zM452.7 2042.3h17.5v18.7h-17.5zM470.2 2042.3h17.5v18.7h-17.5zM382.7 2061h17.5v18.7h-17.5zM400.2 2061h17.5v18.7h-17.5zM417.7 2061h17.5v18.7h-17.5zM435.2 2061h17.5v18.7h-17.5zM452.7 2061h17.5v18.7h-17.5zM470.2 2061h17.5v18.7h-17.5zM487.7 2061h17.5v18.7h-17.5z" fill="#ECAA6D"/>
<path d="M417.7 1930.1h17.5v18.7h-17.5zM452.7 1930.1h17.5v18.7h-17.5zM400.2 1948.8h17.5v18.7h-17.5zM452.7 1967.5h17.5v18.7h-17.5zM470.2 1967.5h17.5v18.7h-17.5zM400.2 1986.2h17.5v18.7h-17.5zM435.2 1986.2h17.5v18.7h-17.5zM470.2 1986.2h17.5v18.7h-17.5zM435.2 2004.9h17.5v18.7h-17.5zM452.7 2004.9h17.5v18.7h-17.5z" fill="#E2503A"/>
<path d="M86.3 1569.2h17.5v20.3h-17.5zM121.3 1569.2h17.5v20.3h-17.5zM138.8 1569.2h17.5v20.3h-17.5zM173.8 1569.2h17.5v20.3h-17.5zM226.3 1569.2h17.5v20.3h-17.5zM269.2 1569.2h17.5v20.3h-17.5zM304.2 1569.2h17.5v20.3h-17.5zM339.2 1569.2h17.5v20.3h-17.5zM60.2 1595.6h20.2v18.7h-20.2zM60.2 1633h20.2v18.7h-20.2zM60.2 1651.7h20.2v18.7h-20.2zM60.2 1689.1h20.2v18.7h-20.2zM60.2 1745.2h20.2v18.7h-20.2zM60.2 1790.9h20.2v18.7h-20.2zM60.2 1828.3h20.2v18.7h-20.2zM60.2 1865.7h20.2v18.7h-20.2z" fill="#8ED9C3"/>
<path d="M103.8 1569.2h17.5v20.3h-17.5zM156.3 1569.2h17.5v20.3h-17.5zM191.3 1569.2h17.5v20.3h-17.5zM208.8 1569.2h17.5v20.3h-17.5zM243.8 1569.2h17.5v20.3h-17.5zM286.7 1569.2h17.5v20.3h-17.5zM321.7 1569.2h17.5v20.3h-17.5zM356.7 1569.2h17.5v20.3h-17.5zM60.2 1614.3h20.2v18.7h-20.2zM60.2 1670.4h20.2v18.7h-20.2zM60.2 1707.8h20.2v18.7h-20.2zM60.2 1726.5h20.2v18.7h-20.2zM60.2 1763.9h20.2v18.7h-20.2zM60.2 1809.6h20.2v18.7h-20.2zM60.2 1847h20.2v18.7h-20.2zM60.2 1884.4h20.2v18.7h-20.2z" fill="#4DAF66"/>
<path d="M382.7 1569.2h17.5v20.3h-17.5zM400.2 1569.2h17.5v20.3h-17.5zM417.7 1569.2h17.5v20.3h-17.5zM435.2 1569.2h17.5v20.3h-17.5zM452.7 1569.2h17.5v20.3h-17.5zM470.2 1569.2h17.5v20.3h-17.5zM487.7 1569.2h17.5v20.3h-17.5zM505.2 1569.2h17.5v20.3h-17.5zM522.7 1569.2h17.5v20.3h-17.5zM60.2 1911.4h20.2v18.7h-20.2zM60.2 1930.1h20.2v18.7h-20.2zM60.2 1948.8h20.2v18.7h-20.2zM60.2 1967.5h20.2v18.7h-20.2zM60.2 1986.2h20.2v18.7h-20.2zM60.2 2004.9h20.2v18.7h-20.2zM60.2 2023.6h20.2v18.7h-20.2zM60.2 2042.3h20.2v18.7h-20.2zM60.2 2061h20.2v18.7h-20.2z" fill="#E9F6F5"/>
<path d="M86.3 1595.6v187M103.8 1595.6v187M121.3 1595.6v187M138.8 1595.6v187M156.3 1595.6v187M173.8 1595.6v187M191.3 1595.6v187M208.8 1595.6v187M226.3 1595.6v187M243.8 1595.6v187M261.3 1595.6v187M86.3 1595.6h175M86.3 1614.3h175M86.3 1633h175M86.3 1651.7h175M86.3 1670.4h175M86.3 1689.1h175M86.3 1707.8h175M86.3 1726.5h175M86.3 1745.2h175M86.3 1763.9h175M86.3 1782.6h175M269.2 1595.6v187M286.7 1595.6v187M304.2 1595.6v187M321.7 1595.6v187M339.2 1595.6v187M356.7 1595.6v187M374.2 1595.6v187M269.2 1595.6h105M269.2 1614.3h105M269.2 1633h105M269.2 1651.7h105M269.2 1670.4h105M269.2 1689.1h105M269.2 1707.8h105M269.2 1726.5h105M269.2 1745.2h105M269.2 1763.9h105M269.2 1782.6h105M382.7 1595.6v187M400.2 1595.6v187M417.7 1595.6v187M435.2 1595.6v187M452.7 1595.6v187M470.2 1595.6v187M487.7 1595.6v187M505.2 1595.6v187M522.7 1595.6v187M540.2 1595.6v187M382.7 1595.6h157.5M382.7 1614.3h157.5M382.7 1633h157.5M382.7 1651.7h157.5M382.7 1670.4h157.5M382.7 1689.1h157.5M382.7 1707.8h157.5M382.7 1726.5h157.5M382.7 1745.2h157.5M382.7 1763.9h157.5M382.7 1782.6h157.5M86.3 1790.9v112.2M103.8 1790.9v112.2M121.3 1790.9v112.2M138.8 1790.9v112.2M156.3 1790.9v112.2M173.8 1790.9v112.2M191.3 1790.9v112.2M208.8 1790.9v112.2M226.3 1790.9v112.2M243.8 1790.9v112.2M261.3 1790.9v112.2M86.3 1790.9h175M86.3 1809.6h175M86.3 1828.3h175M86.3 1847h175M86.3 1865.7h175M86.3 1884.4h175M86.3 1903.1h175M269.2 1790.9v112.2M286.7 1790.9v112.2M304.2 1790.9v112.2M321.7 1790.9v112.2M339.2 1790.9v112.2M356.7 1790.9v112.2M374.2 1790.9v112.2M269.2 1790.9h105M269.2 1809.6h105M269.2 1828.3h105M269.2 1847h105M269.2 1865.7h105M269.2 1884.4h105M269.2 1903.1h105M382.7 1790.9v112.2M400.2 1790.9v112.2M417.7 1790.9v112.2M435.2 1790.9v112.2M452.7 1790.9v112.2M470.2 1790.9v112.2M487.7 1790.9v112.2M505.2 1790.9v112.2M522.7 1790.9v112.2M540.2 1790.9v112.2M382.7 1790.9h157.5M382.7 1809.6h157.5M382.7 1828.3h157.5M382.7 1847h157.5M382.7 1865.7h157.5M382.7 1884.4h157.5M382.7 1903.1h157.5M86.3 1911.4v168.3M103.8 1911.4v168.3M121.3 1911.4v168.3M138.8 1911.4v168.3M156.3 1911.4v168.3M173.8 1911.4v168.3M191.3 1911.4v168.3M208.8 1911.4v168.3M226.3 1911.4v168.3M243.8 1911.4v168.3M261.3 1911.4v168.3M86.3 1911.4h175M86.3 1930.1h175M86.3 1948.8h175M86.3 1967.5h175M86.3 1986.2h175M86.3 2004.9h175M86.3 2023.6h175M86.3 2042.3h175M86.3 2061h175M86.3 2079.7h175M269.2 1911.4v168.3M286.7 1911.4v168.3M304.2 1911.4v168.3M321.7 1911.4v168.3M339.2 1911.4v168.3M356.7 1911.4v168.3M374.2 1911.4v168.3M269.2 1911.4h105M269.2 1930.1h105M269.2 1948.8h105M269.2 1967.5h105M269.2 1986.2h105M269.2 2004.9h105M269.2 2023.6h105M269.2 2042.3h105M269.2 2061h105M269.2 2079.7h105M382.7 1911.4v168.3M400.2 1911.4v168.3M417.7 1911.4v168.3M435.2 1911.4v168.3M452.7 1911.4v168.3M470.2 1911.4v168.3M487.7 1911.4v168.3M505.2 1911.4v168.3M522.7 1911.4v168.3M540.2 1911.4v168.3M382.7 1911.4h157.5M382.7 1930.1h157.5M382.7 1948.8h157.5M382.7 1967.5h157.5M382.7 1986.2h157.5M382.7 2004.9h157.5M382.7 2023.6h157.5M382.7 2042.3h157.5M382.7 2061h157.5M382.7 2079.7h157.5M86.3 1569.2v20.3M103.8 1569.2v20.3M121.3 1569.2v20.3M138.8 1569.2v20.3M156.3 1569.2v20.3M173.8 1569.2v20.3M191.3 1569.2v20.3M208.8 1569.2v20.3M226.3 1569.2v20.3M243.8 1569.2v20.3M261.3 1569.2v20.3M86.3 1569.2h175M86.3 1589.5h175M269.2 1569.2v20.3M286.7 1569.2v20.3M304.2 1569.2v20.3M321.7 1569.2v20.3M339.2 1569.2v20.3M356.7 1569.2v20.3M374.2 1569.2v20.3M269.2 1569.2h105M269.2 1589.5h105M382.7 1569.2v20.3M400.2 1569.2v20.3M417.7 1569.2v20.3M435.2 1569.2v20.3M452.7 1569.2v20.3M470.2 1569.2v20.3M487.7 1569.2v20.3M505.2 1569.2v20.3M522.7 1569.2v20.3M540.2 1569.2v20.3M382.7 1569.2h157.5M382.7 1589.5h157.5M60.2 1595.6v187M80.4 1595.6v187M60.2 1595.6h20.2M60.2 1614.3h20.2M60.2 1633h20.2M60.2 1651.7h20.2M60.2 1670.4h20.2M60.2 1689.1h20.2M60.2 1707.8h20.2M60.2 1726.5h20.2M60.2 1745.2h20.2M60.2 1763.9h20.2M60.2 1782.6h20.2M60.2 1790.9v112.2M80.4 1790.9v112.2M60.2 1790.9h20.2M60.2 1809.6h20.2M60.2 1828.3h20.2M60.2 1847h20.2M60.2 1865.7h20.2M60.2 1884.4h20.2M60.2 1903.1h20.2M60.2 1911.4v168.3M80.4 1911.4v168.3M60.2 1911.4h20.2M60.2 1930.1h20.2M60.2 1948.8h20.2M60.2 1967.5h20.2M60.2 1986.2h20.2M60.2 2004.9h20.2M60.2 2023.6h20.2M60.2 2042.3h20.2M60.2 2061h20.2M60.2 2079.7h20.2" stroke="#8C8C8C" stroke-width="1.1" fill="none"/>
<text x="546.8" y="1586" font-size="17" font-weight="bold">Time</text>
<text x="546.3" y="1610.9" font-size="17.2">nk_d957_t3_r4</text>
<text x="546.3" y="1629.6" font-size="17.2">nk_d957_t6_r4</text>
<text x="546.3" y="1648.3" font-size="17.2">nk_d958_t3_r1</text>
<text x="546.3" y="1667" font-size="17.2">nk_d957_t3_r5</text>
<text x="546.3" y="1685.7" font-size="17.2">nk_d957_t6_r5</text>
<text x="546.3" y="1704.4" font-size="17.2">nk_d958_t3_r2</text>
<text x="546.3" y="1723.1" font-size="17.2">nk_d958_t6_r2</text>
<text x="546.3" y="1741.8" font-size="17.2">nk_d958_t6_r3</text>
<text x="546.3" y="1760.5" font-size="17.2">nk_d958_t3_r3</text>
<text x="546.3" y="1779.2" font-size="17.2">nk_d958_t6_r1</text>
<text x="546.3" y="1806.2" font-size="17.2">nk_d957_t3_r2</text>
<text x="546.3" y="1825" font-size="17.2">nk_d957_t6_r2</text>
<text x="546.3" y="1843.7" font-size="17.2">nk_d957_t3_r3</text>
<text x="546.3" y="1862.3" font-size="17.2">nk_d957_t6_r3</text>
<text x="546.3" y="1881" font-size="17.2">nk_d957_t3_r1</text>
<text x="546.3" y="1899.8" font-size="17.2">nk_d957_t6_r1</text>
<text x="546.3" y="1926.8" font-size="17.2">nk_d958_t0_r1</text>
<text x="546.3" y="1945.5" font-size="17.2">nk_d958_t0_r2</text>
<text x="546.3" y="1964.2" font-size="17.2">nk_d958_t0_r3</text>
<text x="546.3" y="1982.8" font-size="17.2">ctrl_plasmid_t0_r1</text>
<text x="546.3" y="2001.5" font-size="17.2">ctrl_plasmid_t0_r2</text>
<text x="546.3" y="2020.2" font-size="17.2">ctrl_plasmid_t0_r3</text>
<text x="546.3" y="2039" font-size="17.2">nk_d957_t0_r1</text>
<text x="546.3" y="2057.7" font-size="17.2">nk_d957_t0_r2</text>
<text x="546.3" y="2076.3" font-size="17.2">nk_d957_t0_r3</text>
<text x="101.2" y="2087" font-size="17.2" text-anchor="end" transform="rotate(-90 101.2 2087)">nk_d957_t3_r4</text>
<text x="118.8" y="2087" font-size="17.2" text-anchor="end" transform="rotate(-90 118.8 2087)">nk_d957_t6_r4</text>
<text x="136.2" y="2087" font-size="17.2" text-anchor="end" transform="rotate(-90 136.2 2087)">nk_d958_t3_r1</text>
<text x="153.8" y="2087" font-size="17.2" text-anchor="end" transform="rotate(-90 153.8 2087)">nk_d957_t3_r5</text>
<text x="171.2" y="2087" font-size="17.2" text-anchor="end" transform="rotate(-90 171.2 2087)">nk_d957_t6_r5</text>
<text x="188.8" y="2087" font-size="17.2" text-anchor="end" transform="rotate(-90 188.8 2087)">nk_d958_t3_r2</text>
<text x="206.2" y="2087" font-size="17.2" text-anchor="end" transform="rotate(-90 206.2 2087)">nk_d958_t6_r2</text>
<text x="223.8" y="2087" font-size="17.2" text-anchor="end" transform="rotate(-90 223.8 2087)">nk_d958_t6_r3</text>
<text x="241.2" y="2087" font-size="17.2" text-anchor="end" transform="rotate(-90 241.2 2087)">nk_d958_t3_r3</text>
<text x="258.8" y="2087" font-size="17.2" text-anchor="end" transform="rotate(-90 258.8 2087)">nk_d958_t6_r1</text>
<text x="284.1" y="2087" font-size="17.2" text-anchor="end" transform="rotate(-90 284.1 2087)">nk_d957_t3_r2</text>
<text x="301.6" y="2087" font-size="17.2" text-anchor="end" transform="rotate(-90 301.6 2087)">nk_d957_t6_r2</text>
<text x="319.1" y="2087" font-size="17.2" text-anchor="end" transform="rotate(-90 319.1 2087)">nk_d957_t3_r3</text>
<text x="336.6" y="2087" font-size="17.2" text-anchor="end" transform="rotate(-90 336.6 2087)">nk_d957_t6_r3</text>
<text x="354.1" y="2087" font-size="17.2" text-anchor="end" transform="rotate(-90 354.1 2087)">nk_d957_t3_r1</text>
<text x="371.6" y="2087" font-size="17.2" text-anchor="end" transform="rotate(-90 371.6 2087)">nk_d957_t6_r1</text>
<text x="397.6" y="2087" font-size="17.2" text-anchor="end" transform="rotate(-90 397.6 2087)">nk_d958_t0_r1</text>
<text x="415.1" y="2087" font-size="17.2" text-anchor="end" transform="rotate(-90 415.1 2087)">nk_d958_t0_r2</text>
<text x="432.6" y="2087" font-size="17.2" text-anchor="end" transform="rotate(-90 432.6 2087)">nk_d958_t0_r3</text>
<text x="450.1" y="2087" font-size="17.2" text-anchor="end" transform="rotate(-90 450.1 2087)">ctrl_plasmid_t0_r1</text>
<text x="467.6" y="2087" font-size="17.2" text-anchor="end" transform="rotate(-90 467.6 2087)">ctrl_plasmid_t0_r2</text>
<text x="485.1" y="2087" font-size="17.2" text-anchor="end" transform="rotate(-90 485.1 2087)">ctrl_plasmid_t0_r3</text>
<text x="502.6" y="2087" font-size="17.2" text-anchor="end" transform="rotate(-90 502.6 2087)">nk_d957_t0_r1</text>
<text x="520.2" y="2087" font-size="17.2" text-anchor="end" transform="rotate(-90 520.2 2087)">nk_d957_t0_r2</text>
<text x="537.7" y="2087" font-size="17.2" text-anchor="end" transform="rotate(-90 537.7 2087)">nk_d957_t0_r3</text>
<text x="75.5" y="2087" font-size="17" text-anchor="end" font-weight="bold" transform="rotate(-90 75.5 2087)">Time</text>
<path d="M95.0 1567.0L95.0 1562.5M112.5 1567.0L112.5 1562.5M95.0 1562.5L112.5 1562.5M130.1 1567.0L130.1 1560.5M147.6 1567.0L147.6 1560.5M130.1 1560.5L147.6 1560.5M165.1 1567.0L165.1 1562.5M182.6 1567.0L182.6 1562.5M165.1 1562.5L182.6 1562.5M200.1 1567.0L200.1 1560.5M217.6 1567.0L217.6 1560.5M200.1 1560.5L217.6 1560.5M235.1 1567.0L235.1 1562.5M252.6 1567.0L252.6 1562.5M235.1 1562.5L252.6 1562.5M103.8 1562.5L103.8 1559.0M138.8 1560.5L138.8 1559.0M103.8 1559.0L138.8 1559.0M173.8 1562.5L173.8 1560.0M208.8 1560.5L208.8 1560.0M173.8 1560.0L208.8 1560.0M191.3 1560.0L191.3 1558.0M243.8 1562.5L243.8 1558.0M191.3 1558.0L243.8 1558.0M121.3 1559.0L121.3 1556.5M217.6 1558.0L217.6 1556.5M121.3 1556.5L217.6 1556.5M277.9 1567.0L277.9 1564.0M295.4 1567.0L295.4 1564.0M277.9 1564.0L295.4 1564.0M312.9 1567.0L312.9 1564.0M330.4 1567.0L330.4 1564.0M312.9 1564.0L330.4 1564.0M347.9 1567.0L347.9 1564.0M365.4 1567.0L365.4 1564.0M347.9 1564.0L365.4 1564.0M286.7 1564.0L286.7 1562.0M321.7 1564.0L321.7 1562.0M286.7 1562.0L321.7 1562.0M304.2 1562.0L304.2 1561.0M356.7 1564.0L356.7 1561.0M304.2 1561.0L356.7 1561.0M391.4 1567.0L391.4 1565.0M408.9 1567.0L408.9 1565.0M391.4 1565.0L408.9 1565.0M400.2 1565.0L400.2 1563.5M426.4 1567.0L426.4 1563.5M400.2 1563.5L426.4 1563.5M443.9 1567.0L443.9 1565.0M461.4 1567.0L461.4 1565.0M443.9 1565.0L461.4 1565.0M452.7 1565.0L452.7 1563.5M478.9 1567.0L478.9 1563.5M452.7 1563.5L478.9 1563.5M496.4 1567.0L496.4 1565.0M514.0 1567.0L514.0 1565.0M496.4 1565.0L514.0 1565.0M505.2 1565.0L505.2 1563.5M531.5 1567.0L531.5 1563.5M505.2 1563.5L531.5 1563.5M413.3 1563.5L413.3 1562.0M465.8 1563.5L465.8 1562.0M413.3 1562.0L465.8 1562.0M439.6 1562.0L439.6 1561.0M518.3 1563.5L518.3 1561.0M439.6 1561.0L518.3 1561.0M330.4 1561.0L330.4 1553.5M479.0 1561.0L479.0 1553.5M330.4 1553.5L479.0 1553.5M169.4 1556.5L169.4 1547.5M404.7 1553.5L404.7 1547.5M169.4 1547.5L404.7 1547.5M58.0 1604.9L54.0 1604.9M58.0 1623.6L54.0 1623.6M54.0 1604.9L54.0 1623.6M58.0 1642.3L52.0 1642.3M58.0 1661.0L52.0 1661.0M52.0 1642.3L52.0 1661.0M58.0 1679.8L54.0 1679.8M58.0 1698.4L54.0 1698.4M54.0 1679.8L54.0 1698.4M58.0 1717.1L52.0 1717.1M58.0 1735.8L52.0 1735.8M52.0 1717.1L52.0 1735.8M58.0 1754.5L54.0 1754.5M58.0 1773.2L54.0 1773.2M54.0 1754.5L54.0 1773.2M54.0 1614.3L51.0 1614.3M52.0 1651.7L51.0 1651.7M51.0 1614.3L51.0 1651.7M54.0 1689.1L51.0 1689.1M52.0 1726.5L51.0 1726.5M51.0 1689.1L51.0 1726.5M51.0 1707.8L50.0 1707.8M54.0 1763.9L50.0 1763.9M50.0 1707.8L50.0 1763.9M51.0 1633.0L49.0 1633.0M50.0 1735.8L49.0 1735.8M49.0 1633.0L49.0 1735.8M58.0 1800.2L55.0 1800.2M58.0 1819.0L55.0 1819.0M55.0 1800.2L55.0 1819.0M58.0 1837.7L55.0 1837.7M58.0 1856.4L55.0 1856.4M55.0 1837.7L55.0 1856.4M58.0 1875.1L55.0 1875.1M58.0 1893.8L55.0 1893.8M55.0 1875.1L55.0 1893.8M55.0 1809.6L53.0 1809.6M55.0 1847.0L53.0 1847.0M53.0 1809.6L53.0 1847.0M53.0 1828.3L52.0 1828.3M55.0 1884.4L52.0 1884.4M52.0 1828.3L52.0 1884.4M58.0 1920.8L56.0 1920.8M58.0 1939.5L56.0 1939.5M56.0 1920.8L56.0 1939.5M56.0 1930.1L54.5 1930.1M58.0 1958.2L54.5 1958.2M54.5 1930.1L54.5 1958.2M58.0 1976.9L56.0 1976.9M58.0 1995.6L56.0 1995.6M56.0 1976.9L56.0 1995.6M56.0 1986.2L54.5 1986.2M58.0 2014.2L54.5 2014.2M54.5 1986.2L54.5 2014.2M58.0 2033.0L56.0 2033.0M58.0 2051.7L56.0 2051.7M56.0 2033.0L56.0 2051.7M56.0 2042.3L54.5 2042.3M58.0 2070.3L54.5 2070.3M54.5 2042.3L54.5 2070.3M54.5 1944.1L53.0 1944.1M54.5 2000.2L53.0 2000.2M53.0 1944.1L53.0 2000.2M53.0 1972.2L52.0 1972.2M54.5 2056.3L52.0 2056.3M52.0 1972.2L52.0 2056.3M52.0 1856.3L45.5 1856.3M52.0 2014.2L45.5 2014.2M45.5 1856.3L45.5 2014.2M49.0 1684.4L40.0 1684.4M45.5 1935.3L40.0 1935.3M40.0 1684.4L40.0 1935.3" stroke="#111" stroke-width="1.3" fill="none"/>
<text x="550" y="2094.5" font-size="15.5" font-weight="bold">Time</text>
<text x="549" y="2110.5" font-size="15.5" font-weight="bold">(DPI)</text>
<text x="594.3" y="2094.5" font-size="15.5" font-weight="bold">Correlation</text>
<text x="594.3" y="2110.5" font-size="15.5" font-weight="bold">(rho)</text>
<rect x="549.4" y="2124.9" width="21" height="21.3" fill="#4DAF66"/>
<rect x="549.4" y="2146.2" width="21" height="21.3" fill="#6FC79A"/>
<rect x="549.4" y="2167.5" width="21" height="21.3" fill="#B3E6D9"/>
<rect x="549.4" y="2188.8" width="21" height="21.3" fill="#E9F6F5"/>
<rect x="549.4" y="2124.9" width="21" height="85.3" fill="none" stroke="#AAAAAA" stroke-width="1"/>
<text x="575.4" y="2141" font-size="15">6</text>
<text x="575.4" y="2174" font-size="15">3</text>
<text x="575.4" y="2205.5" font-size="15">0</text>
<defs><linearGradient id="rdylbu" x1="0" y1="0" x2="0" y2="1"><stop offset="0" stop-color="#D73027"/><stop offset="0.17" stop-color="#F46D43"/><stop offset="0.33" stop-color="#FDAE61"/><stop offset="0.5" stop-color="#FFFFBF"/><stop offset="0.67" stop-color="#E0F3F8"/><stop offset="0.83" stop-color="#91BFDB"/><stop offset="1" stop-color="#4575B4"/></linearGradient></defs>
<rect x="598.5" y="2124" width="22.3" height="86.2" fill="url(#rdylbu)"/>
<text x="623" y="2134" font-size="15">1</text>
<text x="623" y="2210.5" font-size="15">0.5</text>
<text x="682.8" y="1512.9" font-size="60" font-weight="bold">k</text>
<text x="772.9" y="1534.4" font-size="30.1">Mini-screen sample variation (PCA)</text>
<text x="900.4" y="1564.3" font-size="21.1" text-anchor="middle">Sample source</text>
<path d="M773.2 1563.2V1811.5M772.3 1810.7H1055.8" stroke="#000" stroke-width="1.9"/>
<path d="M768.2 1623.2H773.2" stroke="#000" stroke-width="1.6"/>
<text x="765.2" y="1630.4" font-size="20.3" text-anchor="end" fill="#4D4D4D">40</text>
<path d="M768.2 1693.1H773.2" stroke="#000" stroke-width="1.6"/>
<text x="765.2" y="1700.3" font-size="20.3" text-anchor="end" fill="#4D4D4D">0</text>
<path d="M768.2 1763H773.2" stroke="#000" stroke-width="1.6"/>
<text x="765.2" y="1770.2" font-size="20.3" text-anchor="end" fill="#4D4D4D">−40</text>
<path d="M801.7 1810.7V1816" stroke="#000" stroke-width="1.6"/>
<text x="801.7" y="1837.8" font-size="20.3" text-anchor="middle" fill="#4D4D4D">−200</text>
<path d="M886.4 1810.7V1816" stroke="#000" stroke-width="1.6"/>
<text x="886.4" y="1837.8" font-size="20.3" text-anchor="middle" fill="#4D4D4D">−100</text>
<path d="M971.5 1810.7V1816" stroke="#000" stroke-width="1.6"/>
<text x="971.5" y="1837.8" font-size="20.3" text-anchor="middle" fill="#4D4D4D">0</text>
<path d="M1055.8 1810.7V1816" stroke="#000" stroke-width="1.6"/>
<text x="1055.8" y="1837.8" font-size="20.3" text-anchor="middle" fill="#4D4D4D">100</text>
<text x="912" y="1859.8" font-size="19.6" text-anchor="middle">PC1</text>
<text x="733.1" y="1690.9" font-size="19.4" text-anchor="middle" transform="rotate(-90 733.1 1690.9)">PC2</text>
<circle cx="999.2" cy="1573.9" r="3.9" fill="#D94A43"/>
<circle cx="997.4" cy="1592.1" r="3.9" fill="#D94A43"/>
<circle cx="995.2" cy="1597.6" r="3.9" fill="#D94A43"/>
<circle cx="928.2" cy="1635.4" r="3.9" fill="#4A6DC4"/>
<circle cx="939.7" cy="1655.3" r="3.9" fill="#4A6DC4"/>
<circle cx="952.4" cy="1658.7" r="3.9" fill="#4A6DC4"/>
<circle cx="828.3" cy="1640.9" r="3.9" fill="#E0A83E"/>
<circle cx="862" cy="1693.5" r="3.9" fill="#E0A83E"/>
<circle cx="863.1" cy="1693.7" r="3.9" fill="#E0A83E"/>
<circle cx="1014.1" cy="1638.2" r="3.9" fill="#D94A43"/>
<circle cx="1011.9" cy="1643.8" r="3.9" fill="#D94A43"/>
<circle cx="1021.2" cy="1668.7" r="3.9" fill="#D94A43"/>
<circle cx="1007.9" cy="1684.9" r="3.9" fill="#4A6DC4"/>
<circle cx="1018.1" cy="1679.8" r="3.9" fill="#4A6DC4"/>
<circle cx="1026.7" cy="1682.4" r="3.9" fill="#D94A43"/>
<circle cx="1003" cy="1713.7" r="3.9" fill="#4A6DC4"/>
<circle cx="1003.4" cy="1716.4" r="3.9" fill="#4A6DC4"/>
<circle cx="971.9" cy="1743" r="3.9" fill="#D94A43"/>
<circle cx="1007.4" cy="1749" r="3.9" fill="#4A6DC4"/>
<circle cx="967.9" cy="1765.9" r="3.9" fill="#D94A43"/>
<circle cx="968.6" cy="1769.7" r="3.9" fill="#D94A43"/>
<circle cx="965.2" cy="1771.9" r="3.9" fill="#D94A43"/>
<circle cx="960.1" cy="1772.5" r="3.9" fill="#D94A43"/>
<circle cx="960.4" cy="1796.3" r="3.9" fill="#D94A43"/>
<circle cx="999.7" cy="1799.6" r="3.9" fill="#4A6DC4"/>
<rect x="781" y="1728.1" width="119.9" height="71.1" fill="#fff" stroke="#111" stroke-width="1.3"/>
<circle cx="792.2" cy="1744.1" r="4.6" fill="#D94A43"/>
<text x="800.3" y="1750.5" font-size="17.8">Donor-957</text>
<circle cx="792.2" cy="1764.3" r="4.6" fill="#4A6DC4"/>
<text x="800.3" y="1770.7" font-size="17.8">Donor-958</text>
<circle cx="792.2" cy="1784.5" r="4.6" fill="#E0A83E"/>
<text x="800.3" y="1790.9" font-size="17.8">Plasmid ctrl</text>
<text x="1261" y="1564.3" font-size="21.1" text-anchor="middle">Sample time</text>
<path d="M1112.8 1563.2V1811.5M1111.9 1810.7H1395.4" stroke="#000" stroke-width="1.9"/>
<path d="M1107.8 1623.2H1112.8" stroke="#000" stroke-width="1.6"/>
<text x="1104.8" y="1630.4" font-size="20.3" text-anchor="end" fill="#4D4D4D">40</text>
<path d="M1107.8 1693.1H1112.8" stroke="#000" stroke-width="1.6"/>
<text x="1104.8" y="1700.3" font-size="20.3" text-anchor="end" fill="#4D4D4D">0</text>
<path d="M1107.8 1763H1112.8" stroke="#000" stroke-width="1.6"/>
<text x="1104.8" y="1770.2" font-size="20.3" text-anchor="end" fill="#4D4D4D">−40</text>
<path d="M1141.3 1810.7V1816" stroke="#000" stroke-width="1.6"/>
<text x="1141.3" y="1837.8" font-size="20.3" text-anchor="middle" fill="#4D4D4D">−200</text>
<path d="M1226 1810.7V1816" stroke="#000" stroke-width="1.6"/>
<text x="1226" y="1837.8" font-size="20.3" text-anchor="middle" fill="#4D4D4D">−100</text>
<path d="M1311.1 1810.7V1816" stroke="#000" stroke-width="1.6"/>
<text x="1311.1" y="1837.8" font-size="20.3" text-anchor="middle" fill="#4D4D4D">0</text>
<path d="M1395.4 1810.7V1816" stroke="#000" stroke-width="1.6"/>
<text x="1395.4" y="1837.8" font-size="20.3" text-anchor="middle" fill="#4D4D4D">100</text>
<text x="1251.6" y="1859.8" font-size="19.6" text-anchor="middle">PC1</text>
<text x="1072.7" y="1690.9" font-size="19.4" text-anchor="middle" transform="rotate(-90 1072.7 1690.9)">PC2</text>
<circle cx="1338.8" cy="1573.9" r="3.9" fill="#D94A43"/>
<circle cx="1337" cy="1592.1" r="3.9" fill="#D94A43"/>
<circle cx="1334.8" cy="1597.6" r="3.9" fill="#D94A43"/>
<circle cx="1267.8" cy="1635.4" r="3.9" fill="#D94A43"/>
<circle cx="1279.3" cy="1655.3" r="3.9" fill="#D94A43"/>
<circle cx="1292" cy="1658.7" r="3.9" fill="#D94A43"/>
<circle cx="1167.9" cy="1640.9" r="3.9" fill="#D94A43"/>
<circle cx="1201.6" cy="1693.5" r="3.9" fill="#D94A43"/>
<circle cx="1202.7" cy="1693.7" r="3.9" fill="#D94A43"/>
<circle cx="1353.7" cy="1638.2" r="3.9" fill="#E0A83E"/>
<circle cx="1351.5" cy="1643.8" r="3.9" fill="#4A6DC4"/>
<circle cx="1360.8" cy="1668.7" r="3.9" fill="#4A6DC4"/>
<circle cx="1347.5" cy="1684.9" r="3.9" fill="#4A6DC4"/>
<circle cx="1357.7" cy="1679.8" r="3.9" fill="#E0A83E"/>
<circle cx="1366.3" cy="1682.4" r="3.9" fill="#E0A83E"/>
<circle cx="1342.6" cy="1713.7" r="3.9" fill="#E0A83E"/>
<circle cx="1343" cy="1716.4" r="3.9" fill="#4A6DC4"/>
<circle cx="1311.5" cy="1743" r="3.9" fill="#E0A83E"/>
<circle cx="1347" cy="1749" r="3.9" fill="#E0A83E"/>
<circle cx="1307.5" cy="1765.9" r="3.9" fill="#4A6DC4"/>
<circle cx="1308.2" cy="1769.7" r="3.9" fill="#4A6DC4"/>
<circle cx="1304.8" cy="1771.9" r="3.9" fill="#E0A83E"/>
<circle cx="1299.7" cy="1772.5" r="3.9" fill="#E0A83E"/>
<circle cx="1300" cy="1796.3" r="3.9" fill="#4A6DC4"/>
<circle cx="1339.3" cy="1799.6" r="3.9" fill="#4A6DC4"/>
<rect x="1120.6" y="1727.8" width="128.7" height="71.3" fill="#fff" stroke="#111" stroke-width="1.3"/>
<circle cx="1131.8" cy="1743.8" r="4.6" fill="#D94A43"/>
<text x="1139.9" y="1750.2" font-size="17.8">Pre-injection</text>
<circle cx="1131.8" cy="1764" r="4.6" fill="#4A6DC4"/>
<text x="1139.9" y="1770.4" font-size="17.8">3 DPI</text>
<circle cx="1131.8" cy="1784.2" r="4.6" fill="#E0A83E"/>
<text x="1139.9" y="1790.6" font-size="17.8">6 DPI</text>
<defs><linearGradient id="gO" x1="0" y1="1" x2="0" y2="0"><stop offset="0" stop-color="#E8853E" stop-opacity="0.8"/><stop offset="1" stop-color="#E8853E" stop-opacity="0.28"/></linearGradient><linearGradient id="gR" x1="0" y1="1" x2="0" y2="0"><stop offset="0" stop-color="#C0282E" stop-opacity="0.8"/><stop offset="1" stop-color="#C0282E" stop-opacity="0.28"/></linearGradient></defs>
<text x="1394" y="1512.9" font-size="60" font-weight="bold">l</text>
<text x="1455" y="1535" font-size="30.1">ORF library distribution across samples</text>
<rect x="1471.3" y="1635.1" width="20.4" height="94.7" fill="#ABABAB"/>
<rect x="1471.8" y="1629.1" width="19.4" height="6" fill="#ABABAB" fill-opacity="0.55"/>
<path d="M1481 1635h4M1482 1634h3M1472 1631h3M1486 1638h4M1475 1635h2M1479 1627h2" stroke="#ABABAB" stroke-width="1.3" fill="none"/>
<path d="M1481.5 1628.1V1665.2" stroke="#333" stroke-width="1.1"/>
<rect x="1473.6" y="1665.2" width="15.8" height="63.1" fill="#ABABAB" stroke="#333" stroke-width="1.1"/>
<path d="M1473.6 1694.2H1489.4" stroke="#333" stroke-width="2"/>
<rect x="1493.5" y="1635.1" width="20.4" height="94.7" fill="#ABABAB"/>
<rect x="1494" y="1629.1" width="19.4" height="6" fill="#ABABAB" fill-opacity="0.55"/>
<path d="M1509 1631h4M1506 1632h3M1495 1631h4M1504 1630h3M1494 1635h3M1502 1629h4" stroke="#ABABAB" stroke-width="1.3" fill="none"/>
<path d="M1503.7 1628.1V1665.2" stroke="#333" stroke-width="1.1"/>
<rect x="1495.8" y="1665.2" width="15.8" height="63.1" fill="#ABABAB" stroke="#333" stroke-width="1.1"/>
<path d="M1495.8 1695.2H1511.6" stroke="#333" stroke-width="2"/>
<rect x="1515.6" y="1635.1" width="20.4" height="94.7" fill="#ABABAB"/>
<rect x="1516.1" y="1629.1" width="19.4" height="6" fill="#ABABAB" fill-opacity="0.55"/>
<path d="M1523 1629h3M1531 1628h4M1518 1637h3M1532 1636h4M1527 1633h4M1524 1635h3" stroke="#ABABAB" stroke-width="1.3" fill="none"/>
<path d="M1525.8 1628.1V1665.2" stroke="#333" stroke-width="1.1"/>
<rect x="1517.9" y="1665.2" width="15.8" height="63.1" fill="#ABABAB" stroke="#333" stroke-width="1.1"/>
<path d="M1517.9 1694.2H1533.7" stroke="#333" stroke-width="2"/>
<rect x="1537.8" y="1612.1" width="20.4" height="117.7" fill="#EEF26E"/>
<rect x="1538.2" y="1608.1" width="19.4" height="4" fill="#EEF26E" fill-opacity="0.55"/>
<path d="M1553 1610h4M1554 1609h4M1555 1607h2M1541 1609h4M1555 1607h4M1548 1607h3" stroke="#EEF26E" stroke-width="1.3" fill="none"/>
<path d="M1548 1608.1V1656.2" stroke="#333" stroke-width="3.4"/>
<path d="M1548 1656.2V1699.2" stroke="#333" stroke-width="1.1"/>
<rect x="1540" y="1699.2" width="15.8" height="29.1" fill="#EEF26E" stroke="#333" stroke-width="1.1"/>
<path d="M1540 1724.3H1555.9" stroke="#333" stroke-width="2"/>
<rect x="1559.9" y="1613.1" width="20.4" height="116.7" fill="#EEF26E"/>
<rect x="1560.4" y="1609.1" width="19.4" height="4" fill="#EEF26E" fill-opacity="0.55"/>
<path d="M1561 1614h4M1577 1608h2M1574 1615h3M1563 1612h4M1573 1613h4M1561 1608h3" stroke="#EEF26E" stroke-width="1.3" fill="none"/>
<path d="M1570.1 1609.1V1660.2" stroke="#333" stroke-width="3.4"/>
<path d="M1570.1 1660.2V1700.2" stroke="#333" stroke-width="1.1"/>
<rect x="1562.2" y="1700.2" width="15.8" height="28.1" fill="#EEF26E" stroke="#333" stroke-width="1.1"/>
<path d="M1562.2 1725.8H1578" stroke="#333" stroke-width="2"/>
<rect x="1582" y="1620.1" width="20.4" height="109.7" fill="#EEF26E"/>
<rect x="1582.5" y="1614.1" width="19.4" height="6" fill="#EEF26E" fill-opacity="0.55"/>
<path d="M1598 1617h4M1586 1620h2M1582 1623h3M1591 1622h3M1599 1613h3M1587 1620h2" stroke="#EEF26E" stroke-width="1.3" fill="none"/>
<path d="M1592.2 1614.1V1674.2" stroke="#333" stroke-width="3.4"/>
<path d="M1592.2 1674.2V1706.3" stroke="#333" stroke-width="1.1"/>
<rect x="1584.3" y="1706.3" width="15.8" height="22" fill="#EEF26E" stroke="#333" stroke-width="1.1"/>
<path d="M1584.3 1723.3H1600.2" stroke="#333" stroke-width="2"/>
<rect x="1604.2" y="1620.1" width="20.4" height="109.7" fill="#EEF26E"/>
<rect x="1604.7" y="1616.1" width="19.4" height="4" fill="#EEF26E" fill-opacity="0.55"/>
<path d="M1611 1615h2M1613 1619h3M1615 1617h3M1615 1618h3M1613 1615h4M1617 1619h3" stroke="#EEF26E" stroke-width="1.3" fill="none"/>
<path d="M1614.4 1614.1V1679.2" stroke="#333" stroke-width="1.1"/>
<rect x="1606.5" y="1679.2" width="15.8" height="49.1" fill="#EEF26E" stroke="#333" stroke-width="1.1"/>
<path d="M1606.5 1709.3H1622.3" stroke="#333" stroke-width="2"/>
<rect x="1626.3" y="1622.1" width="20.4" height="107.7" fill="#EEF26E"/>
<rect x="1626.8" y="1618.1" width="19.4" height="4" fill="#EEF26E" fill-opacity="0.55"/>
<path d="M1627 1620h4M1636 1621h3M1637 1625h4M1627 1619h3M1634 1619h2M1632 1619h4" stroke="#EEF26E" stroke-width="1.3" fill="none"/>
<path d="M1636.5 1616.1V1677.2" stroke="#333" stroke-width="1.1"/>
<rect x="1628.6" y="1677.2" width="15.8" height="51.1" fill="#EEF26E" stroke="#333" stroke-width="1.1"/>
<path d="M1628.6 1706.3H1644.5" stroke="#333" stroke-width="2"/>
<rect x="1648.5" y="1622.1" width="20.4" height="107.7" fill="#EEF26E"/>
<rect x="1649" y="1618.1" width="19.4" height="4" fill="#EEF26E" fill-opacity="0.55"/>
<path d="M1660 1625h3M1653 1616h2M1659 1621h2M1655 1622h4M1655 1622h4M1654 1620h4" stroke="#EEF26E" stroke-width="1.3" fill="none"/>
<path d="M1658.7 1616.1V1677.2" stroke="#333" stroke-width="1.1"/>
<rect x="1650.8" y="1677.2" width="15.8" height="51.1" fill="#EEF26E" stroke="#333" stroke-width="1.1"/>
<path d="M1650.8 1705.3H1666.6" stroke="#333" stroke-width="2"/>
<rect x="1670.6" y="1683.2" width="20.4" height="46.6" fill="#E8853E"/>
<rect x="1671.1" y="1638.1" width="19.4" height="45.1" fill="url(#gO)"/>
<path d="M1682 1661h4M1682 1668h3M1681 1630h2M1675 1584h3M1672 1561h2M1681 1621h2M1671 1648h2M1685 1613h4M1677 1569h2M1681 1631h2M1680 1604h2M1682 1601h3M1671 1658h2M1679 1674h2M1680 1588h3M1683 1559h4M1684 1663h4M1680 1561h3M1686 1569h2M1675 1629h3M1680 1647h2M1678 1643h3M1673 1662h4M1671 1672h4M1687 1681h4M1688 1678h3" stroke="#E8853E" stroke-width="1.3" fill="none"/>
<path d="M1671 1710h2M1685 1692h2M1673 1721h2M1685 1720h3M1676 1711h3" stroke="#fff" stroke-width="1" fill="none" stroke-opacity="0.6"/>
<path d="M1680.8 1640.1V1723.3" stroke="#333" stroke-width="3.4"/>
<path d="M1680 1607h2M1680 1607h2M1680 1614h2M1680 1617h2M1680 1559h2M1680 1604h2" stroke="#333" stroke-width="1.6" fill="none"/>
<path d="M1680.8 1723.3V1724.8" stroke="#333" stroke-width="1.1"/>
<rect x="1672.9" y="1724.8" width="15.8" height="3.5" fill="#E8853E" stroke="#333" stroke-width="1.1"/>
<path d="M1672.9 1727.3H1688.8" stroke="#333" stroke-width="2"/>
<rect x="1692.8" y="1678.2" width="20.4" height="51.6" fill="#E8853E"/>
<rect x="1693.3" y="1617.1" width="19.4" height="61.1" fill="url(#gO)"/>
<path d="M1705 1678h4M1694 1586h3M1702 1638h2M1708 1615h3M1706 1640h4M1700 1620h2M1697 1665h3M1697 1574h4M1698 1676h2M1708 1587h3M1709 1636h4M1702 1571h4M1698 1672h4M1705 1629h4M1700 1664h4M1704 1644h4M1699 1628h3M1695 1616h2M1698 1636h4M1710 1673h3M1697 1588h2M1702 1612h2M1696 1570h2M1704 1617h3M1709 1635h4M1709 1642h3" stroke="#E8853E" stroke-width="1.3" fill="none"/>
<path d="M1708 1700h3M1702 1685h2M1697 1714h3M1708 1685h3M1704 1685h3" stroke="#fff" stroke-width="1" fill="none" stroke-opacity="0.6"/>
<path d="M1703 1617.1V1725.3" stroke="#333" stroke-width="3.4"/>
<path d="M1702 1569h2M1702 1600h2M1702 1603h2M1702 1574h2M1702 1606h2M1702 1586h2" stroke="#333" stroke-width="1.6" fill="none"/>
<path d="M1703 1725.3V1726.3" stroke="#333" stroke-width="1.1"/>
<rect x="1695.1" y="1726.3" width="15.8" height="2" fill="#E8853E" stroke="#333" stroke-width="1.1"/>
<path d="M1695.1 1727.8H1710.9" stroke="#333" stroke-width="2"/>
<rect x="1715" y="1683.2" width="20.4" height="46.6" fill="#E8853E"/>
<rect x="1715.5" y="1624.1" width="19.4" height="59.1" fill="url(#gO)"/>
<path d="M1730 1655h4M1727 1642h4M1731 1649h4M1732 1622h4M1729 1627h2M1731 1621h2M1728 1584h3M1719 1670h4M1717 1577h3M1716 1583h2M1716 1614h2M1729 1678h4M1731 1668h2M1728 1656h3M1721 1681h4M1726 1679h4M1717 1594h4M1716 1631h4M1724 1657h3M1727 1652h4M1723 1602h3M1731 1583h4M1731 1618h2M1724 1650h3M1716 1593h3M1728 1640h3" stroke="#E8853E" stroke-width="1.3" fill="none"/>
<path d="M1728 1695h2M1727 1693h3M1721 1713h3M1716 1718h3M1723 1713h3" stroke="#fff" stroke-width="1" fill="none" stroke-opacity="0.6"/>
<path d="M1725.2 1624.1V1726.3" stroke="#333" stroke-width="3.4"/>
<path d="M1724 1571h2M1724 1566h2M1724 1597h2M1724 1575h2M1724 1620h2M1724 1594h2" stroke="#333" stroke-width="1.6" fill="none"/>
<path d="M1725.2 1726.3V1727.8" stroke="#333" stroke-width="1.1"/>
<rect x="1717.2" y="1727.8" width="15.8" height="1.5" fill="#E8853E" stroke="#333" stroke-width="1.1"/>
<path d="M1717.2 1728.3H1733.1" stroke="#333" stroke-width="2"/>
<rect x="1737.1" y="1678.2" width="20.4" height="51.6" fill="#E8853E"/>
<rect x="1737.6" y="1609.1" width="19.4" height="69.1" fill="url(#gO)"/>
<rect x="1738.1" y="1609.1" width="18.4" height="29.1" fill="#E8853E" fill-opacity="0.5"/>
<path d="M1747 1603h3M1753 1586h2M1747 1630h2M1754 1593h4M1752 1636h2M1740 1587h3M1744 1618h3M1745 1620h3M1743 1622h4M1746 1596h2M1753 1629h4M1740 1608h3M1750 1605h2M1748 1666h4M1741 1624h3M1754 1571h3M1749 1659h2M1739 1646h3M1748 1608h3M1737 1644h4M1743 1655h3M1752 1606h3M1738 1608h2M1741 1568h3M1749 1664h2M1751 1656h4" stroke="#E8853E" stroke-width="1.3" fill="none"/>
<path d="M1741 1685h3M1746 1696h2M1753 1687h3M1750 1717h3M1746 1716h2" stroke="#fff" stroke-width="1" fill="none" stroke-opacity="0.6"/>
<path d="M1747.3 1609.1V1708.3" stroke="#333" stroke-width="3.4"/>
<path d="M1746 1602h2M1746 1592h2M1746 1602h2M1746 1608h2M1746 1605h2M1746 1602h2" stroke="#333" stroke-width="1.6" fill="none"/>
<path d="M1747.3 1708.3V1720.3" stroke="#333" stroke-width="1.1"/>
<rect x="1739.4" y="1720.3" width="15.8" height="8" fill="#E8853E" stroke="#333" stroke-width="1.1"/>
<path d="M1739.4 1726.3H1755.2" stroke="#333" stroke-width="2"/>
<rect x="1759.2" y="1678.2" width="20.4" height="51.6" fill="#E8853E"/>
<rect x="1759.8" y="1607.1" width="19.4" height="71.1" fill="url(#gO)"/>
<rect x="1760.2" y="1607.1" width="18.4" height="26.1" fill="#E8853E" fill-opacity="0.5"/>
<path d="M1760 1674h2M1771 1649h2M1766 1650h4M1763 1610h2M1762 1644h3M1761 1594h2M1764 1626h4M1775 1589h4M1764 1660h4M1765 1582h2M1776 1630h3M1760 1607h2M1760 1666h4M1775 1632h4M1768 1609h2M1776 1571h4M1770 1657h2M1764 1604h3M1766 1603h3M1775 1630h4M1772 1626h4M1775 1585h3M1763 1649h3M1764 1588h2M1770 1627h2M1768 1592h2" stroke="#E8853E" stroke-width="1.3" fill="none"/>
<path d="M1766 1680h2M1765 1709h3M1761 1694h2M1771 1679h2M1769 1723h2" stroke="#fff" stroke-width="1" fill="none" stroke-opacity="0.6"/>
<path d="M1769.5 1607.1V1723.3" stroke="#333" stroke-width="3.4"/>
<path d="M1768 1596h2M1768 1599h2M1768 1574h2M1768 1587h2M1768 1587h2M1768 1572h2" stroke="#333" stroke-width="1.6" fill="none"/>
<path d="M1769.5 1723.3V1724.8" stroke="#333" stroke-width="1.1"/>
<rect x="1761.5" y="1724.8" width="15.8" height="3.5" fill="#E8853E" stroke="#333" stroke-width="1.1"/>
<path d="M1761.5 1727.3H1777.4" stroke="#333" stroke-width="2"/>
<rect x="1781.4" y="1678.2" width="20.4" height="51.6" fill="#E8853E"/>
<rect x="1781.9" y="1618.1" width="19.4" height="60.1" fill="url(#gO)"/>
<path d="M1795 1625h3M1782 1641h2M1796 1591h2M1786 1621h3M1796 1654h3M1790 1613h3M1788 1586h3M1786 1582h2M1788 1598h2M1787 1678h2M1785 1602h3M1793 1575h4M1783 1631h3M1796 1663h3M1789 1664h4M1794 1659h3M1797 1665h2M1794 1597h3M1785 1601h3M1797 1599h3M1792 1596h3M1782 1621h4M1784 1617h4M1790 1675h2M1790 1666h3M1785 1650h3" stroke="#E8853E" stroke-width="1.3" fill="none"/>
<path d="M1786 1702h3M1795 1710h2M1797 1700h2M1784 1699h2M1784 1721h2" stroke="#fff" stroke-width="1" fill="none" stroke-opacity="0.6"/>
<path d="M1791.6 1618.1V1708.3" stroke="#333" stroke-width="3.4"/>
<path d="M1791 1573h2M1791 1582h2M1791 1602h2M1791 1574h2M1791 1601h2M1791 1593h2" stroke="#333" stroke-width="1.6" fill="none"/>
<path d="M1791.6 1708.3V1720.3" stroke="#333" stroke-width="1.1"/>
<rect x="1783.7" y="1720.3" width="15.8" height="8" fill="#E8853E" stroke="#333" stroke-width="1.1"/>
<path d="M1783.7 1726.3H1799.5" stroke="#333" stroke-width="2"/>
<rect x="1803.5" y="1678.2" width="20.4" height="51.6" fill="#E8853E"/>
<rect x="1804" y="1630.1" width="19.4" height="48.1" fill="url(#gO)"/>
<path d="M1808 1667h2M1814 1587h2M1808 1607h3M1816 1605h3M1804 1677h4M1817 1622h3M1816 1581h4M1817 1609h3M1804 1672h2M1805 1655h2M1813 1607h3M1821 1586h3M1815 1660h3M1806 1675h2M1817 1625h3M1808 1665h2M1814 1653h2M1812 1676h4M1814 1656h2M1814 1663h4M1817 1672h4M1811 1616h2M1812 1677h4M1811 1588h4M1815 1662h2M1804 1610h4" stroke="#E8853E" stroke-width="1.3" fill="none"/>
<path d="M1817 1684h3M1820 1692h3M1808 1702h3M1808 1698h2M1807 1680h2" stroke="#fff" stroke-width="1" fill="none" stroke-opacity="0.6"/>
<path d="M1813.8 1630.1V1710.3" stroke="#333" stroke-width="3.4"/>
<path d="M1813 1622h2M1813 1594h2M1813 1595h2M1813 1606h2M1813 1610h2M1813 1630h2" stroke="#333" stroke-width="1.6" fill="none"/>
<path d="M1813.8 1710.3V1721.3" stroke="#333" stroke-width="1.1"/>
<rect x="1805.8" y="1721.3" width="15.8" height="7" fill="#E8853E" stroke="#333" stroke-width="1.1"/>
<path d="M1805.8 1726.3H1821.7" stroke="#333" stroke-width="2"/>
<rect x="1825.7" y="1690.2" width="20.4" height="39.6" fill="#E8853E"/>
<rect x="1826.2" y="1596" width="19.4" height="94.2" fill="url(#gO)"/>
<rect x="1826.7" y="1596" width="18.4" height="27.1" fill="#E8853E" fill-opacity="0.5"/>
<path d="M1837 1673h3M1828 1629h3M1828 1641h2M1833 1617h2M1828 1688h4M1832 1662h4M1842 1592h2M1828 1655h4M1835 1684h3M1840 1595h4M1835 1621h4M1833 1593h2M1828 1661h3M1839 1654h3M1839 1620h3M1842 1609h3M1828 1611h2M1836 1596h3M1828 1636h3M1836 1652h4M1830 1625h2M1831 1636h4M1834 1595h4M1836 1592h4M1838 1591h3M1832 1625h4" stroke="#E8853E" stroke-width="1.3" fill="none"/>
<path d="M1827 1709h3M1827 1695h3M1829 1721h2M1827 1707h2M1833 1695h3" stroke="#fff" stroke-width="1" fill="none" stroke-opacity="0.6"/>
<path d="M1835.9 1596V1723.3" stroke="#333" stroke-width="3.4"/>
<path d="M1835 1596h2M1835 1593h2M1835 1593h2M1835 1593h2M1835 1590h2M1835 1591h2" stroke="#333" stroke-width="1.6" fill="none"/>
<path d="M1835.9 1723.3V1725.3" stroke="#333" stroke-width="1.1"/>
<rect x="1828" y="1725.3" width="15.8" height="3" fill="#E8853E" stroke="#333" stroke-width="1.1"/>
<path d="M1828 1727.3H1843.8" stroke="#333" stroke-width="2"/>
<rect x="1847.8" y="1683.2" width="20.4" height="46.6" fill="#C0282E"/>
<rect x="1848.3" y="1614.1" width="19.4" height="69.1" fill="url(#gR)"/>
<rect x="1848.8" y="1614.1" width="18.4" height="29.1" fill="#C0282E" fill-opacity="0.5"/>
<path d="M1853 1649h4M1848 1679h2M1855 1601h4M1861 1681h4M1854 1652h3M1852 1564h4M1857 1643h4M1850 1600h3M1850 1645h3M1855 1622h4M1856 1590h4M1850 1585h4M1858 1639h4M1853 1596h2M1863 1568h3M1861 1623h2M1853 1624h4M1849 1575h3M1863 1574h3M1859 1661h4M1857 1611h2M1852 1582h3M1862 1603h2M1855 1557h2M1865 1652h2M1854 1644h3" stroke="#C0282E" stroke-width="1.3" fill="none"/>
<path d="M1850 1687h3M1862 1711h2M1853 1713h2M1852 1709h2M1851 1713h3" stroke="#fff" stroke-width="1" fill="none" stroke-opacity="0.6"/>
<path d="M1858 1614.1V1720.3" stroke="#333" stroke-width="3.4"/>
<path d="M1857 1611h2M1857 1554h2M1857 1569h2M1857 1601h2M1857 1595h2M1857 1603h2" stroke="#333" stroke-width="1.6" fill="none"/>
<path d="M1858 1720.3V1722.3" stroke="#333" stroke-width="1.1"/>
<rect x="1850.1" y="1722.3" width="15.8" height="6" fill="#C0282E" stroke="#333" stroke-width="1.1"/>
<path d="M1850.1 1727.3H1866" stroke="#333" stroke-width="2"/>
<rect x="1870" y="1686.2" width="20.4" height="43.6" fill="#C0282E"/>
<rect x="1870.5" y="1621.1" width="19.4" height="65.1" fill="url(#gR)"/>
<path d="M1874 1655h2M1874 1596h2M1880 1585h4M1875 1675h4M1879 1681h2M1873 1685h3M1879 1659h4M1878 1654h4M1883 1646h3M1885 1659h3M1876 1665h3M1881 1667h2M1877 1626h3M1881 1664h3M1887 1573h4M1882 1581h3M1877 1665h2M1886 1577h3M1883 1650h2M1873 1662h2M1885 1674h2M1873 1599h3M1879 1588h3M1880 1627h3M1881 1639h2M1882 1610h3" stroke="#C0282E" stroke-width="1.3" fill="none"/>
<path d="M1876 1698h3M1879 1704h2M1881 1714h3M1883 1696h2M1872 1697h2" stroke="#fff" stroke-width="1" fill="none" stroke-opacity="0.6"/>
<path d="M1880.2 1621.1V1721.3" stroke="#333" stroke-width="3.4"/>
<path d="M1879 1606h2M1879 1590h2M1879 1555h2M1879 1599h2M1879 1569h2M1879 1610h2" stroke="#333" stroke-width="1.6" fill="none"/>
<path d="M1880.2 1721.3V1723.3" stroke="#333" stroke-width="1.1"/>
<rect x="1872.3" y="1723.3" width="15.8" height="5" fill="#C0282E" stroke="#333" stroke-width="1.1"/>
<path d="M1872.3 1727.3H1888.1" stroke="#333" stroke-width="2"/>
<rect x="1892.1" y="1686.2" width="20.4" height="43.6" fill="#C0282E"/>
<rect x="1892.6" y="1632.1" width="19.4" height="54.1" fill="url(#gR)"/>
<path d="M1901 1611h3M1905 1639h2M1900 1649h2M1902 1612h3M1893 1601h2M1896 1652h4M1909 1592h3M1899 1575h2M1905 1656h2M1895 1616h3M1901 1574h4M1902 1620h4M1895 1584h3M1908 1652h4M1894 1686h4M1900 1601h3M1897 1584h4M1897 1632h4M1893 1619h2M1909 1668h4M1899 1643h4M1904 1597h3M1900 1674h4M1896 1605h3M1898 1681h2M1903 1589h2" stroke="#C0282E" stroke-width="1.3" fill="none"/>
<path d="M1905 1705h2M1897 1688h2M1899 1719h2M1896 1704h3M1894 1705h3" stroke="#fff" stroke-width="1" fill="none" stroke-opacity="0.6"/>
<path d="M1902.3 1632.1V1725.3" stroke="#333" stroke-width="3.4"/>
<path d="M1901 1569h2M1901 1573h2M1901 1571h2M1901 1630h2M1901 1630h2M1901 1583h2" stroke="#333" stroke-width="1.6" fill="none"/>
<path d="M1902.3 1725.3V1726.3" stroke="#333" stroke-width="1.1"/>
<rect x="1894.4" y="1726.3" width="15.8" height="2" fill="#C0282E" stroke="#333" stroke-width="1.1"/>
<path d="M1894.4 1728.3H1910.2" stroke="#333" stroke-width="2"/>
<rect x="1914.3" y="1683.2" width="20.4" height="46.6" fill="#C0282E"/>
<rect x="1914.8" y="1608.1" width="19.4" height="75.2" fill="url(#gR)"/>
<rect x="1915.3" y="1608.1" width="18.4" height="20" fill="#C0282E" fill-opacity="0.5"/>
<path d="M1923 1645h3M1919 1657h3M1928 1587h4M1924 1595h4M1916 1634h4M1917 1598h3M1927 1627h4M1931 1671h2M1923 1619h3M1923 1656h3M1920 1633h2M1920 1589h4M1923 1594h4M1927 1574h4M1919 1676h2M1927 1652h2M1926 1582h2M1921 1606h4M1926 1659h4M1922 1589h4M1921 1640h2M1929 1592h2M1921 1615h3M1930 1673h4M1921 1607h2M1921 1582h2" stroke="#C0282E" stroke-width="1.3" fill="none"/>
<path d="M1916 1715h3M1923 1718h3M1921 1717h2M1926 1698h3M1919 1706h2" stroke="#fff" stroke-width="1" fill="none" stroke-opacity="0.6"/>
<path d="M1924.5 1608.1V1721.3" stroke="#333" stroke-width="3.4"/>
<path d="M1924 1597h2M1924 1607h2M1924 1567h2M1924 1594h2M1924 1591h2M1924 1566h2" stroke="#333" stroke-width="1.6" fill="none"/>
<path d="M1924.5 1721.3V1723.3" stroke="#333" stroke-width="1.1"/>
<rect x="1916.6" y="1723.3" width="15.8" height="5" fill="#C0282E" stroke="#333" stroke-width="1.1"/>
<path d="M1916.6 1727.3H1932.4" stroke="#333" stroke-width="2"/>
<rect x="1936.5" y="1683.2" width="20.4" height="46.6" fill="#C0282E"/>
<rect x="1937" y="1592" width="19.4" height="91.2" fill="url(#gR)"/>
<rect x="1937.5" y="1592" width="18.4" height="26.1" fill="#C0282E" fill-opacity="0.5"/>
<path d="M1952 1675h3M1953 1663h2M1942 1601h3M1946 1664h2M1945 1584h4M1953 1607h3M1938 1575h2M1939 1665h2M1952 1573h4M1944 1590h2M1941 1601h4M1940 1597h2M1948 1585h2M1943 1601h4M1947 1624h3M1946 1672h3M1942 1604h2M1938 1653h3M1944 1634h4M1945 1657h2M1950 1583h2M1939 1672h3M1943 1582h2M1943 1606h4M1937 1650h2M1945 1640h3" stroke="#C0282E" stroke-width="1.3" fill="none"/>
<path d="M1939 1698h3M1942 1704h2M1953 1696h2M1938 1693h2M1940 1719h2" stroke="#fff" stroke-width="1" fill="none" stroke-opacity="0.6"/>
<path d="M1946.7 1592V1719.3" stroke="#333" stroke-width="3.4"/>
<path d="M1946 1578h2M1946 1591h2M1946 1588h2M1946 1577h2M1946 1591h2M1946 1581h2" stroke="#333" stroke-width="1.6" fill="none"/>
<path d="M1946.7 1719.3V1720.3" stroke="#333" stroke-width="1.1"/>
<rect x="1938.8" y="1720.3" width="15.8" height="8" fill="#C0282E" stroke="#333" stroke-width="1.1"/>
<path d="M1938.8 1727.3H1954.6" stroke="#333" stroke-width="2"/>
<rect x="1958.6" y="1683.2" width="20.4" height="46.6" fill="#C0282E"/>
<rect x="1959.1" y="1612.1" width="19.4" height="71.1" fill="url(#gR)"/>
<rect x="1959.6" y="1612.1" width="18.4" height="21" fill="#C0282E" fill-opacity="0.5"/>
<path d="M1971 1603h4M1972 1587h4M1962 1611h2M1962 1614h2M1973 1607h3M1970 1646h3M1973 1631h3M1963 1601h3M1966 1619h4M1971 1646h2M1972 1659h4M1960 1600h3M1969 1582h3M1966 1615h2M1965 1676h4M1975 1597h3M1970 1593h4M1967 1587h4M1973 1648h3M1964 1627h3M1967 1609h4M1962 1633h3M1968 1674h3M1962 1612h2M1967 1615h2M1970 1600h2" stroke="#C0282E" stroke-width="1.3" fill="none"/>
<path d="M1968 1709h2M1964 1723h2M1966 1710h2M1973 1700h2M1966 1703h2" stroke="#fff" stroke-width="1" fill="none" stroke-opacity="0.6"/>
<path d="M1968.8 1612.1V1721.3" stroke="#333" stroke-width="3.4"/>
<path d="M1968 1612h2M1968 1590h2M1968 1584h2M1968 1599h2M1968 1589h2M1968 1589h2" stroke="#333" stroke-width="1.6" fill="none"/>
<path d="M1968.8 1721.3V1723.3" stroke="#333" stroke-width="1.1"/>
<rect x="1960.9" y="1723.3" width="15.8" height="5" fill="#C0282E" stroke="#333" stroke-width="1.1"/>
<path d="M1960.9 1727.3H1976.7" stroke="#333" stroke-width="2"/>
<rect x="1980.8" y="1686.2" width="20.4" height="43.6" fill="#C0282E"/>
<rect x="1981.2" y="1580" width="19.4" height="106.2" fill="url(#gR)"/>
<path d="M1987 1603h4M1992 1638h3M1988 1637h4M1994 1618h2M1988 1589h2M1998 1685h4M1982 1578h4M1985 1578h3M1997 1640h4M1997 1579h2M1981 1642h4M1998 1623h4M1987 1585h2M1984 1579h4M1985 1608h2M1983 1658h3M1994 1576h4M1988 1599h3M1988 1577h3M1991 1646h2M1983 1646h4M1987 1577h2M1995 1579h4M1992 1577h2M1987 1579h4M1986 1582h4" stroke="#C0282E" stroke-width="1.3" fill="none"/>
<path d="M1996 1723h3M1995 1722h3M1986 1710h2M1985 1689h3M1993 1698h3" stroke="#fff" stroke-width="1" fill="none" stroke-opacity="0.6"/>
<path d="M1991 1580V1722.3" stroke="#333" stroke-width="3.4"/>
<path d="M1990 1578h2M1990 1579h2M1990 1577h2M1990 1577h2M1990 1577h2M1990 1580h2" stroke="#333" stroke-width="1.6" fill="none"/>
<path d="M1991 1722.3V1724.3" stroke="#333" stroke-width="1.1"/>
<rect x="1983" y="1724.3" width="15.8" height="4" fill="#C0282E" stroke="#333" stroke-width="1.1"/>
<path d="M1983 1727.3H1998.9" stroke="#333" stroke-width="2"/>
<rect x="2002.9" y="1693.2" width="20.4" height="36.6" fill="#C0282E"/>
<rect x="2003.4" y="1592" width="19.4" height="101.2" fill="url(#gR)"/>
<rect x="2003.9" y="1592" width="18.4" height="31.1" fill="#C0282E" fill-opacity="0.5"/>
<path d="M2013 1592h3M2010 1687h4M2008 1592h2M2019 1592h4M2020 1685h3M2016 1668h2M2018 1638h3M2016 1592h2M2014 1592h3M2020 1652h2M2006 1592h4M2006 1613h3M2006 1616h2M2019 1592h2M2017 1592h3M2004 1671h4M2008 1592h4M2011 1592h4M2018 1658h4M2007 1678h2M2018 1592h2M2014 1605h4M2004 1592h4M2003 1630h3M2018 1614h2M2013 1592h2" stroke="#C0282E" stroke-width="1.3" fill="none"/>
<path d="M2011 1697h3M2003 1712h2M2012 1697h2M2004 1695h2M2016 1718h3" stroke="#fff" stroke-width="1" fill="none" stroke-opacity="0.6"/>
<path d="M2013.1 1592V1726.3" stroke="#333" stroke-width="3.4"/>
<path d="M2013.1 1726.3V1727.3" stroke="#333" stroke-width="1.1"/>
<rect x="2005.2" y="1727.3" width="15.8" height="1.5" fill="#C0282E" stroke="#333" stroke-width="1.1"/>
<path d="M2005.2 1728.3H2021" stroke="#333" stroke-width="2"/>
<path d="M1468.6 1543.2V1738.1M1467.9 1737.3H2026.3" stroke="#000" stroke-width="1.5"/>
<path d="M1464.6 1728.3H1468.6" stroke="#000" stroke-width="1.3"/>
<text x="1462.6" y="1733.8" font-size="15.5" text-anchor="end" fill="#222">0</text>
<path d="M1464.6 1678.2H1468.6" stroke="#000" stroke-width="1.3"/>
<text x="1462.6" y="1683.7" font-size="15.5" text-anchor="end" fill="#222">5</text>
<path d="M1464.6 1628.1H1468.6" stroke="#000" stroke-width="1.3"/>
<text x="1462.6" y="1633.6" font-size="15.5" text-anchor="end" fill="#222">10</text>
<path d="M1464.6 1578H1468.6" stroke="#000" stroke-width="1.3"/>
<text x="1462.6" y="1583.5" font-size="15.5" text-anchor="end" fill="#222">15</text>
<path d="M1481.5 1737.3V1741.3" stroke="#000" stroke-width="1.3"/>
<text x="1486.7" y="1744.6" font-size="14.5" text-anchor="end" transform="rotate(-90 1486.7 1744.6)">ctrl_plasmid_t0_r3</text>
<path d="M1503.7 1737.3V1741.3" stroke="#000" stroke-width="1.3"/>
<text x="1508.9" y="1744.6" font-size="14.5" text-anchor="end" transform="rotate(-90 1508.9 1744.6)">ctrl_plasmid_t0_r2</text>
<path d="M1525.8 1737.3V1741.3" stroke="#000" stroke-width="1.3"/>
<text x="1531" y="1744.6" font-size="14.5" text-anchor="end" transform="rotate(-90 1531 1744.6)">ctrl_plasmid_t0_r1</text>
<path d="M1548 1737.3V1741.3" stroke="#000" stroke-width="1.3"/>
<text x="1553.2" y="1744.6" font-size="14.5" text-anchor="end" transform="rotate(-90 1553.2 1744.6)">nk_d957_t0_r2</text>
<path d="M1570.1 1737.3V1741.3" stroke="#000" stroke-width="1.3"/>
<text x="1575.3" y="1744.6" font-size="14.5" text-anchor="end" transform="rotate(-90 1575.3 1744.6)">nk_d957_t0_r3</text>
<path d="M1592.2 1737.3V1741.3" stroke="#000" stroke-width="1.3"/>
<text x="1597.5" y="1744.6" font-size="14.5" text-anchor="end" transform="rotate(-90 1597.5 1744.6)">nk_d957_t0_r1</text>
<path d="M1614.4 1737.3V1741.3" stroke="#000" stroke-width="1.3"/>
<text x="1619.6" y="1744.6" font-size="14.5" text-anchor="end" transform="rotate(-90 1619.6 1744.6)">nk_d958_t0_r1</text>
<path d="M1636.5 1737.3V1741.3" stroke="#000" stroke-width="1.3"/>
<text x="1641.8" y="1744.6" font-size="14.5" text-anchor="end" transform="rotate(-90 1641.8 1744.6)">nk_d958_t0_r3</text>
<path d="M1658.7 1737.3V1741.3" stroke="#000" stroke-width="1.3"/>
<text x="1663.9" y="1744.6" font-size="14.5" text-anchor="end" transform="rotate(-90 1663.9 1744.6)">nk_d958_t0_r2</text>
<path d="M1680.8 1737.3V1741.3" stroke="#000" stroke-width="1.3"/>
<text x="1686" y="1744.6" font-size="14.5" text-anchor="end" transform="rotate(-90 1686 1744.6)">nk_d957_t3_r4</text>
<path d="M1703 1737.3V1741.3" stroke="#000" stroke-width="1.3"/>
<text x="1708.2" y="1744.6" font-size="14.5" text-anchor="end" transform="rotate(-90 1708.2 1744.6)">nk_d958_t3_r2</text>
<path d="M1725.2 1737.3V1741.3" stroke="#000" stroke-width="1.3"/>
<text x="1730.4" y="1744.6" font-size="14.5" text-anchor="end" transform="rotate(-90 1730.4 1744.6)">nk_d957_t3_r5</text>
<path d="M1747.3 1737.3V1741.3" stroke="#000" stroke-width="1.3"/>
<text x="1752.5" y="1744.6" font-size="14.5" text-anchor="end" transform="rotate(-90 1752.5 1744.6)">nk_d957_t3_r1</text>
<path d="M1769.5 1737.3V1741.3" stroke="#000" stroke-width="1.3"/>
<text x="1774.7" y="1744.6" font-size="14.5" text-anchor="end" transform="rotate(-90 1774.7 1744.6)">nk_d958_t3_r1</text>
<path d="M1791.6 1737.3V1741.3" stroke="#000" stroke-width="1.3"/>
<text x="1796.8" y="1744.6" font-size="14.5" text-anchor="end" transform="rotate(-90 1796.8 1744.6)">nk_d957_t3_r3</text>
<path d="M1813.8 1737.3V1741.3" stroke="#000" stroke-width="1.3"/>
<text x="1819" y="1744.6" font-size="14.5" text-anchor="end" transform="rotate(-90 1819 1744.6)">nk_d957_t3_r2</text>
<path d="M1835.9 1737.3V1741.3" stroke="#000" stroke-width="1.3"/>
<text x="1841.1" y="1744.6" font-size="14.5" text-anchor="end" transform="rotate(-90 1841.1 1744.6)">nk_d958_t3_r3</text>
<path d="M1858 1737.3V1741.3" stroke="#000" stroke-width="1.3"/>
<text x="1863.2" y="1744.6" font-size="14.5" text-anchor="end" transform="rotate(-90 1863.2 1744.6)">nk_d957_t6_r2</text>
<path d="M1880.2 1737.3V1741.3" stroke="#000" stroke-width="1.3"/>
<text x="1885.4" y="1744.6" font-size="14.5" text-anchor="end" transform="rotate(-90 1885.4 1744.6)">nk_d957_t6_r1</text>
<path d="M1902.3 1737.3V1741.3" stroke="#000" stroke-width="1.3"/>
<text x="1907.5" y="1744.6" font-size="14.5" text-anchor="end" transform="rotate(-90 1907.5 1744.6)">nk_d957_t6_r4</text>
<path d="M1924.5 1737.3V1741.3" stroke="#000" stroke-width="1.3"/>
<text x="1929.7" y="1744.6" font-size="14.5" text-anchor="end" transform="rotate(-90 1929.7 1744.6)">nk_d958_t6_r1</text>
<path d="M1946.7 1737.3V1741.3" stroke="#000" stroke-width="1.3"/>
<text x="1951.9" y="1744.6" font-size="14.5" text-anchor="end" transform="rotate(-90 1951.9 1744.6)">nk_d957_t6_r3</text>
<path d="M1968.8 1737.3V1741.3" stroke="#000" stroke-width="1.3"/>
<text x="1974" y="1744.6" font-size="14.5" text-anchor="end" transform="rotate(-90 1974 1744.6)">nk_d958_t6_r3</text>
<path d="M1991 1737.3V1741.3" stroke="#000" stroke-width="1.3"/>
<text x="1996.2" y="1744.6" font-size="14.5" text-anchor="end" transform="rotate(-90 1996.2 1744.6)">nk_d958_t6_r2</text>
<path d="M2013.1 1737.3V1741.3" stroke="#000" stroke-width="1.3"/>
<text x="2018.3" y="1744.6" font-size="14.5" text-anchor="end" transform="rotate(-90 2018.3 1744.6)">nk_d957_t6_r5</text>
<text x="1438" y="1650.1" font-size="16.5" text-anchor="middle" transform="rotate(-90 1438 1650.1)">UMI counts (log−norm)</text>
<rect x="1475.1" y="1544.8" width="98.1" height="55.5" fill="#fff" stroke="#222" stroke-width="1.2"/>
<text x="1487" y="1572.5" font-size="10.5" text-anchor="middle" transform="rotate(-90 1487 1572.5)">Samp. type</text>
<path d="M1506.3 1548.7V1560.7" stroke="#333" stroke-width="1"/>
<rect x="1500" y="1550.9" width="12.7" height="7.6" fill="#ABABAB" stroke="#333" stroke-width="1"/>
<path d="M1500 1554.7H1512.7" stroke="#333" stroke-width="1"/>
<text x="1518.7" y="1559.4" font-size="13.4">Plasmid</text>
<path d="M1506.3 1561.2V1573.2" stroke="#333" stroke-width="1"/>
<rect x="1500" y="1563.4" width="12.7" height="7.6" fill="#EEF26E" stroke="#333" stroke-width="1"/>
<path d="M1500 1567.2H1512.7" stroke="#333" stroke-width="1"/>
<text x="1518.7" y="1571.9" font-size="13.4">0-DPI</text>
<path d="M1506.3 1573.6V1585.6" stroke="#333" stroke-width="1"/>
<rect x="1500" y="1575.8" width="12.7" height="7.6" fill="#E8853E" stroke="#333" stroke-width="1"/>
<path d="M1500 1579.6H1512.7" stroke="#333" stroke-width="1"/>
<text x="1518.7" y="1584.3" font-size="13.4">3-DPI</text>
<path d="M1506.3 1586.1V1598.1" stroke="#333" stroke-width="1"/>
<rect x="1500" y="1588.3" width="12.7" height="7.6" fill="#C0282E" stroke="#333" stroke-width="1"/>
<path d="M1500 1592.1H1512.7" stroke="#333" stroke-width="1"/>
<text x="1518.7" y="1596.8" font-size="13.4">6-DPI</text>
<text x="683.6" y="1897" font-size="59" font-weight="bold">m</text>
<text x="725" y="1924" font-size="30">Mini-screen performance</text>
<text x="886" y="1947.9" font-size="18.1" text-anchor="middle">ECDF</text>
<path d="M827.4 2185.0 L828.0 2172.9 L829.1 2166.4 L832.0 2160.8 L837.6 2154.9 L846.9 2136.6 L856.2 2114.7 L863.7 2093.9 L868.3 2079.0 L872.0 2064.1 L876.7 2034.4 L881.3 2004.6 L886.0 1986.9 L891.6 1973.0 L899.0 1966.7 L908.3 1966.1 L923.2 1965.9" stroke="#ABABAB" stroke-width="3.8" fill="none" stroke-linejoin="round" stroke-linecap="round"/>
<path d="M827.4 2159.0 L828.0 2140.4 L829.8 2125.5 L833.0 2112.5 L839.5 2090.2 L848.8 2067.8 L858.1 2049.2 L867.4 2026.9 L876.7 2006.5 L886.0 1991.6 L895.3 1977.6 L902.7 1970.2 L913.9 1966.7 L926.9 1966.1" stroke="#EEF26E" stroke-width="3.8" fill="none" stroke-linejoin="round" stroke-linecap="round"/>
<path d="M827.6 2077.5 L828.0 2066.0 L829.3 2047.4 L831.7 2030.6 L834.8 2013.9 L838.6 2000.0 L845.1 1988.8 L854.4 1981.0 L867.4 1975.2 L886.0 1971.1 L904.6 1968.3 L923.2 1967.0 L941.8 1966.5 L962.2 1966.1" stroke="#E8853E" stroke-width="4.6" fill="none" stroke-linejoin="round" stroke-linecap="round"/>
<path d="M827.4 2077.1 L827.8 2066.0 L829.1 2045.5 L831.3 2028.8 L834.3 2013.0 L838.0 1999.4 L844.7 1988.2 L854.0 1980.6 L867.4 1974.8 L886.0 1971.1 L904.6 1968.3 L923.2 1967.0 L941.8 1966.5 L962.2 1966.1" stroke="#B3262A" stroke-width="4.6" fill="none" stroke-linejoin="round" stroke-linecap="round"/>
<path d="M820 1956.2V2195.1M819.2 2194.3H968.7" stroke="#000" stroke-width="1.6"/>
<path d="M815.5 1965.9H820" stroke="#000" stroke-width="1.4"/>
<text x="813.5" y="1972.4" font-size="18" text-anchor="end" fill="#4D4D4D">1.0</text>
<path d="M815.5 2030.3H820" stroke="#000" stroke-width="1.4"/>
<text x="813.5" y="2036.8" font-size="18" text-anchor="end" fill="#4D4D4D">0.8</text>
<path d="M815.5 2094.4H820" stroke="#000" stroke-width="1.4"/>
<text x="813.5" y="2100.9" font-size="18" text-anchor="end" fill="#4D4D4D">0.6</text>
<path d="M815.5 2158.6H820" stroke="#000" stroke-width="1.4"/>
<text x="813.5" y="2165.1" font-size="18" text-anchor="end" fill="#4D4D4D">0.4</text>
<path d="M826.5 2194.3V2198.8" stroke="#000" stroke-width="1.4"/>
<text x="826.5" y="2212.9" font-size="18" text-anchor="middle" fill="#4D4D4D">0</text>
<path d="M865 2194.3V2198.8" stroke="#000" stroke-width="1.4"/>
<text x="865" y="2212.9" font-size="18" text-anchor="middle" fill="#4D4D4D">5</text>
<path d="M903.6 2194.3V2198.8" stroke="#000" stroke-width="1.4"/>
<text x="903.6" y="2212.9" font-size="18" text-anchor="middle" fill="#4D4D4D">10</text>
<path d="M942.3 2194.3V2198.8" stroke="#000" stroke-width="1.4"/>
<text x="942.3" y="2212.9" font-size="18" text-anchor="middle" fill="#4D4D4D">15</text>
<text x="863.7" y="2227.8" font-size="18.5" text-anchor="middle">Gene counts (log−norm)</text>
<text x="761" y="2041.8" font-size="18.3" text-anchor="middle" transform="rotate(-90 761 2041.8)">Cumulative probability</text>
<rect x="894.3" y="2116.6" width="106.1" height="67.5" fill="#fff" stroke="#BBBBBB" stroke-width="1"/>
<text x="898" y="2129.8" font-size="11.2">Sample type</text>
<path d="M900 2138.5H915.7" stroke="#ABABAB" stroke-width="3.2"/>
<text x="918" y="2142.5" font-size="11.3">Plasmid</text>
<path d="M900 2150.6H915.7" stroke="#EEF26E" stroke-width="3.2"/>
<text x="918" y="2154.6" font-size="11.3">0-DPI</text>
<path d="M900 2162.7H915.7" stroke="#E8853E" stroke-width="3.2"/>
<text x="918" y="2166.7" font-size="11.3">3-DPI</text>
<path d="M900 2174.8H915.7" stroke="#B3262A" stroke-width="3.2"/>
<text x="918" y="2178.8" font-size="11.3">6-DPI</text>
<path d="M959.9 2138.9V2150.4M968.1 2138.9V2163M975.9 2138.9V2175.2M983.5 2151.4V2175.2M991.1 2163.9V2175.2" stroke="#444" stroke-width="1.1" fill="none"/>
<text x="956.7" y="2145.1" font-size="15" text-anchor="middle" font-weight="bold" transform="rotate(90 956.7 2145.1)">****</text>
<text x="964.7" y="2150.8" font-size="15" text-anchor="middle" font-weight="bold" transform="rotate(90 964.7 2150.8)">****</text>
<text x="972.5" y="2156.7" font-size="15" text-anchor="middle" font-weight="bold" transform="rotate(90 972.5 2156.7)">****</text>
<text x="980.3" y="2163.1" font-size="15" text-anchor="middle" font-weight="bold" transform="rotate(90 980.3 2163.1)">****</text>
<text x="988.2" y="2169.9" font-size="15" text-anchor="middle" font-weight="bold" transform="rotate(90 988.2 2169.9)">*</text>
<text x="1061.5" y="1897" font-size="59" font-weight="bold">n</text>
<text x="1108" y="1923.5" font-size="30.1">Mini-screen results (UMI-level)</text>
<text x="1302.5" y="1948.4" font-size="16" text-anchor="middle" textLength="237.8" lengthAdjust="spacingAndGlyphs">Screen selection (3-DPI vs 0-DPI)</text>
<path d="M1169.5 2037.5 L1182.9 2043.0 L1209.7 2060.5 L1222.4 2092.9 L1240.8 2118.6 L1251.4 2138.8 L1266.4 2182.0 L1254.0 2179.6 L1235.6 2174.3 L1209.3 2166.3 L1182.9 2161.1 L1153.7 2150.9 L1151.1 2087.5ZM1266.4 2182.0 L1277.8 2134.8 L1288.4 2068.6 L1296.4 2016.0 L1301.6 1968.7 L1326.3 1968.7 L1330.3 2029.5 L1319.9 2060.5 L1315.0 2092.9 L1318.3 2121.2 L1320.3 2134.8 L1342.3 2145.6 L1368.3 2150.9 L1394.3 2145.6 L1420.2 2140.2 L1442.2 2145.6 L1420.2 2150.9 L1394.3 2161.1 L1368.3 2171.2 L1315.2 2179.3 L1275.6 2182.0Z" stroke="#8C8C8C" stroke-width="3.2" fill="#B6B6B6" stroke-linejoin="round"/>
<path d="M1174 2043h0m5-2h0m1 3h0m9 4h0m10 6h0m11 1h0m2 11h0m4 10h0m3 6h0m10 16h0m5 12h0m3 6h0m6 5h0m2 8h0m4 8h0m3 12h0m6 13h0m5 7h0m2 9h0m-2 3h0m-3 0h0m-7-1h0m-8 1h0m-5-9h0m-12 2h0m-8 1h0m-4-2h0m-10-11h0m-14 6h0m-2-6h0m-11-3h0m-12 0h0m-10-8h0m-10-10h0m1-21h0m2-24h0m2-16h0m9-17h0m8-15h0m100 122h0m5-13h0m3-9h0m4-25h0m4-23h0m-3-18h0m7-28h0m2-11h0m4-15h0m1-21h0m6-15h0m-5-13h0m6-15h0m11 6h0m13-2h0m-1 12h0m4 15h0m1 20h0m-4 23h0m-5 12h0m1 8h0m-6 11h0m-2 11h0m-1 8h0m2 12h0m-1 14h0m4 1h0m1 9h0m1 7h0m2-1h0m6 7h0m1-3h0m9 10h0m7 2h0m9 3h0m9 0h0m11 2h0m5-5h0m7 2h0m15-3h0m1-3h0m12-2h0m11 3h0m9 3h0m1-3h0m6 0h0m-13 4h0m-4 1h0m-9 6h0m-12 3h0m-7 2h0m-9 3h0m-5 9h0m-11-1h0m-13 4h0m-16-2h0m-16 9h0m-15-6h0m-15 4h0m-9 3h0m-14 1h0m-2 1h0m0-2h0m48-40h0m76-88h0m-78 94h0m84-23h0m-5 22h0m-39-72h0m-10 51h0m36-12h0m18-35h0m-11 13h0m-55 1h0m32 18h0m-1 14h0m-30-50h0m13 67h0m50-34h0m-24 15h0m-43 0h0m56 5h0m6-3h0m-1 11h0m-37 4h0m-24-33h0m17-1h0m-12 19h0m9-49h0m-20 40h0m63-13h0m-49-36h0m-12 72h0m-7-25h0m69 13h0m-233-37h0m-5 64h0m15-6h0m-4-5h0m2-57h0m-4 47h0m5-35h0m-15 38h0m8-22h0m-2-12h0" stroke="#7A7A7A" stroke-width="6.6" stroke-linecap="round" fill="none"/>
<path d="M1174 2043h0m5-2h0m1 3h0m9 4h0m10 6h0m11 1h0m2 11h0m4 10h0m3 6h0m10 16h0m5 12h0m3 6h0m6 5h0m2 8h0m4 8h0m3 12h0m6 13h0m5 7h0m2 9h0m-2 3h0m-3 0h0m-7-1h0m-8 1h0m-5-9h0m-12 2h0m-8 1h0m-4-2h0m-10-11h0m-14 6h0m-2-6h0m-11-3h0m-12 0h0m-10-8h0m-10-10h0m1-21h0m2-24h0m2-16h0m9-17h0m8-15h0m100 122h0m5-13h0m3-9h0m4-25h0m4-23h0m-3-18h0m7-28h0m2-11h0m4-15h0m1-21h0m6-15h0m-5-13h0m6-15h0m11 6h0m13-2h0m-1 12h0m4 15h0m1 20h0m-4 23h0m-5 12h0m1 8h0m-6 11h0m-2 11h0m-1 8h0m2 12h0m-1 14h0m4 1h0m1 9h0m1 7h0m2-1h0m6 7h0m1-3h0m9 10h0m7 2h0m9 3h0m9 0h0m11 2h0m5-5h0m7 2h0m15-3h0m1-3h0m12-2h0m11 3h0m9 3h0m1-3h0m6 0h0m-13 4h0m-4 1h0m-9 6h0m-12 3h0m-7 2h0m-9 3h0m-5 9h0m-11-1h0m-13 4h0m-16-2h0m-16 9h0m-15-6h0m-15 4h0m-9 3h0m-14 1h0m-2 1h0m0-2h0m48-40h0m76-88h0m-78 94h0m84-23h0m-5 22h0m-39-72h0m-10 51h0m36-12h0m18-35h0m-11 13h0m-55 1h0m32 18h0m-1 14h0m-30-50h0m13 67h0m50-34h0m-24 15h0m-43 0h0m56 5h0m6-3h0m-1 11h0m-37 4h0m-24-33h0m17-1h0m-12 19h0m9-49h0m-20 40h0m63-13h0m-49-36h0m-12 72h0m-7-25h0m69 13h0m-233-37h0m-5 64h0m15-6h0m-4-5h0m2-57h0m-4 47h0m5-35h0m-15 38h0m8-22h0m-2-12h0" stroke="#B6B6B6" stroke-width="4.6" stroke-linecap="round" fill="none"/>
<path d="M1203 2153h0m-12-61h0m17 41h0m30 19h0m-37-25h0m-6 15h0m-4 9h0m20-21h0m-37-35h0m38 47h0m-2-9h0m12 17h0m-24-53h0m-12 55h0m4-13h0m25-5h0m-8-16h0m-11 14h0m21-5h0m-29 24h0m1-4h0m28-10h0m-14 7h0m-12-17h0m33 39h0m-1-21h0m-39-36h0m15 46h0m20-36h0m-30-20h0m-6-9h0m43 58h0m-37-30h0m23-9h0m-31-17h0m28 41h0m2 14h0m-17-50h0m24 22h0m16 25h0m-8 2h0m11-7h0m-13 5h0m-34-41h0m5-2h0m3 0h0m18 29h0m-33-17h0m50 34h0m4 14h0m-41-42h0m0 32h0m-15-10h0m36-22h0m37 48h0m-81-77h0m28 25h0m6-11h0m-9 44h0m-4-42h0m18 53h0m-9-38h0m1-2h0m37 27h0m-61-43h0m36 21h0m-34-6h0m46 23h0m-35-35h0m14-1h0m30 33h0m-37 16h0m35 2h0m-12-33h0m-13 3h0m20 10h0m-15-20h0m24 33h0m-48-58h0m32 32h0m21 24h0m-55-34h0m-3 12h0m2-19h0m12 2h0m-24 2h0m43 54h0m-18-34h0m18-5h0m-40-10h0m2 23h0m-6-8h0m35 13h0m35 5h0m-28-34h0m-40 17h0m19-28h0m-8-12h0m7 19h0m37 41h0m-15-36h0m-21 9h0m1 34h0m19-40h0m-26 9h0m23 28h0m-1-23h0m-7-30h0m-14 37h0m63 27h0m-33-21h0m-33 1h0m-3-6h0m26-17h0m29 23h0m-23-23h0m-44 13h0m75 22h0m-22 4h0m-30-46h0m-15 16h0m42 6h0m-27-35h0m27 18h0m-27-8h0m24 8h0m4 36h0m6 6h0m-12-31h0m28 21h0m-50-8h0m-3 2h0m4-23h0m6-21h0m2 7h0m2 46h0m-4-44h0m-25-11h0m4 9h0m58 51h0m-15-5h0m-28-61h0m31 48h0m-40-10h0m16 17h0m26-8h0m-43-3h0m12-16h0m-20-5h0m67 51h0m-54-22h0m-7-58h0m54 52h0m-38-7h0m32 10h0m-12-23h0m-12 1h0m-33 13h0m67 12h0m-51-23h0m0-6h0m-13 19h0m56 13h0m-50-46h0m4-14h0m29 38h0m-39-41h0m40 33h0m-24 28h0m-3 3h0m-7-31h0m38 46h0m-50-25h0m0-8h0m15 18h0m9-24h0m-13-5h0m45 29h0m-54-52h0m57 40h0m-59-35h0m52 59h0m-37-27h0m59 20h0m-53-4h0m3-52h0m7 44h0m27-12h0m-25 0h0m15-4h0m-42-34h0m46 42h0m-38-6h0m46 19h0m-38-23h0m-17 13h0m55-1h0m-44-35h0m8 54h0m-23-29h0m3-40h0m17 64h0m-7-33h0m42 25h0m-46 7h0m27-36h0m3 25h0m2-7h0m20 2h0m-48 0h0m35 19h0m-13-22h0m-27 5h0m-3 3h0m61 8h0m-45-6h0m16 14h0m-38-21h0m19 15h0m46-1h0m-57-45h0m36 37h0m-29-27h0m1-10h0m16 5h0m-9-2h0m0 25h0m-11-1h0m32-10h0m15 28h0m-19-18h0m-32-30h0m27 38h0m3 0h0m-7 15h0m-1-32h0m40 24h0m-66-62h0m-4 51h0m30 16h0m-6-12h0m-12-49h0m11 22h0m10 21h0m12 9h0m-41-44h0m27 59h0m-10-32h0m1 15h0m-2-23h0m-17-20h0m33 36h0m34 11h0m-65-23h0m6 13h0m55 18h0m-63-69h0m45 77h0m36 11h0m-78-41h0m64 34h0m-8-20h0m-3 18h0m-42-27h0m50 9h0m-27-26h0m-6-10h0m24 46h0m2 3h0m0-9h0m-6-8h0m3-2h0m-24 6h0m-12-41h0m-16 1h0m50 50h0m-2 13h0m20-10h0m-36-34h0m13 35h0m23 0h0m-42-39h0m37 24h0m-32-38h0m7 10h0m-15 6h0m2-22h0m-12 48h0m-10 0h0m48 16h0m-23-56h0m3 17h0m40 46h0m-60-34h0m39 26h0m-18-41h0m-32 22h0m0-54h0m47 63h0m-3-10h0m97-167h0m-19 124h0m14-25h0m3-46h0m1 39h0m-10 23h0m15-109h0m-8 95h0m-5-58h0m3 72h0m-9 5h0m-3-32h0m14 54h0m-4 3h0m-14 47h0m9-99h0m20-84h0m-28 126h0m24-122h0m-21 79h0m4 100h0m7-133h0m-10 69h0m3-7h0m4-47h0m-8 53h0m20-63h0m-12 93h0m-3-90h0m4 100h0m-14-3h0m12 12h0m-11-57h0m9 20h0m-4-38h0m17-74h0m-17 113h0m-7 4h0m12-70h0m12-10h0m-17 67h0m4-9h0m-7 62h0m-1-52h0m21-102h0m-18 68h0m10-47h0m8-30h0m-9 126h0m-2-69h0m3-40h0m-17 127h0m13-92h0m-13 90h0m16-121h0m13-17h0m-14 8h0m10-24h0m4 19h0m-19 103h0m8-113h0m-19 156h0m13-89h0m1-77h0m5 108h0m6-41h0m1-9h0m6-62h0m-16 72h0m-5 14h0m1 54h0m1-36h0m6 69h0m-6-49h0m2-3h0m15-84h0m-3 34h0m-14 47h0m10 5h0m-19 41h0m12-125h0m-10 138h0m9-78h0m-6 45h0m-3-11h0m5-43h0m8 62h0m2-136h0m-12 70h0m-1 100h0m8-181h0m5 95h0m-12 87h0m8-49h0m13-110h0m-17 9h0m7 24h0m-13 70h0m7-34h0m10 13h0m-5 34h0m-5 17h0m-1-58h0m-4-7h0m1 50h0m8 6h0m4-98h0m-9-1h0m-14 134h0m24-170h0m-2-18h0m-4 115h0m4-90h0m-8 71h0m7 48h0m2-131h0m-5 150h0m4-63h0m-15 9h0m7-65h0m38 131h0m-15 20h0m78-22h0m3 0h0m-70-4h0m-17 5h0m78 0h0m-38 14h0m51-22h0m10-1h0m-103 14h0m9 18h0m9-10h0m36-8h0m-42 14h0m-13-6h0m87-12h0m13-7h0m-94 19h0m34-8h0m-39-16h0m74 8h0m-25 19h0m51-21h0m-83 19h0m13-10h0m36 5h0m-48 7h0m56-17h0m-74 26h0m-1-4h0m25-20h0m-12 20h0m20-20h0m-10 21h0m25-14h0m-46-3h0m46 7h0m-2 2h0m43-18h0m-30 6h0m34-5h0m-83 20h0m26-4h0m29-13h0m-65-1h0m40 2h0m58-6h0m-71 12h0m-23 11h0m4-26h0m41 22h0m-43 2h0m33-5h0m-30 12h0" stroke="#3A55A0" stroke-width="6.3" stroke-linecap="round" fill="none"/>
<path d="M1203 2153h0m-12-61h0m17 41h0m30 19h0m-37-25h0m-6 15h0m-4 9h0m20-21h0m-37-35h0m38 47h0m-2-9h0m12 17h0m-24-53h0m-12 55h0m4-13h0m25-5h0m-8-16h0m-11 14h0m21-5h0m-29 24h0m1-4h0m28-10h0m-14 7h0m-12-17h0m33 39h0m-1-21h0m-39-36h0m15 46h0m20-36h0m-30-20h0m-6-9h0m43 58h0m-37-30h0m23-9h0m-31-17h0m28 41h0m2 14h0m-17-50h0m24 22h0m16 25h0m-8 2h0m11-7h0m-13 5h0m-34-41h0m5-2h0m3 0h0m18 29h0m-33-17h0m50 34h0m4 14h0m-41-42h0m0 32h0m-15-10h0m36-22h0m37 48h0m-81-77h0m28 25h0m6-11h0m-9 44h0m-4-42h0m18 53h0m-9-38h0m1-2h0m37 27h0m-61-43h0m36 21h0m-34-6h0m46 23h0m-35-35h0m14-1h0m30 33h0m-37 16h0m35 2h0m-12-33h0m-13 3h0m20 10h0m-15-20h0m24 33h0m-48-58h0m32 32h0m21 24h0m-55-34h0m-3 12h0m2-19h0m12 2h0m-24 2h0m43 54h0m-18-34h0m18-5h0m-40-10h0m2 23h0m-6-8h0m35 13h0m35 5h0m-28-34h0m-40 17h0m19-28h0m-8-12h0m7 19h0m37 41h0m-15-36h0m-21 9h0m1 34h0m19-40h0m-26 9h0m23 28h0m-1-23h0m-7-30h0m-14 37h0m63 27h0m-33-21h0m-33 1h0m-3-6h0m26-17h0m29 23h0m-23-23h0m-44 13h0m75 22h0m-22 4h0m-30-46h0m-15 16h0m42 6h0m-27-35h0m27 18h0m-27-8h0m24 8h0m4 36h0m6 6h0m-12-31h0m28 21h0m-50-8h0m-3 2h0m4-23h0m6-21h0m2 7h0m2 46h0m-4-44h0m-25-11h0m4 9h0m58 51h0m-15-5h0m-28-61h0m31 48h0m-40-10h0m16 17h0m26-8h0m-43-3h0m12-16h0m-20-5h0m67 51h0m-54-22h0m-7-58h0m54 52h0m-38-7h0m32 10h0m-12-23h0m-12 1h0m-33 13h0m67 12h0m-51-23h0m0-6h0m-13 19h0m56 13h0m-50-46h0m4-14h0m29 38h0m-39-41h0m40 33h0m-24 28h0m-3 3h0m-7-31h0m38 46h0m-50-25h0m0-8h0m15 18h0m9-24h0m-13-5h0m45 29h0m-54-52h0m57 40h0m-59-35h0m52 59h0m-37-27h0m59 20h0m-53-4h0m3-52h0m7 44h0m27-12h0m-25 0h0m15-4h0m-42-34h0m46 42h0m-38-6h0m46 19h0m-38-23h0m-17 13h0m55-1h0m-44-35h0m8 54h0m-23-29h0m3-40h0m17 64h0m-7-33h0m42 25h0m-46 7h0m27-36h0m3 25h0m2-7h0m20 2h0m-48 0h0m35 19h0m-13-22h0m-27 5h0m-3 3h0m61 8h0m-45-6h0m16 14h0m-38-21h0m19 15h0m46-1h0m-57-45h0m36 37h0m-29-27h0m1-10h0m16 5h0m-9-2h0m0 25h0m-11-1h0m32-10h0m15 28h0m-19-18h0m-32-30h0m27 38h0m3 0h0m-7 15h0m-1-32h0m40 24h0m-66-62h0m-4 51h0m30 16h0m-6-12h0m-12-49h0m11 22h0m10 21h0m12 9h0m-41-44h0m27 59h0m-10-32h0m1 15h0m-2-23h0m-17-20h0m33 36h0m34 11h0m-65-23h0m6 13h0m55 18h0m-63-69h0m45 77h0m36 11h0m-78-41h0m64 34h0m-8-20h0m-3 18h0m-42-27h0m50 9h0m-27-26h0m-6-10h0m24 46h0m2 3h0m0-9h0m-6-8h0m3-2h0m-24 6h0m-12-41h0m-16 1h0m50 50h0m-2 13h0m20-10h0m-36-34h0m13 35h0m23 0h0m-42-39h0m37 24h0m-32-38h0m7 10h0m-15 6h0m2-22h0m-12 48h0m-10 0h0m48 16h0m-23-56h0m3 17h0m40 46h0m-60-34h0m39 26h0m-18-41h0m-32 22h0m0-54h0m47 63h0m-3-10h0m97-167h0m-19 124h0m14-25h0m3-46h0m1 39h0m-10 23h0m15-109h0m-8 95h0m-5-58h0m3 72h0m-9 5h0m-3-32h0m14 54h0m-4 3h0m-14 47h0m9-99h0m20-84h0m-28 126h0m24-122h0m-21 79h0m4 100h0m7-133h0m-10 69h0m3-7h0m4-47h0m-8 53h0m20-63h0m-12 93h0m-3-90h0m4 100h0m-14-3h0m12 12h0m-11-57h0m9 20h0m-4-38h0m17-74h0m-17 113h0m-7 4h0m12-70h0m12-10h0m-17 67h0m4-9h0m-7 62h0m-1-52h0m21-102h0m-18 68h0m10-47h0m8-30h0m-9 126h0m-2-69h0m3-40h0m-17 127h0m13-92h0m-13 90h0m16-121h0m13-17h0m-14 8h0m10-24h0m4 19h0m-19 103h0m8-113h0m-19 156h0m13-89h0m1-77h0m5 108h0m6-41h0m1-9h0m6-62h0m-16 72h0m-5 14h0m1 54h0m1-36h0m6 69h0m-6-49h0m2-3h0m15-84h0m-3 34h0m-14 47h0m10 5h0m-19 41h0m12-125h0m-10 138h0m9-78h0m-6 45h0m-3-11h0m5-43h0m8 62h0m2-136h0m-12 70h0m-1 100h0m8-181h0m5 95h0m-12 87h0m8-49h0m13-110h0m-17 9h0m7 24h0m-13 70h0m7-34h0m10 13h0m-5 34h0m-5 17h0m-1-58h0m-4-7h0m1 50h0m8 6h0m4-98h0m-9-1h0m-14 134h0m24-170h0m-2-18h0m-4 115h0m4-90h0m-8 71h0m7 48h0m2-131h0m-5 150h0m4-63h0m-15 9h0m7-65h0m38 131h0m-15 20h0m78-22h0m3 0h0m-70-4h0m-17 5h0m78 0h0m-38 14h0m51-22h0m10-1h0m-103 14h0m9 18h0m9-10h0m36-8h0m-42 14h0m-13-6h0m87-12h0m13-7h0m-94 19h0m34-8h0m-39-16h0m74 8h0m-25 19h0m51-21h0m-83 19h0m13-10h0m36 5h0m-48 7h0m56-17h0m-74 26h0m-1-4h0m25-20h0m-12 20h0m20-20h0m-10 21h0m25-14h0m-46-3h0m46 7h0m-2 2h0m43-18h0m-30 6h0m34-5h0m-83 20h0m26-4h0m29-13h0m-65-1h0m40 2h0m58-6h0m-71 12h0m-23 11h0m4-26h0m41 22h0m-43 2h0m33-5h0m-30 12h0" stroke="#4F6FC6" stroke-width="4.7" stroke-linecap="round" fill="none"/>
<path d="M1290 2093h0m3 7h0m-6 20h0m7-47h0m-13 72h0m10-77h0m-6 55h0m-1 7h0m4-35h0m0-7h0m-2 51h0m7-44h0m-10 31h0m7-53h0m6-5h0m-2 17h0m0-17h0m-6 54h0m5-22h0m-13 43h0m2 12h0m6-43h0m2-43h0m-11 101h0m8-71h0m1 27h0m-3 2h0m5-5h0m-3 1h0m-2 9h0m2-34h0m-6 53h0m5-39h0m-5 21h0m13-44h0m-10 35h0m0 20h0m-2 3h0m6-25h0m-1 10h0m-6 21h0m5-10h0m-6 13h0m1-10h0m9-75h0m3 10h0m-8 59h0m2-1h0m9-71h0m-2 7h0m-3 12h0m4-11h0m-9 21h0m-7 71h0m-1-3h0m10-72h0m-4 34h0m12-60h0m-1 17h0m2-16h0m-13 69h0m10-49h0m-4 10h0m-4 3h0m-3 44h0m-1 9h0m0-2h0m1 0h0m2-23h0m12-57h0m-5 2h0m-4 22h0m-2 9h0m-5 54h0m-1 2h0m1-26h0m4-4h0m-3 25h0m10-77h0m0 17h0m-9 30h0m10-25h0m-2-25h0m3 5h0m-6 10h0m0-3h0m2-21h0m2 7h0m0 28h0m4-20h0m-9 58h0m3-54h0m-4 28h0m-10 59h0m10-41h0m-1-17h0m-2 20h0m-6 29h0m16-82h0m-12 66h0m8-46h0m-3 31h0m-3 4h0m5-23h0m1 13h0m-8 23h0m4-22h0m-4 22h0m10-77h0m-8 65h0m12-66h0m-13 61h0m0-4h0m6-47h0m-6 47h0m8-16h0m-3-13h0m-5 53h0m-3 4h0m15-68h0m-8 43h0m-4 16h0m9-72h0m-8 47h0m6-17h0m4-23h0m-1-5h0m1 7h0m2-12h0m-17 87h0m2 0h0m9-65h0m-4 41h0m9-55h0m-10 59h0m2-34h0m3-15h0m-1 27h0m0 18h0m3-66h0m-5 65h0m4-35h0m-3 40h0m1-8h0m-2-18h0m-1 33h0m-5 10h0m-2 4h0m1 1h0m7-52h0m16-137h0m2 43h0m3 20h0m-3-25h0m5-15h0m-13 74h0m10 4h0m-3-85h0m-5 35h0m5 68h0m1-63h0m-1 15h0m-4 8h0m3-72h0m-2 44h0m-5 29h0m7 29h0m-4 14h0m8-74h0m-7 65h0m8-29h0m2-69h0m-3 10h0m7-24h0m-10 11h0m6 25h0m4 0h0m-18 60h0m5-43h0m16-52h0m-7 62h0m3-17h0m-12 8h0m6-56h0m-1 112h0m7-69h0m-4 56h0m2-78h0m-7 104h0m-6-46h0m13 6h0m-8 2h0m10-76h0m-12 68h0m5-22h0m-57 126h0m-25-7h0m28 11h0m-30 1h0m33 6h0m-25-12h0m19-4h0m-15 2h0m-8 20h0m21-5h0m9-3h0m-25-15h0m-14-3h0m14 26h0m0-2h0m-4-11h0m14 9h0m20 1h0m-41-3h0m-5-18h0m8 25h0m21-9h0m-23-4h0m3 11h0m15-5h0m-8-7h0m30-3h0m-19 9h0m-5 1h0m17-19h0" stroke="#A8353A" stroke-width="6.3" stroke-linecap="round" fill="none"/>
<path d="M1290 2093h0m3 7h0m-6 20h0m7-47h0m-13 72h0m10-77h0m-6 55h0m-1 7h0m4-35h0m0-7h0m-2 51h0m7-44h0m-10 31h0m7-53h0m6-5h0m-2 17h0m0-17h0m-6 54h0m5-22h0m-13 43h0m2 12h0m6-43h0m2-43h0m-11 101h0m8-71h0m1 27h0m-3 2h0m5-5h0m-3 1h0m-2 9h0m2-34h0m-6 53h0m5-39h0m-5 21h0m13-44h0m-10 35h0m0 20h0m-2 3h0m6-25h0m-1 10h0m-6 21h0m5-10h0m-6 13h0m1-10h0m9-75h0m3 10h0m-8 59h0m2-1h0m9-71h0m-2 7h0m-3 12h0m4-11h0m-9 21h0m-7 71h0m-1-3h0m10-72h0m-4 34h0m12-60h0m-1 17h0m2-16h0m-13 69h0m10-49h0m-4 10h0m-4 3h0m-3 44h0m-1 9h0m0-2h0m1 0h0m2-23h0m12-57h0m-5 2h0m-4 22h0m-2 9h0m-5 54h0m-1 2h0m1-26h0m4-4h0m-3 25h0m10-77h0m0 17h0m-9 30h0m10-25h0m-2-25h0m3 5h0m-6 10h0m0-3h0m2-21h0m2 7h0m0 28h0m4-20h0m-9 58h0m3-54h0m-4 28h0m-10 59h0m10-41h0m-1-17h0m-2 20h0m-6 29h0m16-82h0m-12 66h0m8-46h0m-3 31h0m-3 4h0m5-23h0m1 13h0m-8 23h0m4-22h0m-4 22h0m10-77h0m-8 65h0m12-66h0m-13 61h0m0-4h0m6-47h0m-6 47h0m8-16h0m-3-13h0m-5 53h0m-3 4h0m15-68h0m-8 43h0m-4 16h0m9-72h0m-8 47h0m6-17h0m4-23h0m-1-5h0m1 7h0m2-12h0m-17 87h0m2 0h0m9-65h0m-4 41h0m9-55h0m-10 59h0m2-34h0m3-15h0m-1 27h0m0 18h0m3-66h0m-5 65h0m4-35h0m-3 40h0m1-8h0m-2-18h0m-1 33h0m-5 10h0m-2 4h0m1 1h0m7-52h0m16-137h0m2 43h0m3 20h0m-3-25h0m5-15h0m-13 74h0m10 4h0m-3-85h0m-5 35h0m5 68h0m1-63h0m-1 15h0m-4 8h0m3-72h0m-2 44h0m-5 29h0m7 29h0m-4 14h0m8-74h0m-7 65h0m8-29h0m2-69h0m-3 10h0m7-24h0m-10 11h0m6 25h0m4 0h0m-18 60h0m5-43h0m16-52h0m-7 62h0m3-17h0m-12 8h0m6-56h0m-1 112h0m7-69h0m-4 56h0m2-78h0m-7 104h0m-6-46h0m13 6h0m-8 2h0m10-76h0m-12 68h0m5-22h0m-57 126h0m-25-7h0m28 11h0m-30 1h0m33 6h0m-25-12h0m19-4h0m-15 2h0m-8 20h0m21-5h0m9-3h0m-25-15h0m-14-3h0m14 26h0m0-2h0m-4-11h0m14 9h0m20 1h0m-41-3h0m-5-18h0m8 25h0m21-9h0m-23-4h0m3 11h0m15-5h0m-8-7h0m30-3h0m-19 9h0m-5 1h0m17-19h0" stroke="#D8494B" stroke-width="4.7" stroke-linecap="round" fill="none"/>
<path d="M1328 2043h0m2 20h0m-8-28h0m-2-6h0m12 29h0m-9-24h0m1 11h0m2 15h0m1-38h0m-6-49h0m1 35h0m4 18h0m-2-30h0m1 5h0m2-13h0m0 64h0m0 16h0m-3-66h0m-1-9h0m-1 21h0m0 11h0m3-12h0m-4 2h0m8 39h0m-4-79h0m1 27h0m0 21h0m-1 44h0m2-30h0m1 10h0m-6-19h0m0-10h0m1 28h0m2-32h0m-1 7h0m2 50h0m-2-11h0m-1-89h0m-1 64h0m8 17h0m-8-22h0m5 22h0m-5-19h0m5 10h0m-1-52h0m-4 7h0m5 36h0m4 20h0m-8 7h0m2-82h0m-4 45h0m6 5h0m-5 12h0m-1-22h0m6 31h0m1-6h0m-5 8h0m0-43h0m2 41h0m0-26h0m1 3h0m-5-26h0m2-12h0m0-6h0m-1 23h0m9 54h0m-8-47h0m0 48h0m1-33h0m1 0h0m-1-7h0m4 27h0m-3-63h0m-2 8h0m2 21h0m-4-18h0m2 33h0m3-35h0m2 49h0m-2-35h0m-3-30h0m0 41h0m1-42h0m-4 1h0m1 39h0m7 21h0m-8-17h0m4 11h0m-1-9h0m2 35h0m-3-19h0m3-47h0m0 30h0m0 20h0m0-26h0m3 27h0m-1-16h0m-4-25h0m1-22h0m1 79h0m-5-56h0m7 5h0m-5-30h0m4 72h0m-1-17h0m2 26h0m-6-43h0m5 11h0m0-21h0m-2 4h0m34 108h0m17-21h0m-33 20h0m4-37h0m20 18h0m-17 6h0m-17 3h0m22 7h0m6 3h0m-28-29h0m23-13h0m-10 52h0m34-24h0m-53-29h0m-3 4h0m29 31h0m-29-24h0m60 17h0m-38 1h0m22 23h0m-20-54h0m-1 44h0m37 0h0m-18-23h0m13 21h0m5 1h0m0-17h0m-30 23h0m2 6h0m-27-36h0m16-17h0m4 28h0m19 22h0m-11-2h0m-6-49h0m2 35h0m-3-7h0m-6-12h0m13 7h0m-4 40h0m-26-50h0m42 13h0m-18 12h0m-22 2h0m9-10h0m91 24h0m14-2h0m-17-11h0m-17 16h0m33-29h0m22 2h0m-35 21h0m4 8h0m32-30h0m-37 31h0m19-30h0m-2 19h0m23-22h0m-23 10h0m-27 17h0m8-6h0m6-24h0m11 29h0m-8-22h0m16-10h0m-21 41h0m-6-14h0m9-23h0m4 9h0m17-18h0m-39 29h0m11-10h0m39-20h0m-43 44h0m11-18h0m2 10h0m4-14h0m-14 22h0m4 3h0m18-23h0m8-6h0m4-17h0m-9 26h0m-25-3h0m-6 0h0m20 14h0m-28 2h0m24-14h0m10-6h0m6-18h0m-3 21h0m0-1h0m10-6h0m-16-11h0m19 12h0m-22 0h0m9-5h0m14-3h0m-42 15h0m-9 19h0m18-15h0m29-29h0m-16 36h0m1-3h0m6-21h0m-16 17h0m-8 3h0m13 3h0m22-21h0m-42 28h0m35-18h0m-7-19h0m-32 43h0m-1-9h0m18-25h0m34-5h0m-22 18h0m23-27h0m-34 20h0m-17 23h0m7-3h0m13-30h0m4 0h0m-2-2h0m-9 14h0m1 12h0m37-28h0m1-2h0m5 5h0m-52 24h0m10-14h0m2 9h0m18-15h0m-5 21h0m20-26h0m-17 26h0m-12 10h0m-14-17h0m28-28h0m-39 57h0m34-44h0m24-2h0m-41 37h0m-16 9h0m11-24h0m8-16h0m5 28h0m-13-19h0m-14 24h0m8-2h0m21-28h0m10-18h0m-41 54h0m1-2h0m21-28h0m28-20h0m-12 21h0m-27 11h0m4 8h0m12-19h0m-29 29h0m26-24h0m16-10h0m-31 28h0m20-4h0m1-32h0m-12 18h0m-9 21h0m-1-4h0m54-38h0m-48 27h0m-8-3h0m5-5h0m26-12h0m-14 7h0m-20 30h0m5-19h0m25-28h0m3 23h0m11-4h0m-26-10h0m17 18h0m9-15h0m-11 4h0m-18 18h0m-4-13h0m-6 16h0m19-4h0m-30 17h0m26-33h0m11-21h0m23 12h0m-7-15h0m7 18h0m-28 9h0m-3-7h0m9 13h0m-16 5h0m2 1h0m-10-3h0m39-36h0m9 6h0m-6 5h0m-29 19h0m-9 12h0m33-25h0m-27 17h0m10-7h0m-4-14h0m-11 19h0m34-14h0m-6-5h0m-40 36h0m2-11h0m19-10h0m65-17h0m50 10h0m-156-29h0m-16-6h0m-16 2h0" stroke="#A07A2E" stroke-width="6.5" stroke-linecap="round" fill="none"/>
<path d="M1328 2043h0m2 20h0m-8-28h0m-2-6h0m12 29h0m-9-24h0m1 11h0m2 15h0m1-38h0m-6-49h0m1 35h0m4 18h0m-2-30h0m1 5h0m2-13h0m0 64h0m0 16h0m-3-66h0m-1-9h0m-1 21h0m0 11h0m3-12h0m-4 2h0m8 39h0m-4-79h0m1 27h0m0 21h0m-1 44h0m2-30h0m1 10h0m-6-19h0m0-10h0m1 28h0m2-32h0m-1 7h0m2 50h0m-2-11h0m-1-89h0m-1 64h0m8 17h0m-8-22h0m5 22h0m-5-19h0m5 10h0m-1-52h0m-4 7h0m5 36h0m4 20h0m-8 7h0m2-82h0m-4 45h0m6 5h0m-5 12h0m-1-22h0m6 31h0m1-6h0m-5 8h0m0-43h0m2 41h0m0-26h0m1 3h0m-5-26h0m2-12h0m0-6h0m-1 23h0m9 54h0m-8-47h0m0 48h0m1-33h0m1 0h0m-1-7h0m4 27h0m-3-63h0m-2 8h0m2 21h0m-4-18h0m2 33h0m3-35h0m2 49h0m-2-35h0m-3-30h0m0 41h0m1-42h0m-4 1h0m1 39h0m7 21h0m-8-17h0m4 11h0m-1-9h0m2 35h0m-3-19h0m3-47h0m0 30h0m0 20h0m0-26h0m3 27h0m-1-16h0m-4-25h0m1-22h0m1 79h0m-5-56h0m7 5h0m-5-30h0m4 72h0m-1-17h0m2 26h0m-6-43h0m5 11h0m0-21h0m-2 4h0m34 108h0m17-21h0m-33 20h0m4-37h0m20 18h0m-17 6h0m-17 3h0m22 7h0m6 3h0m-28-29h0m23-13h0m-10 52h0m34-24h0m-53-29h0m-3 4h0m29 31h0m-29-24h0m60 17h0m-38 1h0m22 23h0m-20-54h0m-1 44h0m37 0h0m-18-23h0m13 21h0m5 1h0m0-17h0m-30 23h0m2 6h0m-27-36h0m16-17h0m4 28h0m19 22h0m-11-2h0m-6-49h0m2 35h0m-3-7h0m-6-12h0m13 7h0m-4 40h0m-26-50h0m42 13h0m-18 12h0m-22 2h0m9-10h0m91 24h0m14-2h0m-17-11h0m-17 16h0m33-29h0m22 2h0m-35 21h0m4 8h0m32-30h0m-37 31h0m19-30h0m-2 19h0m23-22h0m-23 10h0m-27 17h0m8-6h0m6-24h0m11 29h0m-8-22h0m16-10h0m-21 41h0m-6-14h0m9-23h0m4 9h0m17-18h0m-39 29h0m11-10h0m39-20h0m-43 44h0m11-18h0m2 10h0m4-14h0m-14 22h0m4 3h0m18-23h0m8-6h0m4-17h0m-9 26h0m-25-3h0m-6 0h0m20 14h0m-28 2h0m24-14h0m10-6h0m6-18h0m-3 21h0m0-1h0m10-6h0m-16-11h0m19 12h0m-22 0h0m9-5h0m14-3h0m-42 15h0m-9 19h0m18-15h0m29-29h0m-16 36h0m1-3h0m6-21h0m-16 17h0m-8 3h0m13 3h0m22-21h0m-42 28h0m35-18h0m-7-19h0m-32 43h0m-1-9h0m18-25h0m34-5h0m-22 18h0m23-27h0m-34 20h0m-17 23h0m7-3h0m13-30h0m4 0h0m-2-2h0m-9 14h0m1 12h0m37-28h0m1-2h0m5 5h0m-52 24h0m10-14h0m2 9h0m18-15h0m-5 21h0m20-26h0m-17 26h0m-12 10h0m-14-17h0m28-28h0m-39 57h0m34-44h0m24-2h0m-41 37h0m-16 9h0m11-24h0m8-16h0m5 28h0m-13-19h0m-14 24h0m8-2h0m21-28h0m10-18h0m-41 54h0m1-2h0m21-28h0m28-20h0m-12 21h0m-27 11h0m4 8h0m12-19h0m-29 29h0m26-24h0m16-10h0m-31 28h0m20-4h0m1-32h0m-12 18h0m-9 21h0m-1-4h0m54-38h0m-48 27h0m-8-3h0m5-5h0m26-12h0m-14 7h0m-20 30h0m5-19h0m25-28h0m3 23h0m11-4h0m-26-10h0m17 18h0m9-15h0m-11 4h0m-18 18h0m-4-13h0m-6 16h0m19-4h0m-30 17h0m26-33h0m11-21h0m23 12h0m-7-15h0m7 18h0m-28 9h0m-3-7h0m9 13h0m-16 5h0m2 1h0m-10-3h0m39-36h0m9 6h0m-6 5h0m-29 19h0m-9 12h0m33-25h0m-27 17h0m10-7h0m-4-14h0m-11 19h0m34-14h0m-6-5h0m-40 36h0m2-11h0m19-10h0m65-17h0m50 10h0m-156-29h0m-16-6h0m-16 2h0" stroke="#E3AB47" stroke-width="4.9" stroke-linecap="round" fill="none"/>
<path d="M1246.4 1966.7V2155M1286.4 1966.7V2155M1151.5 2155H1540" stroke="#333" stroke-width="2.2" stroke-dasharray="7 5"/>
<path d="M1132 1959.5V2194.5M1131 2193.5H1568" stroke="#000" stroke-width="2.2"/>
<path d="M1127 2182H1132" stroke="#000" stroke-width="1.6"/>
<text x="1125" y="2187.5" font-size="15.5" text-anchor="end" fill="#4D4D4D">0</text>
<path d="M1127 2114.5H1132" stroke="#000" stroke-width="1.6"/>
<text x="1125" y="2120" font-size="15.5" text-anchor="end" fill="#4D4D4D">5</text>
<path d="M1127 2047H1132" stroke="#000" stroke-width="1.6"/>
<text x="1125" y="2052.5" font-size="15.5" text-anchor="end" fill="#4D4D4D">10</text>
<path d="M1127 1979.5H1132" stroke="#000" stroke-width="1.6"/>
<text x="1125" y="1985" font-size="15.5" text-anchor="end" fill="#4D4D4D">15</text>
<path d="M1166.5 2193.5V2198.5" stroke="#000" stroke-width="1.6"/>
<text x="1166.5" y="2211.4" font-size="15.5" text-anchor="middle" fill="#4D4D4D">−5</text>
<path d="M1266.4 2193.5V2198.5" stroke="#000" stroke-width="1.6"/>
<text x="1266.4" y="2211.4" font-size="15.5" text-anchor="middle" fill="#4D4D4D">0</text>
<path d="M1366.3 2193.5V2198.5" stroke="#000" stroke-width="1.6"/>
<text x="1366.3" y="2211.4" font-size="15.5" text-anchor="middle" fill="#4D4D4D">5</text>
<path d="M1466.2 2193.5V2198.5" stroke="#000" stroke-width="1.6"/>
<text x="1466.2" y="2211.4" font-size="15.5" text-anchor="middle" fill="#4D4D4D">10</text>
<text x="1348" y="2227.9" font-size="16" text-anchor="middle" textLength="121.5" lengthAdjust="spacingAndGlyphs">Log2 fold−change</text>
<text x="1100.4" y="2070.5" font-size="16.5" text-anchor="middle" transform="rotate(-90 1100.4 2070.5)">Adj. p value</text>
<rect x="1399" y="1968.5" width="154.4" height="27.9" fill="#fff" stroke="#AAAAAA" stroke-width="1"/>
<text x="1476.2" y="1980" font-size="12.5" text-anchor="middle">ORF type</text>
<circle cx="1405.5" cy="1989" r="3.6" fill="#5070C8"/>
<text x="1410.5" y="1993.3" font-size="12.5">Ctrl</text>
<circle cx="1438.8" cy="1989" r="3.6" fill="#D9484A"/>
<text x="1445" y="1993.3" font-size="12.5" font-style="italic">LRRC23</text>
<circle cx="1501" cy="1989" r="3.6" fill="#E2AA45"/>
<text x="1507" y="1993.3" font-size="12.5" font-style="italic">OR7A10</text>
<rect x="1406.4" y="2165" width="139.5" height="16.4" fill="#fff" stroke="#AAAAAA" stroke-width="1"/>
<text x="1476.2" y="2177.5" font-size="13" text-anchor="middle" textLength="131.5" lengthAdjust="spacingAndGlyphs">Design = ~ 3DPI + Donor</text>
<text x="1767.6" y="1948.4" font-size="16" text-anchor="middle" textLength="237.8" lengthAdjust="spacingAndGlyphs">Screen selection (6-DPI vs 0-DPI)</text>
<path d="M1618.1 2050.3 L1627.4 2050.3 L1658.9 2071.6 L1680.0 2097.3 L1698.5 2129.4 L1706.3 2151.2 L1722.7 2182.0 L1701.2 2177.0 L1677.3 2169.2 L1645.6 2163.8 L1613.9 2145.3 L1611.4 2126.8 L1608.7 2092.1ZM1722.7 2182.0 L1732.9 2161.1 L1743.4 2108.8 L1753.8 2056.2 L1761.9 2002.8 L1764.6 1968.9 L1786.9 1968.9 L1782.8 2056.2 L1780.7 2108.8 L1784.9 2143.5 L1796.0 2153.8 L1815.9 2152.5 L1849.1 2148.6 L1871.9 2146.0 L1900.9 2143.5 L1900.9 2149.9 L1849.1 2161.5 L1809.7 2169.2 L1770.4 2179.4 L1733.1 2182.0Z" stroke="#8C8C8C" stroke-width="3.2" fill="#B6B6B6" stroke-linejoin="round"/>
<path d="M1619 2049h0m1 0h0m5 2h0m13 2h0m2 11h0m12 4h0m15 4h0m0 13h0m9 9h0m11 10h0m3 5h0m3 14h0m8 10h0m-1 8h0m7 7h0m-2 12h0m10 10h0m7 8h0m-2 6h0m-7-8h0m-8 6h0m-9-7h0m-11 0h0m0-2h0m-16-5h0m-6-6h0m-8 2h0m-16-6h0m-8-3h0m-11-2h0m-5-12h0m-3-7h0m-3-7h0m5-7h0m-7-12h0m1-12h0m2-15h0m0-11h0m3-10h0m110 117h0m2-7h0m9-6h0m0-12h0m7-15h0m2-15h0m4-23h0m-1-16h0m5-19h0m5-18h0m2-15h0m-2-17h0m2-18h0m5-10h0m1-15h0m4 1h0m9-4h0m4-2h0m5 22h0m-3 27h0m-3 20h0m3 27h0m-1 16h0m-3 20h0m4 20h0m0 11h0m3 7h0m1 8h0m7 4h0m-4 4h0m10 1h0m9 3h0m4-1h0m9-9h0m13 3h0m9-1h0m14 2h0m1-3h0m3 0h0m16-1h0m8-4h0m11 1h0m2 3h0m2 7h0m0-7h0m-11 8h0m-18 2h0m-11 6h0m-17 4h0m-12-4h0m-18 5h0m-15 4h0m-11 2h0m-9 6h0m-18-1h0m-8 3h0m-20-1h0m-4 3h0m1-2h0m-3 2h0m168-38h0m37-4h0m-106-5h0m4 15h0m25-31h0m-62-17h0m29 48h0m36-32h0m-66 12h0m28 10h0m16-35h0m4 36h0m26-23h0m-68-12h0m65 1h0m3 16h0m-76-21h0m51-4h0m26 18h0m-74-13h0m-1 26h0m28 14h0m-8-30h0m-15 2h0m4 29h0m61-6h0m-77-20h0m43 3h0m37 15h0m-34-28h0m-29 10h0m8-18h0m-206 40h0m18 8h0m-2-19h0m0-23h0m1-23h0m-14 68h0m4 1h0m2-72h0m-5 46h0m-4-26h0" stroke="#7A7A7A" stroke-width="6.6" stroke-linecap="round" fill="none"/>
<path d="M1619 2049h0m1 0h0m5 2h0m13 2h0m2 11h0m12 4h0m15 4h0m0 13h0m9 9h0m11 10h0m3 5h0m3 14h0m8 10h0m-1 8h0m7 7h0m-2 12h0m10 10h0m7 8h0m-2 6h0m-7-8h0m-8 6h0m-9-7h0m-11 0h0m0-2h0m-16-5h0m-6-6h0m-8 2h0m-16-6h0m-8-3h0m-11-2h0m-5-12h0m-3-7h0m-3-7h0m5-7h0m-7-12h0m1-12h0m2-15h0m0-11h0m3-10h0m110 117h0m2-7h0m9-6h0m0-12h0m7-15h0m2-15h0m4-23h0m-1-16h0m5-19h0m5-18h0m2-15h0m-2-17h0m2-18h0m5-10h0m1-15h0m4 1h0m9-4h0m4-2h0m5 22h0m-3 27h0m-3 20h0m3 27h0m-1 16h0m-3 20h0m4 20h0m0 11h0m3 7h0m1 8h0m7 4h0m-4 4h0m10 1h0m9 3h0m4-1h0m9-9h0m13 3h0m9-1h0m14 2h0m1-3h0m3 0h0m16-1h0m8-4h0m11 1h0m2 3h0m2 7h0m0-7h0m-11 8h0m-18 2h0m-11 6h0m-17 4h0m-12-4h0m-18 5h0m-15 4h0m-11 2h0m-9 6h0m-18-1h0m-8 3h0m-20-1h0m-4 3h0m1-2h0m-3 2h0m168-38h0m37-4h0m-106-5h0m4 15h0m25-31h0m-62-17h0m29 48h0m36-32h0m-66 12h0m28 10h0m16-35h0m4 36h0m26-23h0m-68-12h0m65 1h0m3 16h0m-76-21h0m51-4h0m26 18h0m-74-13h0m-1 26h0m28 14h0m-8-30h0m-15 2h0m4 29h0m61-6h0m-77-20h0m43 3h0m37 15h0m-34-28h0m-29 10h0m8-18h0m-206 40h0m18 8h0m-2-19h0m0-23h0m1-23h0m-14 68h0m4 1h0m2-72h0m-5 46h0m-4-26h0" stroke="#B6B6B6" stroke-width="4.6" stroke-linecap="round" fill="none"/>
<path d="M1659 2132h0m20 24h0m-22-6h0m-17-2h0m47 10h0m-41-42h0m39 22h0m-61-10h0m47 2h0m-45 11h0m82 27h0m-56-37h0m0-9h0m10 28h0m-3-27h0m22 21h0m-14-7h0m4 0h0m19 33h0m14-10h0m-46-6h0m-26-32h0m35-2h0m32 44h0m-22-13h0m-17-41h0m10 26h0m29 34h0m-29-22h0m-29-29h0m40 44h0m-30-55h0m-27-7h0m54 59h0m2-23h0m-47-21h0m76 56h0m-71-32h0m36 1h0m-9-19h0m21 24h0m-14 0h0m-25-4h0m10-34h0m-30-1h0m78 55h0m-67-18h0m64 24h0m-53-33h0m-13-32h0m16 36h0m56 27h0m-19-24h0m-52-16h0m46 34h0m4 7h0m4-23h0m2 0h0m-25-6h0m-43-1h0m37-23h0m34 35h0m-48-23h0m28-6h0m25 41h0m-38-4h0m2-41h0m-8 25h0m25-15h0m-42 18h0m13-4h0m-15-22h0m28 38h0m26 1h0m-19-16h0m-48-10h0m69 23h0m-40-45h0m5 49h0m-11-10h0m5-3h0m19-18h0m-20 28h0m-17-29h0m-5-15h0m-6 4h0m18 25h0m21 4h0m-9-43h0m47 60h0m-29-8h0m-17-48h0m29 62h0m-30-54h0m27 30h0m-47-35h0m39 51h0m10-18h0m7 25h0m-49-46h0m20 32h0m17-8h0m-21 3h0m18 5h0m13 4h0m-54-36h0m-7 16h0m73 34h0m-61-49h0m66 44h0m-1 1h0m-63-34h0m-18-16h0m52 37h0m-34-14h0m7-32h0m-4 39h0m-2-32h0m55 47h0m-57-53h0m61 48h0m-60-36h0m67 50h0m-73-40h0m51 24h0m-44-22h0m2 19h0m6-38h0m-14 11h0m16 26h0m-6 1h0m31 13h0m-23-56h0m-17 16h0m38 33h0m-40-49h0m48 55h0m-25-15h0m15-17h0m-4 27h0m27-12h0m-26 7h0m-14-33h0m47 43h0m-27-20h0m-13 14h0m-21-49h0m-11-11h0m52 43h0m19 34h0m-8-30h0m-63-18h0m34 36h0m-31-19h0m50 18h0m-54-58h0m19 41h0m15-22h0m-28-9h0m-11-14h0m11 18h0m13 22h0m36 4h0m-5-6h0m-22 9h0m3-25h0m-30-11h0m25 21h0m50 30h0m-60-61h0m-15-1h0m6 32h0m6-7h0m6-7h0m-4-10h0m-20 10h0m15 31h0m-8-20h0m55 13h0m-30-38h0m-9 5h0m-15-11h0m-5 6h0m46 19h0m26 31h0m-14-12h0m-28-10h0m-19-2h0m50 18h0m-60-41h0m33 41h0m10 4h0m-20-32h0m52 51h0m-77-54h0m26 40h0m-12-20h0m-15-10h0m48 6h0m-10-15h0m13 8h0m-22 4h0m36 17h0m-20 7h0m-15-51h0m39 70h0m-22-38h0m-40-23h0m-8-6h0m32 42h0m37-4h0m-25 12h0m20-2h0m-15-17h0m-23-10h0m0 23h0m15-30h0m-3 16h0m-12 12h0m-7 1h0m37-22h0m-53-26h0m36 38h0m-19-38h0m-13 26h0m-8 12h0m2-29h0m-4-1h0m85 58h0m-41-56h0m-17 5h0m51 57h0m-48-34h0m27 28h0m-38-51h0m-14 27h0m51 24h0m8-8h0m-49-56h0m43 48h0m-23-10h0m-34-34h0m54 28h0m-34 11h0m24-5h0m-1-20h0m30 46h0m-25-20h0m0 18h0m5-12h0m-33-39h0m58 45h0m-71-29h0m39-4h0m1-7h0m26 33h0m-26-4h0m9 14h0m-36-32h0m32-4h0m-43-15h0m12 30h0m35-15h0m34 51h0m-85-44h0m42 15h0m-48-31h0m72 45h0m-53-15h0m-5-11h0m15-30h0m49 49h0m-31-10h0m-17-34h0m35 24h0m-24 23h0m-11-23h0m31-7h0m-10 13h0m28 23h0m6 4h0m-10-8h0m-63-49h0m64 44h0m-2-5h0m-6-4h0m-8-17h0m-27-4h0m49 36h0m-34-15h0m-14 7h0m52 14h0m-75-47h0m64 53h0m-49-70h0m17 35h0m5-18h0m-19 11h0m44 22h0m-35-2h0m109-110h0m-5 8h0m16-20h0m-17 88h0m3-123h0m-10 152h0m8-56h0m-10 78h0m2-3h0m6-54h0m-3-52h0m15-26h0m-15 125h0m26-165h0m-17 9h0m6 15h0m0 20h0m-3-12h0m-3 114h0m-13 19h0m14-143h0m7 68h0m0-68h0m-9 19h0m10 19h0m-18 88h0m2-67h0m21-77h0m-24 165h0m-1-85h0m14-59h0m-13 110h0m5 14h0m12-155h0m-9 172h0m5-138h0m-6 22h0m18-23h0m-24 117h0m-3-28h0m1 42h0m3 17h0m2-34h0m19-137h0m-28 136h0m6-81h0m-1 31h0m10-24h0m4 16h0m-11 29h0m-5 3h0m0 28h0m0-43h0m24-83h0m3-20h0m-20 177h0m19-155h0m-1 14h0m-15 33h0m3 35h0m4-36h0m-17 101h0m20-134h0m-10 69h0m0 42h0m1-109h0m-5 87h0m0-84h0m23-34h0m-10 25h0m-3 77h0m-22 70h0m14-115h0m-10 74h0m25-100h0m-20 41h0m17-33h0m-18 71h0m1 3h0m11 32h0m2-111h0m-16 80h0m9-44h0m-1-34h0m3 58h0m-2-30h0m5 54h0m2-70h0m-9 28h0m4-83h0m-9 89h0m6 87h0m2-99h0m-3-47h0m11 87h0m-1-86h0m8 12h0m-24 68h0m17-83h0m3-9h0m-24 115h0m15-60h0m0 43h0m4-6h0m-23 60h0m9-58h0m19-99h0m-6-11h0m12 21h0m-4-3h0m-10 137h0m-12 7h0m-3-16h0m24-147h0m-6 14h0m0 95h0m9-109h0m0 17h0m-1 21h0m-18-1h0m32 140h0m-17 6h0m33-11h0m-10 4h0m-4 5h0m23-13h0m40-4h0m20-2h0m-86 21h0m35-9h0m-10-1h0m-16-2h0m-17 5h0m49-11h0m11 0h0m3 2h0m-74 12h0m28-4h0m5-9h0m-20 5h0m-4-6h0m49 5h0m-51 4h0m75-14h0m-57 21h0m31-14h0m-24 1h0m-23 17h0m-6-19h0m12 4h0m71-8h0m-75 5h0m85-2h0m-33 4h0m31-5h0m-88-2h0m9 17h0m-5-16h0m31 4h0m-12 13h0m48-18h0m-71 13h0m58-10h0m-39 15h0m34-14h0m-45 7h0m-9-2h0m33-3h0m-30 9h0m40-7h0m-10 4h0m-32 4h0m20-7h0m12 1h0m-10-5h0" stroke="#3A55A0" stroke-width="6.3" stroke-linecap="round" fill="none"/>
<path d="M1659 2132h0m20 24h0m-22-6h0m-17-2h0m47 10h0m-41-42h0m39 22h0m-61-10h0m47 2h0m-45 11h0m82 27h0m-56-37h0m0-9h0m10 28h0m-3-27h0m22 21h0m-14-7h0m4 0h0m19 33h0m14-10h0m-46-6h0m-26-32h0m35-2h0m32 44h0m-22-13h0m-17-41h0m10 26h0m29 34h0m-29-22h0m-29-29h0m40 44h0m-30-55h0m-27-7h0m54 59h0m2-23h0m-47-21h0m76 56h0m-71-32h0m36 1h0m-9-19h0m21 24h0m-14 0h0m-25-4h0m10-34h0m-30-1h0m78 55h0m-67-18h0m64 24h0m-53-33h0m-13-32h0m16 36h0m56 27h0m-19-24h0m-52-16h0m46 34h0m4 7h0m4-23h0m2 0h0m-25-6h0m-43-1h0m37-23h0m34 35h0m-48-23h0m28-6h0m25 41h0m-38-4h0m2-41h0m-8 25h0m25-15h0m-42 18h0m13-4h0m-15-22h0m28 38h0m26 1h0m-19-16h0m-48-10h0m69 23h0m-40-45h0m5 49h0m-11-10h0m5-3h0m19-18h0m-20 28h0m-17-29h0m-5-15h0m-6 4h0m18 25h0m21 4h0m-9-43h0m47 60h0m-29-8h0m-17-48h0m29 62h0m-30-54h0m27 30h0m-47-35h0m39 51h0m10-18h0m7 25h0m-49-46h0m20 32h0m17-8h0m-21 3h0m18 5h0m13 4h0m-54-36h0m-7 16h0m73 34h0m-61-49h0m66 44h0m-1 1h0m-63-34h0m-18-16h0m52 37h0m-34-14h0m7-32h0m-4 39h0m-2-32h0m55 47h0m-57-53h0m61 48h0m-60-36h0m67 50h0m-73-40h0m51 24h0m-44-22h0m2 19h0m6-38h0m-14 11h0m16 26h0m-6 1h0m31 13h0m-23-56h0m-17 16h0m38 33h0m-40-49h0m48 55h0m-25-15h0m15-17h0m-4 27h0m27-12h0m-26 7h0m-14-33h0m47 43h0m-27-20h0m-13 14h0m-21-49h0m-11-11h0m52 43h0m19 34h0m-8-30h0m-63-18h0m34 36h0m-31-19h0m50 18h0m-54-58h0m19 41h0m15-22h0m-28-9h0m-11-14h0m11 18h0m13 22h0m36 4h0m-5-6h0m-22 9h0m3-25h0m-30-11h0m25 21h0m50 30h0m-60-61h0m-15-1h0m6 32h0m6-7h0m6-7h0m-4-10h0m-20 10h0m15 31h0m-8-20h0m55 13h0m-30-38h0m-9 5h0m-15-11h0m-5 6h0m46 19h0m26 31h0m-14-12h0m-28-10h0m-19-2h0m50 18h0m-60-41h0m33 41h0m10 4h0m-20-32h0m52 51h0m-77-54h0m26 40h0m-12-20h0m-15-10h0m48 6h0m-10-15h0m13 8h0m-22 4h0m36 17h0m-20 7h0m-15-51h0m39 70h0m-22-38h0m-40-23h0m-8-6h0m32 42h0m37-4h0m-25 12h0m20-2h0m-15-17h0m-23-10h0m0 23h0m15-30h0m-3 16h0m-12 12h0m-7 1h0m37-22h0m-53-26h0m36 38h0m-19-38h0m-13 26h0m-8 12h0m2-29h0m-4-1h0m85 58h0m-41-56h0m-17 5h0m51 57h0m-48-34h0m27 28h0m-38-51h0m-14 27h0m51 24h0m8-8h0m-49-56h0m43 48h0m-23-10h0m-34-34h0m54 28h0m-34 11h0m24-5h0m-1-20h0m30 46h0m-25-20h0m0 18h0m5-12h0m-33-39h0m58 45h0m-71-29h0m39-4h0m1-7h0m26 33h0m-26-4h0m9 14h0m-36-32h0m32-4h0m-43-15h0m12 30h0m35-15h0m34 51h0m-85-44h0m42 15h0m-48-31h0m72 45h0m-53-15h0m-5-11h0m15-30h0m49 49h0m-31-10h0m-17-34h0m35 24h0m-24 23h0m-11-23h0m31-7h0m-10 13h0m28 23h0m6 4h0m-10-8h0m-63-49h0m64 44h0m-2-5h0m-6-4h0m-8-17h0m-27-4h0m49 36h0m-34-15h0m-14 7h0m52 14h0m-75-47h0m64 53h0m-49-70h0m17 35h0m5-18h0m-19 11h0m44 22h0m-35-2h0m109-110h0m-5 8h0m16-20h0m-17 88h0m3-123h0m-10 152h0m8-56h0m-10 78h0m2-3h0m6-54h0m-3-52h0m15-26h0m-15 125h0m26-165h0m-17 9h0m6 15h0m0 20h0m-3-12h0m-3 114h0m-13 19h0m14-143h0m7 68h0m0-68h0m-9 19h0m10 19h0m-18 88h0m2-67h0m21-77h0m-24 165h0m-1-85h0m14-59h0m-13 110h0m5 14h0m12-155h0m-9 172h0m5-138h0m-6 22h0m18-23h0m-24 117h0m-3-28h0m1 42h0m3 17h0m2-34h0m19-137h0m-28 136h0m6-81h0m-1 31h0m10-24h0m4 16h0m-11 29h0m-5 3h0m0 28h0m0-43h0m24-83h0m3-20h0m-20 177h0m19-155h0m-1 14h0m-15 33h0m3 35h0m4-36h0m-17 101h0m20-134h0m-10 69h0m0 42h0m1-109h0m-5 87h0m0-84h0m23-34h0m-10 25h0m-3 77h0m-22 70h0m14-115h0m-10 74h0m25-100h0m-20 41h0m17-33h0m-18 71h0m1 3h0m11 32h0m2-111h0m-16 80h0m9-44h0m-1-34h0m3 58h0m-2-30h0m5 54h0m2-70h0m-9 28h0m4-83h0m-9 89h0m6 87h0m2-99h0m-3-47h0m11 87h0m-1-86h0m8 12h0m-24 68h0m17-83h0m3-9h0m-24 115h0m15-60h0m0 43h0m4-6h0m-23 60h0m9-58h0m19-99h0m-6-11h0m12 21h0m-4-3h0m-10 137h0m-12 7h0m-3-16h0m24-147h0m-6 14h0m0 95h0m9-109h0m0 17h0m-1 21h0m-18-1h0m32 140h0m-17 6h0m33-11h0m-10 4h0m-4 5h0m23-13h0m40-4h0m20-2h0m-86 21h0m35-9h0m-10-1h0m-16-2h0m-17 5h0m49-11h0m11 0h0m3 2h0m-74 12h0m28-4h0m5-9h0m-20 5h0m-4-6h0m49 5h0m-51 4h0m75-14h0m-57 21h0m31-14h0m-24 1h0m-23 17h0m-6-19h0m12 4h0m71-8h0m-75 5h0m85-2h0m-33 4h0m31-5h0m-88-2h0m9 17h0m-5-16h0m31 4h0m-12 13h0m48-18h0m-71 13h0m58-10h0m-39 15h0m34-14h0m-45 7h0m-9-2h0m33-3h0m-30 9h0m40-7h0m-10 4h0m-32 4h0m20-7h0m12 1h0m-10-5h0" stroke="#4F6FC6" stroke-width="4.7" stroke-linecap="round" fill="none"/>
<path d="M1748 2079h0m4 1h0m-6 39h0m8-97h0m-20 143h0m22-136h0m-10 53h0m7-20h0m-8 74h0m0-40h0m5-24h0m-2 16h0m4-17h0m5-38h0m-22 135h0m6-59h0m1 28h0m0-11h0m11-93h0m3 13h0m-17 96h0m-1-12h0m5-19h0m-4 30h0m16-119h0m-13 124h0m10-75h0m-12 57h0m18-94h0m-11 40h0m8-22h0m-6 40h0m-10 49h0m2-14h0m1-15h0m11-43h0m-17 91h0m19-101h0m-8 61h0m-9 22h0m15-67h0m-13 52h0m11-70h0m-2 56h0m-10 36h0m14-117h0m-12 94h0m-1 13h0m10-34h0m-12 23h0m-2 9h0m15-61h0m4-52h0m-6 47h0m-10 87h0m18-128h0m-22 128h0m4-9h0m12-92h0m2-21h0m-7 89h0m-2 4h0m2-50h0m-9 80h0m-3-5h0m19-117h0m1-15h0m0 16h0m-14 108h0m0-21h0m7-47h0m-4 12h0m4-10h0m8-23h0m-1-34h0m-2 42h0m7-40h0m-7 42h0m1-28h0m1 29h0m-11 56h0m11-60h0m2-42h0m-24 156h0m18-98h0m8-55h0m-24 140h0m2-19h0m24-116h0m-26 137h0m24-126h0m-8 44h0m-2-13h0m4-6h0m5-16h0m-6 0h0m-6 74h0m-7 33h0m-6 23h0m22-131h0m-15 99h0m5-49h0m0 32h0m7-42h0m-6 28h0m0-11h0m11-72h0m-3 41h0m7-49h0m-14 80h0m4-8h0m9-75h0m3 2h0m-15 40h0m0 44h0m5-45h0m-17 84h0m9-21h0m-5 27h0m2-47h0m1 1h0m0 33h0m-5 16h0m11-88h0m-13 95h0m10-75h0m6-5h0m-16 67h0m19-101h0m-1 33h0m-8 1h0m10-44h0m-15 79h0m3 20h0m0-44h0m7-33h0m1 12h0m5-29h0m-16 103h0m18-102h0m-14 93h0m3-19h0m9-66h0m-4-5h0m-9 96h0m10-88h0m-6 50h0m0-25h0m3-33h0m-8 73h0m14-46h0m14-44h0m-8-40h0m7 8h0m-7 66h0m3 8h0m5-82h0m-6 43h0m-10 41h0m3-31h0m9-27h0m-2 45h0m-1 16h0m-12 15h0m6-52h0m7-52h0m-5-6h0m-3 40h0m10 5h0m3-12h0m-7 31h0m-9 11h0m1 10h0m0 35h0m10-32h0m0-44h0m3 44h0m-14 24h0m9-87h0m-3-19h0m11 16h0m0-21h0m-11 93h0m8-8h0m-3-49h0m9-13h0m-5 12h0m-10 68h0m-1-21h0m12-53h0m-1-2h0m-9 4h0m6 80h0m-5-53h0m9-58h0m-92 170h0m-5 7h0m12-7h0m31 7h0m-9-1h0m-35 5h0m33 5h0m-35-10h0m19-1h0m23-6h0m-37 11h0m24 0h0m17 1h0m-8-6h0m-8-7h0m-12-3h0m-7 13h0m-1-14h0m23 7h0m-2 2h0m-6 1h0m-17 1h0m26 1h0m7-7h0m-24 15h0m12-18h0m-3 20h0m15-13h0m-37 16h0m24-19h0m96-3h0m4-15h0m7-14h0m6 23h0m6-13h0m6-16h0m6 11h0m9 13h0m-36-37h0m11 1h0m33 28h0m-60-23h0m21 46h0m24-6h0m17-1h0m48 0h0m6-6h0m-110-50h0m-2 50h0m6-14h0m23-6h0m39 15h0m-53-25h0m20 30h0m-35 11h0m10-7h0m40-29h0" stroke="#A8353A" stroke-width="6.3" stroke-linecap="round" fill="none"/>
<path d="M1748 2079h0m4 1h0m-6 39h0m8-97h0m-20 143h0m22-136h0m-10 53h0m7-20h0m-8 74h0m0-40h0m5-24h0m-2 16h0m4-17h0m5-38h0m-22 135h0m6-59h0m1 28h0m0-11h0m11-93h0m3 13h0m-17 96h0m-1-12h0m5-19h0m-4 30h0m16-119h0m-13 124h0m10-75h0m-12 57h0m18-94h0m-11 40h0m8-22h0m-6 40h0m-10 49h0m2-14h0m1-15h0m11-43h0m-17 91h0m19-101h0m-8 61h0m-9 22h0m15-67h0m-13 52h0m11-70h0m-2 56h0m-10 36h0m14-117h0m-12 94h0m-1 13h0m10-34h0m-12 23h0m-2 9h0m15-61h0m4-52h0m-6 47h0m-10 87h0m18-128h0m-22 128h0m4-9h0m12-92h0m2-21h0m-7 89h0m-2 4h0m2-50h0m-9 80h0m-3-5h0m19-117h0m1-15h0m0 16h0m-14 108h0m0-21h0m7-47h0m-4 12h0m4-10h0m8-23h0m-1-34h0m-2 42h0m7-40h0m-7 42h0m1-28h0m1 29h0m-11 56h0m11-60h0m2-42h0m-24 156h0m18-98h0m8-55h0m-24 140h0m2-19h0m24-116h0m-26 137h0m24-126h0m-8 44h0m-2-13h0m4-6h0m5-16h0m-6 0h0m-6 74h0m-7 33h0m-6 23h0m22-131h0m-15 99h0m5-49h0m0 32h0m7-42h0m-6 28h0m0-11h0m11-72h0m-3 41h0m7-49h0m-14 80h0m4-8h0m9-75h0m3 2h0m-15 40h0m0 44h0m5-45h0m-17 84h0m9-21h0m-5 27h0m2-47h0m1 1h0m0 33h0m-5 16h0m11-88h0m-13 95h0m10-75h0m6-5h0m-16 67h0m19-101h0m-1 33h0m-8 1h0m10-44h0m-15 79h0m3 20h0m0-44h0m7-33h0m1 12h0m5-29h0m-16 103h0m18-102h0m-14 93h0m3-19h0m9-66h0m-4-5h0m-9 96h0m10-88h0m-6 50h0m0-25h0m3-33h0m-8 73h0m14-46h0m14-44h0m-8-40h0m7 8h0m-7 66h0m3 8h0m5-82h0m-6 43h0m-10 41h0m3-31h0m9-27h0m-2 45h0m-1 16h0m-12 15h0m6-52h0m7-52h0m-5-6h0m-3 40h0m10 5h0m3-12h0m-7 31h0m-9 11h0m1 10h0m0 35h0m10-32h0m0-44h0m3 44h0m-14 24h0m9-87h0m-3-19h0m11 16h0m0-21h0m-11 93h0m8-8h0m-3-49h0m9-13h0m-5 12h0m-10 68h0m-1-21h0m12-53h0m-1-2h0m-9 4h0m6 80h0m-5-53h0m9-58h0m-92 170h0m-5 7h0m12-7h0m31 7h0m-9-1h0m-35 5h0m33 5h0m-35-10h0m19-1h0m23-6h0m-37 11h0m24 0h0m17 1h0m-8-6h0m-8-7h0m-12-3h0m-7 13h0m-1-14h0m23 7h0m-2 2h0m-6 1h0m-17 1h0m26 1h0m7-7h0m-24 15h0m12-18h0m-3 20h0m15-13h0m-37 16h0m24-19h0m96-3h0m4-15h0m7-14h0m6 23h0m6-13h0m6-16h0m6 11h0m9 13h0m-36-37h0m11 1h0m33 28h0m-60-23h0m21 46h0m24-6h0m17-1h0m48 0h0m6-6h0m-110-50h0m-2 50h0m6-14h0m23-6h0m39 15h0m-53-25h0m20 30h0m-35 11h0m10-7h0m40-29h0" stroke="#D8494B" stroke-width="4.7" stroke-linecap="round" fill="none"/>
<path d="M1780 2022h0m10-21h0m4 39h0m-3-4h0m-2 28h0m1-59h0m-5-18h0m-1-5h0m3 43h0m-4-31h0m2 39h0m0-20h0m3 28h0m-1-50h0m0 19h0m4 29h0m-7 16h0m3-10h0m3-41h0m-5-20h0m3 74h0m-9-87h0m0 30h0m14 43h0m-10-55h0m0 0h0m1 55h0m7 19h0m-10-37h0m8 20h0m-6-45h0m8 54h0m-4-25h0m9 22h0m-1-1h0m-15-60h0m4-17h0m3 54h0m-5-40h0m-1 16h0m8 51h0m-1-64h0m1 65h0m-5-22h0m-1 20h0m5-21h0m-4-29h0m2 57h0m-4-84h0m7 23h0m-5 5h0m-4 26h0m0-53h0m9 5h0m1 53h0m0-8h0m-2-20h0m-1 33h0m2-65h0m-7 30h0m2-4h0m2-13h0m1 33h0m-1-19h0m-3 36h0m0-26h0m-2-9h0m4 10h0m1 15h0m5-7h0m5 32h0m-10-41h0m-3 11h0m6 11h0m-5-24h0m10 37h0m-12-57h0m2-8h0m0 51h0m3-45h0m-1-7h0m0 45h0m1-35h0m-4 45h0m-3-48h0m7 2h0m-5 42h0m8-30h0m-3-5h0m4 22h0m-4-12h0m-4 33h0m-2-69h0m2 46h0m10 31h0m-10-52h0m5-22h0m0 43h0m-3-3h0m-1-28h0m6 59h0m-2 7h0m0-48h0m-8 7h0m-1-21h0m8 42h0m8 23h0m-7-60h0m9 57h0m-15-52h0m26 75h0m-4-5h0m20 31h0m-8 0h0m8-3h0m-27-28h0m11 27h0m-15-9h0m-5-9h0m3-3h0m9 10h0m-7 8h0m20-13h0m-14-2h0m9 24h0m-19-19h0m31 25h0m-11-25h0m-15-12h0m1 24h0m15 5h0m1-14h0m18 13h0m-16-16h0m-24-18h0m27 32h0m-15-9h0m15 22h0m10-17h0m-7-10h0m-26-16h0m0 23h0m27 15h0m2-17h0m3 9h0m-2 9h0m-20-28h0m-9-18h0m25 31h0m-4 10h0m111-12h0m-27 4h0m9-10h0m-25 22h0m53 20h0m-20-10h0m6-17h0m-29 16h0m12-13h0m26 12h0m-36 2h0m32-11h0m-13 12h0m29-12h0m-57 2h0m-2 6h0m-12-2h0m14-9h0m45 21h0m4-20h0m-23-7h0m7 21h0m34-2h0m-20-17h0m23 7h0m-34 5h0m40-2h0m-5 8h0m-68 5h0m-16-3h0m58-2h0m-27-11h0m38 12h0m-21 2h0m-8-18h0m-9-11h0m30 26h0m9-6h0m-58 12h0m37-8h0m-10-13h0m-5-10h0m27 4h0m-50 6h0m56 19h0m-23-12h0m-32 13h0m51-2h0m4-18h0m0-9h0m-38-4h0m17 5h0m-25 6h0m19 24h0m-10-34h0m-2 13h0m49 5h0m-17 10h0m26-11h0m-58-6h0m55 9h0m-61-9h0m1 14h0m56 5h0m-19-2h0m-25-19h0m-24 8h0m12-4h0m16 1h0m32 17h0m-40-12h0m32-18h0m-20 23h0m15-13h0m-7 27h0m-9-27h0m-14 6h0m9-13h0m12 30h0m-14-24h0m47 11h0m-36-5h0m-20 14h0m-2-7h0m5-22h0m48 17h0m-69 14h0m19-11h0m-10 11h0m15-22h0m-8 19h0m-20-13h0m36-2h0m-12 1h0m27-5h0m13 8h0m-22 19h0m19-18h0m9-11h0m-54 13h0m21 10h0m36-10h0m-60 9h0m-7-3h0m43 7h0m-11-15h0m-16-19h0m-13 7h0m58-2h0m16 19h0m-40 7h0m12 6h0m-19-40h0m9 37h0m-5-4h0m-8-18h0m27-11h0m-35 13h0m26-1h0m25 1h0m-27 13h0m32-15h0m-63-3h0m65 10h0m-61 7h0m30 11h0m-16-24h0m-30 8h0m59-6h0m-20 11h0m32-16h0m-33-5h0m22 4h0m-19 12h0m5-1h0m-5-12h0m-1 19h0m-17-13h0m30-10h0m0-1h0m14 30h0m-19 5h0m-17-7h0m-17-31h0m-7 10h0m3 0h0m24 15h0m12-13h0m19 14h0m-61-17h0m-10 20h0m39-16h0m16 3h0m-17 20h0m21-13h0m-26-11h0m47 4h0m-79-1h0m61-6h0m-42 1h0m-11 10h0m43-4h0m-27 13h0m32-19h0m0 10h0m17 11h0m-24-22h0m22 4h0m-52-3h0m29-10h0m-9 12h0m-22 9h0m36-19h0m-48 25h0m52-13h0m7-8h0m-8 29h0m-8-29h0m-8 26h0m0-25h0m41 17h0m-5 5h0m-58-3h0m46-21h0m-47 19h0m2-19h0m8-9h0m-28 43h0m30-36h0m-19 10h0m91 11h0m12 5h0m14 7h0m-140-24h0m-11 8h0m-10 17h0" stroke="#A07A2E" stroke-width="6.5" stroke-linecap="round" fill="none"/>
<path d="M1780 2022h0m10-21h0m4 39h0m-3-4h0m-2 28h0m1-59h0m-5-18h0m-1-5h0m3 43h0m-4-31h0m2 39h0m0-20h0m3 28h0m-1-50h0m0 19h0m4 29h0m-7 16h0m3-10h0m3-41h0m-5-20h0m3 74h0m-9-87h0m0 30h0m14 43h0m-10-55h0m0 0h0m1 55h0m7 19h0m-10-37h0m8 20h0m-6-45h0m8 54h0m-4-25h0m9 22h0m-1-1h0m-15-60h0m4-17h0m3 54h0m-5-40h0m-1 16h0m8 51h0m-1-64h0m1 65h0m-5-22h0m-1 20h0m5-21h0m-4-29h0m2 57h0m-4-84h0m7 23h0m-5 5h0m-4 26h0m0-53h0m9 5h0m1 53h0m0-8h0m-2-20h0m-1 33h0m2-65h0m-7 30h0m2-4h0m2-13h0m1 33h0m-1-19h0m-3 36h0m0-26h0m-2-9h0m4 10h0m1 15h0m5-7h0m5 32h0m-10-41h0m-3 11h0m6 11h0m-5-24h0m10 37h0m-12-57h0m2-8h0m0 51h0m3-45h0m-1-7h0m0 45h0m1-35h0m-4 45h0m-3-48h0m7 2h0m-5 42h0m8-30h0m-3-5h0m4 22h0m-4-12h0m-4 33h0m-2-69h0m2 46h0m10 31h0m-10-52h0m5-22h0m0 43h0m-3-3h0m-1-28h0m6 59h0m-2 7h0m0-48h0m-8 7h0m-1-21h0m8 42h0m8 23h0m-7-60h0m9 57h0m-15-52h0m26 75h0m-4-5h0m20 31h0m-8 0h0m8-3h0m-27-28h0m11 27h0m-15-9h0m-5-9h0m3-3h0m9 10h0m-7 8h0m20-13h0m-14-2h0m9 24h0m-19-19h0m31 25h0m-11-25h0m-15-12h0m1 24h0m15 5h0m1-14h0m18 13h0m-16-16h0m-24-18h0m27 32h0m-15-9h0m15 22h0m10-17h0m-7-10h0m-26-16h0m0 23h0m27 15h0m2-17h0m3 9h0m-2 9h0m-20-28h0m-9-18h0m25 31h0m-4 10h0m111-12h0m-27 4h0m9-10h0m-25 22h0m53 20h0m-20-10h0m6-17h0m-29 16h0m12-13h0m26 12h0m-36 2h0m32-11h0m-13 12h0m29-12h0m-57 2h0m-2 6h0m-12-2h0m14-9h0m45 21h0m4-20h0m-23-7h0m7 21h0m34-2h0m-20-17h0m23 7h0m-34 5h0m40-2h0m-5 8h0m-68 5h0m-16-3h0m58-2h0m-27-11h0m38 12h0m-21 2h0m-8-18h0m-9-11h0m30 26h0m9-6h0m-58 12h0m37-8h0m-10-13h0m-5-10h0m27 4h0m-50 6h0m56 19h0m-23-12h0m-32 13h0m51-2h0m4-18h0m0-9h0m-38-4h0m17 5h0m-25 6h0m19 24h0m-10-34h0m-2 13h0m49 5h0m-17 10h0m26-11h0m-58-6h0m55 9h0m-61-9h0m1 14h0m56 5h0m-19-2h0m-25-19h0m-24 8h0m12-4h0m16 1h0m32 17h0m-40-12h0m32-18h0m-20 23h0m15-13h0m-7 27h0m-9-27h0m-14 6h0m9-13h0m12 30h0m-14-24h0m47 11h0m-36-5h0m-20 14h0m-2-7h0m5-22h0m48 17h0m-69 14h0m19-11h0m-10 11h0m15-22h0m-8 19h0m-20-13h0m36-2h0m-12 1h0m27-5h0m13 8h0m-22 19h0m19-18h0m9-11h0m-54 13h0m21 10h0m36-10h0m-60 9h0m-7-3h0m43 7h0m-11-15h0m-16-19h0m-13 7h0m58-2h0m16 19h0m-40 7h0m12 6h0m-19-40h0m9 37h0m-5-4h0m-8-18h0m27-11h0m-35 13h0m26-1h0m25 1h0m-27 13h0m32-15h0m-63-3h0m65 10h0m-61 7h0m30 11h0m-16-24h0m-30 8h0m59-6h0m-20 11h0m32-16h0m-33-5h0m22 4h0m-19 12h0m5-1h0m-5-12h0m-1 19h0m-17-13h0m30-10h0m0-1h0m14 30h0m-19 5h0m-17-7h0m-17-31h0m-7 10h0m3 0h0m24 15h0m12-13h0m19 14h0m-61-17h0m-10 20h0m39-16h0m16 3h0m-17 20h0m21-13h0m-26-11h0m47 4h0m-79-1h0m61-6h0m-42 1h0m-11 10h0m43-4h0m-27 13h0m32-19h0m0 10h0m17 11h0m-24-22h0m22 4h0m-52-3h0m29-10h0m-9 12h0m-22 9h0m36-19h0m-48 25h0m52-13h0m7-8h0m-8 29h0m-8-29h0m-8 26h0m0-25h0m41 17h0m-5 5h0m-58-3h0m46-21h0m-47 19h0m2-19h0m8-9h0m-28 43h0m30-36h0m-19 10h0m91 11h0m12 5h0m14 7h0m-140-24h0m-11 8h0m-10 17h0" stroke="#E3AB47" stroke-width="4.9" stroke-linecap="round" fill="none"/>
<path d="M1702 1968V2156.3M1743.4 1968V2156.3M1611 2156.3H2000" stroke="#333" stroke-width="2.2" stroke-dasharray="7 5"/>
<path d="M1589.2 1959.5V2194.5M1588.2 2193.5H2022" stroke="#000" stroke-width="2.2"/>
<path d="M1584.2 2182H1589.2" stroke="#000" stroke-width="1.6"/>
<text x="1582.2" y="2187.5" font-size="15.5" text-anchor="end" fill="#4D4D4D">0</text>
<path d="M1584.2 2117.8H1589.2" stroke="#000" stroke-width="1.6"/>
<text x="1582.2" y="2123.3" font-size="15.5" text-anchor="end" fill="#4D4D4D">5</text>
<path d="M1584.2 2053.6H1589.2" stroke="#000" stroke-width="1.6"/>
<text x="1582.2" y="2059.1" font-size="15.5" text-anchor="end" fill="#4D4D4D">10</text>
<path d="M1584.2 1989.4H1589.2" stroke="#000" stroke-width="1.6"/>
<text x="1582.2" y="1994.9" font-size="15.5" text-anchor="end" fill="#4D4D4D">15</text>
<path d="M1619.1 2193.5V2198.5" stroke="#000" stroke-width="1.6"/>
<text x="1619.1" y="2211.4" font-size="15.5" text-anchor="middle" fill="#4D4D4D">−5</text>
<path d="M1722.7 2193.5V2198.5" stroke="#000" stroke-width="1.6"/>
<text x="1722.7" y="2211.4" font-size="15.5" text-anchor="middle" fill="#4D4D4D">0</text>
<path d="M1826.3 2193.5V2198.5" stroke="#000" stroke-width="1.6"/>
<text x="1826.3" y="2211.4" font-size="15.5" text-anchor="middle" fill="#4D4D4D">5</text>
<path d="M1929.9 2193.5V2198.5" stroke="#000" stroke-width="1.6"/>
<text x="1929.9" y="2211.4" font-size="15.5" text-anchor="middle" fill="#4D4D4D">10</text>
<text x="1806" y="2227.9" font-size="16" text-anchor="middle" textLength="121.5" lengthAdjust="spacingAndGlyphs">Log2 fold−change</text>
<rect x="1868.3" y="1967.5" width="153.7" height="27.6" fill="#fff" stroke="#AAAAAA" stroke-width="1"/>
<text x="1945.1" y="1979" font-size="12.5" text-anchor="middle">ORF type</text>
<circle cx="1874.8" cy="1988" r="3.6" fill="#5070C8"/>
<text x="1879.8" y="1992.3" font-size="12.5">Ctrl</text>
<circle cx="1908.1" cy="1988" r="3.6" fill="#D9484A"/>
<text x="1914.3" y="1992.3" font-size="12.5" font-style="italic">LRRC23</text>
<circle cx="1970.3" cy="1988" r="3.6" fill="#E2AA45"/>
<text x="1976.3" y="1992.3" font-size="12.5" font-style="italic">OR7A10</text>
<rect x="1872.3" y="2166" width="139.7" height="16" fill="#fff" stroke="#AAAAAA" stroke-width="1"/>
<text x="1942.1" y="2178.5" font-size="13" text-anchor="middle" textLength="131.7" lengthAdjust="spacingAndGlyphs">Design = ~ 6DPI + Donor</text>
<text x="-0.8" y="2264.9" font-size="58" font-weight="bold">o</text>
<text x="77.5" y="2286.6" font-size="30">Mini-screen results (Gene-level)</text>
<defs><linearGradient id="viridis" x1="0" y1="0" x2="0" y2="1"><stop offset="0" stop-color="#E6F04A"/><stop offset="0.25" stop-color="#7CD250"/><stop offset="0.5" stop-color="#22A884"/><stop offset="0.75" stop-color="#2C5F8A"/><stop offset="1" stop-color="#46085C"/></linearGradient></defs>
<text x="129" y="2326.5" font-size="22.6">Screen selection (3-DPI vs 0-DPI)</text>
<path d="M129.9 2353.5V2406M129.9 2422.5V2531.4" stroke="#000" stroke-width="2.1"/>
<path d="M122.9 2413.0L136.9 2405.0M122.9 2421.0L136.9 2413.0" stroke="#111" stroke-width="1.8" fill="none"/>
<path d="M128.9 2530.4H915" stroke="#000" stroke-width="2.1"/>
<path d="M123.9 2448.6H129.9" stroke="#000" stroke-width="1.7"/>
<text x="117.9" y="2456.6" font-size="22.6" text-anchor="end" fill="#4D4D4D">0.50</text>
<path d="M123.9 2488.5H129.9" stroke="#000" stroke-width="1.7"/>
<text x="117.9" y="2496.5" font-size="22.6" text-anchor="end" fill="#4D4D4D">0.25</text>
<path d="M123.9 2528H129.9" stroke="#000" stroke-width="1.7"/>
<text x="117.9" y="2536" font-size="22.6" text-anchor="end" fill="#4D4D4D">0.00</text>
<circle cx="157.8" cy="2364.5" r="18.5" fill="#EBF04A" stroke="#111" stroke-width="1.2"/>
<path d="M181.8 2385L201.3 2410.5" stroke="#222" stroke-width="1.2"/>
<text x="186.3" y="2428.5" font-size="19.6">Adj. p value &lt; 1e-20</text>
<path d="M177 2523h0m19 0h0m19 0h0m19 0h0m20 0h0m19 0h0m19 0h0m19 0h0m19 0h0m19 0h0m19 0h0m19 0h0m20 0h0m19 0h0m19 0h0m19 0h0m19 0h0m19 0h0m19 0h0m20 0h0m19 0h0m19 0h0m19 0h0m19 0h0m19 0h0m19 0h0m20 0h0m19 0h0m19 0h0m19 0h0m19 0h0m19 0h0m19 0h0m20 0h0m19 0h0m19 0h0m19 0h0m19 0h0m19 0h0" stroke="#440154" stroke-width="9.2" stroke-linecap="round" fill="none"/>
<path d="M157.8 2530.4V2535.4" stroke="#4D4D4D" stroke-width="1.5"/>
<text x="165.6" y="2538" font-size="22.3" text-anchor="end" fill="#4D4D4D" font-style="italic" transform="rotate(-90 165.6 2538)">OR7A10</text>
<path d="M176.9 2530.4V2535.4" stroke="#4D4D4D" stroke-width="1.5"/>
<text x="184.7" y="2538" font-size="22.3" text-anchor="end" fill="#4D4D4D" font-style="italic" transform="rotate(-90 184.7 2538)">APLN</text>
<path d="M196.1 2530.4V2535.4" stroke="#4D4D4D" stroke-width="1.5"/>
<text x="203.9" y="2538" font-size="22.3" text-anchor="end" fill="#4D4D4D" font-style="italic" transform="rotate(-90 203.9 2538)">DUSP28</text>
<path d="M215.2 2530.4V2535.4" stroke="#4D4D4D" stroke-width="1.5"/>
<text x="223" y="2538" font-size="22.3" text-anchor="end" fill="#4D4D4D" font-style="italic" transform="rotate(-90 223 2538)">KRTAP6−3</text>
<path d="M234.4 2530.4V2535.4" stroke="#4D4D4D" stroke-width="1.5"/>
<text x="242.2" y="2538" font-size="22.3" text-anchor="end" fill="#4D4D4D" font-style="italic" transform="rotate(-90 242.2 2538)">EGFP</text>
<path d="M253.5 2530.4V2535.4" stroke="#4D4D4D" stroke-width="1.5"/>
<text x="261.3" y="2538" font-size="22.3" text-anchor="end" fill="#4D4D4D" font-style="italic" transform="rotate(-90 261.3 2538)">OR2T10</text>
<path d="M272.6 2530.4V2535.4" stroke="#4D4D4D" stroke-width="1.5"/>
<text x="280.4" y="2538" font-size="22.3" text-anchor="end" fill="#4D4D4D" font-style="italic" transform="rotate(-90 280.4 2538)">S100P</text>
<path d="M291.8 2530.4V2535.4" stroke="#4D4D4D" stroke-width="1.5"/>
<text x="299.6" y="2538" font-size="22.3" text-anchor="end" fill="#4D4D4D" font-style="italic" transform="rotate(-90 299.6 2538)">HPRT1</text>
<path d="M310.9 2530.4V2535.4" stroke="#4D4D4D" stroke-width="1.5"/>
<text x="318.7" y="2538" font-size="22.3" text-anchor="end" fill="#4D4D4D" font-style="italic" transform="rotate(-90 318.7 2538)">YWHAQ</text>
<path d="M330.1 2530.4V2535.4" stroke="#4D4D4D" stroke-width="1.5"/>
<text x="337.9" y="2538" font-size="22.3" text-anchor="end" fill="#4D4D4D" font-style="italic" transform="rotate(-90 337.9 2538)">ENSA</text>
<path d="M349.2 2530.4V2535.4" stroke="#4D4D4D" stroke-width="1.5"/>
<text x="357" y="2538" font-size="22.3" text-anchor="end" fill="#4D4D4D" font-style="italic" transform="rotate(-90 357 2538)">RPS8</text>
<path d="M368.3 2530.4V2535.4" stroke="#4D4D4D" stroke-width="1.5"/>
<text x="376.1" y="2538" font-size="22.3" text-anchor="end" fill="#4D4D4D" font-style="italic" transform="rotate(-90 376.1 2538)">LAMTOR5</text>
<path d="M387.5 2530.4V2535.4" stroke="#4D4D4D" stroke-width="1.5"/>
<text x="395.3" y="2538" font-size="22.3" text-anchor="end" fill="#4D4D4D" font-style="italic" transform="rotate(-90 395.3 2538)">GPR31</text>
<path d="M406.6 2530.4V2535.4" stroke="#4D4D4D" stroke-width="1.5"/>
<text x="414.4" y="2538" font-size="22.3" text-anchor="end" fill="#4D4D4D" font-style="italic" transform="rotate(-90 414.4 2538)">HIST1H2BN</text>
<path d="M425.8 2530.4V2535.4" stroke="#4D4D4D" stroke-width="1.5"/>
<text x="433.6" y="2538" font-size="22.3" text-anchor="end" fill="#4D4D4D" font-style="italic" transform="rotate(-90 433.6 2538)">C19orf71</text>
<path d="M444.9 2530.4V2535.4" stroke="#4D4D4D" stroke-width="1.5"/>
<text x="452.7" y="2538" font-size="22.3" text-anchor="end" fill="#4D4D4D" font-style="italic" transform="rotate(-90 452.7 2538)">SHFM1</text>
<path d="M464 2530.4V2535.4" stroke="#4D4D4D" stroke-width="1.5"/>
<text x="471.8" y="2538" font-size="22.3" text-anchor="end" fill="#4D4D4D" font-style="italic" transform="rotate(-90 471.8 2538)">CYB5B</text>
<path d="M483.2 2530.4V2535.4" stroke="#4D4D4D" stroke-width="1.5"/>
<text x="491" y="2538" font-size="22.3" text-anchor="end" fill="#4D4D4D" font-style="italic" transform="rotate(-90 491 2538)">CNPY1</text>
<path d="M502.3 2530.4V2535.4" stroke="#4D4D4D" stroke-width="1.5"/>
<text x="510.1" y="2538" font-size="22.3" text-anchor="end" fill="#4D4D4D" font-style="italic" transform="rotate(-90 510.1 2538)">UBE2L3</text>
<path d="M521.5 2530.4V2535.4" stroke="#4D4D4D" stroke-width="1.5"/>
<text x="529.3" y="2538" font-size="22.3" text-anchor="end" fill="#4D4D4D" font-style="italic" transform="rotate(-90 529.3 2538)">CLDN3</text>
<path d="M540.6 2530.4V2535.4" stroke="#4D4D4D" stroke-width="1.5"/>
<text x="548.4" y="2538" font-size="22.3" text-anchor="end" fill="#4D4D4D" font-style="italic" transform="rotate(-90 548.4 2538)">ECFP</text>
<path d="M559.7 2530.4V2535.4" stroke="#4D4D4D" stroke-width="1.5"/>
<text x="567.5" y="2538" font-size="22.3" text-anchor="end" fill="#4D4D4D" font-style="italic" transform="rotate(-90 567.5 2538)">MSC</text>
<path d="M578.9 2530.4V2535.4" stroke="#4D4D4D" stroke-width="1.5"/>
<text x="586.7" y="2538" font-size="22.3" text-anchor="end" fill="#4D4D4D" font-style="italic" transform="rotate(-90 586.7 2538)">RFP</text>
<path d="M598 2530.4V2535.4" stroke="#4D4D4D" stroke-width="1.5"/>
<text x="605.8" y="2538" font-size="22.3" text-anchor="end" fill="#4D4D4D" font-style="italic" transform="rotate(-90 605.8 2538)">TIPRL</text>
<path d="M617.2 2530.4V2535.4" stroke="#4D4D4D" stroke-width="1.5"/>
<text x="625" y="2538" font-size="22.3" text-anchor="end" fill="#4D4D4D" font-style="italic" transform="rotate(-90 625 2538)">OSR1</text>
<path d="M636.3 2530.4V2535.4" stroke="#4D4D4D" stroke-width="1.5"/>
<text x="644.1" y="2538" font-size="22.3" text-anchor="end" fill="#4D4D4D" font-style="italic" transform="rotate(-90 644.1 2538)">PDGFB</text>
<path d="M655.4 2530.4V2535.4" stroke="#4D4D4D" stroke-width="1.5"/>
<text x="663.2" y="2538" font-size="22.3" text-anchor="end" fill="#4D4D4D" font-style="italic" transform="rotate(-90 663.2 2538)">OR4N5</text>
<path d="M674.6 2530.4V2535.4" stroke="#4D4D4D" stroke-width="1.5"/>
<text x="682.4" y="2538" font-size="22.3" text-anchor="end" fill="#4D4D4D" font-style="italic" transform="rotate(-90 682.4 2538)">DCUN1D4</text>
<path d="M693.7 2530.4V2535.4" stroke="#4D4D4D" stroke-width="1.5"/>
<text x="701.5" y="2538" font-size="22.3" text-anchor="end" fill="#4D4D4D" font-style="italic" transform="rotate(-90 701.5 2538)">LRRC23</text>
<path d="M712.9 2530.4V2535.4" stroke="#4D4D4D" stroke-width="1.5"/>
<text x="720.7" y="2538" font-size="22.3" text-anchor="end" fill="#4D4D4D" font-style="italic" transform="rotate(-90 720.7 2538)">APIP</text>
<path d="M732 2530.4V2535.4" stroke="#4D4D4D" stroke-width="1.5"/>
<text x="739.8" y="2538" font-size="22.3" text-anchor="end" fill="#4D4D4D" font-style="italic" transform="rotate(-90 739.8 2538)">TAS2R8</text>
<path d="M751.1 2530.4V2535.4" stroke="#4D4D4D" stroke-width="1.5"/>
<text x="758.9" y="2538" font-size="22.3" text-anchor="end" fill="#4D4D4D" font-style="italic" transform="rotate(-90 758.9 2538)">MMACHC</text>
<path d="M770.3 2530.4V2535.4" stroke="#4D4D4D" stroke-width="1.5"/>
<text x="778.1" y="2538" font-size="22.3" text-anchor="end" fill="#4D4D4D" font-style="italic" transform="rotate(-90 778.1 2538)">MEST</text>
<path d="M789.4 2530.4V2535.4" stroke="#4D4D4D" stroke-width="1.5"/>
<text x="797.2" y="2538" font-size="22.3" text-anchor="end" fill="#4D4D4D" font-style="italic" transform="rotate(-90 797.2 2538)">C16orf52</text>
<path d="M808.6 2530.4V2535.4" stroke="#4D4D4D" stroke-width="1.5"/>
<text x="816.4" y="2538" font-size="22.3" text-anchor="end" fill="#4D4D4D" font-style="italic" transform="rotate(-90 816.4 2538)">SLC31A1</text>
<path d="M827.7 2530.4V2535.4" stroke="#4D4D4D" stroke-width="1.5"/>
<text x="835.5" y="2538" font-size="22.3" text-anchor="end" fill="#4D4D4D" font-style="italic" transform="rotate(-90 835.5 2538)">BFP2</text>
<path d="M846.8 2530.4V2535.4" stroke="#4D4D4D" stroke-width="1.5"/>
<text x="854.6" y="2538" font-size="22.3" text-anchor="end" fill="#4D4D4D" font-style="italic" transform="rotate(-90 854.6 2538)">EYFP</text>
<path d="M866 2530.4V2535.4" stroke="#4D4D4D" stroke-width="1.5"/>
<text x="873.8" y="2538" font-size="22.3" text-anchor="end" fill="#4D4D4D" font-style="italic" transform="rotate(-90 873.8 2538)">ART1</text>
<path d="M885.1 2530.4V2535.4" stroke="#4D4D4D" stroke-width="1.5"/>
<text x="892.9" y="2538" font-size="22.3" text-anchor="end" fill="#4D4D4D" font-style="italic" transform="rotate(-90 892.9 2538)">IL6</text>
<path d="M904.3 2530.4V2535.4" stroke="#4D4D4D" stroke-width="1.5"/>
<text x="912.1" y="2538" font-size="22.3" text-anchor="end" fill="#4D4D4D" font-style="italic" transform="rotate(-90 912.1 2538)">RAB8B</text>
<text x="52.9" y="2463" font-size="21.5" text-anchor="middle" transform="rotate(-90 52.9 2463)">Adj. p value (−log10)</text>
<text x="448" y="2701.5" font-size="22.5" text-anchor="middle">Gene ORF</text>
<rect x="695.8" y="2326.9" width="219.2" height="173.1" fill="#fff" stroke="#111" stroke-width="1.5"/>
<text x="708.8" y="2356.3" font-size="19.5">Adj. p val</text>
<text x="708.8" y="2374.6" font-size="19.5">(-log10)</text>
<rect x="705.6" y="2386.9" width="47.2" height="107" fill="url(#viridis)"/>
<path d="M705.6 2397.3H714.8M743.8 2397.3H752.8" stroke="#fff" stroke-width="1"/>
<text x="758.8" y="2404.8" font-size="20.5">1.00</text>
<path d="M705.6 2422.4H714.8M743.8 2422.4H752.8" stroke="#fff" stroke-width="1"/>
<text x="758.8" y="2429.9" font-size="20.5">0.75</text>
<path d="M705.6 2447.5H714.8M743.8 2447.5H752.8" stroke="#fff" stroke-width="1"/>
<text x="758.8" y="2455" font-size="20.5">0.50</text>
<path d="M705.6 2472.6H714.8M743.8 2472.6H752.8" stroke="#fff" stroke-width="1"/>
<text x="758.8" y="2480.1" font-size="20.5">0.25</text>
<text x="826.2" y="2357.5" font-size="19.5">SAMBA</text>
<text x="826.2" y="2375.9" font-size="19.5">score</text>
<circle cx="845.8" cy="2402.2" r="11.5" fill="#000"/>
<text x="869.8" y="2409.7" font-size="20.5">50</text>
<circle cx="845.8" cy="2439.4" r="13.5" fill="#000"/>
<text x="869.8" y="2446.9" font-size="20.5">100</text>
<circle cx="845.8" cy="2476.9" r="17.5" fill="#000"/>
<text x="869.8" y="2484.4" font-size="20.5">200</text>
<text x="1133" y="2326.5" font-size="22.6">Screen selection (6-DPI vs 0-DPI)</text>
<path d="M1123.9 2353.5V2406M1123.9 2422.5V2531.4" stroke="#000" stroke-width="2.1"/>
<path d="M1116.9 2413.0L1130.9 2405.0M1116.9 2421.0L1130.9 2413.0" stroke="#111" stroke-width="1.8" fill="none"/>
<path d="M1122.9 2530.4H1906" stroke="#000" stroke-width="2.1"/>
<path d="M1117.9 2448.6H1123.9" stroke="#000" stroke-width="1.7"/>
<text x="1111.9" y="2456.6" font-size="22.6" text-anchor="end" fill="#4D4D4D">0.50</text>
<path d="M1117.9 2488.5H1123.9" stroke="#000" stroke-width="1.7"/>
<text x="1111.9" y="2496.5" font-size="22.6" text-anchor="end" fill="#4D4D4D">0.25</text>
<path d="M1117.9 2528H1123.9" stroke="#000" stroke-width="1.7"/>
<text x="1111.9" y="2536" font-size="22.6" text-anchor="end" fill="#4D4D4D">0.00</text>
<circle cx="1151.4" cy="2364.5" r="18.5" fill="#EBF04A" stroke="#111" stroke-width="1.2"/>
<path d="M1175.4 2385L1194.9 2410.5" stroke="#222" stroke-width="1.2"/>
<text x="1179.9" y="2428.5" font-size="19.6">Adj. p value &lt; 1e-20</text>
<path d="M1171 2523h0m19 0h0m19 0h0m19 0h0m19 0h0m20 0h0m19 0h0m19 0h0m19 0h0m19 0h0m19 0h0m20 0h0m19 0h0m19 0h0m19 0h0m19 0h0m20 0h0m19 0h0m19 0h0m19 0h0m19 0h0m20 0h0m19 0h0m19 0h0m19 0h0m19 0h0m20 0h0m19 0h0m19 0h0m19 0h0m19 0h0m19 0h0m20 0h0m19 0h0m19 0h0m19 0h0m19 0h0m20 0h0m19 0h0" stroke="#440154" stroke-width="9.2" stroke-linecap="round" fill="none"/>
<path d="M1151.4 2530.4V2535.4" stroke="#4D4D4D" stroke-width="1.5"/>
<text x="1159.2" y="2538" font-size="22.3" text-anchor="end" fill="#4D4D4D" font-style="italic" transform="rotate(-90 1159.2 2538)">OR7A10</text>
<path d="M1170.6 2530.4V2535.4" stroke="#4D4D4D" stroke-width="1.5"/>
<text x="1178.4" y="2538" font-size="22.3" text-anchor="end" fill="#4D4D4D" font-style="italic" transform="rotate(-90 1178.4 2538)">LRRC23</text>
<path d="M1189.8 2530.4V2535.4" stroke="#4D4D4D" stroke-width="1.5"/>
<text x="1197.6" y="2538" font-size="22.3" text-anchor="end" fill="#4D4D4D" font-style="italic" transform="rotate(-90 1197.6 2538)">APLN</text>
<path d="M1209 2530.4V2535.4" stroke="#4D4D4D" stroke-width="1.5"/>
<text x="1216.8" y="2538" font-size="22.3" text-anchor="end" fill="#4D4D4D" font-style="italic" transform="rotate(-90 1216.8 2538)">HIST1H2BN</text>
<path d="M1228.2 2530.4V2535.4" stroke="#4D4D4D" stroke-width="1.5"/>
<text x="1236" y="2538" font-size="22.3" text-anchor="end" fill="#4D4D4D" font-style="italic" transform="rotate(-90 1236 2538)">KRTAP6−3</text>
<path d="M1247.4 2530.4V2535.4" stroke="#4D4D4D" stroke-width="1.5"/>
<text x="1255.2" y="2538" font-size="22.3" text-anchor="end" fill="#4D4D4D" font-style="italic" transform="rotate(-90 1255.2 2538)">S100P</text>
<path d="M1266.5 2530.4V2535.4" stroke="#4D4D4D" stroke-width="1.5"/>
<text x="1274.3" y="2538" font-size="22.3" text-anchor="end" fill="#4D4D4D" font-style="italic" transform="rotate(-90 1274.3 2538)">DUSP28</text>
<path d="M1285.7 2530.4V2535.4" stroke="#4D4D4D" stroke-width="1.5"/>
<text x="1293.5" y="2538" font-size="22.3" text-anchor="end" fill="#4D4D4D" font-style="italic" transform="rotate(-90 1293.5 2538)">PDGFB</text>
<path d="M1304.9 2530.4V2535.4" stroke="#4D4D4D" stroke-width="1.5"/>
<text x="1312.7" y="2538" font-size="22.3" text-anchor="end" fill="#4D4D4D" font-style="italic" transform="rotate(-90 1312.7 2538)">ENSA</text>
<path d="M1324.1 2530.4V2535.4" stroke="#4D4D4D" stroke-width="1.5"/>
<text x="1331.9" y="2538" font-size="22.3" text-anchor="end" fill="#4D4D4D" font-style="italic" transform="rotate(-90 1331.9 2538)">CNPY1</text>
<path d="M1343.3 2530.4V2535.4" stroke="#4D4D4D" stroke-width="1.5"/>
<text x="1351.1" y="2538" font-size="22.3" text-anchor="end" fill="#4D4D4D" font-style="italic" transform="rotate(-90 1351.1 2538)">YWHAQ</text>
<path d="M1362.5 2530.4V2535.4" stroke="#4D4D4D" stroke-width="1.5"/>
<text x="1370.3" y="2538" font-size="22.3" text-anchor="end" fill="#4D4D4D" font-style="italic" transform="rotate(-90 1370.3 2538)">MSC</text>
<path d="M1381.7 2530.4V2535.4" stroke="#4D4D4D" stroke-width="1.5"/>
<text x="1389.5" y="2538" font-size="22.3" text-anchor="end" fill="#4D4D4D" font-style="italic" transform="rotate(-90 1389.5 2538)">RPS8</text>
<path d="M1400.9 2530.4V2535.4" stroke="#4D4D4D" stroke-width="1.5"/>
<text x="1408.7" y="2538" font-size="22.3" text-anchor="end" fill="#4D4D4D" font-style="italic" transform="rotate(-90 1408.7 2538)">SHFM1</text>
<path d="M1420.1 2530.4V2535.4" stroke="#4D4D4D" stroke-width="1.5"/>
<text x="1427.9" y="2538" font-size="22.3" text-anchor="end" fill="#4D4D4D" font-style="italic" transform="rotate(-90 1427.9 2538)">CYB5B</text>
<path d="M1439.2 2530.4V2535.4" stroke="#4D4D4D" stroke-width="1.5"/>
<text x="1447" y="2538" font-size="22.3" text-anchor="end" fill="#4D4D4D" font-style="italic" transform="rotate(-90 1447 2538)">BFP2</text>
<path d="M1458.4 2530.4V2535.4" stroke="#4D4D4D" stroke-width="1.5"/>
<text x="1466.2" y="2538" font-size="22.3" text-anchor="end" fill="#4D4D4D" font-style="italic" transform="rotate(-90 1466.2 2538)">HPRT1</text>
<path d="M1477.6 2530.4V2535.4" stroke="#4D4D4D" stroke-width="1.5"/>
<text x="1485.4" y="2538" font-size="22.3" text-anchor="end" fill="#4D4D4D" font-style="italic" transform="rotate(-90 1485.4 2538)">OR2T10</text>
<path d="M1496.8 2530.4V2535.4" stroke="#4D4D4D" stroke-width="1.5"/>
<text x="1504.6" y="2538" font-size="22.3" text-anchor="end" fill="#4D4D4D" font-style="italic" transform="rotate(-90 1504.6 2538)">IL6</text>
<path d="M1516 2530.4V2535.4" stroke="#4D4D4D" stroke-width="1.5"/>
<text x="1523.8" y="2538" font-size="22.3" text-anchor="end" fill="#4D4D4D" font-style="italic" transform="rotate(-90 1523.8 2538)">TIPRL</text>
<path d="M1535.2 2530.4V2535.4" stroke="#4D4D4D" stroke-width="1.5"/>
<text x="1543" y="2538" font-size="22.3" text-anchor="end" fill="#4D4D4D" font-style="italic" transform="rotate(-90 1543 2538)">MMACHC</text>
<path d="M1554.4 2530.4V2535.4" stroke="#4D4D4D" stroke-width="1.5"/>
<text x="1562.2" y="2538" font-size="22.3" text-anchor="end" fill="#4D4D4D" font-style="italic" transform="rotate(-90 1562.2 2538)">LAMTOR5</text>
<path d="M1573.6 2530.4V2535.4" stroke="#4D4D4D" stroke-width="1.5"/>
<text x="1581.4" y="2538" font-size="22.3" text-anchor="end" fill="#4D4D4D" font-style="italic" transform="rotate(-90 1581.4 2538)">OR4N5</text>
<path d="M1592.8 2530.4V2535.4" stroke="#4D4D4D" stroke-width="1.5"/>
<text x="1600.6" y="2538" font-size="22.3" text-anchor="end" fill="#4D4D4D" font-style="italic" transform="rotate(-90 1600.6 2538)">SLC31A1</text>
<path d="M1612 2530.4V2535.4" stroke="#4D4D4D" stroke-width="1.5"/>
<text x="1619.8" y="2538" font-size="22.3" text-anchor="end" fill="#4D4D4D" font-style="italic" transform="rotate(-90 1619.8 2538)">DCUN1D4</text>
<path d="M1631.2 2530.4V2535.4" stroke="#4D4D4D" stroke-width="1.5"/>
<text x="1639" y="2538" font-size="22.3" text-anchor="end" fill="#4D4D4D" font-style="italic" transform="rotate(-90 1639 2538)">C16orf52</text>
<path d="M1650.3 2530.4V2535.4" stroke="#4D4D4D" stroke-width="1.5"/>
<text x="1658.1" y="2538" font-size="22.3" text-anchor="end" fill="#4D4D4D" font-style="italic" transform="rotate(-90 1658.1 2538)">TAS2R8</text>
<path d="M1669.5 2530.4V2535.4" stroke="#4D4D4D" stroke-width="1.5"/>
<text x="1677.3" y="2538" font-size="22.3" text-anchor="end" fill="#4D4D4D" font-style="italic" transform="rotate(-90 1677.3 2538)">EGFP</text>
<path d="M1688.7 2530.4V2535.4" stroke="#4D4D4D" stroke-width="1.5"/>
<text x="1696.5" y="2538" font-size="22.3" text-anchor="end" fill="#4D4D4D" font-style="italic" transform="rotate(-90 1696.5 2538)">MEST</text>
<path d="M1707.9 2530.4V2535.4" stroke="#4D4D4D" stroke-width="1.5"/>
<text x="1715.7" y="2538" font-size="22.3" text-anchor="end" fill="#4D4D4D" font-style="italic" transform="rotate(-90 1715.7 2538)">APIP</text>
<path d="M1727.1 2530.4V2535.4" stroke="#4D4D4D" stroke-width="1.5"/>
<text x="1734.9" y="2538" font-size="22.3" text-anchor="end" fill="#4D4D4D" font-style="italic" transform="rotate(-90 1734.9 2538)">UBE2L3</text>
<path d="M1746.3 2530.4V2535.4" stroke="#4D4D4D" stroke-width="1.5"/>
<text x="1754.1" y="2538" font-size="22.3" text-anchor="end" fill="#4D4D4D" font-style="italic" transform="rotate(-90 1754.1 2538)">GPR31</text>
<path d="M1765.5 2530.4V2535.4" stroke="#4D4D4D" stroke-width="1.5"/>
<text x="1773.3" y="2538" font-size="22.3" text-anchor="end" fill="#4D4D4D" font-style="italic" transform="rotate(-90 1773.3 2538)">ART1</text>
<path d="M1784.7 2530.4V2535.4" stroke="#4D4D4D" stroke-width="1.5"/>
<text x="1792.5" y="2538" font-size="22.3" text-anchor="end" fill="#4D4D4D" font-style="italic" transform="rotate(-90 1792.5 2538)">C19orf71</text>
<path d="M1803.9 2530.4V2535.4" stroke="#4D4D4D" stroke-width="1.5"/>
<text x="1811.7" y="2538" font-size="22.3" text-anchor="end" fill="#4D4D4D" font-style="italic" transform="rotate(-90 1811.7 2538)">OSR1</text>
<path d="M1823.1 2530.4V2535.4" stroke="#4D4D4D" stroke-width="1.5"/>
<text x="1830.9" y="2538" font-size="22.3" text-anchor="end" fill="#4D4D4D" font-style="italic" transform="rotate(-90 1830.9 2538)">RFP</text>
<path d="M1842.2 2530.4V2535.4" stroke="#4D4D4D" stroke-width="1.5"/>
<text x="1850" y="2538" font-size="22.3" text-anchor="end" fill="#4D4D4D" font-style="italic" transform="rotate(-90 1850 2538)">EYFP</text>
<path d="M1861.4 2530.4V2535.4" stroke="#4D4D4D" stroke-width="1.5"/>
<text x="1869.2" y="2538" font-size="22.3" text-anchor="end" fill="#4D4D4D" font-style="italic" transform="rotate(-90 1869.2 2538)">CLDN3</text>
<path d="M1880.6 2530.4V2535.4" stroke="#4D4D4D" stroke-width="1.5"/>
<text x="1888.4" y="2538" font-size="22.3" text-anchor="end" fill="#4D4D4D" font-style="italic" transform="rotate(-90 1888.4 2538)">RAB8B</text>
<path d="M1899.8 2530.4V2535.4" stroke="#4D4D4D" stroke-width="1.5"/>
<text x="1907.6" y="2538" font-size="22.3" text-anchor="end" fill="#4D4D4D" font-style="italic" transform="rotate(-90 1907.6 2538)">ECFP</text>
<text x="1046.9" y="2463" font-size="21.5" text-anchor="middle" transform="rotate(-90 1046.9 2463)">Adj. p value (−log10)</text>
<text x="1507" y="2701.5" font-size="22.5" text-anchor="middle">Gene ORF</text>
<rect x="1690.5" y="2333.5" width="218.9" height="173.6" fill="#fff" stroke="#111" stroke-width="1.5"/>
<text x="1703.5" y="2362.9" font-size="19.5">Adj. p val</text>
<text x="1703.5" y="2381.2" font-size="19.5">(-log10)</text>
<rect x="1700.3" y="2393.5" width="47.2" height="107" fill="url(#viridis)"/>
<path d="M1700.3 2403.9H1709.5M1738.5 2403.9H1747.5" stroke="#fff" stroke-width="1"/>
<text x="1753.5" y="2411.4" font-size="20.5">1.00</text>
<path d="M1700.3 2429H1709.5M1738.5 2429H1747.5" stroke="#fff" stroke-width="1"/>
<text x="1753.5" y="2436.5" font-size="20.5">0.75</text>
<path d="M1700.3 2454.1H1709.5M1738.5 2454.1H1747.5" stroke="#fff" stroke-width="1"/>
<text x="1753.5" y="2461.6" font-size="20.5">0.50</text>
<path d="M1700.3 2479.2H1709.5M1738.5 2479.2H1747.5" stroke="#fff" stroke-width="1"/>
<text x="1753.5" y="2486.7" font-size="20.5">0.25</text>
<text x="1820.9" y="2364.1" font-size="19.5">SAMBA</text>
<text x="1820.9" y="2382.5" font-size="19.5">score</text>
<circle cx="1840.5" cy="2408.8" r="12.8" fill="#000"/>
<text x="1864.5" y="2416.3" font-size="20.5">100</text>
<circle cx="1840.5" cy="2446" r="16.3" fill="#000"/>
<text x="1864.5" y="2453.5" font-size="20.5">200</text>
<circle cx="1840.5" cy="2483.5" r="19.3" fill="#000"/>
<text x="1864.5" y="2491" font-size="20.5">300</text>
</svg>
</body></html>
